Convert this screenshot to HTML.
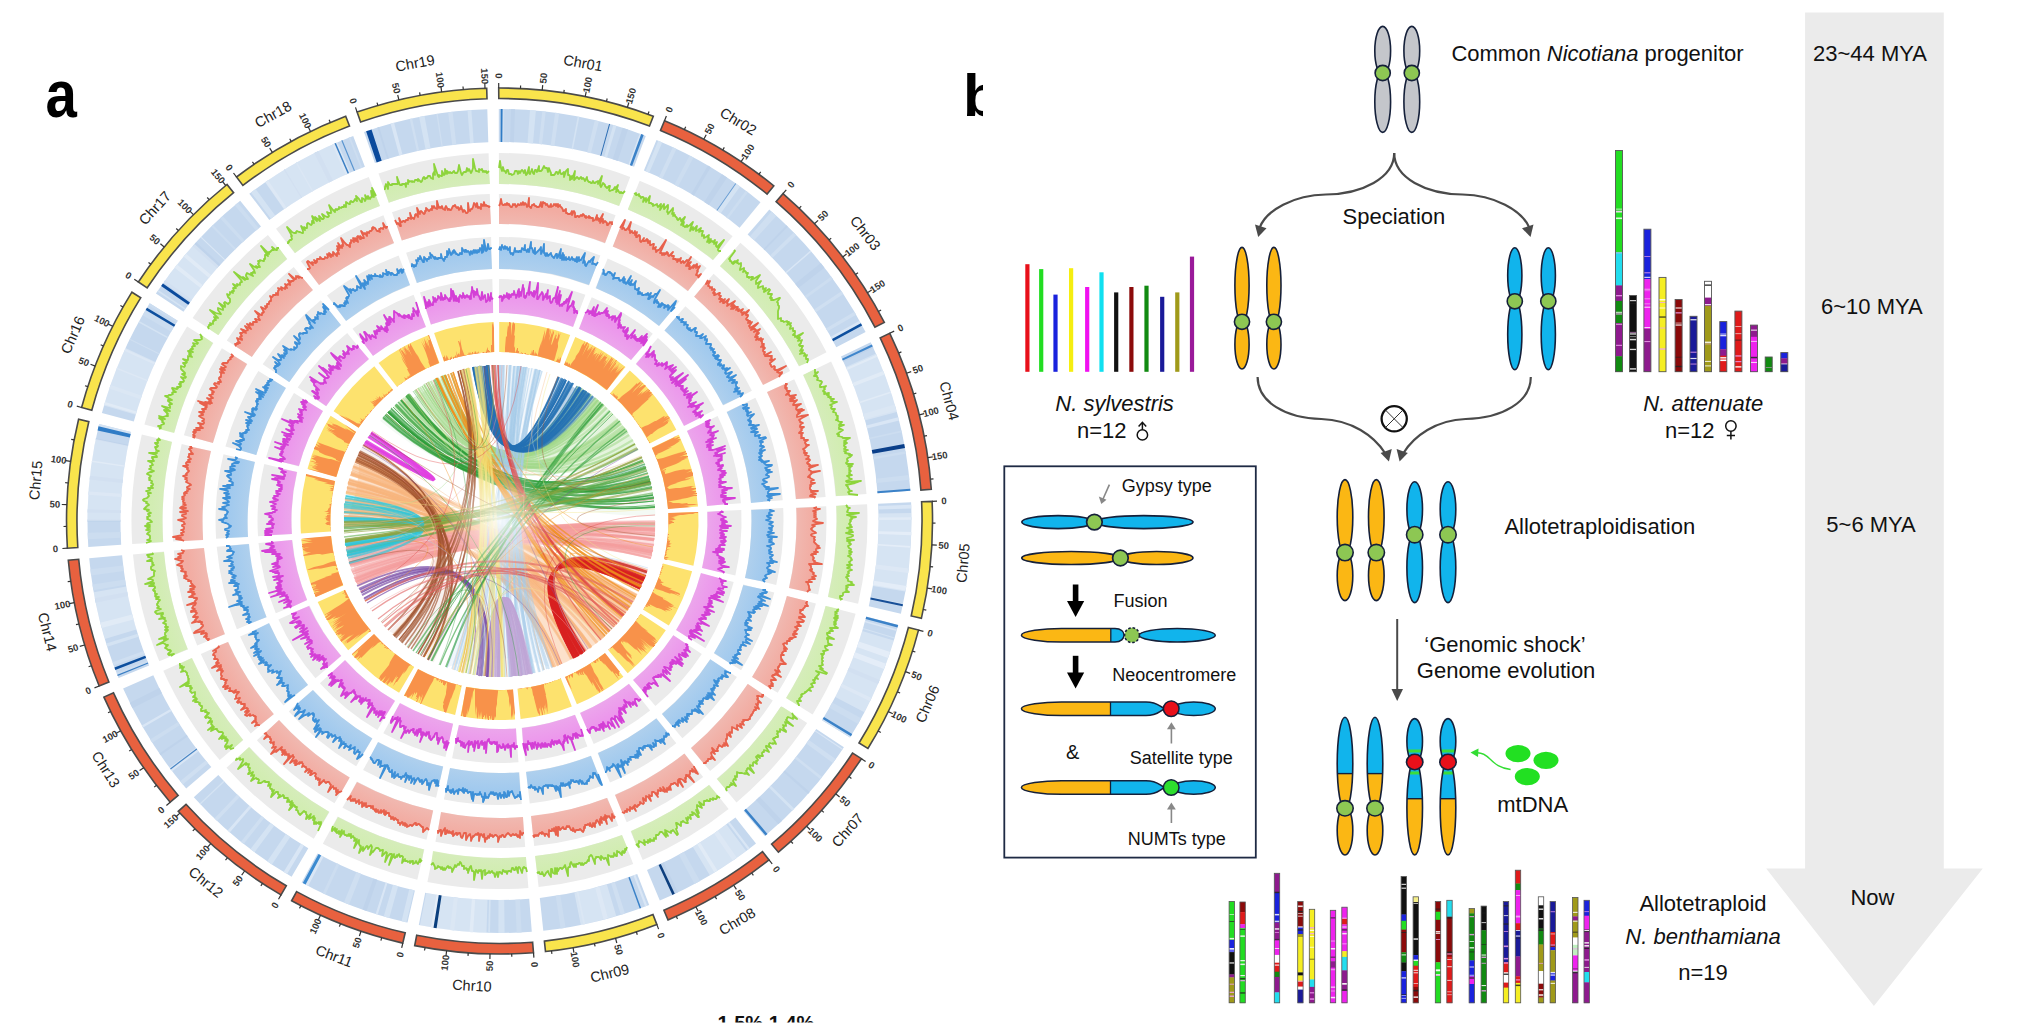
<!DOCTYPE html>
<html><head><meta charset="utf-8"><style>
html,body{margin:0;padding:0;background:#fff;}
body{width:2020px;height:1031px;overflow:hidden;}
svg{display:block;font-family:"Liberation Sans",sans-serif;}
.tk{font-size:9.5px;font-weight:bold;fill:#333;text-anchor:middle;}
.cl{font-size:14.5px;fill:#222;text-anchor:middle;}
</style></head><body>
<svg width="2020" height="1031" viewBox="0 0 2020 1031">
<defs><radialGradient id="tg0" gradientUnits="userSpaceOnUse" cx="499.5" cy="521" r="368"><stop offset="0.916" stop-color="#D0EDAE" stop-opacity="0.8"/><stop offset="0.966" stop-color="#D0EDAE"/></radialGradient><radialGradient id="tg1" gradientUnits="userSpaceOnUse" cx="499.5" cy="521" r="327"><stop offset="0.908" stop-color="#F2ACA2" stop-opacity="0.8"/><stop offset="0.963" stop-color="#F2ACA2"/></radialGradient><radialGradient id="tg2" gradientUnits="userSpaceOnUse" cx="499.5" cy="521" r="284"><stop offset="0.887" stop-color="#A0C9EE" stop-opacity="0.8"/><stop offset="0.955" stop-color="#A0C9EE"/></radialGradient><radialGradient id="tg3" gradientUnits="userSpaceOnUse" cx="499.5" cy="521" r="242"><stop offset="0.860" stop-color="#EC94EC" stop-opacity="0.8"/><stop offset="0.944" stop-color="#EC94EC"/></radialGradient><radialGradient id="glow"><stop offset="0" stop-color="#fff" stop-opacity="0.85"/><stop offset="1" stop-color="#fff" stop-opacity="0"/></radialGradient></defs>
<rect width="2020" height="1031" fill="#fff"/>
<path d="M498.7,88 A433,433 0 0 1 653.3,116.2 L649.5,126 A422.5,422.5 0 0 0 498.8,98.5 Z" fill="#F9E44C" stroke="#4a4a4a" stroke-width="1.6"/>
<line x1="498.7" y1="88" x2="498.7" y2="83" stroke="#333" stroke-width="1.2"/>
<text x="498.7" y="79.3" transform="rotate(-270.1 498.7 76)" class="tk">0</text>
<line x1="520.5" y1="88.5" x2="520.6" y2="85.5" stroke="#333" stroke-width="1.2"/>
<line x1="542.2" y1="90.1" x2="542.7" y2="85.1" stroke="#333" stroke-width="1.2"/>
<text x="543.4" y="81.5" transform="rotate(-84.3 543.4 78.2)" class="tk">50</text>
<line x1="563.8" y1="92.8" x2="564.2" y2="89.8" stroke="#333" stroke-width="1.2"/>
<line x1="585.2" y1="96.6" x2="586.2" y2="91.7" stroke="#333" stroke-width="1.2"/>
<text x="587.6" y="88.1" transform="rotate(-78.6 587.6 84.8)" class="tk">100</text>
<line x1="606.5" y1="101.4" x2="607.2" y2="98.5" stroke="#333" stroke-width="1.2"/>
<line x1="627.4" y1="107.3" x2="628.9" y2="102.5" stroke="#333" stroke-width="1.2"/>
<text x="630.9" y="99.2" transform="rotate(-72.8 630.9 95.9)" class="tk">150</text>
<line x1="648" y1="114.3" x2="649" y2="111.5" stroke="#333" stroke-width="1.2"/>
<text x="583.1" y="68.1" transform="rotate(10.3 583.1 63.1)" class="cl">Chr01</text>
<path d="M664.5,120.7 A433,433 0 0 1 773.8,185.9 L767.1,194.1 A422.5,422.5 0 0 0 660.5,130.4 Z" fill="#E8613F" stroke="#4a4a4a" stroke-width="1.6"/>
<line x1="664.5" y1="120.7" x2="666.4" y2="116" stroke="#333" stroke-width="1.2"/>
<text x="669.1" y="112.9" transform="rotate(-67.6 669.1 109.6)" class="tk">0</text>
<line x1="684.4" y1="129.5" x2="685.7" y2="126.8" stroke="#333" stroke-width="1.2"/>
<line x1="703.8" y1="139.3" x2="706.2" y2="134.8" stroke="#333" stroke-width="1.2"/>
<text x="709.5" y="132" transform="rotate(-61.8 709.5 128.7)" class="tk">50</text>
<line x1="722.8" y1="150" x2="724.3" y2="147.4" stroke="#333" stroke-width="1.2"/>
<line x1="741.1" y1="161.7" x2="743.9" y2="157.5" stroke="#333" stroke-width="1.2"/>
<text x="747.8" y="155" transform="rotate(-56.1 747.8 151.7)" class="tk">100</text>
<line x1="758.9" y1="174.3" x2="760.7" y2="171.9" stroke="#333" stroke-width="1.2"/>
<text x="738.2" y="126.4" transform="rotate(30.9 738.2 121.4)" class="cl">Chr02</text>
<path d="M783,193.7 A433,433 0 0 1 884.3,322.4 L874.9,327.2 A422.5,422.5 0 0 0 776.1,201.7 Z" fill="#E8613F" stroke="#4a4a4a" stroke-width="1.6"/>
<line x1="783" y1="193.7" x2="786.3" y2="189.9" stroke="#333" stroke-width="1.2"/>
<text x="790.9" y="187.9" transform="rotate(-49.1 790.9 184.6)" class="tk">0</text>
<line x1="799.1" y1="208.4" x2="801.2" y2="206.2" stroke="#333" stroke-width="1.2"/>
<line x1="814.4" y1="223.8" x2="818.1" y2="220.4" stroke="#333" stroke-width="1.2"/>
<text x="823.1" y="218.9" transform="rotate(-43.3 823.1 215.6)" class="tk">50</text>
<line x1="829" y1="240" x2="831.2" y2="238.1" stroke="#333" stroke-width="1.2"/>
<line x1="842.7" y1="256.9" x2="846.6" y2="253.9" stroke="#333" stroke-width="1.2"/>
<text x="852.2" y="252.9" transform="rotate(-37.6 852.2 249.6)" class="tk">100</text>
<line x1="855.5" y1="274.5" x2="858" y2="272.8" stroke="#333" stroke-width="1.2"/>
<line x1="867.4" y1="292.7" x2="871.7" y2="290.1" stroke="#333" stroke-width="1.2"/>
<text x="877.6" y="289.7" transform="rotate(-31.8 877.6 286.4)" class="tk">150</text>
<line x1="878.4" y1="311.5" x2="881.1" y2="310" stroke="#333" stroke-width="1.2"/>
<text x="865.3" y="238.1" transform="rotate(51.8 865.3 233.1)" class="cl">Chr03</text>
<path d="M889.7,333.2 A433,433 0 0 1 931.3,489.3 L920.9,490.1 A422.5,422.5 0 0 0 880.2,337.8 Z" fill="#E8613F" stroke="#4a4a4a" stroke-width="1.6"/>
<line x1="889.7" y1="333.2" x2="894.2" y2="331.1" stroke="#333" stroke-width="1.2"/>
<text x="900.5" y="331.3" transform="rotate(-25.7 900.5 328)" class="tk">0</text>
<line x1="898.6" y1="353.1" x2="901.4" y2="351.9" stroke="#333" stroke-width="1.2"/>
<line x1="906.5" y1="373.3" x2="911.2" y2="371.6" stroke="#333" stroke-width="1.2"/>
<text x="917.8" y="372.5" transform="rotate(-19.9 917.8 369.2)" class="tk">50</text>
<line x1="913.4" y1="394" x2="916.3" y2="393.1" stroke="#333" stroke-width="1.2"/>
<line x1="919.3" y1="414.9" x2="924.2" y2="413.7" stroke="#333" stroke-width="1.2"/>
<text x="930.9" y="415.3" transform="rotate(-14.2 930.9 412)" class="tk">100</text>
<line x1="924.1" y1="436.2" x2="927" y2="435.6" stroke="#333" stroke-width="1.2"/>
<line x1="927.8" y1="457.6" x2="932.8" y2="456.9" stroke="#333" stroke-width="1.2"/>
<text x="939.7" y="459.1" transform="rotate(-8.4 939.7 455.8)" class="tk">150</text>
<line x1="930.5" y1="479.2" x2="933.5" y2="478.9" stroke="#333" stroke-width="1.2"/>
<text x="949.2" y="405.9" transform="rotate(75 949.2 400.9)" class="cl">Chr04</text>
<path d="M932.1,501.4 A433,433 0 0 1 921.4,618.4 L911.2,616 A422.5,422.5 0 0 0 921.6,501.8 Z" fill="#F9E44C" stroke="#4a4a4a" stroke-width="1.6"/>
<line x1="932.1" y1="501.4" x2="937" y2="501.1" stroke="#333" stroke-width="1.2"/>
<text x="944" y="504.1" transform="rotate(-2.6 944 500.8)" class="tk">0</text>
<line x1="932.5" y1="523.1" x2="935.5" y2="523.1" stroke="#333" stroke-width="1.2"/>
<line x1="931.8" y1="544.9" x2="936.8" y2="545.1" stroke="#333" stroke-width="1.2"/>
<text x="943.8" y="548.8" transform="rotate(3.2 943.8 545.5)" class="tk">50</text>
<line x1="930.1" y1="566.6" x2="933.1" y2="566.9" stroke="#333" stroke-width="1.2"/>
<line x1="927.3" y1="588.1" x2="932.2" y2="588.9" stroke="#333" stroke-width="1.2"/>
<text x="939.1" y="593.3" transform="rotate(8.9 939.1 590)" class="tk">100</text>
<line x1="923.3" y1="609.5" x2="926.3" y2="610.2" stroke="#333" stroke-width="1.2"/>
<text x="963.1" y="568.2" transform="rotate(-84.8 963.1 563.2)" class="cl">Chr05</text>
<path d="M918.5,630.1 A433,433 0 0 1 867.9,748.5 L859,743 A422.5,422.5 0 0 0 908.4,627.5 Z" fill="#F9E44C" stroke="#4a4a4a" stroke-width="1.6"/>
<line x1="918.5" y1="630.1" x2="923.4" y2="631.4" stroke="#333" stroke-width="1.2"/>
<text x="930.1" y="636.5" transform="rotate(14.6 930.1 633.2)" class="tk">0</text>
<line x1="912.5" y1="651.1" x2="915.4" y2="652" stroke="#333" stroke-width="1.2"/>
<line x1="905.4" y1="671.6" x2="910.1" y2="673.4" stroke="#333" stroke-width="1.2"/>
<text x="916.7" y="679.1" transform="rotate(20.4 916.7 675.8)" class="tk">50</text>
<line x1="897.4" y1="691.9" x2="900.1" y2="693" stroke="#333" stroke-width="1.2"/>
<line x1="888.3" y1="711.6" x2="892.8" y2="713.8" stroke="#333" stroke-width="1.2"/>
<text x="899.1" y="720.2" transform="rotate(26.1 899.1 716.9)" class="tk">100</text>
<line x1="878.2" y1="730.9" x2="880.8" y2="732.4" stroke="#333" stroke-width="1.2"/>
<text x="927.5" y="709" transform="rotate(-66.8 927.5 704)" class="cl">Chr06</text>
<path d="M861.4,758.7 A433,433 0 0 1 778.4,852.2 L771.6,844.2 A422.5,422.5 0 0 0 852.6,753 Z" fill="#E8613F" stroke="#4a4a4a" stroke-width="1.6"/>
<line x1="861.4" y1="758.7" x2="865.6" y2="761.5" stroke="#333" stroke-width="1.2"/>
<text x="871.4" y="768.6" transform="rotate(33.3 871.4 765.3)" class="tk">0</text>
<line x1="849" y1="776.6" x2="851.4" y2="778.4" stroke="#333" stroke-width="1.2"/>
<line x1="835.7" y1="793.8" x2="839.6" y2="797" stroke="#333" stroke-width="1.2"/>
<text x="845" y="804.7" transform="rotate(39.1 845 801.4)" class="tk">50</text>
<line x1="821.6" y1="810.4" x2="823.8" y2="812.4" stroke="#333" stroke-width="1.2"/>
<line x1="806.6" y1="826.2" x2="810.2" y2="829.7" stroke="#333" stroke-width="1.2"/>
<text x="815.1" y="838" transform="rotate(44.8 815.1 834.7)" class="tk">100</text>
<line x1="790.9" y1="841.3" x2="792.9" y2="843.5" stroke="#333" stroke-width="1.2"/>
<text x="847.6" y="835.1" transform="rotate(-48.4 847.6 830.1)" class="cl">Chr07</text>
<path d="M769,859.9 A433,433 0 0 1 668,919.9 L663.9,910.2 A422.5,422.5 0 0 0 762.5,851.7 Z" fill="#E8613F" stroke="#4a4a4a" stroke-width="1.6"/>
<line x1="769" y1="859.9" x2="772.2" y2="863.8" stroke="#333" stroke-width="1.2"/>
<text x="776.5" y="872.6" transform="rotate(51.5 776.5 869.3)" class="tk">0</text>
<line x1="751.7" y1="873" x2="753.4" y2="875.4" stroke="#333" stroke-width="1.2"/>
<line x1="733.7" y1="885.2" x2="736.4" y2="889.4" stroke="#333" stroke-width="1.2"/>
<text x="740.2" y="898.6" transform="rotate(57.3 740.2 895.3)" class="tk">50</text>
<line x1="715.1" y1="896.5" x2="716.6" y2="899.1" stroke="#333" stroke-width="1.2"/>
<line x1="695.9" y1="906.9" x2="698.2" y2="911.3" stroke="#333" stroke-width="1.2"/>
<text x="701.4" y="920.9" transform="rotate(63 701.4 917.6)" class="tk">100</text>
<line x1="676.3" y1="916.3" x2="677.5" y2="919" stroke="#333" stroke-width="1.2"/>
<text x="737.2" y="926.3" transform="rotate(-30.7 737.2 921.3)" class="cl">Chr08</text>
<path d="M656.8,924.4 A433,433 0 0 1 545.5,951.5 L544.4,941.1 A422.5,422.5 0 0 0 653,914.6 Z" fill="#F9E44C" stroke="#4a4a4a" stroke-width="1.6"/>
<line x1="656.8" y1="924.4" x2="658.6" y2="929.1" stroke="#333" stroke-width="1.2"/>
<text x="661.1" y="938.9" transform="rotate(68.7 661.1 935.6)" class="tk">0</text>
<line x1="636.3" y1="931.8" x2="637.3" y2="934.7" stroke="#333" stroke-width="1.2"/>
<line x1="615.5" y1="938.2" x2="616.8" y2="943" stroke="#333" stroke-width="1.2"/>
<text x="618.7" y="953" transform="rotate(74.5 618.7 949.7)" class="tk">50</text>
<line x1="594.4" y1="943.5" x2="595.1" y2="946.4" stroke="#333" stroke-width="1.2"/>
<line x1="573.1" y1="947.7" x2="573.9" y2="952.6" stroke="#333" stroke-width="1.2"/>
<text x="575.1" y="962.8" transform="rotate(80.2 575.1 959.5)" class="tk">100</text>
<line x1="551.5" y1="950.9" x2="551.9" y2="953.8" stroke="#333" stroke-width="1.2"/>
<text x="609.7" y="978.3" transform="rotate(-13.7 609.7 973.3)" class="cl">Chr09</text>
<path d="M533.5,952.7 A433,433 0 0 1 414.7,945.6 L416.7,935.3 A422.5,422.5 0 0 0 532.6,942.2 Z" fill="#E8613F" stroke="#4a4a4a" stroke-width="1.6"/>
<line x1="533.5" y1="952.7" x2="533.9" y2="957.6" stroke="#333" stroke-width="1.2"/>
<text x="534.4" y="967.9" transform="rotate(85.5 534.4 964.6)" class="tk">0</text>
<line x1="511.7" y1="953.8" x2="511.8" y2="956.8" stroke="#333" stroke-width="1.2"/>
<line x1="490" y1="953.9" x2="489.9" y2="958.9" stroke="#333" stroke-width="1.2"/>
<text x="489.7" y="969.2" transform="rotate(-88.7 489.7 965.9)" class="tk">50</text>
<line x1="468.2" y1="952.9" x2="468" y2="955.9" stroke="#333" stroke-width="1.2"/>
<line x1="446.6" y1="950.8" x2="446" y2="955.7" stroke="#333" stroke-width="1.2"/>
<text x="445.1" y="966" transform="rotate(-83 445.1 962.7)" class="tk">100</text>
<line x1="425.1" y1="947.6" x2="424.5" y2="950.5" stroke="#333" stroke-width="1.2"/>
<text x="471.9" y="990.7" transform="rotate(3.4 471.9 985.7)" class="cl">Chr10</text>
<path d="M402.8,943.1 A433,433 0 0 1 291.6,900.8 L296.6,891.6 A422.5,422.5 0 0 0 405.2,932.8 Z" fill="#E8613F" stroke="#4a4a4a" stroke-width="1.6"/>
<line x1="402.8" y1="943.1" x2="401.7" y2="947.9" stroke="#333" stroke-width="1.2"/>
<text x="400.2" y="958.1" transform="rotate(-77.1 400.2 954.8)" class="tk">0</text>
<line x1="381.7" y1="937.7" x2="380.9" y2="940.6" stroke="#333" stroke-width="1.2"/>
<line x1="361" y1="931.2" x2="359.4" y2="936" stroke="#333" stroke-width="1.2"/>
<text x="357.1" y="945.9" transform="rotate(-71.3 357.1 942.6)" class="tk">50</text>
<line x1="340.5" y1="923.8" x2="339.4" y2="926.6" stroke="#333" stroke-width="1.2"/>
<line x1="320.5" y1="915.3" x2="318.4" y2="919.8" stroke="#333" stroke-width="1.2"/>
<text x="315.5" y="929.5" transform="rotate(-65.6 315.5 926.2)" class="tk">100</text>
<line x1="300.9" y1="905.8" x2="299.5" y2="908.4" stroke="#333" stroke-width="1.2"/>
<text x="334.2" y="961.2" transform="rotate(20.8 334.2 956.2)" class="cl">Chr11</text>
<path d="M281,894.9 A433,433 0 0 1 178.2,811.3 L186,804.3 A422.5,422.5 0 0 0 286.3,885.8 Z" fill="#E8613F" stroke="#4a4a4a" stroke-width="1.6"/>
<line x1="281" y1="894.9" x2="278.5" y2="899.2" stroke="#333" stroke-width="1.2"/>
<text x="275" y="908.5" transform="rotate(-59.7 275 905.2)" class="tk">0</text>
<line x1="262.5" y1="883.4" x2="260.9" y2="885.9" stroke="#333" stroke-width="1.2"/>
<line x1="244.6" y1="871" x2="241.7" y2="875.1" stroke="#333" stroke-width="1.2"/>
<text x="237.6" y="884" transform="rotate(-53.9 237.6 880.7)" class="tk">50</text>
<line x1="227.4" y1="857.8" x2="225.5" y2="860.1" stroke="#333" stroke-width="1.2"/>
<line x1="210.8" y1="843.7" x2="207.4" y2="847.4" stroke="#333" stroke-width="1.2"/>
<text x="202.8" y="855.9" transform="rotate(-48.2 202.8 852.6)" class="tk">100</text>
<line x1="194.9" y1="828.8" x2="192.8" y2="830.9" stroke="#333" stroke-width="1.2"/>
<line x1="179.9" y1="813.1" x2="176.2" y2="816.5" stroke="#333" stroke-width="1.2"/>
<text x="171" y="824.5" transform="rotate(-42.4 171 821.2)" class="tk">150</text>
<text x="205.9" y="887.2" transform="rotate(39.1 205.9 882.2)" class="cl">Chr12</text>
<path d="M170.2,802.2 A433,433 0 0 1 103.9,697.1 L113.5,692.8 A422.5,422.5 0 0 0 178.2,795.4 Z" fill="#E8613F" stroke="#4a4a4a" stroke-width="1.6"/>
<line x1="170.2" y1="802.2" x2="166.4" y2="805.5" stroke="#333" stroke-width="1.2"/>
<text x="161.1" y="813.3" transform="rotate(-40.5 161.1 810)" class="tk">0</text>
<line x1="156.5" y1="785.3" x2="154.2" y2="787.1" stroke="#333" stroke-width="1.2"/>
<line x1="143.7" y1="767.7" x2="139.6" y2="770.6" stroke="#333" stroke-width="1.2"/>
<text x="133.8" y="777.9" transform="rotate(-34.7 133.8 774.6)" class="tk">50</text>
<line x1="131.7" y1="749.6" x2="129.2" y2="751.1" stroke="#333" stroke-width="1.2"/>
<line x1="120.7" y1="730.8" x2="116.3" y2="733.2" stroke="#333" stroke-width="1.2"/>
<text x="110.2" y="739.9" transform="rotate(-29 110.2 736.6)" class="tk">100</text>
<line x1="110.7" y1="711.5" x2="108" y2="712.8" stroke="#333" stroke-width="1.2"/>
<text x="105.8" y="774.4" transform="rotate(57.8 105.8 769.4)" class="cl">Chr13</text>
<path d="M99.2,686 A433,433 0 0 1 68.3,560.2 L78.7,559.3 A422.5,422.5 0 0 0 108.9,682 Z" fill="#E8613F" stroke="#4a4a4a" stroke-width="1.6"/>
<line x1="99.2" y1="686" x2="94.5" y2="687.9" stroke="#333" stroke-width="1.2"/>
<text x="88.1" y="693.9" transform="rotate(-22.4 88.1 690.6)" class="tk">0</text>
<line x1="91.4" y1="665.7" x2="88.6" y2="666.7" stroke="#333" stroke-width="1.2"/>
<line x1="84.6" y1="645" x2="79.8" y2="646.4" stroke="#333" stroke-width="1.2"/>
<text x="73.1" y="651.7" transform="rotate(-16.6 73.1 648.4)" class="tk">50</text>
<line x1="78.9" y1="624" x2="76" y2="624.7" stroke="#333" stroke-width="1.2"/>
<line x1="74.3" y1="602.7" x2="69.4" y2="603.7" stroke="#333" stroke-width="1.2"/>
<text x="62.5" y="608.3" transform="rotate(-10.9 62.5 605)" class="tk">100</text>
<line x1="70.7" y1="581.3" x2="67.7" y2="581.7" stroke="#333" stroke-width="1.2"/>
<text x="47.4" y="637" transform="rotate(76.2 47.4 632)" class="cl">Chr14</text>
<path d="M67.4,548.2 A433,433 0 0 1 78.6,419.2 L88.8,421.7 A422.5,422.5 0 0 0 77.8,547.5 Z" fill="#F9E44C" stroke="#4a4a4a" stroke-width="1.6"/>
<line x1="67.4" y1="548.2" x2="62.4" y2="548.5" stroke="#333" stroke-width="1.2"/>
<text x="55.4" y="552.2" transform="rotate(-3.6 55.4 548.9)" class="tk">0</text>
<line x1="66.5" y1="526.4" x2="63.5" y2="526.5" stroke="#333" stroke-width="1.2"/>
<line x1="66.8" y1="504.7" x2="61.8" y2="504.5" stroke="#333" stroke-width="1.2"/>
<text x="54.8" y="507.5" transform="rotate(2.2 54.8 504.2)" class="tk">50</text>
<line x1="68.2" y1="483" x2="65.2" y2="482.7" stroke="#333" stroke-width="1.2"/>
<line x1="70.6" y1="461.3" x2="65.7" y2="460.6" stroke="#333" stroke-width="1.2"/>
<text x="58.7" y="463" transform="rotate(7.9 58.7 459.7)" class="tk">100</text>
<line x1="74.2" y1="439.9" x2="71.2" y2="439.3" stroke="#333" stroke-width="1.2"/>
<text x="35.8" y="485.4" transform="rotate(275 35.8 480.4)" class="cl">Chr15</text>
<path d="M81.6,407.5 A433,433 0 0 1 131.9,292.2 L140.8,297.7 A422.5,422.5 0 0 0 91.8,410.2 Z" fill="#F9E44C" stroke="#4a4a4a" stroke-width="1.6"/>
<line x1="81.6" y1="407.5" x2="76.8" y2="406.2" stroke="#333" stroke-width="1.2"/>
<text x="70.1" y="407.6" transform="rotate(15.2 70.1 404.3)" class="tk">0</text>
<line x1="87.9" y1="386.6" x2="85" y2="385.7" stroke="#333" stroke-width="1.2"/>
<line x1="95.2" y1="366.1" x2="90.5" y2="364.3" stroke="#333" stroke-width="1.2"/>
<text x="83.9" y="365.1" transform="rotate(21 83.9 361.8)" class="tk">50</text>
<line x1="103.4" y1="346" x2="100.7" y2="344.8" stroke="#333" stroke-width="1.2"/>
<line x1="112.7" y1="326.3" x2="108.3" y2="324.1" stroke="#333" stroke-width="1.2"/>
<text x="102" y="324.2" transform="rotate(26.7 102 320.9)" class="tk">100</text>
<line x1="123" y1="307.1" x2="120.4" y2="305.6" stroke="#333" stroke-width="1.2"/>
<text x="72.8" y="340" transform="rotate(293.5 72.8 335)" class="cl">Chr16</text>
<path d="M138.4,282 A433,433 0 0 1 227,184.5 L233.6,192.7 A422.5,422.5 0 0 0 147.2,287.8 Z" fill="#F9E44C" stroke="#4a4a4a" stroke-width="1.6"/>
<line x1="138.4" y1="282" x2="134.3" y2="279.3" stroke="#333" stroke-width="1.2"/>
<text x="128.4" y="278.7" transform="rotate(33.5 128.4 275.4)" class="tk">0</text>
<line x1="150.9" y1="264.2" x2="148.5" y2="262.4" stroke="#333" stroke-width="1.2"/>
<line x1="164.2" y1="247" x2="160.4" y2="243.8" stroke="#333" stroke-width="1.2"/>
<text x="154.9" y="242.7" transform="rotate(39.3 154.9 239.4)" class="tk">50</text>
<line x1="178.4" y1="230.5" x2="176.2" y2="228.5" stroke="#333" stroke-width="1.2"/>
<line x1="193.4" y1="214.7" x2="189.9" y2="211.2" stroke="#333" stroke-width="1.2"/>
<text x="184.9" y="209.5" transform="rotate(45 184.9 206.2)" class="tk">100</text>
<line x1="209.2" y1="199.7" x2="207.2" y2="197.5" stroke="#333" stroke-width="1.2"/>
<line x1="225.7" y1="185.5" x2="222.6" y2="181.7" stroke="#333" stroke-width="1.2"/>
<text x="218.1" y="179.5" transform="rotate(50.8 218.1 176.2)" class="tk">150</text>
<text x="154.9" y="213" transform="rotate(312.2 154.9 208)" class="cl">Chr17</text>
<path d="M236.5,177 A433,433 0 0 1 345.7,116.2 L349.5,126 A422.5,422.5 0 0 0 242.9,185.4 Z" fill="#F9E44C" stroke="#4a4a4a" stroke-width="1.6"/>
<line x1="236.5" y1="177" x2="233.5" y2="173" stroke="#333" stroke-width="1.2"/>
<text x="229.2" y="170.8" transform="rotate(52.6 229.2 167.5)" class="tk">0</text>
<line x1="254.1" y1="164.2" x2="252.4" y2="161.8" stroke="#333" stroke-width="1.2"/>
<line x1="272.4" y1="152.4" x2="269.7" y2="148.1" stroke="#333" stroke-width="1.2"/>
<text x="266.1" y="145.4" transform="rotate(58.4 266.1 142.1)" class="tk">50</text>
<line x1="291.2" y1="141.4" x2="289.7" y2="138.8" stroke="#333" stroke-width="1.2"/>
<line x1="310.5" y1="131.4" x2="308.3" y2="126.9" stroke="#333" stroke-width="1.2"/>
<text x="305.3" y="123.9" transform="rotate(64.1 305.3 120.6)" class="tk">100</text>
<line x1="330.3" y1="122.4" x2="329.1" y2="119.7" stroke="#333" stroke-width="1.2"/>
<text x="273.1" y="119.3" transform="rotate(330.9 273.1 114.3)" class="cl">Chr18</text>
<path d="M357.1,112.1 A433,433 0 0 1 486.7,88.2 L487,98.7 A422.5,422.5 0 0 0 360.6,122 Z" fill="#F9E44C" stroke="#4a4a4a" stroke-width="1.6"/>
<line x1="357.1" y1="112.1" x2="355.5" y2="107.4" stroke="#333" stroke-width="1.2"/>
<text x="353.2" y="104.1" transform="rotate(70.8 353.2 100.8)" class="tk">0</text>
<line x1="377.8" y1="105.4" x2="377" y2="102.6" stroke="#333" stroke-width="1.2"/>
<line x1="398.9" y1="99.9" x2="397.7" y2="95" stroke="#333" stroke-width="1.2"/>
<text x="396.1" y="91.5" transform="rotate(76.6 396.1 88.2)" class="tk">50</text>
<line x1="420.1" y1="95.3" x2="419.6" y2="92.4" stroke="#333" stroke-width="1.2"/>
<line x1="441.6" y1="91.9" x2="441" y2="86.9" stroke="#333" stroke-width="1.2"/>
<text x="440" y="83.3" transform="rotate(82.3 440 80)" class="tk">100</text>
<line x1="463.3" y1="89.5" x2="463" y2="86.5" stroke="#333" stroke-width="1.2"/>
<line x1="485" y1="88.2" x2="484.8" y2="83.2" stroke="#333" stroke-width="1.2"/>
<text x="484.6" y="79.5" transform="rotate(88.1 484.6 76.2)" class="tk">150</text>
<text x="415.1" y="68.2" transform="rotate(349.6 415.1 63.2)" class="cl">Chr19</text>
<g fill="#C5D8EE">
<path d="M498.8,109 A412,412 0 0 1 645.8,135.9 L634.1,166.7 A379,379 0 0 0 498.8,142 Z"/>
<path d="M656.5,140.1 A412,412 0 0 1 760.5,202.2 L739.6,227.7 A379,379 0 0 0 643.9,170.6 Z"/>
<path d="M769.3,209.6 A412,412 0 0 1 865.6,332 L836.3,347.2 A379,379 0 0 0 747.6,234.5 Z"/>
<path d="M870.7,342.3 A412,412 0 0 1 910.4,490.8 L877.5,493.2 A379,379 0 0 0 841,356.6 Z"/>
<path d="M911.1,502.3 A412,412 0 0 1 900.9,613.7 L868.8,606.3 A379,379 0 0 0 878.1,503.8 Z"/>
<path d="M898.2,624.9 A412,412 0 0 1 850,737.5 L822,720.2 A379,379 0 0 0 866.3,616.5 Z"/>
<path d="M843.9,747.2 A412,412 0 0 1 764.9,836.1 L743.6,810.9 A379,379 0 0 0 816.3,729.1 Z"/>
<path d="M756,843.4 A412,412 0 0 1 659.8,900.5 L647,870.1 A379,379 0 0 0 735.4,817.6 Z"/>
<path d="M649.2,904.9 A412,412 0 0 1 543.3,930.7 L539.8,897.9 A379,379 0 0 0 637.2,874.1 Z"/>
<path d="M531.8,931.7 A412,412 0 0 1 418.8,925 L425.2,892.7 A379,379 0 0 0 529.2,898.8 Z"/>
<path d="M407.5,922.6 A412,412 0 0 1 301.6,882.4 L317.5,853.4 A379,379 0 0 0 414.9,890.4 Z"/>
<path d="M291.6,876.7 A412,412 0 0 1 193.8,797.2 L218.3,775.1 A379,379 0 0 0 308.3,848.2 Z"/>
<path d="M186.2,788.6 A412,412 0 0 1 123.1,688.6 L153.3,675.2 A379,379 0 0 0 211.3,767.1 Z"/>
<path d="M118.6,678 A412,412 0 0 1 89.2,558.3 L122.1,555.3 A379,379 0 0 0 149.1,665.4 Z"/>
<path d="M88.3,546.9 A412,412 0 0 1 99.1,424.1 L131.1,431.9 A379,379 0 0 0 121.2,544.8 Z"/>
<path d="M101.9,413 A412,412 0 0 1 149.7,303.3 L177.7,320.7 A379,379 0 0 0 133.8,421.6 Z"/>
<path d="M155.9,293.6 A412,412 0 0 1 240.2,200.8 L261,226.5 A379,379 0 0 0 183.5,311.8 Z"/>
<path d="M249.3,193.7 A412,412 0 0 1 353.2,135.9 L364.9,166.7 A379,379 0 0 0 269.3,219.9 Z"/>
<path d="M364,131.9 A412,412 0 0 1 487.3,109.2 L488.3,142.2 A379,379 0 0 0 374.9,163.1 Z"/>
</g>
<path d="M502.3,109 A412,412 0 0 1 504.2,109 L503.8,142 A379,379 0 0 0 502.1,142 Z" fill="#CFDFF1"/>
<path d="M511.1,109.2 A412,412 0 0 1 515,109.3 L513.8,142.3 A379,379 0 0 0 510.1,142.1 Z" fill="#BFD3EB"/>
<path d="M530,110.1 A412,412 0 0 1 535.9,110.6 L533,143.5 A379,379 0 0 0 527.5,143 Z" fill="#D4E3F3"/>
<path d="M542.3,111.2 A412,412 0 0 1 545.7,111.6 L542,144.4 A379,379 0 0 0 538.8,144 Z" fill="#CFDFF1"/>
<path d="M555.1,112.8 A412,412 0 0 1 559.2,113.3 L554.4,146 A379,379 0 0 0 550.7,145.5 Z" fill="#CFDFF1"/>
<path d="M577.7,116.5 A412,412 0 0 1 579.4,116.8 L573,149.2 A379,379 0 0 0 571.5,148.9 Z" fill="#D4E3F3"/>
<path d="M594.8,120.2 A412,412 0 0 1 598.9,121.2 L590.9,153.2 A379,379 0 0 0 587.2,152.3 Z" fill="#CFDFF1"/>
<path d="M613.3,125 A412,412 0 0 1 616.4,125.9 L607,157.6 A379,379 0 0 0 604.2,156.7 Z" fill="#D4E3F3"/>
<path d="M622.6,127.8 A412,412 0 0 1 628,129.6 L617.7,160.9 A379,379 0 0 0 612.7,159.3 Z" fill="#BFD3EB"/>
<path d="M639.7,133.6 A412,412 0 0 1 643.5,135 L631.9,165.9 A379,379 0 0 0 628.5,164.6 Z" fill="#D9E6F5"/>
<path d="M500.7,109 A412,412 0 0 1 502.6,109 L502.3,142 A379,379 0 0 0 500.6,142 Z" fill="#2f7cc6"/>
<path d="M609.1,123.8 A412,412 0 0 1 610.1,124.1 L601.2,155.9 A379,379 0 0 0 600.3,155.7 Z" fill="#2f6fb4"/>
<path d="M641.2,134.1 A412,412 0 0 1 643.7,135 L632.1,166 A379,379 0 0 0 629.9,165.1 Z" fill="#3b82c8"/>
<path d="M658.3,140.8 A412,412 0 0 1 662.2,142.5 L649.2,172.8 A379,379 0 0 0 645.6,171.3 Z" fill="#D4E3F3"/>
<path d="M672.8,147.2 A412,412 0 0 1 676.5,148.9 L662.3,178.7 A379,379 0 0 0 658.9,177.2 Z" fill="#CFDFF1"/>
<path d="M689.6,155.5 A412,412 0 0 1 693.5,157.5 L678,186.7 A379,379 0 0 0 674.4,184.8 Z" fill="#CCDDF0"/>
<path d="M707.9,165.6 A412,412 0 0 1 710.8,167.3 L693.9,195.7 A379,379 0 0 0 691.2,194.1 Z" fill="#BFD3EB"/>
<path d="M722,174.2 A412,412 0 0 1 727.1,177.5 L708.8,205.1 A379,379 0 0 0 704.2,202 Z" fill="#BFD3EB"/>
<path d="M735.7,183.5 A412,412 0 0 1 740.1,186.6 L720.8,213.3 A379,379 0 0 0 716.8,210.5 Z" fill="#D4E3F3"/>
<path d="M745.8,190.7 A412,412 0 0 1 748,192.3 L728.1,218.7 A379,379 0 0 0 726.1,217.2 Z" fill="#CCDDF0"/>
<path d="M735.4,183.2 A412,412 0 0 1 736.2,183.8 L717.3,210.8 A379,379 0 0 0 716.5,210.3 Z" fill="#6a9ed4"/>
<path d="M771.6,211.6 A412,412 0 0 1 776.3,215.9 L754.2,240.3 A379,379 0 0 0 749.8,236.4 Z" fill="#CFDFF1"/>
<path d="M786.4,225.3 A412,412 0 0 1 787.8,226.7 L764.8,250.3 A379,379 0 0 0 763.5,249 Z" fill="#BFD3EB"/>
<path d="M793.6,232.5 A412,412 0 0 1 796.2,235.2 L772.4,258 A379,379 0 0 0 770.1,255.6 Z" fill="#CFDFF1"/>
<path d="M810.4,250.6 A412,412 0 0 1 811.3,251.8 L786.4,273.3 A379,379 0 0 0 785.5,272.3 Z" fill="#D9E6F5"/>
<path d="M820.8,263.1 A412,412 0 0 1 824.4,267.7 L798.4,288 A379,379 0 0 0 795.1,283.8 Z" fill="#BFD3EB"/>
<path d="M831.2,276.6 A412,412 0 0 1 832.9,279 L806.2,298.3 A379,379 0 0 0 804.6,296.1 Z" fill="#CCDDF0"/>
<path d="M841.5,291.2 A412,412 0 0 1 843.4,294.1 L815.9,312.3 A379,379 0 0 0 814.1,309.6 Z" fill="#CFDFF1"/>
<path d="M854.4,311.7 A412,412 0 0 1 856.2,314.8 L827.6,331.3 A379,379 0 0 0 825.9,328.5 Z" fill="#CFDFF1"/>
<path d="M859.5,320.7 A412,412 0 0 1 861.9,324.9 L832.8,340.6 A379,379 0 0 0 830.7,336.7 Z" fill="#D9E6F5"/>
<path d="M860.9,323.3 A412,412 0 0 1 862.2,325.6 L833.1,341.2 A379,379 0 0 0 832,339.1 Z" fill="#0d4f9e"/>
<path d="M872.1,345.1 A412,412 0 0 1 873.4,348 L843.5,361.8 A379,379 0 0 0 842.2,359.2 Z" fill="#BFD3EB"/>
<path d="M875.9,353.5 A412,412 0 0 1 877.4,356.8 L847.1,369.9 A379,379 0 0 0 845.8,366.9 Z" fill="#D4E3F3"/>
<path d="M883.2,371 A412,412 0 0 1 884.6,374.5 L853.7,386.3 A379,379 0 0 0 852.5,383.1 Z" fill="#D4E3F3"/>
<path d="M890.6,391.4 A412,412 0 0 1 891.1,393.1 L859.8,403.3 A379,379 0 0 0 859.3,401.8 Z" fill="#D4E3F3"/>
<path d="M894.7,404.6 A412,412 0 0 1 896.4,410.4 L864.6,419.2 A379,379 0 0 0 863.1,413.9 Z" fill="#CCDDF0"/>
<path d="M898.2,417.2 A412,412 0 0 1 899.1,420.6 L867.1,428.6 A379,379 0 0 0 866.3,425.5 Z" fill="#D9E6F5"/>
<path d="M901.4,430.4 A412,412 0 0 1 901.8,432.2 L869.6,439.3 A379,379 0 0 0 869.2,437.7 Z" fill="#CCDDF0"/>
<path d="M905.6,451.3 A412,412 0 0 1 906,453.8 L873.4,459.2 A379,379 0 0 0 873,456.9 Z" fill="#CCDDF0"/>
<path d="M908.9,475 A412,412 0 0 1 909.4,479.7 L876.6,483 A379,379 0 0 0 876.1,478.7 Z" fill="#CCDDF0"/>
<path d="M876.4,354.7 A412,412 0 0 1 896.8,411.9 L865,420.6 A379,379 0 0 0 846.3,368 Z" fill="#fff" fill-opacity="0.3"/>
<path d="M871.8,344.6 A412,412 0 0 1 872.7,346.5 L842.8,360.5 A379,379 0 0 0 842,358.8 Z" fill="#3f86cc"/>
<path d="M904.2,443.9 A412,412 0 0 1 905,448 L872.5,453.8 A379,379 0 0 0 871.8,450 Z" fill="#0a3f8a"/>
<path d="M910.2,488.7 A412,412 0 0 1 910.4,490.8 L877.5,493.2 A379,379 0 0 0 877.3,491.3 Z" fill="#3b82c8"/>
<path d="M911.2,504.8 A412,412 0 0 1 911.3,508.5 L878.3,509.5 A379,379 0 0 0 878.2,506.1 Z" fill="#D9E6F5"/>
<path d="M911.5,517.2 A412,412 0 0 1 911.5,519.8 L878.5,519.9 A379,379 0 0 0 878.5,517.5 Z" fill="#D4E3F3"/>
<path d="M911.3,532.1 A412,412 0 0 1 911.3,535.2 L878.3,534.1 A379,379 0 0 0 878.4,531.2 Z" fill="#D9E6F5"/>
<path d="M910.7,546 A412,412 0 0 1 910.6,547.7 L877.7,545.6 A379,379 0 0 0 877.8,544 Z" fill="#D9E6F5"/>
<path d="M908.8,568.4 A412,412 0 0 1 908.2,573 L875.5,568.8 A379,379 0 0 0 876,564.6 Z" fill="#CFDFF1"/>
<path d="M906.4,585.9 A412,412 0 0 1 905.4,591.5 L872.9,585.9 A379,379 0 0 0 873.8,580.7 Z" fill="#D9E6F5"/>
<path d="M903.2,603.3 A412,412 0 0 1 902.5,606.5 L870.3,599.6 A379,379 0 0 0 870.9,596.7 Z" fill="#CFDFF1"/>
<path d="M911.4,513 A412,412 0 0 1 905.6,590.5 L873.1,584.9 A379,379 0 0 0 878.4,513.6 Z" fill="#fff" fill-opacity="0.3"/>
<path d="M903,604.2 A412,412 0 0 1 902.6,606.3 L870.3,599.4 A379,379 0 0 0 870.7,597.6 Z" fill="#174f98"/>
<path d="M897,629.4 A412,412 0 0 1 896.5,631.1 L864.7,622.2 A379,379 0 0 0 865.1,620.8 Z" fill="#D9E6F5"/>
<path d="M894.7,637.4 A412,412 0 0 1 894.4,638.4 L862.8,629 A379,379 0 0 0 863.1,628.1 Z" fill="#D4E3F3"/>
<path d="M890.1,652 A412,412 0 0 1 888.1,657.9 L857,646.9 A379,379 0 0 0 858.8,641.5 Z" fill="#D9E6F5"/>
<path d="M886,663.7 A412,412 0 0 1 884,669.1 L853.2,657.2 A379,379 0 0 0 855.1,652.2 Z" fill="#D9E6F5"/>
<path d="M879.6,679.9 A412,412 0 0 1 877.9,684.1 L847.5,671 A379,379 0 0 0 849.2,667.2 Z" fill="#BFD3EB"/>
<path d="M871.5,698 A412,412 0 0 1 870,701.3 L840.3,686.8 A379,379 0 0 0 841.7,683.8 Z" fill="#CFDFF1"/>
<path d="M861.2,718.3 A412,412 0 0 1 858.1,723.9 L829.3,707.7 A379,379 0 0 0 832.2,702.5 Z" fill="#CCDDF0"/>
<path d="M851.3,735.5 A412,412 0 0 1 850,737.5 L822,720.2 A379,379 0 0 0 823.1,718.3 Z" fill="#D4E3F3"/>
<path d="M893.8,640.5 A412,412 0 0 1 864.4,712.3 L835.2,697 A379,379 0 0 0 862.2,630.9 Z" fill="#fff" fill-opacity="0.3"/>
<path d="M898.2,625 A412,412 0 0 1 897.5,627.5 L865.6,619 A379,379 0 0 0 866.2,616.7 Z" fill="#3b82c8"/>
<path d="M852.2,733.9 A412,412 0 0 1 850.9,736.2 L822.7,718.9 A379,379 0 0 0 824,716.9 Z" fill="#3b82c8"/>
<path d="M842.9,748.7 A412,412 0 0 1 842.2,749.7 L814.8,731.3 A379,379 0 0 0 815.4,730.4 Z" fill="#D9E6F5"/>
<path d="M835.7,759.1 A412,412 0 0 1 832.9,763 L806.2,743.6 A379,379 0 0 0 808.8,740 Z" fill="#CFDFF1"/>
<path d="M822.2,777.1 A412,412 0 0 1 820.5,779.2 L794.8,758.6 A379,379 0 0 0 796.4,756.6 Z" fill="#CFDFF1"/>
<path d="M809.8,792.1 A412,412 0 0 1 808.1,794 L783.4,772.1 A379,379 0 0 0 784.9,770.4 Z" fill="#BFD3EB"/>
<path d="M794.4,808.7 A412,412 0 0 1 792.3,810.8 L768.9,787.6 A379,379 0 0 0 770.8,785.7 Z" fill="#D4E3F3"/>
<path d="M782.2,820.7 A412,412 0 0 1 778.3,824.3 L756,800 A379,379 0 0 0 759.5,796.7 Z" fill="#BFD3EB"/>
<path d="M766.5,834.8 A412,412 0 0 1 764.9,836.1 L743.6,810.9 A379,379 0 0 0 745.1,809.7 Z" fill="#D4E3F3"/>
<path d="M767.5,833.9 A412,412 0 0 1 765.5,835.6 L744.2,810.4 A379,379 0 0 0 746,808.8 Z" fill="#3b82c8"/>
<path d="M749.7,848.3 A412,412 0 0 1 747.9,849.7 L728,823.4 A379,379 0 0 0 729.6,822.1 Z" fill="#D9E6F5"/>
<path d="M736.9,857.7 A412,412 0 0 1 732.8,860.6 L714.1,833.4 A379,379 0 0 0 717.9,830.8 Z" fill="#CFDFF1"/>
<path d="M717.5,870.6 A412,412 0 0 1 714.4,872.5 L697.2,844.3 A379,379 0 0 0 700.1,842.6 Z" fill="#D4E3F3"/>
<path d="M700,880.9 A412,412 0 0 1 694.5,883.9 L678.9,854.8 A379,379 0 0 0 683.9,852.1 Z" fill="#CCDDF0"/>
<path d="M678,892.3 A412,412 0 0 1 673.5,894.4 L659.6,864.5 A379,379 0 0 0 663.7,862.6 Z" fill="#BFD3EB"/>
<path d="M746.2,851 A412,412 0 0 1 709.8,875.3 L692.9,846.9 A379,379 0 0 0 726.4,824.6 Z" fill="#fff" fill-opacity="0.3"/>
<path d="M674.8,893.8 A412,412 0 0 1 672.4,894.9 L658.6,865 A379,379 0 0 0 660.8,864 Z" fill="#0d3f7e"/>
<path d="M647.2,905.6 A412,412 0 0 1 645.1,906.4 L633.5,875.5 A379,379 0 0 0 635.4,874.8 Z" fill="#D9E6F5"/>
<path d="M625,913.4 A412,412 0 0 1 620.8,914.7 L611.1,883.2 A379,379 0 0 0 614.9,882 Z" fill="#CFDFF1"/>
<path d="M608,918.5 A412,412 0 0 1 603.6,919.6 L595.2,887.7 A379,379 0 0 0 599.3,886.6 Z" fill="#CFDFF1"/>
<path d="M585.1,924 A412,412 0 0 1 583.4,924.4 L576.7,892.1 A379,379 0 0 0 578.3,891.7 Z" fill="#CCDDF0"/>
<path d="M565.6,927.7 A412,412 0 0 1 560.6,928.5 L555.7,895.8 A379,379 0 0 0 560.3,895.1 Z" fill="#CCDDF0"/>
<path d="M616.3,916.1 A412,412 0 0 1 580.8,924.9 L574.3,892.5 A379,379 0 0 0 606.9,884.5 Z" fill="#fff" fill-opacity="0.3"/>
<path d="M641.1,907.9 A412,412 0 0 1 639.7,908.4 L628.4,877.4 A379,379 0 0 0 629.8,876.9 Z" fill="#3b82c8"/>
<path d="M521.6,932.4 A412,412 0 0 1 516.7,932.6 L515.3,899.7 A379,379 0 0 0 519.9,899.5 Z" fill="#CCDDF0"/>
<path d="M504.6,933 A412,412 0 0 1 498.4,933 L498.5,900 A379,379 0 0 0 504.2,900 Z" fill="#D4E3F3"/>
<path d="M490,932.9 A412,412 0 0 1 488.2,932.8 L489.1,899.9 A379,379 0 0 0 490.7,899.9 Z" fill="#D4E3F3"/>
<path d="M473.1,932.2 A412,412 0 0 1 469.5,931.9 L471.9,899 A379,379 0 0 0 475.2,899.2 Z" fill="#D4E3F3"/>
<path d="M454.2,930.5 A412,412 0 0 1 449.9,930 L453.9,897.2 A379,379 0 0 0 457.8,897.7 Z" fill="#CCDDF0"/>
<path d="M433.9,927.7 A412,412 0 0 1 431,927.3 L436.5,894.7 A379,379 0 0 0 439.2,895.2 Z" fill="#D9E6F5"/>
<path d="M486.5,932.8 A412,412 0 0 1 419.9,925.2 L426.2,892.9 A379,379 0 0 0 487.5,899.8 Z" fill="#fff" fill-opacity="0.3"/>
<path d="M436.6,928.2 A412,412 0 0 1 433.5,927.7 L438.8,895.1 A379,379 0 0 0 441.6,895.6 Z" fill="#0a3f7e"/>
<path d="M406.4,922.4 A412,412 0 0 1 401.5,921.2 L409.3,889.1 A379,379 0 0 0 413.9,890.2 Z" fill="#D4E3F3"/>
<path d="M389.3,918 A412,412 0 0 1 383.7,916.4 L393,884.7 A379,379 0 0 0 398.1,886.2 Z" fill="#D4E3F3"/>
<path d="M377.8,914.6 A412,412 0 0 1 375.6,913.9 L385.6,882.5 A379,379 0 0 0 387.5,883.1 Z" fill="#D9E6F5"/>
<path d="M366.6,911 A412,412 0 0 1 362.6,909.6 L373.5,878.4 A379,379 0 0 0 377.2,879.7 Z" fill="#BFD3EB"/>
<path d="M349.1,904.6 A412,412 0 0 1 343.9,902.5 L356.4,871.9 A379,379 0 0 0 361.1,873.8 Z" fill="#CFDFF1"/>
<path d="M325.4,894.4 A412,412 0 0 1 322.7,893.2 L336.9,863.3 A379,379 0 0 0 339.4,864.5 Z" fill="#CCDDF0"/>
<path d="M308.2,885.9 A412,412 0 0 1 303.4,883.3 L319.1,854.3 A379,379 0 0 0 323.5,856.7 Z" fill="#D9E6F5"/>
<path d="M305.6,884.5 A412,412 0 0 1 302.8,883 L318.6,854 A379,379 0 0 0 321.1,855.4 Z" fill="#3b8ad0"/>
<path d="M287,874 A412,412 0 0 1 283.6,871.9 L300.9,843.8 A379,379 0 0 0 304,845.7 Z" fill="#D9E6F5"/>
<path d="M272,864.5 A412,412 0 0 1 267.2,861.2 L285.8,834 A379,379 0 0 0 290.2,837 Z" fill="#D4E3F3"/>
<path d="M254.6,852.3 A412,412 0 0 1 250.4,849.2 L270.4,822.9 A379,379 0 0 0 274.2,825.8 Z" fill="#D4E3F3"/>
<path d="M243.7,844 A412,412 0 0 1 240.9,841.7 L261.6,816 A379,379 0 0 0 264.2,818.1 Z" fill="#CFDFF1"/>
<path d="M229.7,832.4 A412,412 0 0 1 227.6,830.5 L249.3,805.7 A379,379 0 0 0 251.3,807.4 Z" fill="#D9E6F5"/>
<path d="M217.1,821 A412,412 0 0 1 214.4,818.5 L237.3,794.6 A379,379 0 0 0 239.7,797 Z" fill="#CFDFF1"/>
<path d="M200.5,804.5 A412,412 0 0 1 199.6,803.5 L223.6,780.8 A379,379 0 0 0 224.5,781.8 Z" fill="#D4E3F3"/>
<path d="M182.7,784.4 A412,412 0 0 1 180.1,781.2 L205.7,760.4 A379,379 0 0 0 208.1,763.3 Z" fill="#CFDFF1"/>
<path d="M172.2,771.2 A412,412 0 0 1 169.5,767.7 L196,747.9 A379,379 0 0 0 198.4,751.2 Z" fill="#D9E6F5"/>
<path d="M160.6,755.2 A412,412 0 0 1 159.3,753.5 L186.6,734.8 A379,379 0 0 0 187.7,736.5 Z" fill="#BFD3EB"/>
<path d="M152.2,742.7 A412,412 0 0 1 150.1,739.4 L178.1,721.9 A379,379 0 0 0 180,724.9 Z" fill="#CCDDF0"/>
<path d="M143,727.5 A412,412 0 0 1 141.8,725.5 L170.5,709.1 A379,379 0 0 0 171.6,711 Z" fill="#D9E6F5"/>
<path d="M132.5,708.2 A412,412 0 0 1 129.7,702.7 L159.3,688.1 A379,379 0 0 0 161.9,693.2 Z" fill="#BFD3EB"/>
<path d="M170.8,769.4 A412,412 0 0 1 170.1,768.4 L196.5,748.6 A379,379 0 0 0 197.2,749.5 Z" fill="#4a86c4"/>
<path d="M117.8,676 A412,412 0 0 1 116.5,672.7 L147.1,660.6 A379,379 0 0 0 148.3,663.6 Z" fill="#CCDDF0"/>
<path d="M113.7,665.6 A412,412 0 0 1 112.5,662.3 L143.5,651 A379,379 0 0 0 144.6,654 Z" fill="#CFDFF1"/>
<path d="M107.2,646.8 A412,412 0 0 1 106.2,643.6 L137.7,633.8 A379,379 0 0 0 138.6,636.8 Z" fill="#D4E3F3"/>
<path d="M101.6,627.9 A412,412 0 0 1 100.3,622.8 L132.2,614.6 A379,379 0 0 0 133.5,619.4 Z" fill="#D4E3F3"/>
<path d="M95.7,602.7 A412,412 0 0 1 94.8,598.2 L127.2,592 A379,379 0 0 0 128,596.1 Z" fill="#BFD3EB"/>
<path d="M93.4,590.3 A412,412 0 0 1 92.4,584.6 L125,579.5 A379,379 0 0 0 125.9,584.8 Z" fill="#CCDDF0"/>
<path d="M91.1,575.4 A412,412 0 0 1 90.3,569.3 L123.1,565.4 A379,379 0 0 0 123.8,571.1 Z" fill="#CCDDF0"/>
<path d="M104.8,639.1 A412,412 0 0 1 93.7,592.2 L126.2,586.5 A379,379 0 0 0 136.4,629.6 Z" fill="#fff" fill-opacity="0.3"/>
<path d="M115.3,669.9 A412,412 0 0 1 114.4,667.4 L145.2,655.7 A379,379 0 0 0 146.1,657.9 Z" fill="#0d4f9e"/>
<path d="M117.7,675.9 A412,412 0 0 1 117.3,674.8 L147.9,662.4 A379,379 0 0 0 148.3,663.5 Z" fill="#3b7fc4"/>
<path d="M87.9,539.3 A412,412 0 0 1 87.7,532.8 L120.7,531.9 A379,379 0 0 0 120.9,537.8 Z" fill="#CCDDF0"/>
<path d="M87.5,521.7 A412,412 0 0 1 87.5,519.6 L120.5,519.7 A379,379 0 0 0 120.5,521.7 Z" fill="#BFD3EB"/>
<path d="M87.6,512.4 A412,412 0 0 1 87.7,509.3 L120.7,510.3 A379,379 0 0 0 120.6,513.1 Z" fill="#BFD3EB"/>
<path d="M88.3,494.8 A412,412 0 0 1 88.6,491.4 L121.5,493.7 A379,379 0 0 0 121.3,496.9 Z" fill="#CFDFF1"/>
<path d="M89.6,479.6 A412,412 0 0 1 90,475.7 L122.8,479.4 A379,379 0 0 0 122.4,482.9 Z" fill="#BFD3EB"/>
<path d="M91.7,462 A412,412 0 0 1 92,460.6 L124.6,465.4 A379,379 0 0 0 124.4,466.7 Z" fill="#D4E3F3"/>
<path d="M95.6,439.8 A412,412 0 0 1 95.9,438.2 L128.2,444.8 A379,379 0 0 0 127.9,446.3 Z" fill="#BFD3EB"/>
<path d="M98.1,428.3 A412,412 0 0 1 99.1,424.1 L131.1,431.9 A379,379 0 0 0 130.2,435.8 Z" fill="#D4E3F3"/>
<path d="M87.5,520.8 A412,412 0 0 1 95.7,439.1 L128.1,445.7 A379,379 0 0 0 120.5,520.8 Z" fill="#fff" fill-opacity="0.3"/>
<path d="M97.6,430.4 A412,412 0 0 1 98.5,426.3 L130.7,433.9 A379,379 0 0 0 129.8,437.6 Z" fill="#2f7cc6"/>
<path d="M104.3,404.5 A412,412 0 0 1 105,402.1 L136.6,411.6 A379,379 0 0 0 136,413.8 Z" fill="#D4E3F3"/>
<path d="M109.4,388.5 A412,412 0 0 1 110.6,384.9 L141.8,395.8 A379,379 0 0 0 140.6,399.2 Z" fill="#CCDDF0"/>
<path d="M116.5,369.1 A412,412 0 0 1 117.1,367.7 L147.7,380 A379,379 0 0 0 147.2,381.3 Z" fill="#CFDFF1"/>
<path d="M124.3,350.8 A412,412 0 0 1 125.2,348.9 L155.2,362.7 A379,379 0 0 0 154.4,364.4 Z" fill="#CFDFF1"/>
<path d="M129.5,339.8 A412,412 0 0 1 130,338.8 L159.6,353.4 A379,379 0 0 0 159.1,354.4 Z" fill="#CFDFF1"/>
<path d="M138.5,322.4 A412,412 0 0 1 139.2,321.1 L168.1,337.1 A379,379 0 0 0 167.4,338.3 Z" fill="#D4E3F3"/>
<path d="M142.6,315.2 A412,412 0 0 1 145.5,310.2 L173.8,327.1 A379,379 0 0 0 171.2,331.7 Z" fill="#CCDDF0"/>
<path d="M148.6,305.2 A412,412 0 0 1 149.7,303.3 L177.7,320.7 A379,379 0 0 0 176.7,322.4 Z" fill="#CCDDF0"/>
<path d="M104,405.5 A412,412 0 0 1 125.5,348.1 L155.5,362 A379,379 0 0 0 135.7,414.8 Z" fill="#fff" fill-opacity="0.3"/>
<path d="M145.7,309.9 A412,412 0 0 1 147,307.7 L175.3,324.8 A379,379 0 0 0 174,326.8 Z" fill="#0d4f9e"/>
<path d="M157.4,291.5 A412,412 0 0 1 158.3,290.1 L185.6,308.6 A379,379 0 0 0 184.8,309.8 Z" fill="#D4E3F3"/>
<path d="M163.9,281.9 A412,412 0 0 1 165.1,280.3 L191.9,299.6 A379,379 0 0 0 190.8,301.1 Z" fill="#BFD3EB"/>
<path d="M174.6,267.7 A412,412 0 0 1 177,264.6 L202.8,285.2 A379,379 0 0 0 200.6,288 Z" fill="#D4E3F3"/>
<path d="M183.5,256.6 A412,412 0 0 1 186,253.7 L211.1,275.1 A379,379 0 0 0 208.8,277.8 Z" fill="#D4E3F3"/>
<path d="M192.6,246.2 A412,412 0 0 1 196.2,242.2 L220.5,264.5 A379,379 0 0 0 217.1,268.2 Z" fill="#BFD3EB"/>
<path d="M200.5,237.5 A412,412 0 0 1 201.3,236.7 L225.2,259.4 A379,379 0 0 0 224.5,260.2 Z" fill="#D9E6F5"/>
<path d="M211.5,226.4 A412,412 0 0 1 213,224.9 L236,248.6 A379,379 0 0 0 234.6,250 Z" fill="#CCDDF0"/>
<path d="M220,218.3 A412,412 0 0 1 222.6,215.9 L244.8,240.4 A379,379 0 0 0 242.4,242.5 Z" fill="#CCDDF0"/>
<path d="M234.7,205.3 A412,412 0 0 1 237.8,202.8 L258.8,228.2 A379,379 0 0 0 256,230.6 Z" fill="#CCDDF0"/>
<path d="M163.6,282.4 A412,412 0 0 1 194.5,244 L218.9,266.2 A379,379 0 0 0 190.5,301.5 Z" fill="#fff" fill-opacity="0.3"/>
<path d="M161.1,286 A412,412 0 0 1 162.9,283.4 L189.9,302.4 A379,379 0 0 0 188.2,304.8 Z" fill="#0a4a9c"/>
<path d="M251,192.4 A412,412 0 0 1 255.6,188.9 L275.2,215.5 A379,379 0 0 0 270.9,218.7 Z" fill="#D4E3F3"/>
<path d="M265.5,181.9 A412,412 0 0 1 268,180.2 L286.5,207.5 A379,379 0 0 0 284.3,209 Z" fill="#CFDFF1"/>
<path d="M283.9,169.9 A412,412 0 0 1 284.9,169.3 L302.1,197.5 A379,379 0 0 0 301.2,198 Z" fill="#BFD3EB"/>
<path d="M295.7,162.9 A412,412 0 0 1 296.9,162.2 L313.2,191 A379,379 0 0 0 312.1,191.6 Z" fill="#CCDDF0"/>
<path d="M314.2,153 A412,412 0 0 1 318.4,151 L332.9,180.6 A379,379 0 0 0 329,182.5 Z" fill="#BFD3EB"/>
<path d="M332.2,144.5 A412,412 0 0 1 336.6,142.6 L349.6,172.9 A379,379 0 0 0 345.6,174.7 Z" fill="#CFDFF1"/>
<path d="M348.6,137.6 A412,412 0 0 1 350.4,136.9 L362.4,167.7 A379,379 0 0 0 360.7,168.3 Z" fill="#CCDDF0"/>
<path d="M265.1,182.2 A412,412 0 0 1 337.5,142.2 L350.5,172.5 A379,379 0 0 0 283.9,209.3 Z" fill="#fff" fill-opacity="0.3"/>
<path d="M334.5,143.5 A412,412 0 0 1 335.9,142.9 L349,173.1 A379,379 0 0 0 347.7,173.7 Z" fill="#3b7fc4"/>
<path d="M341.3,140.6 A412,412 0 0 1 342.4,140.1 L355,170.6 A379,379 0 0 0 353.9,171.1 Z" fill="#5a95d0"/>
<path d="M367.3,130.8 A412,412 0 0 1 368.5,130.4 L379,161.7 A379,379 0 0 0 377.9,162 Z" fill="#BFD3EB"/>
<path d="M377.3,127.6 A412,412 0 0 1 379.2,126.9 L388.9,158.5 A379,379 0 0 0 387.1,159.1 Z" fill="#BFD3EB"/>
<path d="M390.6,123.7 A412,412 0 0 1 394.1,122.7 L402.5,154.6 A379,379 0 0 0 399.3,155.5 Z" fill="#D9E6F5"/>
<path d="M409.7,118.9 A412,412 0 0 1 412.1,118.4 L419.1,150.6 A379,379 0 0 0 416.9,151.1 Z" fill="#CFDFF1"/>
<path d="M419.1,116.9 A412,412 0 0 1 424.5,115.9 L430.5,148.3 A379,379 0 0 0 425.6,149.3 Z" fill="#D4E3F3"/>
<path d="M436.4,113.9 A412,412 0 0 1 437.7,113.7 L442.7,146.3 A379,379 0 0 0 441.5,146.5 Z" fill="#CFDFF1"/>
<path d="M448.1,112.2 A412,412 0 0 1 452.6,111.7 L456.3,144.5 A379,379 0 0 0 452.2,145 Z" fill="#CFDFF1"/>
<path d="M467.5,110.2 A412,412 0 0 1 471.4,110 L473.7,142.9 A379,379 0 0 0 470.1,143.1 Z" fill="#D4E3F3"/>
<path d="M366.1,131.2 A412,412 0 0 1 371.5,129.4 L381.7,160.8 A379,379 0 0 0 376.7,162.4 Z" fill="#0a4a9c"/>
<g fill="#EBEBEB">
<path d="M498.9,153 A368,368 0 0 1 630.2,177 L619.2,206 A337,337 0 0 0 498.9,184 Z"/>
<path d="M639.7,180.8 A368,368 0 0 1 732.6,236.2 L712.9,260.2 A337,337 0 0 0 627.9,209.4 Z"/>
<path d="M740.4,242.8 A368,368 0 0 1 826.5,352.2 L799,366.4 A337,337 0 0 0 720.1,266.3 Z"/>
<path d="M831.1,361.4 A368,368 0 0 1 866.5,494 L835.6,496.3 A337,337 0 0 0 803.2,374.9 Z"/>
<path d="M867.1,504.3 A368,368 0 0 1 858.1,603.8 L827.9,596.8 A337,337 0 0 0 836.2,505.7 Z"/>
<path d="M855.6,613.8 A368,368 0 0 1 812.6,714.4 L786.2,698.1 A337,337 0 0 0 825.6,605.9 Z"/>
<path d="M807.1,723 A368,368 0 0 1 736.5,802.5 L716.6,778.8 A337,337 0 0 0 781.2,706 Z"/>
<path d="M728.6,809 A368,368 0 0 1 642.7,860 L630.6,831.4 A337,337 0 0 0 709.3,784.7 Z"/>
<path d="M633.2,863.9 A368,368 0 0 1 538.6,886.9 L535.3,856.1 A337,337 0 0 0 621.9,835 Z"/>
<path d="M528.4,887.9 A368,368 0 0 1 427.4,881.9 L433.5,851.5 A337,337 0 0 0 525.9,857 Z"/>
<path d="M417.3,879.7 A368,368 0 0 1 322.8,843.8 L337.7,816.6 A337,337 0 0 0 424.3,849.5 Z"/>
<path d="M313.8,838.7 A368,368 0 0 1 226.5,767.7 L249.5,746.9 A337,337 0 0 0 329.5,812 Z"/>
<path d="M219.7,760 A368,368 0 0 1 163.3,670.7 L191.6,658.1 A337,337 0 0 0 243.2,739.9 Z"/>
<path d="M159.3,661.2 A368,368 0 0 1 133,554.4 L163.9,551.5 A337,337 0 0 0 187.9,649.4 Z"/>
<path d="M132.2,544.1 A368,368 0 0 1 141.8,434.5 L171.9,441.8 A337,337 0 0 0 163.2,542.2 Z"/>
<path d="M144.4,424.5 A368,368 0 0 1 187.1,326.5 L213.4,342.9 A337,337 0 0 0 174.3,432.6 Z"/>
<path d="M192.6,317.9 A368,368 0 0 1 267.9,235 L287.4,259.1 A337,337 0 0 0 218.5,335 Z"/>
<path d="M276,228.7 A368,368 0 0 1 368.8,177 L379.8,206 A337,337 0 0 0 294.8,253.3 Z"/>
<path d="M378.5,173.5 A368,368 0 0 1 488.6,153.2 L489.5,184.1 A337,337 0 0 0 388.7,202.7 Z"/>
</g><g fill="url(#tg0)"><path d="M499,184 l0-16 1-7 1,7 1,3 1-4 1,4 1,0 1,2 1-3 1,0 1,4 1,0 1,0 1,1 2-1 1-3 1,0 1,0 1,3 1-3 1,2 1-2 1-1 1,1 1,2 1-3 1,5 1-1 2-7 0,6 1,1 2-5 1,4 1,1 1-4 1,0 1,2 2-6 0,5 1,0 1,0 1-1 2-4 1,2 1,0 1,0 1,4 1-4 1,3 1,2 0,2 1,0 2,0 1-1 1-2 1,0 1,2 2-4 0,2 1,2 1,0 2-2 0,5 2-6 2-2 0,6 1,0 1,1 0,4 2-4 0,3 3-8 -1,9 1-1 2-2 1,1 1,1 1-1 1-1 1,2 1-1 1,1 1,2 2-4 0,2 1,2 1,1 1,0 1,1 1,0 1-2 1,2 1,0 1-1 2-1 0,3 4-8 -2,9 1,2 2-4 1,1 1,1 0,1 1,1 1,1 2-2 1,0 -1,4 1,1 2-1 1,0 2-3 0,2 3-4 -2,7 2-2 1,2 1,1 1-1 1,1 1,0 2-2 -6,15 A337,337 0 0 0 498.9,184 Z"/><path d="M628,209 l6-15 2-1 0,2 1,0 2-1 0,2 1,0 1,2 1-1 1,0 1,1 -1,4 3-4 0,4 4-6 -1,5 0,2 1,0 1,0 1,1 1,0 0,2 2-1 2-1 0,1 1,2 1-1 2-2 -1,6 4-6 0,2 0,3 2-2 2-2 0,3 -1,4 1,0 0,2 5-6 0,2 -1,4 2-1 -1,3 2-1 0,1 1,1 1,1 0,1 1,1 2-2 1,2 0,1 4-4 -4,8 3-3 -1,4 1,0 1,1 2-2 0,2 3-2 3-3 -2,5 -1,4 3-4 0,3 4-4 -1,4 0,1 2-1 3-2 -2,4 2-1 2,0 -1,3 0,2 2-1 0,2 0,1 2-1 3-2 -1,3 1,0 -2,4 4-3 -2,4 3-2 1,1 2-2 -1,4 3-2 -1,3 0,1 1,1 7-7 -6,9 0,1 1,1 2,0 -8,9 A337,337 0 0 0 627.9,209.4 Z"/><path d="M720,266 l14-16 1,1 -6,8 1,0 0,2 1,0 1,2 3-2 -2,3 5-4 -1,3 1,0 1,1 2-1 0,1 0,2 -1,3 0,1 4-2 0,2 -1,2 2-1 1,1 0,1 2,0 -1,2 0,2 2,0 0,1 2-1 2,0 -2,3 4-2 5-3 -2,3 -2,3 0,2 0,1 5-3 -2,3 -1,2 0,2 2-1 3-1 0,2 0,1 3-1 -2,3 0,1 5-3 1,1 -2,3 0,1 2,0 2,0 -1,2 -1,2 2,0 -1,2 2,0 1,0 5-2 1,0 -3,4 1,1 0,1 0,1 1,1 0,1 0,1 -1,3 0,2 0,1 0,2 0,1 0,2 3-1 0,1 0,1 0,1 2,0 1,1 3-1 0,1 2,0 -2,3 4-2 -1,2 1,1 -1,2 0,1 3-1 0,1 0,2 2,0 0,1 0,1 -2,2 2,0 0,2 8-4 -6,5 3,0 -1,1 -1,2 4-1 -1,2 0,1 -2,2 1,1 3,0 -1,1 0,1 -2,3 3-1 -1,2 -2,2 4-1 1,1 -1,2 3-1 -1,2 0,1 0,1 2,0 0,1 -1,3 -8,3 A337,337 0 0 0 720.1,266.3 Z"/><path d="M803,375 l12-6 0,1 0,1 0,2 3-1 -4,4 2,0 1,0 0,1 1,1 -1,2 1,0 2,1 1,0 1,1 -1,2 -1,1 0,2 2,0 4-1 -2,2 1,1 -2,2 1,1 1,0 -1,2 5-1 -2,2 2,0 -1,2 3,0 -1,1 1,1 3,0 -3,2 2,1 4,0 -7,3 2,1 -1,2 1,1 3,0 -1,1 -1,2 1,0 2,1 0,1 0,1 2,1 -1,1 1,1 -2,2 2,0 0,1 2,1 2,0 -2,2 -1,1 5,0 -5,2 0,2 2,0 2,1 -3,2 -3,2 2,0 0,1 -1,1 4,1 1,1 1,0 6,0 -6,3 2,0 -2,2 3,0 -3,2 0,1 2,1 -1,1 -1,1 4,1 -4,1 2,1 -1,1 5,1 -1,1 3,0 -2,2 -2,1 -1,1 0,1 1,1 -2,2 1,1 6,0 -5,2 4,0 -3,2 1,1 -1,1 2,1 -2,1 1,1 -1,1 3,1 -5,1 2,1 0,1 3,1 -6,2 1,1 14-1 -6,2 -9,2 1,1 1,1 0,1 1,1 0,1 3,1 -4,1 1,1 0,1 9,1 -22,1 A337,337 0 0 0 803.2,374.9 Z"/><path d="M836,506 l10-1 1,1 0,1 3,1 -2,1 0,1 -1,2 3,1 9,0 -12,2 3,1 6,1 -5,1 1,1 -2,1 1,1 -1,1 0,1 -1,1 2,1 -1,1 2,1 -5,1 5,2 -3,1 4,1 -7,1 3,1 4,1 0,1 -2,1 -4,1 0,1 7,1 -7,1 3,1 -1,1 2,1 -1,1 -2,1 1,2 2,1 0,1 -2,1 3,1 -3,1 2,1 -1,1 -2,1 2,1 1,1 1,2 -1,0 -1,2 -1,0 1,2 2,1 -5,0 3,2 -3,1 3,1 2,1 -3,1 -1,1 1,1 -1,1 -1,1 2,1 -3,1 1,1 1,1 0,2 4,1 -1,1 3,2 -6,0 -2,1 2,1 -2,1 1,1 -1,1 3,2 -4,0 -2,1 0,1 0,1 -1,1 -2,0 0,2 2,1 -2,1 -12-3 A337,337 0 0 0 836.2,505.7 Z"/><path d="M826,606 l13,3 -2,1 1,1 -3,1 2,1 -2,1 3,2 -3,0 3,2 -4,0 3,2 -2,0 1,2 -2,0 2,2 -2,0 1,2 3,2 -3,0 -5,0 1,1 2,2 -3,0 -1,1 1,1 -3,0 0,1 1,2 6,3 -7-1 0,1 1,1 0,1 0,2 4,2 -4,0 -1,1 -2,0 0,1 1,2 2,1 -3,1 -2,0 1,1 0,2 -3,0 2,1 -1,1 1,2 -1,0 0,2 1,1 -1,1 0,1 1,2 -1,0 -1,1 -2,0 4,3 -3,0 7,4 -1,1 -10-3 3,2 0,1 -1,1 -1,1 -1,1 2,2 -3-1 0,2 -2,0 1,1 1,2 -2,0 -2,1 1,1 1,2 -1,0 -2,1 -1,1 2,2 -3-1 -1,1 -1,1 -1,0 0,1 -2,1 -1,0 -1,1 1,1 -1,1 -1,1 -1,1 2,2 -2,0 -2,0 1,2 1,2 0,1 -13-8 A337,337 0 0 0 825.6,605.9 Z"/><path d="M781,706 l11,7 1,2 4,4 -4-2 0,2 -5-2 -1,1 0,1 -1,1 7,6 -5-3 -3-1 1,3 0,1 -3-1 1,2 -1,1 3,3 0,1 -6-3 0,2 0,1 -3-1 1,2 -1,1 1,1 0,2 -2,0 -1,1 -1,0 -1,1 1,1 2,4 -3-1 0,1 -3-1 -1,1 0,1 2,3 -4-2 -1,0 0,1 3,5 -2-1 -3-1 0,2 -1,0 -1,1 0,1 1,2 -2,0 -3-1 2,3 -3-2 -1,1 2,3 -1,1 -1,0 1,3 -3-2 -1,1 0,1 0,2 -3-1 0,1 0,1 4,6 -6-5 -1,1 0,1 -1,1 3,4 -4-2 0,1 -3-1 -1,0 -2,0 -2-1 0,2 0,2 0,1 -2-1 0,1 1,3 -2-1 -1,2 3,5 -3-2 -2-1 1,2 -2,0 0,1 -1,1 -2,0 -1,2 1,2 -10-12 A337,337 0 0 0 781.2,706 Z"/><path d="M709,785 l11,13 -3-2 0,2 -1,1 -1,0 -2-1 0,2 -2-1 -1,0 0,2 -2,0 -1-1 -1,1 -1,0 -1,0 0,3 0,1 -1,0 -4-3 3,6 -2-1 -3-2 0,1 0,2 2,5 -3-3 3,7 -1,0 -4-4 -2-1 1,3 -2,0 -1,0 1,4 -1-1 -2-1 0,3 -2-2 2,5 -2,0 -2-1 -1-1 -1,1 -1,0 0,2 0,2 -4-3 -1,0 1,4 0,1 -1,1 2,5 -1,1 -4-5 -1,1 -1,0 0,2 -2-1 -2-1 -2-1 3,6 -3-4 1,5 -4-5 -1,0 -1,0 -1,2 -1,1 -1,0 -1,0 0,1 0,3 -2-1 0,3 -1-1 -1,1 -2-2 0,3 -2-2 0,3 -1-1 -2,0 -1-2 1,5 -2-2 -2-1 -2-1 0,2 -1,1 1,3 -3-3 -5-13 A337,337 0 0 0 709.3,784.7 Z"/><path d="M622,835 l5,12 -1,3 -1-1 0,3 -1,1 -1-2 -1,1 0,3 -3-3 -1,0 -1-1 0,5 -1,0 -2-3 0,3 -1,1 -1-1 -1,1 -1-1 -2-1 0,2 1,8 -3-7 -1,0 -1,1 -1-1 -2-2 0,4 -2-3 -1,0 -2,0 0,1 -1,1 0,5 -3-8 -1-1 -1,1 -1,1 0,4 -1-1 -1,2 -1,1 -1,0 -1,1 -1,1 -1-2 -1,2 -1-2 -1,0 -1,1 -2,0 0,3 -2-3 0,3 -2-3 -1-2 -1,2 0,3 -1,0 -1,1 0,8 -3-11 -1,2 -1,1 -1,1 -1-1 -1,0 -1,1 -1,2 -1-3 0,6 -2-6 0,6 -2-1 -1-4 -1,0 0,8 -2-3 -1-3 -1,1 -1,1 -1,2 -1,1 -2-4 0,2 -2,0 -1-2 -1,1 -1-1 -2-16 A337,337 0 0 0 621.9,835 Z"/><path d="M526,857 l1,15 -1-4 -1,0 -1-1 -1,1 -1,5 -2-5 -1-1 -1,1 0,5 -2-6 -1,3 -1,0 -1-2 -1,0 -1,4 -1-1 -1,0 -1,0 -1,3 -1-3 -1,1 -1-1 -1-1 -1,4 -2-2 -1,0 -1,5 -1-5 -1,2 -1,3 -1-4 -1,0 -1-2 -1,1 -1,1 -1-2 -1,2 -1,0 -2,2 0-5 -2,1 -1,8 -1-9 -1,1 -1-1 -1,3 -1-2 -1-1 -2,10 0-8 -1-1 -1,0 -1-5 -1,1 -2,6 0-4 -1,1 -1-2 -2,1 0-3 -1,0 -1,0 -1-3 -1-1 -1,3 -1-1 -2,3 -1-2 -1,3 -2,4 0-3 -1-1 -1-1 -1,1 -1-2 -1,1 -2,3 -1-2 -1,2 -1-3 -1,2 -1-2 -1,0 -1-1 -1,2 -2,1 0-2 -1-2 -1-2 -1,1 -1,1 2-14 A337,337 0 0 0 525.9,857 Z"/><path d="M424,849 l-2,11 -2,2 0-3 -2,5 -1-1 -1-2 -1,2 -2,1 0-3 -1,0 -2,2 0-2 -2,1 -1-1 -1,0 -1,0 0-2 -3,4 1-6 -1-1 -1,0 -1,1 -1-3 -2,3 0-2 -2,3 -1-1 0-3 -5,11 3-11 -1,0 -1,0 -2,2 -3,6 2-9 -1-1 -2,2 -2,2 1-6 -1,0 -2,1 0-1 -1-1 -1-1 -1,0 -1,0 -3,4 0-1 -3,4 2-8 -1-2 -3,4 0-2 -1-1 -1,1 -3,4 0-2 0-2 -4,6 2-7 -1,0 -1-2 0-2 0-2 -5,8 3-9 -3,2 1-3 -1,0 -1-2 -2,2 0-3 0-1 -2,2 0-2 -2,2 -1-1 -1,0 -1-1 0-3 -4,6 2-7 -3,4 0-3 -2,2 -1-1 1-3 -2,2 0-3 -3,3 0-2 1-3 5-9 A337,337 0 0 0 424.3,849.5 Z"/><path d="M329,812 l-11,19 3-7 0-2 -2,2 0-2 -3,2 0-2 -2,2 0-2 1-4 -2,2 1-4 -3,2 -2,1 2-5 -2,2 -3,3 1-4 -1-1 0-2 -1,0 -1-1 -4,4 0-1 -1,0 -1-2 0-1 -1-1 -1,0 1-3 -2,0 0-1 -1-1 -5,5 4-7 -3,2 2-4 -2,1 -1,0 0-2 -2,2 1-4 -2,0 -1,0 -1,0 0-2 -1-1 -1,1 -4,2 2-3 -1,0 -1-1 0-2 -2,0 -5,5 1-3 2-4 -2,1 0-2 -1,0 -1-1 0-1 1-3 -3,2 1-3 0-1 -2,0 -2,0 0-1 -1,0 -3,2 -2,0 -1,0 1-3 -1-1 -1,0 -1-1 -2,1 -3,2 3-5 0-1 -3,1 2-4 -4,2 -1,0 2-3 -1-1 1-2 -1,0 -1-1 1-3 -3,1 1-1 -1-1 -8,6 2-3 3-5 0-1 0-1 -3,1 0-2 -4,2 1-2 12-11 A337,337 0 0 0 329.5,812 Z"/><path d="M243,740 l-9,8 -3,1 -1-1 2-3 -6,4 2-3 -3,1 0-1 2-3 1-3 -3,1 2-2 -2,0 1-2 -4,2 2-3 -5,3 4-5 0-1 -1-1 -1,0 -2,0 -1-1 -1-1 0-1 -2,0 -4,2 3-4 -6,3 5-4 -1-1 -1-1 1-2 0-1 -4,2 3-4 -1-1 -1,0 -1-1 -2,1 -1-1 4-4 -2,0 0-1 -2,0 1-2 -3,1 -2,0 0-2 1-1 0-2 -1,0 -1-1 -1-1 1-1 -2-1 -1,0 -2,0 2-3 -4,2 3-3 -1-1 -2,0 2-2 0-2 0-1 -3,1 -1-1 -1-1 1-2 1-1 -2,0 1-2 -2,0 -3,0 3-3 -9,4 9-6 -1-1 1-1 -1-1 0-1 0-1 -1-1 0-1 0-1 -1-1 -1-1 -4,1 2-2 -1-1 2-2 -4,1 2-2 -2,0 0-2 -1,0 13-6 A337,337 0 0 0 243.2,739.9 Z"/><path d="M188,649 l-17,7 3-2 -5,1 -1-1 2-2 1-1 -1-1 -2,0 -1-1 -2-1 1-1 2-2 -2,0 -1-1 -2-1 -6,2 11-6 -4,1 2-2 -7,1 7-3 -1-1 0-1 0-1 3-3 -3,0 1-1 2-2 -3,0 1-1 0-2 -1,0 -2-1 3-2 -1-1 -1-1 1-1 -6,1 4-2 -2-1 2-2 0-1 -6,1 -1-1 -1-1 1-1 5-2 -4-1 2-1 -1-1 -1-1 0-1 1-1 0-1 2-2 -2-1 -2,0 3-2 -3,0 -1-1 2-2 -2,0 0-2 0-1 -1,0 -1-1 2-2 0-1 -1-1 -5,0 5-2 0-1 -9,1 8-3 0-1 -2-1 -3,0 4-2 2-1 0-1 0-1 0-2 1-1 -2-1 -1,0 -1-1 0-2 1-1 2-1 -2-1 1-1 -1-1 0-1 -5,0 5-2 0-1 -4-1 1-1 -2-1 6-1 -1-1 12-1 A337,337 0 0 0 187.9,649.4 Z"/><path d="M163,542 l-17,1 3-1 2-1 -4-1 3-1 0-1 0-1 0-1 -1-1 -2-1 1-1 2-2 -4-1 4-1 -3-1 3-1 -5-1 5-1 -3-1 1-1 4-1 -1-1 -1-1 -3-1 1-1 -1-1 3-1 -1-1 -1-1 3-1 -4-2 2-1 -5-1 1-1 1-1 1-1 2-1 -1-1 -2-1 1-1 -3-1 -1-1 1-1 3-1 1-1 1-1 -1-2 0-1 3,0 -5-2 4-1 0-1 -2-1 5,0 -2-2 2-1 0-1 -2-1 1-1 0-1 -3-1 1-1 -1-1 1-1 1-1 -4-2 1-1 2-1 2,0 2-1 -5-2 2-1 0-1 -1-1 3-1 -1-1 0-1 -4-2 6,0 -1-1 0-1 -1-1 0-1 5,0 -1-2 -7-2 8,0 -1-1 3-1 -3-1 0-1 -1-2 2,0 1-1 -2-2 -1-1 3,0 0-1 -1-2 3,0 -2-2 14,4 A337,337 0 0 0 163.2,542.2 Z"/><path d="M174,433 l-15-4 2-1 -3-2 3,0 0-1 3-1 0-1 -2-1 1-1 -4-3 6,1 -6-3 4,1 3-1 2,0 -1-2 1,0 -2-2 -2-2 6,1 -3-2 -5-3 8,2 0-2 -1-1 1-1 2,0 -4-3 0-1 2,0 2,0 -7-4 3,0 1-1 2,0 2-1 -1-1 1-1 3,0 -3-2 -1-2 5,1 1-1 -1-1 3,0 1-1 -2-2 2,0 -1-2 2,0 1,0 1-1 -1-2 -2-2 4,1 1-1 -4-3 3,0 0-1 -2-2 -2-2 0-1 0-2 3,1 1-1 0-1 -2-2 3,0 1-1 -4-3 4,1 1,0 0-2 0-1 0-1 4,1 -3-3 2,0 -3-3 5,1 -3-2 1-1 2,0 -1-2 1-1 2,0 -1-1 -1-2 4,1 1-1 -4-3 3,0 2,0 1,0 2-1 -1-2 1,0 -2-3 13,9 A337,337 0 0 0 174.3,432.6 Z"/><path d="M218,335 l-9-6 -1-2 1-1 0-1 2,0 -1-2 3,1 0-1 0-2 1,0 0-1 2,0 -2-3 4,1 -3-3 -5-5 6,3 4,1 1,0 -3-4 0-1 0-1 5,2 0-1 0-1 -4-5 6,4 0-2 -1-2 1-1 3,2 1-1 1-1 0-1 0-2 -2-2 -1-3 2,1 1-1 0-1 0-1 3,1 -1-2 2,0 -1-3 2,0 1,0 -3-4 4,2 1-1 -1-1 3,1 0-2 1-1 1,0 -1-2 -7-8 11,8 -2-3 3,2 2,0 -2-3 0-1 1-2 2,1 4,2 -2-3 2,0 0-1 2,1 -1-3 -4-6 3,2 4,2 -1-2 2,1 2,0 -2-3 1-1 -1-2 2,0 0-1 3,1 1,0 0-2 1,0 0-2 0-2 2,0 1,1 -7-10 8,8 0-2 1,0 1-1 1-1 2,0 -2-3 4,3 1,0 0-2 2,0 8,11 A337,337 0 0 0 218.5,335 Z"/><path d="M295,253 l-7-9 0-2 1,0 0-1 1-1 1,0 1-1 -1-3 1,0 -5-9 5,5 2,1 2,0 0-1 1-1 2,1 1,0 2,1 1,0 0-2 -2-5 4,4 -1-3 2,1 1,0 0-2 0-2 1-1 3,2 1-1 0-3 2,2 -1-4 -1-3 5,5 -2-4 4,3 1,1 -1-5 3,3 1,0 1-1 -2-4 3,2 2,1 1,0 1-1 -2-4 2,1 2,0 0-2 -2-6 4,5 2,2 0-2 1-1 1,1 1-1 1,0 0-2 2,1 1-1 1,0 1,0 0-2 2,2 0-4 0-1 3,2 1,0 0-2 1-1 1,1 1,0 1-1 1-2 2,2 -1-5 1,1 2,2 2,3 1,0 0-4 2,1 1,2 1-2 -1-4 3,4 0-3 2,3 1-2 1,0 -1-6 3,6 -2-9 4,8 4,10 A337,337 0 0 0 294.8,253.3 Z"/><path d="M389,203 l-5-14 1,0 0-2 1-3 2,5 0-4 0-3 2,3 2,0 0-1 1,0 2,0 1,0 1,0 1,0 -1-7 3,8 2,0 0-1 2,0 1,0 1,3 0-4 2,1 0-4 1,2 1-1 2,1 0-1 2,1 1-2 2,0 1,1 0-2 2,2 1,1 1-1 1-3 1-1 1,2 1-1 1,0 1-2 1,0 1,0 1,2 2,1 0-5 1-2 1,3 -1-11 4,12 1,1 0-2 2,1 1,0 0-5 2,4 1-1 0-5 2,5 0-3 2,2 1-1 1,1 1,0 1-1 1-1 1,2 1,0 1,0 1-2 1-6 2,8 1,2 1-2 1-1 1,0 1,0 1-4 1,3 1-2 1,2 1,2 1-2 1-3 0-9 2,9 1,3 1,0 2,1 0-3 2,1 1-1 1,3 1-1 1,1 1-1 1,2 1-1 1-1 1,13 A337,337 0 0 0 388.7,202.7 Z"/></g>
<g fill="none" stroke="#8DD43C" stroke-width="1.8" stroke-linejoin="round"><path d="M499,168 l1-7 1,7 1,3 1-4 1,4 1,0 1,2 1-3 1,0 1,4 1,0 1,0 1,1 2-1 1-3 1,0 1,0 1,3 1-3 1,2 1-2 1-1 1,1 1,2 1-3 1,5 1-1 2-7 0,6 1,1 2-5 1,4 1,1 1-4 1,0 1,2 2-6 0,5 1,0 1,0 1-1 2-4 1,2 1,0 1,0 1,4 1-4 1,3 1,2 0,2 1,0 2,0 1-1 1-2 1,0 1,2 2-4 0,2 1,2 1,0 2-2 0,5 2-6 2-2 0,6 1,0 1,1 0,4 2-4 0,3 3-8 -1,9 1-1 2-2 1,1 1,1 1-1 1-1 1,2 1-1 1,1 1,2 2-4 0,2 1,2 1,1 1,0 1,1 1,0 1-2 1,2 1,0 1-1 2-1 0,3 4-8 -2,9 1,2 2-4 1,1 1,1 0,1 1,1 1,1 2-2 1,0 -1,4 1,1 2-1 1,0 2-3 0,2 3-4 -2,7 2-2 1,2 1,1 1-1 1,1 1,0 2-2"/><path d="M634,194 l2-1 0,2 1,0 2-1 0,2 1,0 1,2 1-1 1,0 1,1 -1,4 3-4 0,4 4-6 -1,5 0,2 1,0 1,0 1,1 1,0 0,2 2-1 2-1 0,1 1,2 1-1 2-2 -1,6 4-6 0,2 0,3 2-2 2-2 0,3 -1,4 1,0 0,2 5-6 0,2 -1,4 2-1 -1,3 2-1 0,1 1,1 1,1 0,1 1,1 2-2 1,2 0,1 4-4 -4,8 3-3 -1,4 1,0 1,1 2-2 0,2 3-2 3-3 -2,5 -1,4 3-4 0,3 4-4 -1,4 0,1 2-1 3-2 -2,4 2-1 2,0 -1,3 0,2 2-1 0,2 0,1 2-1 3-2 -1,3 1,0 -2,4 4-3 -2,4 3-2 1,1 2-2 -1,4 3-2 -1,3 0,1 1,1 7-7 -6,9 0,1 1,1 2,0"/><path d="M734,250 l1,1 -6,8 1,0 0,2 1,0 1,2 3-2 -2,3 5-4 -1,3 1,0 1,1 2-1 0,1 0,2 -1,3 0,1 4-2 0,2 -1,2 2-1 1,1 0,1 2,0 -1,2 0,2 2,0 0,1 2-1 2,0 -2,3 4-2 5-3 -2,3 -2,3 0,2 0,1 5-3 -2,3 -1,2 0,2 2-1 3-1 0,2 0,1 3-1 -2,3 0,1 5-3 1,1 -2,3 0,1 2,0 2,0 -1,2 -1,2 2,0 -1,2 2,0 1,0 5-2 1,0 -3,4 1,1 0,1 0,1 1,1 0,1 0,1 -1,3 0,2 0,1 0,2 0,1 0,2 3-1 0,1 0,1 0,1 2,0 1,1 3-1 0,1 2,0 -2,3 4-2 -1,2 1,1 -1,2 0,1 3-1 0,1 0,2 2,0 0,1 0,1 -2,2 2,0 0,2 8-4 -6,5 3,0 -1,1 -1,2 4-1 -1,2 0,1 -2,2 1,1 3,0 -1,1 0,1 -2,3 3-1 -1,2 -2,2 4-1 1,1 -1,2 3-1 -1,2 0,1 0,1 2,0 0,1 -1,3"/><path d="M815,369 l0,1 0,1 0,2 3-1 -4,4 2,0 1,0 0,1 1,1 -1,2 1,0 2,1 1,0 1,1 -1,2 -1,1 0,2 2,0 4-1 -2,2 1,1 -2,2 1,1 1,0 -1,2 5-1 -2,2 2,0 -1,2 3,0 -1,1 1,1 3,0 -3,2 2,1 4,0 -7,3 2,1 -1,2 1,1 3,0 -1,1 -1,2 1,0 2,1 0,1 0,1 2,1 -1,1 1,1 -2,2 2,0 0,1 2,1 2,0 -2,2 -1,1 5,0 -5,2 0,2 2,0 2,1 -3,2 -3,2 2,0 0,1 -1,1 4,1 1,1 1,0 6,0 -6,3 2,0 -2,2 3,0 -3,2 0,1 2,1 -1,1 -1,1 4,1 -4,1 2,1 -1,1 5,1 -1,1 3,0 -2,2 -2,1 -1,1 0,1 1,1 -2,2 1,1 6,0 -5,2 4,0 -3,2 1,1 -1,1 2,1 -2,1 1,1 -1,1 3,1 -5,1 2,1 0,1 3,1 -6,2 1,1 14-1 -6,2 -9,2 1,1 1,1 0,1 1,1 0,1 3,1 -4,1 1,1 0,1 9,1"/><path d="M846,505 l1,1 0,1 3,1 -2,1 0,1 -1,2 3,1 9,0 -12,2 3,1 6,1 -5,1 1,1 -2,1 1,1 -1,1 0,1 -1,1 2,1 -1,1 2,1 -5,1 5,2 -3,1 4,1 -7,1 3,1 4,1 0,1 -2,1 -4,1 0,1 7,1 -7,1 3,1 -1,1 2,1 -1,1 -2,1 1,2 2,1 0,1 -2,1 3,1 -3,1 2,1 -1,1 -2,1 2,1 1,1 1,2 -1,0 -1,2 -1,0 1,2 2,1 -5,0 3,2 -3,1 3,1 2,1 -3,1 -1,1 1,1 -1,1 -1,1 2,1 -3,1 1,1 1,1 0,2 4,1 -1,1 3,2 -6,0 -2,1 2,1 -2,1 1,1 -1,1 3,2 -4,0 -2,1 0,1 0,1 -1,1 -2,0 0,2 2,1 -2,1"/><path d="M839,609 l-2,1 1,1 -3,1 2,1 -2,1 3,2 -3,0 3,2 -4,0 3,2 -2,0 1,2 -2,0 2,2 -2,0 1,2 3,2 -3,0 -5,0 1,1 2,2 -3,0 -1,1 1,1 -3,0 0,1 1,2 6,3 -7-1 0,1 1,1 0,1 0,2 4,2 -4,0 -1,1 -2,0 0,1 1,2 2,1 -3,1 -2,0 1,1 0,2 -3,0 2,1 -1,1 1,2 -1,0 0,2 1,1 -1,1 0,1 1,2 -1,0 -1,1 -2,0 4,3 -3,0 7,4 -1,1 -10-3 3,2 0,1 -1,1 -1,1 -1,1 2,2 -3-1 0,2 -2,0 1,1 1,2 -2,0 -2,1 1,1 1,2 -1,0 -2,1 -1,1 2,2 -3-1 -1,1 -1,1 -1,0 0,1 -2,1 -1,0 -1,1 1,1 -1,1 -1,1 -1,1 2,2 -2,0 -2,0 1,2 1,2 0,1"/><path d="M792,713 l1,2 4,4 -4-2 0,2 -5-2 -1,1 0,1 -1,1 7,6 -5-3 -3-1 1,3 0,1 -3-1 1,2 -1,1 3,3 0,1 -6-3 0,2 0,1 -3-1 1,2 -1,1 1,1 0,2 -2,0 -1,1 -1,0 -1,1 1,1 2,4 -3-1 0,1 -3-1 -1,1 0,1 2,3 -4-2 -1,0 0,1 3,5 -2-1 -3-1 0,2 -1,0 -1,1 0,1 1,2 -2,0 -3-1 2,3 -3-2 -1,1 2,3 -1,1 -1,0 1,3 -3-2 -1,1 0,1 0,2 -3-1 0,1 0,1 4,6 -6-5 -1,1 0,1 -1,1 3,4 -4-2 0,1 -3-1 -1,0 -2,0 -2-1 0,2 0,2 0,1 -2-1 0,1 1,3 -2-1 -1,2 3,5 -3-2 -2-1 1,2 -2,0 0,1 -1,1 -2,0 -1,2 1,2"/><path d="M720,798 l-3-2 0,2 -1,1 -1,0 -2-1 0,2 -2-1 -1,0 0,2 -2,0 -1-1 -1,1 -1,0 -1,0 0,3 0,1 -1,0 -4-3 3,6 -2-1 -3-2 0,1 0,2 2,5 -3-3 3,7 -1,0 -4-4 -2-1 1,3 -2,0 -1,0 1,4 -1-1 -2-1 0,3 -2-2 2,5 -2,0 -2-1 -1-1 -1,1 -1,0 0,2 0,2 -4-3 -1,0 1,4 0,1 -1,1 2,5 -1,1 -4-5 -1,1 -1,0 0,2 -2-1 -2-1 -2-1 3,6 -3-4 1,5 -4-5 -1,0 -1,0 -1,2 -1,1 -1,0 -1,0 0,1 0,3 -2-1 0,3 -1-1 -1,1 -2-2 0,3 -2-2 0,3 -1-1 -2,0 -1-2 1,5 -2-2 -2-1 -2-1 0,2 -1,1 1,3 -3-3"/><path d="M627,847 l-1,3 -1-1 0,3 -1,1 -1-2 -1,1 0,3 -3-3 -1,0 -1-1 0,5 -1,0 -2-3 0,3 -1,1 -1-1 -1,1 -1-1 -2-1 0,2 1,8 -3-7 -1,0 -1,1 -1-1 -2-2 0,4 -2-3 -1,0 -2,0 0,1 -1,1 0,5 -3-8 -1-1 -1,1 -1,1 0,4 -1-1 -1,2 -1,1 -1,0 -1,1 -1,1 -1-2 -1,2 -1-2 -1,0 -1,1 -2,0 0,3 -2-3 0,3 -2-3 -1-2 -1,2 0,3 -1,0 -1,1 0,8 -3-11 -1,2 -1,1 -1,1 -1-1 -1,0 -1,1 -1,2 -1-3 0,6 -2-6 0,6 -2-1 -1-4 -1,0 0,8 -2-3 -1-3 -1,1 -1,1 -1,2 -1,1 -2-4 0,2 -2,0 -1-2 -1,1 -1-1"/><path d="M527,872 l-1-4 -1,0 -1-1 -1,1 -1,5 -2-5 -1-1 -1,1 0,5 -2-6 -1,3 -1,0 -1-2 -1,0 -1,4 -1-1 -1,0 -1,0 -1,3 -1-3 -1,1 -1-1 -1-1 -1,4 -2-2 -1,0 -1,5 -1-5 -1,2 -1,3 -1-4 -1,0 -1-2 -1,1 -1,1 -1-2 -1,2 -1,0 -2,2 0-5 -2,1 -1,8 -1-9 -1,1 -1-1 -1,3 -1-2 -1-1 -2,10 0-8 -1-1 -1,0 -1-5 -1,1 -2,6 0-4 -1,1 -1-2 -2,1 0-3 -1,0 -1,0 -1-3 -1-1 -1,3 -1-1 -2,3 -1-2 -1,3 -2,4 0-3 -1-1 -1-1 -1,1 -1-2 -1,1 -2,3 -1-2 -1,2 -1-3 -1,2 -1-2 -1,0 -1-1 -1,2 -2,1 0-2 -1-2 -1-2 -1,1 -1,1"/><path d="M422,860 l-2,2 0-3 -2,5 -1-1 -1-2 -1,2 -2,1 0-3 -1,0 -2,2 0-2 -2,1 -1-1 -1,0 -1,0 0-2 -3,4 1-6 -1-1 -1,0 -1,1 -1-3 -2,3 0-2 -2,3 -1-1 0-3 -5,11 3-11 -1,0 -1,0 -2,2 -3,6 2-9 -1-1 -2,2 -2,2 1-6 -1,0 -2,1 0-1 -1-1 -1-1 -1,0 -1,0 -3,4 0-1 -3,4 2-8 -1-2 -3,4 0-2 -1-1 -1,1 -3,4 0-2 0-2 -4,6 2-7 -1,0 -1-2 0-2 0-2 -5,8 3-9 -3,2 1-3 -1,0 -1-2 -2,2 0-3 0-1 -2,2 0-2 -2,2 -1-1 -1,0 -1-1 0-3 -4,6 2-7 -3,4 0-3 -2,2 -1-1 1-3 -2,2 0-3 -3,3 0-2 1-3"/><path d="M318,831 l3-7 0-2 -2,2 0-2 -3,2 0-2 -2,2 0-2 1-4 -2,2 1-4 -3,2 -2,1 2-5 -2,2 -3,3 1-4 -1-1 0-2 -1,0 -1-1 -4,4 0-1 -1,0 -1-2 0-1 -1-1 -1,0 1-3 -2,0 0-1 -1-1 -5,5 4-7 -3,2 2-4 -2,1 -1,0 0-2 -2,2 1-4 -2,0 -1,0 -1,0 0-2 -1-1 -1,1 -4,2 2-3 -1,0 -1-1 0-2 -2,0 -5,5 1-3 2-4 -2,1 0-2 -1,0 -1-1 0-1 1-3 -3,2 1-3 0-1 -2,0 -2,0 0-1 -1,0 -3,2 -2,0 -1,0 1-3 -1-1 -1,0 -1-1 -2,1 -3,2 3-5 0-1 -3,1 2-4 -4,2 -1,0 2-3 -1-1 1-2 -1,0 -1-1 1-3 -3,1 1-1 -1-1 -8,6 2-3 3-5 0-1 0-1 -3,1 0-2 -4,2 1-2"/><path d="M234,748 l-3,1 -1-1 2-3 -6,4 2-3 -3,1 0-1 2-3 1-3 -3,1 2-2 -2,0 1-2 -4,2 2-3 -5,3 4-5 0-1 -1-1 -1,0 -2,0 -1-1 -1-1 0-1 -2,0 -4,2 3-4 -6,3 5-4 -1-1 -1-1 1-2 0-1 -4,2 3-4 -1-1 -1,0 -1-1 -2,1 -1-1 4-4 -2,0 0-1 -2,0 1-2 -3,1 -2,0 0-2 1-1 0-2 -1,0 -1-1 -1-1 1-1 -2-1 -1,0 -2,0 2-3 -4,2 3-3 -1-1 -2,0 2-2 0-2 0-1 -3,1 -1-1 -1-1 1-2 1-1 -2,0 1-2 -2,0 -3,0 3-3 -9,4 9-6 -1-1 1-1 -1-1 0-1 0-1 -1-1 0-1 0-1 -1-1 -1-1 -4,1 2-2 -1-1 2-2 -4,1 2-2 -2,0 0-2 -1,0"/><path d="M171,656 l3-2 -5,1 -1-1 2-2 1-1 -1-1 -2,0 -1-1 -2-1 1-1 2-2 -2,0 -1-1 -2-1 -6,2 11-6 -4,1 2-2 -7,1 7-3 -1-1 0-1 0-1 3-3 -3,0 1-1 2-2 -3,0 1-1 0-2 -1,0 -2-1 3-2 -1-1 -1-1 1-1 -6,1 4-2 -2-1 2-2 0-1 -6,1 -1-1 -1-1 1-1 5-2 -4-1 2-1 -1-1 -1-1 0-1 1-1 0-1 2-2 -2-1 -2,0 3-2 -3,0 -1-1 2-2 -2,0 0-2 0-1 -1,0 -1-1 2-2 0-1 -1-1 -5,0 5-2 0-1 -9,1 8-3 0-1 -2-1 -3,0 4-2 2-1 0-1 0-1 0-2 1-1 -2-1 -1,0 -1-1 0-2 1-1 2-1 -2-1 1-1 -1-1 0-1 -5,0 5-2 0-1 -4-1 1-1 -2-1 6-1 -1-1"/><path d="M146,543 l3-1 2-1 -4-1 3-1 0-1 0-1 0-1 -1-1 -2-1 1-1 2-2 -4-1 4-1 -3-1 3-1 -5-1 5-1 -3-1 1-1 4-1 -1-1 -1-1 -3-1 1-1 -1-1 3-1 -1-1 -1-1 3-1 -4-2 2-1 -5-1 1-1 1-1 1-1 2-1 -1-1 -2-1 1-1 -3-1 -1-1 1-1 3-1 1-1 1-1 -1-2 0-1 3,0 -5-2 4-1 0-1 -2-1 5,0 -2-2 2-1 0-1 -2-1 1-1 0-1 -3-1 1-1 -1-1 1-1 1-1 -4-2 1-1 2-1 2,0 2-1 -5-2 2-1 0-1 -1-1 3-1 -1-1 0-1 -4-2 6,0 -1-1 0-1 -1-1 0-1 5,0 -1-2 -7-2 8,0 -1-1 3-1 -3-1 0-1 -1-2 2,0 1-1 -2-2 -1-1 3,0 0-1 -1-2 3,0 -2-2"/><path d="M159,429 l2-1 -3-2 3,0 0-1 3-1 0-1 -2-1 1-1 -4-3 6,1 -6-3 4,1 3-1 2,0 -1-2 1,0 -2-2 -2-2 6,1 -3-2 -5-3 8,2 0-2 -1-1 1-1 2,0 -4-3 0-1 2,0 2,0 -7-4 3,0 1-1 2,0 2-1 -1-1 1-1 3,0 -3-2 -1-2 5,1 1-1 -1-1 3,0 1-1 -2-2 2,0 -1-2 2,0 1,0 1-1 -1-2 -2-2 4,1 1-1 -4-3 3,0 0-1 -2-2 -2-2 0-1 0-2 3,1 1-1 0-1 -2-2 3,0 1-1 -4-3 4,1 1,0 0-2 0-1 0-1 4,1 -3-3 2,0 -3-3 5,1 -3-2 1-1 2,0 -1-2 1-1 2,0 -1-1 -1-2 4,1 1-1 -4-3 3,0 2,0 1,0 2-1 -1-2 1,0 -2-3"/><path d="M209,329 l-1-2 1-1 0-1 2,0 -1-2 3,1 0-1 0-2 1,0 0-1 2,0 -2-3 4,1 -3-3 -5-5 6,3 4,1 1,0 -3-4 0-1 0-1 5,2 0-1 0-1 -4-5 6,4 0-2 -1-2 1-1 3,2 1-1 1-1 0-1 0-2 -2-2 -1-3 2,1 1-1 0-1 0-1 3,1 -1-2 2,0 -1-3 2,0 1,0 -3-4 4,2 1-1 -1-1 3,1 0-2 1-1 1,0 -1-2 -7-8 11,8 -2-3 3,2 2,0 -2-3 0-1 1-2 2,1 4,2 -2-3 2,0 0-1 2,1 -1-3 -4-6 3,2 4,2 -1-2 2,1 2,0 -2-3 1-1 -1-2 2,0 0-1 3,1 1,0 0-2 1,0 0-2 0-2 2,0 1,1 -7-10 8,8 0-2 1,0 1-1 1-1 2,0 -2-3 4,3 1,0 0-2 2,0"/><path d="M288,244 l0-2 1,0 0-1 1-1 1,0 1-1 -1-3 1,0 -5-9 5,5 2,1 2,0 0-1 1-1 2,1 1,0 2,1 1,0 0-2 -2-5 4,4 -1-3 2,1 1,0 0-2 0-2 1-1 3,2 1-1 0-3 2,2 -1-4 -1-3 5,5 -2-4 4,3 1,1 -1-5 3,3 1,0 1-1 -2-4 3,2 2,1 1,0 1-1 -2-4 2,1 2,0 0-2 -2-6 4,5 2,2 0-2 1-1 1,1 1-1 1,0 0-2 2,1 1-1 1,0 1,0 0-2 2,2 0-4 0-1 3,2 1,0 0-2 1-1 1,1 1,0 1-1 1-2 2,2 -1-5 1,1 2,2 2,3 1,0 0-4 2,1 1,2 1-2 -1-4 3,4 0-3 2,3 1-2 1,0 -1-6 3,6 -2-9 4,8"/><path d="M384,189 l1,0 0-2 1-3 2,5 0-4 0-3 2,3 2,0 0-1 1,0 2,0 1,0 1,0 1,0 -1-7 3,8 2,0 0-1 2,0 1,0 1,3 0-4 2,1 0-4 1,2 1-1 2,1 0-1 2,1 1-2 2,0 1,1 0-2 2,2 1,1 1-1 1-3 1-1 1,2 1-1 1,0 1-2 1,0 1,0 1,2 2,1 0-5 1-2 1,3 -1-11 4,12 1,1 0-2 2,1 1,0 0-5 2,4 1-1 0-5 2,5 0-3 2,2 1-1 1,1 1,0 1-1 1-1 1,2 1,0 1,0 1-2 1-6 2,8 1,2 1-2 1-1 1,0 1,0 1-4 1,3 1-2 1,2 1,2 1-2 1-3 0-9 2,9 1,3 1,0 2,1 0-3 2,1 1-1 1,3 1-1 1,1 1-1 1,2 1-1 1-1"/></g>
<g fill="#EBEBEB">
<path d="M498.9,194 A327,327 0 0 1 615.6,215.3 L605,243.4 A297,297 0 0 0 499,224 Z"/>
<path d="M624.1,218.7 A327,327 0 0 1 706.6,268 L687.6,291.2 A297,297 0 0 0 612.7,246.4 Z"/>
<path d="M713.6,273.8 A327,327 0 0 1 790.1,371 L763.4,384.8 A297,297 0 0 0 694,296.5 Z"/>
<path d="M794.2,379.2 A327,327 0 0 1 825.6,497.1 L795.7,499.2 A297,297 0 0 0 767.1,392.2 Z"/>
<path d="M826.2,506.2 A327,327 0 0 1 818.1,594.6 L788.9,587.8 A297,297 0 0 0 796.2,507.5 Z"/>
<path d="M815.9,603.4 A327,327 0 0 1 777.7,692.8 L752.2,677.1 A297,297 0 0 0 786.9,595.9 Z"/>
<path d="M772.8,700.5 A327,327 0 0 1 710.1,771.1 L690.8,748.2 A297,297 0 0 0 747.7,684.1 Z"/>
<path d="M703.1,776.9 A327,327 0 0 1 626.7,822.2 L615.1,794.6 A297,297 0 0 0 684.4,753.4 Z"/>
<path d="M618.3,825.7 A327,327 0 0 1 534.2,846.1 L531.1,816.3 A297,297 0 0 0 607.4,797.7 Z"/>
<path d="M525.2,847 A327,327 0 0 1 435.4,841.7 L441.3,812.2 A297,297 0 0 0 522.8,817.1 Z"/>
<path d="M426.5,839.7 A327,327 0 0 1 342.5,807.8 L356.9,781.5 A297,297 0 0 0 433.2,810.5 Z"/>
<path d="M334.5,803.3 A327,327 0 0 1 256.9,740.2 L279.1,720.1 A297,297 0 0 0 349.7,777.4 Z"/>
<path d="M250.8,733.4 A327,327 0 0 1 200.8,654 L228.2,641.8 A297,297 0 0 0 273.7,713.9 Z"/>
<path d="M197.2,645.6 A327,327 0 0 1 173.8,550.6 L203.7,547.9 A297,297 0 0 0 224.9,634.2 Z"/>
<path d="M173.1,541.5 A327,327 0 0 1 181.7,444.1 L210.8,451.2 A297,297 0 0 0 203.1,539.6 Z"/>
<path d="M183.9,435.3 A327,327 0 0 1 221.9,348.2 L247.4,364.1 A297,297 0 0 0 212.9,443.1 Z"/>
<path d="M226.8,340.5 A327,327 0 0 1 293.7,266.9 L312.6,290.2 A297,297 0 0 0 251.8,357.1 Z"/>
<path d="M300.9,261.2 A327,327 0 0 1 383.4,215.3 L394,243.4 A297,297 0 0 0 319.1,285.1 Z"/>
<path d="M392,212.2 A327,327 0 0 1 489.8,194.1 L490.7,224.1 A297,297 0 0 0 401.8,240.5 Z"/>
</g><g fill="url(#tg1)"><path d="M499,224 l0-18 1-2 1-5 1,5 1,1 1,0 1-1 1,1 1-2 1,1 0,1 1-1 1,2 1,1 1,0 1-3 1,1 1-1 1,3 1-1 1-2 1,1 1,0 1-2 1,2 1-3 1,3 1-2 1,1 1,3 1-2 1-7 0,8 1,1 1,1 1-3 1,0 1-1 1,2 1,0 1,1 1,0 1,0 2-5 0,4 1,1 1-5 1,1 1,0 1,2 1-1 1,2 1,1 1-1 1-2 0,3 2-1 1-2 1,1 1-1 0,2 2-2 0,3 2-2 0,1 1,1 1,1 1,2 0,1 1,0 2-2 0,4 1,0 1,1 1,0 1,0 1-1 1-2 0,4 2-4 1,2 0,4 1,0 1-1 1,0 1,1 1-1 1-1 1,1 1-2 1,1 1,2 1-1 0,2 2-1 1-1 0,2 1-1 1,1 1,0 1,0 0,3 2-1 2-5 0,5 1-2 1,1 0,2 4-7 -3,9 3-4 0,4 1-1 1-1 1,1 1,1 0,2 1,0 2-3 0,1 2-1 0,3 -7,18 A297,297 0 0 0 499,224 Z"/><path d="M613,246 l7-18 5-8 -3,9 1-1 1,0 1,2 1,0 2-2 3-6 -2,8 1,0 0,3 2-2 0,1 1,1 1,0 1-2 0,4 2-3 -1,5 1,0 2-2 1,1 0,2 0,1 0,2 1,1 3-4 -1,3 2,0 2-2 0,2 1-1 0,3 2-2 0,1 0,3 1,0 2-1 1,0 -1,4 0,1 3-2 -1,2 1,1 0,2 2-2 1,0 7-10 -6,13 1,0 1,0 0,2 2-2 0,2 3-3 -1,2 2-1 0,2 1,1 4-4 -2,3 1,1 1,0 1,0 -1,3 2,0 1,0 0,1 2-1 -1,3 4-4 -1,3 1,1 0,1 2-2 1,2 3-3 1,1 3-4 -5,9 5-4 -3,4 2,0 -1,3 1,0 4-4 -1,3 4-4 0,2 -1,2 4-2 -3,5 1,0 -2,4 1,0 1,1 3-2 -3,4 -10,13 A297,297 0 0 0 612.7,246.4 Z"/><path d="M694,297 l14-17 -2,4 4-3 -1,2 -1,3 1,0 1,1 0,1 2-1 0,2 0,1 2-1 1,1 -2,3 2,0 -1,2 1,0 4-2 1,0 -1,2 1,1 1,0 -2,3 2,0 1,0 -2,3 5-3 -2,3 0,1 1,0 5-4 -2,4 1,1 -1,2 3-2 5-3 -4,5 3-1 -3,4 4-3 -2,3 3-2 2,0 -2,3 3-1 -1,2 1,0 4-2 -2,3 1,1 2-1 -2,3 7-5 -3,4 0,1 2,0 0,1 -2,3 1,1 1,0 0,1 2,0 -2,2 4-1 -2,3 -1,1 1,1 0,1 8-5 -7,7 3-1 1,0 1,1 -2,2 6-3 -2,2 -2,4 3-2 -4,4 3,0 -1,1 -1,2 5-2 -2,2 4-1 -2,2 1,0 0,2 0,1 2,0 -3,3 3-1 -1,2 2,0 -2,2 0,1 1,1 1,0 -1,2 1,1 6-3 -6,4 3,0 2,0 2,0 -1,1 1,1 -2,2 3,0 2-1 -5,4 0,1 1,1 0,1 1,1 2-1 1,1 -1,2 1,0 0,1 2,0 9-4 -9,6 2,1 3-1 0,1 -2,2 -1,2 -16,8 A297,297 0 0 0 694,296.5 Z"/><path d="M767,392 l18-8 2,0 -2,2 1,0 -1,2 2,0 -1,1 1,1 0,1 3,0 -1,1 -3,3 3-1 0,1 1,1 6-1 -5,3 -1,1 5-1 -5,3 4,0 3-1 -2,2 -1,1 -1,2 2,0 6-1 -5,3 1,0 -1,2 1,1 5-1 -4,2 6-1 -6,3 2,0 -3,2 0,2 4-1 7-1 -6,3 -3,2 1,1 0,1 1,0 2,1 -2,1 -1,2 0,1 3,0 1,0 -3,2 1,1 -2,2 -1,1 4,0 -2,1 1,1 -1,1 1,1 -1,1 3,0 0,1 0,1 4,0 -3,2 0,1 1,1 0,1 3,0 -2,1 -2,2 -2,1 1,1 1,1 -1,1 0,1 3,0 -1,1 -1,1 4,1 -1,2 -2,1 3,0 1,1 -1,1 -2,2 1,1 1,0 1,1 -1,1 9-1 -8,3 -1,1 0,1 2,1 0,1 9-1 -8,2 -2,2 -2,2 2,0 0,1 2,1 2,1 -3,1 0,1 0,1 4,0 -5,2 1,1 -1,1 0,1 0,1 1,1 0,1 7,0 -7,1 2,1 3,1 -5,1 -1,1 5,1 -1,1 -18,1 A297,297 0 0 0 767.1,392.2 Z"/><path d="M796,508 l21-1 -3,1 3,1 3,0 -7,2 1,0 2,1 -2,1 2,1 -2,1 2,1 -2,1 2,1 1,1 -2,1 -2,1 2,1 8,1 -7,1 -4,1 3,1 -2,1 -1,1 -1,1 1,1 1,1 2,1 1,1 -4,1 -1,1 1,1 3,1 -1,1 0,1 1,1 -1,1 0,1 1,1 1,1 1,1 2,1 -2,1 3,1 -4,1 0,1 0,1 2,1 -4,0 2,2 -4,0 -1,1 2,1 0,1 1,1 -1,1 0,1 2,1 -1,1 8,2 -5,0 -8,0 2,2 0,1 0,1 1,1 0,1 -2,0 1,1 3,2 -1,1 1,1 2,1 -2,1 -2,0 3,2 -3,0 -3,1 0,1 3,1 -6,0 2,1 0,1 1,2 0,1 0,1 1,2 -1,0 -1,1 -1,1 -18-4 A297,297 0 0 0 796.2,507.5 Z"/><path d="M787,596 l20,5 0,1 -1,1 1,1 0,1 1,1 -3,0 0,1 -1,1 -1,1 0,1 -3,0 1,1 -1,1 0,1 2,1 3,3 -2,0 -4,0 0,1 2,1 3,2 -1,1 -4,0 -2,0 2,2 -1,0 3,2 -4,0 0,1 -2,0 3,2 -1,1 -1,1 -1,0 -1,1 3,2 -4,0 0,1 3,2 -1,0 -2,1 -3,0 2,1 -3,0 1,2 -1,0 -2,0 0,1 0,2 -2-1 -2,1 1,1 0,1 3,3 -3-1 0,1 2,2 -2,0 -1,1 -1,1 0,1 2,1 -3,0 0,1 0,1 0,1 2,3 -2-1 5,4 -3,0 -2,0 -1,0 0,1 -1,1 0,1 -1,0 0,1 0,1 2,3 -5-2 3,3 -2,0 5,4 -6-3 0,1 -2,0 -1,1 3,3 1,1 -3,0 -2,0 0,1 1,2 1,1 -2,0 2,2 -3,0 -1,0 2,3 -19-12 A297,297 0 0 0 786.9,595.9 Z"/><path d="M748,684 l16,11 -2,0 1,1 -1,1 -3-1 -2,0 1,2 0,1 -1,0 4,4 -3-1 0,1 0,2 -2-1 2,3 1,2 -4-2 1,2 0,1 -2,0 0,1 -1,1 0,1 -1,1 0,1 -1,0 0,1 -1,1 0,1 0,1 -1,0 -1,1 -2,0 -1,0 -2,0 1,1 -1,1 -1,0 2,3 -3-1 -1,0 1,2 1,2 -5-3 0,2 0,1 1,2 -4-2 -2-1 0,2 0,1 0,1 0,2 -2-1 -1,1 1,1 1,3 -4-3 0,1 0,2 0,2 -1,0 0,1 0,1 0,1 2,4 -4-3 1,3 -2-1 0,1 -1,1 -3-2 0,1 -1,1 0,1 -1,1 1,2 -2,0 -1,0 -3-3 1,3 2,3 -3-2 -1,1 1,3 3,4 -4-3 0,2 -1,0 -1,0 -1,0 0,2 -1,0 -1,1 0,1 -2,0 0,1 -13-16 A297,297 0 0 0 747.7,684.1 Z"/><path d="M684,753 l10,13 0,1 4,7 -2-1 -4-4 1,3 -2-1 -1,0 0,2 0,1 -1,1 5,7 -7-7 -1,0 0,3 0,1 -1-1 1,4 -1,0 -2-2 -2-1 -2,0 4,8 -5-7 0,2 0,2 0,2 -3-3 -1,0 -1,1 -1,0 -1,0 0,1 -1,1 1,4 -2-3 0,3 -2-2 0,3 0,1 -4-5 2,5 -2-1 -3-3 1,3 -1,0 -2-1 0,2 0,2 -2-1 2,4 -4-5 -1,0 -1,0 0,2 0,2 -1,0 -2-1 2,6 -3-4 -2-1 0,1 0,3 0,1 -3-3 0,1 1,4 -1,1 -2-1 -1-1 0,2 -1,1 -1,0 0,1 -1,1 -2-2 -1,1 2,5 -3-4 -1,2 -1-1 -1-1 0,4 -1-1 -2-1 0,3 -1-1 -1,0 0,1 -1,1 -2-1 -7-17 A297,297 0 0 0 684.4,753.4 Z"/><path d="M607,798 l8,18 -1,2 -2-4 0,3 0,4 -3-5 0,1 -2-1 0,2 -2-3 2,9 -3-7 0,3 -2-2 -1-1 1,6 -2-4 0,6 -1-2 -2-3 -1,1 0,2 -1,0 0,4 -2-4 0,3 -1,1 -2-4 0,3 -2-2 -1,1 -1,0 -1,0 0,3 -1-1 0,3 -1,2 -1-1 -1-1 -1-1 -1,1 -1,0 -1,0 -1,0 -1,2 -2-4 0,3 -1-1 -1,0 -2-4 -1,1 -1-1 -1,2 0,1 -1,0 -1,0 -1-2 -1,1 -1,1 -1,1 -1-3 -1,0 0,9 -2-9 0,8 -2-7 0,3 -2-2 0,2 -1,0 -1,0 -1-1 0,7 -2-3 -1,0 -1,0 0,2 -1-2 -2-2 0,2 -1-1 -1,0 -1,1 -1,2 -1-1 -1,1 -1-1 -1,2 -1-2 -2-19 A297,297 0 0 0 607.4,797.7 Z"/><path d="M523,817 l1,16 -1,0 -1,2 -1-2 -1-2 0,7 -2-3 0,2 -1-1 -1-2 -1,1 -1,0 -1-1 -1,1 -1,1 -1-1 -1-1 -1-1 -1,1 -1,1 -1,2 -1,0 -1-2 -1,0 -1,2 -1-1 -1,3 -1,3 0-5 -1-1 -1-1 -1,0 -1,1 -1,1 -1-2 -1,1 -1-2 -1,4 -1-2 -1,3 -1-1 -1,4 -1-8 -1,3 -1-2 -1-1 -1,2 -1,5 0-7 -1-1 -1,2 -1-1 -1,1 -2,2 0-1 -2,5 0-3 -1-4 -1,1 -1,1 -2,4 0-7 -1,0 -1,0 -1,3 -1,2 -1-1 -1-4 -1,0 -2,2 0-2 -1,0 -2,2 -1,1 0-5 -1,3 -1-2 -1,1 -1-2 -1,2 -1-3 -1,4 -1,0 0-6 -2,3 -2,5 0-4 0-2 -1,0 -2,3 0-3 3-18 A297,297 0 0 0 522.8,817.1 Z"/><path d="M433,811 l-4,19 -1-1 -1-1 -1,1 -1,1 -2,2 0-2 0-3 -1,0 -1-1 -1-1 -1-1 -1,0 -1,1 -1,0 0-2 -1,0 -2,2 -1,1 -1-1 -1,0 -1,1 -2,1 0-2 -1-1 -1,2 0-3 -2,2 0-2 -1-1 -2,3 0-2 -1,0 -1,0 0-3 -1,0 -1-1 -1-1 -1,2 -1-1 0-2 -2,2 0-2 -1-1 -1,0 0-3 -1,0 -1,0 -2,2 1-4 -2,3 0-4 -2,2 -1,1 0-3 -2,3 -1-1 0-2 -2,2 0-3 -1,2 -1-2 -1,0 0-1 0-2 -2,2 0-2 -2,0 -1,0 -1,1 -1,0 0-4 -2,3 0-3 -2,4 0-4 0-1 -2,1 -1,1 0-2 0-2 -3,3 0-2 -1,0 0-2 -2,2 0-2 -2,2 -1-2 1-3 -2,2 -2,2 10-18 A297,297 0 0 0 433.2,810.5 Z"/><path d="M350,777 l-8,14 -2,1 -1,0 -3,3 2-5 -2,2 0-2 0-2 -2,1 0-1 -1-1 0-1 -5,6 3-7 -1-1 -1-2 -2,0 -1,1 -1-1 -1-1 0-1 -5,5 1-3 -1,1 1-4 -2,1 0-1 0-1 -2,1 0-2 -1-1 1-2 -1-1 -1,0 -3,2 -1,0 2-4 -1,0 -3,2 2-3 -1-1 -4,3 2-3 -1-1 0-1 -1,0 -1-1 -2,1 1-3 -1-1 0-1 -3,2 1-2 -4,3 -1,0 2-4 -3,2 2-3 -3,1 -3,2 4-6 -1,0 0-2 -9,9 6-8 -2,1 1-3 -2,1 0-1 -2,1 1-3 -4,3 3-5 -3,2 1-2 -2,0 0-1 1-2 -6,5 1-2 -6,4 5-7 -1,0 -3,1 1-1 1-3 -1,0 1-2 -3,1 -1-1 1-1 0-2 -1,0 0-2 -1,0 -1-1 -4,3 3-4 -1-1 0-1 -2,1 15-14 A297,297 0 0 0 349.7,777.4 Z"/><path d="M274,714 l-15,12 0-1 -2,0 -2,1 2-3 -1,0 0-2 -4,2 4-4 -1-1 1-1 -1-1 -1,0 -1-1 -3,1 0-1 0-1 -3,2 -2-1 4-4 -1,0 -3,1 3-3 -1-1 -1,0 -5,2 4-4 -1,0 1-2 -2,0 -2,0 0-1 0-1 -3,1 1-2 -2,1 3-4 -1,0 -4,1 1-1 0-2 1-2 2-2 -2,0 -3,1 2-3 -3,2 -1-1 -3,0 1-1 0-1 0-1 -4,1 -1,0 3-3 -5,1 1-1 2-3 -1,0 1-2 1-1 -3,0 0-1 -2,0 -1,0 0-1 1-2 -1-1 0-1 0-1 2-2 -2,0 1-2 -5,2 4-4 0-1 -3,1 3-2 -9,3 7-5 -3,0 2-2 0-1 -1-1 -3,0 1-1 0-1 0-1 -1-1 -1,0 1-2 2-1 0-2 -3,1 6-4 -1-1 10-4 A297,297 0 0 0 273.7,713.9 Z"/><path d="M225,634 l-17,7 0-1 1-1 -2,0 -1-1 1-2 -3,1 3-3 -1-1 -5,1 2-2 1-1 -10,2 2-2 4-2 1-1 2-2 0-1 -2-1 1-1 0-1 -4,0 2-1 -8,2 4-3 -1,0 3-3 -1,0 -4,0 2-2 1-1 1-1 -2-1 1-1 -5,1 0-1 4-2 -3-1 1-1 0-1 2-1 1-2 -9,2 8-3 0-1 2-2 0-1 -3,0 -1-1 -4,0 4-2 2-1 -3,0 2-2 -2,0 -4,0 6-3 -4,0 5-2 -1-1 -4,0 3-1 -1-1 -1-1 0-1 0-1 -3,0 1-1 -3-1 -1-1 -1,0 3-2 -3,0 2-2 -1-1 1-1 -5-1 1-1 1-1 -2-1 1-1 0-1 -2,0 -3-1 2-1 2-1 2-2 -2,0 -3-1 -3-1 6-1 -3-1 3-1 -1-1 -2-1 5-1 0-1 1-1 -3-1 23-2 A297,297 0 0 0 224.9,634.2 Z"/><path d="M203,540 l-19,1 -2-1 -6-1 5-1 -2-1 -6,0 10-2 -1-1 -1-1 3-1 -1-1 0-1 -2,0 3-1 0-1 0-1 -2-1 0-1 3-1 -1-1 0-1 -3-1 -3-1 6-1 2-1 -2-1 -2-1 0-1 4-1 0-1 -6-1 5-1 3,0 -4-1 -4-2 6,0 -5-1 2-1 3-1 -3-1 2-1 -2-1 0-1 1-1 -2-1 2-1 -2-1 2-1 1-1 -1-1 0-1 3,0 -2-1 3-1 -1-1 3-1 -3-1 0-1 2-1 1-1 1,0 -1-1 -4-2 1-1 0-1 -2-1 2-1 -2-1 -2-1 3-1 1,0 -1-1 1-1 1-1 1-1 -1-1 -1-1 1-1 -5-2 4,0 1-1 -2-1 0-1 1-1 3,0 -2-2 1,0 2-1 -3-2 1,0 0-1 0-1 0-1 4,0 -2-2 0-1 -1-1 -1-1 3-1 -2-1 2,0 19,4 A297,297 0 0 0 203.1,539.6 Z"/><path d="M213,443 l-18-5 -2-1 2-1 -2-1 1-1 1-1 -2-1 3,0 -2-2 3,0 3,0 -4-2 5,0 2,0 -3-2 1-1 -3-2 5,1 1-1 0-1 -2-1 2-1 0-1 -2-1 -3-2 2-1 2,0 0-1 -4-2 5,0 0-1 -2-2 4,0 -1-1 2-1 -7-4 7,2 -9-4 12,3 -5-2 7,1 -3-2 2,0 -4-3 4,1 0-1 2,0 -4-3 2,0 1-1 1,0 -1-2 2,0 -4-3 1-1 1,0 2,0 2,0 1-1 -1-1 -2-2 1-1 4,1 0-1 -1-1 3,0 -1-2 -1-1 0-1 1-1 1,0 0-1 0-2 0-1 -1-1 4,1 -2-2 -2-2 5,1 -4-3 3,1 2-1 -4-3 1-1 2,0 2,0 1-1 0-1 1-1 2-1 -1-1 1-1 1,0 1-1 -2-2 16,10 A297,297 0 0 0 212.9,443.1 Z"/><path d="M252,357 l-17-11 1-1 -1-1 3,0 -1-1 3,0 -2-2 0-1 -1-2 5,2 0-1 -2-2 1-1 1,0 -2-3 2,0 1-1 3,1 -5-4 3,1 2,1 2-1 -1-1 -2-3 6,3 -2-3 -2-2 4,1 -1-2 3,2 0-1 0-2 2,0 1,0 1,0 -2-3 1,0 3,1 1,0 -2-3 1-1 -4-5 6,4 1,0 0-2 1,0 0-1 1,0 -3-5 2,1 2,1 1-1 -1-2 2,1 0-2 0-1 2,0 0-2 1-1 1,0 0-1 0-2 -1-2 2,1 1-1 0-1 1,0 2,0 0-2 2,2 0-1 0-2 0-1 1-1 -1-2 3,1 1,1 -1-3 4,2 0-1 0-1 2,1 -2-4 2,1 1-1 2,1 0-1 -2-4 3,2 0-1 2,0 1-1 -5-6 6,5 1,0 0-1 0-2 3,2 -1-2 4,2 0-1 11,13 A297,297 0 0 0 251.8,357.1 Z"/><path d="M319,285 l-12-16 1,0 1,0 1-1 -2-4 -1-2 1-1 4,3 1,1 -1-3 3,1 1,0 -2-3 3,2 0-1 0-2 2,0 1,0 0-2 2,2 1,0 1,0 1-1 0-1 2,1 1-1 -1-3 2,1 2,2 -2-4 4,3 0-1 0-3 2,2 2,2 0-2 0-1 2,1 -2-5 2,1 -2-4 3,2 -2-5 4,5 0-3 1,1 0-2 -2-6 4,5 2,2 1,0 2,2 0-2 0-2 1,0 0-3 2,1 1,1 -1-4 3,3 -1-3 3,4 -1-5 1-1 2,3 1,0 -1-3 2,2 2,0 -3-7 3,3 1-1 2,3 0-2 0-2 2,1 0-1 1-1 1,0 1-1 0-2 1,1 0-2 2,1 2,3 1,0 2,1 -1-3 1,0 1-1 2,1 0-1 1-1 -1-4 3,5 1-1 0-1 7,17 A297,297 0 0 0 319.1,285.1 Z"/><path d="M402,241 l-7-21 2,4 1-1 2,3 1,0 -2-8 2,4 1,0 1-1 1,0 1,1 1-2 1,0 1,0 0-2 1,0 2,1 -1-6 2,5 1,0 1,1 1-3 0-1 1-1 2,3 0-3 -1-6 3,6 0-2 1-1 2,2 1,1 1-1 0-2 1,0 0-3 2,2 1,1 1-1 1-1 1,1 0-4 1,2 1-2 1,2 2,1 0-1 0-7 2,7 1-1 1,1 1-2 1,3 2,1 0-2 1-2 2,4 0-1 1,0 1,1 1,0 1-2 1-2 1,0 1-1 1,2 1,1 1-1 1,3 1-2 1,1 0-3 2,6 1-2 1,1 1,2 1,0 1-1 0-9 1,7 1,1 1-2 1,0 1-2 1-4 1,1 1,3 1-4 1,5 1-1 1,1 1,1 0-5 2,2 1-4 1,4 1-1 1,1 1,0 1,1 1-1 1,18 A297,297 0 0 0 401.8,240.5 Z"/></g>
<g fill="none" stroke="#E8614C" stroke-width="1.8" stroke-linejoin="round"><path d="M499,206 l1-2 1-5 1,5 1,1 1,0 1-1 1,1 1-2 1,1 0,1 1-1 1,2 1,1 1,0 1-3 1,1 1-1 1,3 1-1 1-2 1,1 1,0 1-2 1,2 1-3 1,3 1-2 1,1 1,3 1-2 1-7 0,8 1,1 1,1 1-3 1,0 1-1 1,2 1,0 1,1 1,0 1,0 2-5 0,4 1,1 1-5 1,1 1,0 1,2 1-1 1,2 1,1 1-1 1-2 0,3 2-1 1-2 1,1 1-1 0,2 2-2 0,3 2-2 0,1 1,1 1,1 1,2 0,1 1,0 2-2 0,4 1,0 1,1 1,0 1,0 1-1 1-2 0,4 2-4 1,2 0,4 1,0 1-1 1,0 1,1 1-1 1-1 1,1 1-2 1,1 1,2 1-1 0,2 2-1 1-1 0,2 1-1 1,1 1,0 1,0 0,3 2-1 2-5 0,5 1-2 1,1 0,2 4-7 -3,9 3-4 0,4 1-1 1-1 1,1 1,1 0,2 1,0 2-3 0,1 2-1 0,3"/><path d="M620,228 l5-8 -3,9 1-1 1,0 1,2 1,0 2-2 3-6 -2,8 1,0 0,3 2-2 0,1 1,1 1,0 1-2 0,4 2-3 -1,5 1,0 2-2 1,1 0,2 0,1 0,2 1,1 3-4 -1,3 2,0 2-2 0,2 1-1 0,3 2-2 0,1 0,3 1,0 2-1 1,0 -1,4 0,1 3-2 -1,2 1,1 0,2 2-2 1,0 7-10 -6,13 1,0 1,0 0,2 2-2 0,2 3-3 -1,2 2-1 0,2 1,1 4-4 -2,3 1,1 1,0 1,0 -1,3 2,0 1,0 0,1 2-1 -1,3 4-4 -1,3 1,1 0,1 2-2 1,2 3-3 1,1 3-4 -5,9 5-4 -3,4 2,0 -1,3 1,0 4-4 -1,3 4-4 0,2 -1,2 4-2 -3,5 1,0 -2,4 1,0 1,1 3-2 -3,4"/><path d="M708,280 l-2,4 4-3 -1,2 -1,3 1,0 1,1 0,1 2-1 0,2 0,1 2-1 1,1 -2,3 2,0 -1,2 1,0 4-2 1,0 -1,2 1,1 1,0 -2,3 2,0 1,0 -2,3 5-3 -2,3 0,1 1,0 5-4 -2,4 1,1 -1,2 3-2 5-3 -4,5 3-1 -3,4 4-3 -2,3 3-2 2,0 -2,3 3-1 -1,2 1,0 4-2 -2,3 1,1 2-1 -2,3 7-5 -3,4 0,1 2,0 0,1 -2,3 1,1 1,0 0,1 2,0 -2,2 4-1 -2,3 -1,1 1,1 0,1 8-5 -7,7 3-1 1,0 1,1 -2,2 6-3 -2,2 -2,4 3-2 -4,4 3,0 -1,1 -1,2 5-2 -2,2 4-1 -2,2 1,0 0,2 0,1 2,0 -3,3 3-1 -1,2 2,0 -2,2 0,1 1,1 1,0 -1,2 1,1 6-3 -6,4 3,0 2,0 2,0 -1,1 1,1 -2,2 3,0 2-1 -5,4 0,1 1,1 0,1 1,1 2-1 1,1 -1,2 1,0 0,1 2,0 9-4 -9,6 2,1 3-1 0,1 -2,2 -1,2"/><path d="M785,384 l2,0 -2,2 1,0 -1,2 2,0 -1,1 1,1 0,1 3,0 -1,1 -3,3 3-1 0,1 1,1 6-1 -5,3 -1,1 5-1 -5,3 4,0 3-1 -2,2 -1,1 -1,2 2,0 6-1 -5,3 1,0 -1,2 1,1 5-1 -4,2 6-1 -6,3 2,0 -3,2 0,2 4-1 7-1 -6,3 -3,2 1,1 0,1 1,0 2,1 -2,1 -1,2 0,1 3,0 1,0 -3,2 1,1 -2,2 -1,1 4,0 -2,1 1,1 -1,1 1,1 -1,1 3,0 0,1 0,1 4,0 -3,2 0,1 1,1 0,1 3,0 -2,1 -2,2 -2,1 1,1 1,1 -1,1 0,1 3,0 -1,1 -1,1 4,1 -1,2 -2,1 3,0 1,1 -1,1 -2,2 1,1 1,0 1,1 -1,1 9-1 -8,3 -1,1 0,1 2,1 0,1 9-1 -8,2 -2,2 -2,2 2,0 0,1 2,1 2,1 -3,1 0,1 0,1 4,0 -5,2 1,1 -1,1 0,1 0,1 1,1 0,1 7,0 -7,1 2,1 3,1 -5,1 -1,1 5,1 -1,1"/><path d="M817,507 l-3,1 3,1 3,0 -7,2 1,0 2,1 -2,1 2,1 -2,1 2,1 -2,1 2,1 1,1 -2,1 -2,1 2,1 8,1 -7,1 -4,1 3,1 -2,1 -1,1 -1,1 1,1 1,1 2,1 1,1 -4,1 -1,1 1,1 3,1 -1,1 0,1 1,1 -1,1 0,1 1,1 1,1 1,1 2,1 -2,1 3,1 -4,1 0,1 0,1 2,1 -4,0 2,2 -4,0 -1,1 2,1 0,1 1,1 -1,1 0,1 2,1 -1,1 8,2 -5,0 -8,0 2,2 0,1 0,1 1,1 0,1 -2,0 1,1 3,2 -1,1 1,1 2,1 -2,1 -2,0 3,2 -3,0 -3,1 0,1 3,1 -6,0 2,1 0,1 1,2 0,1 0,1 1,2 -1,0 -1,1 -1,1"/><path d="M807,601 l0,1 -1,1 1,1 0,1 1,1 -3,0 0,1 -1,1 -1,1 0,1 -3,0 1,1 -1,1 0,1 2,1 3,3 -2,0 -4,0 0,1 2,1 3,2 -1,1 -4,0 -2,0 2,2 -1,0 3,2 -4,0 0,1 -2,0 3,2 -1,1 -1,1 -1,0 -1,1 3,2 -4,0 0,1 3,2 -1,0 -2,1 -3,0 2,1 -3,0 1,2 -1,0 -2,0 0,1 0,2 -2-1 -2,1 1,1 0,1 3,3 -3-1 0,1 2,2 -2,0 -1,1 -1,1 0,1 2,1 -3,0 0,1 0,1 0,1 2,3 -2-1 5,4 -3,0 -2,0 -1,0 0,1 -1,1 0,1 -1,0 0,1 0,1 2,3 -5-2 3,3 -2,0 5,4 -6-3 0,1 -2,0 -1,1 3,3 1,1 -3,0 -2,0 0,1 1,2 1,1 -2,0 2,2 -3,0 -1,0 2,3"/><path d="M764,695 l-2,0 1,1 -1,1 -3-1 -2,0 1,2 0,1 -1,0 4,4 -3-1 0,1 0,2 -2-1 2,3 1,2 -4-2 1,2 0,1 -2,0 0,1 -1,1 0,1 -1,1 0,1 -1,0 0,1 -1,1 0,1 0,1 -1,0 -1,1 -2,0 -1,0 -2,0 1,1 -1,1 -1,0 2,3 -3-1 -1,0 1,2 1,2 -5-3 0,2 0,1 1,2 -4-2 -2-1 0,2 0,1 0,1 0,2 -2-1 -1,1 1,1 1,3 -4-3 0,1 0,2 0,2 -1,0 0,1 0,1 0,1 2,4 -4-3 1,3 -2-1 0,1 -1,1 -3-2 0,1 -1,1 0,1 -1,1 1,2 -2,0 -1,0 -3-3 1,3 2,3 -3-2 -1,1 1,3 3,4 -4-3 0,2 -1,0 -1,0 -1,0 0,2 -1,0 -1,1 0,1 -2,0 0,1"/><path d="M694,766 l0,1 4,7 -2-1 -4-4 1,3 -2-1 -1,0 0,2 0,1 -1,1 5,7 -7-7 -1,0 0,3 0,1 -1-1 1,4 -1,0 -2-2 -2-1 -2,0 4,8 -5-7 0,2 0,2 0,2 -3-3 -1,0 -1,1 -1,0 -1,0 0,1 -1,1 1,4 -2-3 0,3 -2-2 0,3 0,1 -4-5 2,5 -2-1 -3-3 1,3 -1,0 -2-1 0,2 0,2 -2-1 2,4 -4-5 -1,0 -1,0 0,2 0,2 -1,0 -2-1 2,6 -3-4 -2-1 0,1 0,3 0,1 -3-3 0,1 1,4 -1,1 -2-1 -1-1 0,2 -1,1 -1,0 0,1 -1,1 -2-2 -1,1 2,5 -3-4 -1,2 -1-1 -1-1 0,4 -1-1 -2-1 0,3 -1-1 -1,0 0,1 -1,1 -2-1"/><path d="M615,816 l-1,2 -2-4 0,3 0,4 -3-5 0,1 -2-1 0,2 -2-3 2,9 -3-7 0,3 -2-2 -1-1 1,6 -2-4 0,6 -1-2 -2-3 -1,1 0,2 -1,0 0,4 -2-4 0,3 -1,1 -2-4 0,3 -2-2 -1,1 -1,0 -1,0 0,3 -1-1 0,3 -1,2 -1-1 -1-1 -1-1 -1,1 -1,0 -1,0 -1,0 -1,2 -2-4 0,3 -1-1 -1,0 -2-4 -1,1 -1-1 -1,2 0,1 -1,0 -1,0 -1-2 -1,1 -1,1 -1,1 -1-3 -1,0 0,9 -2-9 0,8 -2-7 0,3 -2-2 0,2 -1,0 -1,0 -1-1 0,7 -2-3 -1,0 -1,0 0,2 -1-2 -2-2 0,2 -1-1 -1,0 -1,1 -1,2 -1-1 -1,1 -1-1 -1,2 -1-2"/><path d="M524,833 l-1,0 -1,2 -1-2 -1-2 0,7 -2-3 0,2 -1-1 -1-2 -1,1 -1,0 -1-1 -1,1 -1,1 -1-1 -1-1 -1-1 -1,1 -1,1 -1,2 -1,0 -1-2 -1,0 -1,2 -1-1 -1,3 -1,3 0-5 -1-1 -1-1 -1,0 -1,1 -1,1 -1-2 -1,1 -1-2 -1,4 -1-2 -1,3 -1-1 -1,4 -1-8 -1,3 -1-2 -1-1 -1,2 -1,5 0-7 -1-1 -1,2 -1-1 -1,1 -2,2 0-1 -2,5 0-3 -1-4 -1,1 -1,1 -2,4 0-7 -1,0 -1,0 -1,3 -1,2 -1-1 -1-4 -1,0 -2,2 0-2 -1,0 -2,2 -1,1 0-5 -1,3 -1-2 -1,1 -1-2 -1,2 -1-3 -1,4 -1,0 0-6 -2,3 -2,5 0-4 0-2 -1,0 -2,3 0-3"/><path d="M429,830 l-1-1 -1-1 -1,1 -1,1 -2,2 0-2 0-3 -1,0 -1-1 -1-1 -1-1 -1,0 -1,1 -1,0 0-2 -1,0 -2,2 -1,1 -1-1 -1,0 -1,1 -2,1 0-2 -1-1 -1,2 0-3 -2,2 0-2 -1-1 -2,3 0-2 -1,0 -1,0 0-3 -1,0 -1-1 -1-1 -1,2 -1-1 0-2 -2,2 0-2 -1-1 -1,0 0-3 -1,0 -1,0 -2,2 1-4 -2,3 0-4 -2,2 -1,1 0-3 -2,3 -1-1 0-2 -2,2 0-3 -1,2 -1-2 -1,0 0-1 0-2 -2,2 0-2 -2,0 -1,0 -1,1 -1,0 0-4 -2,3 0-3 -2,4 0-4 0-1 -2,1 -1,1 0-2 0-2 -3,3 0-2 -1,0 0-2 -2,2 0-2 -2,2 -1-2 1-3 -2,2 -2,2"/><path d="M342,791 l-2,1 -1,0 -3,3 2-5 -2,2 0-2 0-2 -2,1 0-1 -1-1 0-1 -5,6 3-7 -1-1 -1-2 -2,0 -1,1 -1-1 -1-1 0-1 -5,5 1-3 -1,1 1-4 -2,1 0-1 0-1 -2,1 0-2 -1-1 1-2 -1-1 -1,0 -3,2 -1,0 2-4 -1,0 -3,2 2-3 -1-1 -4,3 2-3 -1-1 0-1 -1,0 -1-1 -2,1 1-3 -1-1 0-1 -3,2 1-2 -4,3 -1,0 2-4 -3,2 2-3 -3,1 -3,2 4-6 -1,0 0-2 -9,9 6-8 -2,1 1-3 -2,1 0-1 -2,1 1-3 -4,3 3-5 -3,2 1-2 -2,0 0-1 1-2 -6,5 1-2 -6,4 5-7 -1,0 -3,1 1-1 1-3 -1,0 1-2 -3,1 -1-1 1-1 0-2 -1,0 0-2 -1,0 -1-1 -4,3 3-4 -1-1 0-1 -2,1"/><path d="M259,726 l0-1 -2,0 -2,1 2-3 -1,0 0-2 -4,2 4-4 -1-1 1-1 -1-1 -1,0 -1-1 -3,1 0-1 0-1 -3,2 -2-1 4-4 -1,0 -3,1 3-3 -1-1 -1,0 -5,2 4-4 -1,0 1-2 -2,0 -2,0 0-1 0-1 -3,1 1-2 -2,1 3-4 -1,0 -4,1 1-1 0-2 1-2 2-2 -2,0 -3,1 2-3 -3,2 -1-1 -3,0 1-1 0-1 0-1 -4,1 -1,0 3-3 -5,1 1-1 2-3 -1,0 1-2 1-1 -3,0 0-1 -2,0 -1,0 0-1 1-2 -1-1 0-1 0-1 2-2 -2,0 1-2 -5,2 4-4 0-1 -3,1 3-2 -9,3 7-5 -3,0 2-2 0-1 -1-1 -3,0 1-1 0-1 0-1 -1-1 -1,0 1-2 2-1 0-2 -3,1 6-4 -1-1"/><path d="M208,641 l0-1 1-1 -2,0 -1-1 1-2 -3,1 3-3 -1-1 -5,1 2-2 1-1 -10,2 2-2 4-2 1-1 2-2 0-1 -2-1 1-1 0-1 -4,0 2-1 -8,2 4-3 -1,0 3-3 -1,0 -4,0 2-2 1-1 1-1 -2-1 1-1 -5,1 0-1 4-2 -3-1 1-1 0-1 2-1 1-2 -9,2 8-3 0-1 2-2 0-1 -3,0 -1-1 -4,0 4-2 2-1 -3,0 2-2 -2,0 -4,0 6-3 -4,0 5-2 -1-1 -4,0 3-1 -1-1 -1-1 0-1 0-1 -3,0 1-1 -3-1 -1-1 -1,0 3-2 -3,0 2-2 -1-1 1-1 -5-1 1-1 1-1 -2-1 1-1 0-1 -2,0 -3-1 2-1 2-1 2-2 -2,0 -3-1 -3-1 6-1 -3-1 3-1 -1-1 -2-1 5-1 0-1 1-1 -3-1"/><path d="M184,541 l-2-1 -6-1 5-1 -2-1 -6,0 10-2 -1-1 -1-1 3-1 -1-1 0-1 -2,0 3-1 0-1 0-1 -2-1 0-1 3-1 -1-1 0-1 -3-1 -3-1 6-1 2-1 -2-1 -2-1 0-1 4-1 0-1 -6-1 5-1 3,0 -4-1 -4-2 6,0 -5-1 2-1 3-1 -3-1 2-1 -2-1 0-1 1-1 -2-1 2-1 -2-1 2-1 1-1 -1-1 0-1 3,0 -2-1 3-1 -1-1 3-1 -3-1 0-1 2-1 1-1 1,0 -1-1 -4-2 1-1 0-1 -2-1 2-1 -2-1 -2-1 3-1 1,0 -1-1 1-1 1-1 1-1 -1-1 -1-1 1-1 -5-2 4,0 1-1 -2-1 0-1 1-1 3,0 -2-2 1,0 2-1 -3-2 1,0 0-1 0-1 0-1 4,0 -2-2 0-1 -1-1 -1-1 3-1 -2-1 2,0"/><path d="M195,438 l-2-1 2-1 -2-1 1-1 1-1 -2-1 3,0 -2-2 3,0 3,0 -4-2 5,0 2,0 -3-2 1-1 -3-2 5,1 1-1 0-1 -2-1 2-1 0-1 -2-1 -3-2 2-1 2,0 0-1 -4-2 5,0 0-1 -2-2 4,0 -1-1 2-1 -7-4 7,2 -9-4 12,3 -5-2 7,1 -3-2 2,0 -4-3 4,1 0-1 2,0 -4-3 2,0 1-1 1,0 -1-2 2,0 -4-3 1-1 1,0 2,0 2,0 1-1 -1-1 -2-2 1-1 4,1 0-1 -1-1 3,0 -1-2 -1-1 0-1 1-1 1,0 0-1 0-2 0-1 -1-1 4,1 -2-2 -2-2 5,1 -4-3 3,1 2-1 -4-3 1-1 2,0 2,0 1-1 0-1 1-1 2-1 -1-1 1-1 1,0 1-1 -2-2"/><path d="M235,346 l1-1 -1-1 3,0 -1-1 3,0 -2-2 0-1 -1-2 5,2 0-1 -2-2 1-1 1,0 -2-3 2,0 1-1 3,1 -5-4 3,1 2,1 2-1 -1-1 -2-3 6,3 -2-3 -2-2 4,1 -1-2 3,2 0-1 0-2 2,0 1,0 1,0 -2-3 1,0 3,1 1,0 -2-3 1-1 -4-5 6,4 1,0 0-2 1,0 0-1 1,0 -3-5 2,1 2,1 1-1 -1-2 2,1 0-2 0-1 2,0 0-2 1-1 1,0 0-1 0-2 -1-2 2,1 1-1 0-1 1,0 2,0 0-2 2,2 0-1 0-2 0-1 1-1 -1-2 3,1 1,1 -1-3 4,2 0-1 0-1 2,1 -2-4 2,1 1-1 2,1 0-1 -2-4 3,2 0-1 2,0 1-1 -5-6 6,5 1,0 0-1 0-2 3,2 -1-2 4,2 0-1"/><path d="M307,269 l1,0 1,0 1-1 -2-4 -1-2 1-1 4,3 1,1 -1-3 3,1 1,0 -2-3 3,2 0-1 0-2 2,0 1,0 0-2 2,2 1,0 1,0 1-1 0-1 2,1 1-1 -1-3 2,1 2,2 -2-4 4,3 0-1 0-3 2,2 2,2 0-2 0-1 2,1 -2-5 2,1 -2-4 3,2 -2-5 4,5 0-3 1,1 0-2 -2-6 4,5 2,2 1,0 2,2 0-2 0-2 1,0 0-3 2,1 1,1 -1-4 3,3 -1-3 3,4 -1-5 1-1 2,3 1,0 -1-3 2,2 2,0 -3-7 3,3 1-1 2,3 0-2 0-2 2,1 0-1 1-1 1,0 1-1 0-2 1,1 0-2 2,1 2,3 1,0 2,1 -1-3 1,0 1-1 2,1 0-1 1-1 -1-4 3,5 1-1 0-1"/><path d="M395,220 l2,4 1-1 2,3 1,0 -2-8 2,4 1,0 1-1 1,0 1,1 1-2 1,0 1,0 0-2 1,0 2,1 -1-6 2,5 1,0 1,1 1-3 0-1 1-1 2,3 0-3 -1-6 3,6 0-2 1-1 2,2 1,1 1-1 0-2 1,0 0-3 2,2 1,1 1-1 1-1 1,1 0-4 1,2 1-2 1,2 2,1 0-1 0-7 2,7 1-1 1,1 1-2 1,3 2,1 0-2 1-2 2,4 0-1 1,0 1,1 1,0 1-2 1-2 1,0 1-1 1,2 1,1 1-1 1,3 1-2 1,1 0-3 2,6 1-2 1,1 1,2 1,0 1-1 0-9 1,7 1,1 1-2 1,0 1-2 1-4 1,1 1,3 1-4 1,5 1-1 1,1 1,1 0-5 2,2 1-4 1,4 1-1 1,1 1,0 1,1 1-1"/></g>
<g fill="#EBEBEB">
<path d="M499,237 A284,284 0 0 1 600.4,255.5 L589,285.4 A252,252 0 0 0 499.1,269 Z"/>
<path d="M607.7,258.4 A284,284 0 0 1 679.4,301.2 L659.1,326 A252,252 0 0 0 595.5,288 Z"/>
<path d="M685.4,306.3 A284,284 0 0 1 751.9,390.7 L723.4,405.4 A252,252 0 0 0 664.5,330.5 Z"/>
<path d="M755.4,397.8 A284,284 0 0 1 782.7,500.2 L750.8,502.5 A252,252 0 0 0 726.6,411.7 Z"/>
<path d="M783.2,508.1 A284,284 0 0 1 776.2,584.9 L745,577.7 A252,252 0 0 0 751.2,509.6 Z"/>
<path d="M774.3,592.6 A284,284 0 0 1 741.1,670.2 L713.9,653.4 A252,252 0 0 0 743.4,584.5 Z"/>
<path d="M736.9,676.9 A284,284 0 0 1 682.4,738.2 L661.8,713.8 A252,252 0 0 0 710.1,659.4 Z"/>
<path d="M676.3,743.3 A284,284 0 0 1 610,782.6 L597.6,753.1 A252,252 0 0 0 656.4,718.2 Z"/>
<path d="M602.7,785.6 A284,284 0 0 1 529.7,803.4 L526.3,771.6 A252,252 0 0 0 591,755.8 Z"/>
<path d="M521.8,804.1 A284,284 0 0 1 443.9,799.5 L450.1,768.1 A252,252 0 0 0 519.3,772.2 Z"/>
<path d="M436.1,797.8 A284,284 0 0 1 363.1,770.1 L378.5,742 A252,252 0 0 0 443.2,766.6 Z"/>
<path d="M356.2,766.2 A284,284 0 0 1 288.8,711.4 L312.5,689.9 A252,252 0 0 0 372.4,738.6 Z"/>
<path d="M283.5,705.4 A284,284 0 0 1 240.1,636.5 L269.3,623.5 A252,252 0 0 0 307.9,684.7 Z"/>
<path d="M236.9,629.2 A284,284 0 0 1 216.7,546.7 L248.5,543.8 A252,252 0 0 0 266.5,617 Z"/>
<path d="M216.1,538.8 A284,284 0 0 1 223.5,454.2 L254.6,461.7 A252,252 0 0 0 248,536.8 Z"/>
<path d="M225.4,446.5 A284,284 0 0 1 258.4,370.9 L285.6,387.8 A252,252 0 0 0 256.3,454.9 Z"/>
<path d="M262.7,364.2 A284,284 0 0 1 320.8,300.3 L340.9,325.2 A252,252 0 0 0 289.4,381.9 Z"/>
<path d="M327,295.4 A284,284 0 0 1 398.6,255.5 L410,285.4 A252,252 0 0 0 346.4,320.8 Z"/>
<path d="M406.1,252.8 A284,284 0 0 1 491.1,237.1 L492,269.1 A252,252 0 0 0 416.6,283 Z"/>
</g><g fill="url(#tg2)"><path d="M499,269 l0-19 1-3 1,3 1-5 0,1 1,1 1,2 1-3 1,3 0-1 1-1 1,3 1-1 1-2 0,5 1,2 1-1 1,2 1-3 1-4 0,2 1,2 1-1 1,1 1,0 0-1 1,0 1,1 1-4 1,1 1,1 1-5 0,5 1,0 1,2 1-3 0,2 1,1 2-10 0,6 1,0 1,3 0,1 1,1 1-5 0,6 2-2 1-1 2-2 1-2 0,3 0,4 2-4 1-6 0,9 1,0 0,2 1,1 1-3 1,3 1-1 2-2 0,1 1,2 1,1 1,1 1-2 1-2 1,0 0,4 1-1 3-8 -1,9 1-1 0,1 2-5 -1,7 2-5 0,5 2-3 0,3 1-1 1,0 1-2 0,2 1,1 1-1 1-2 1,3 1-1 1,2 2-4 -1,4 1,1 2-5 0,4 1-1 1,0 1-2 3-5 -2,10 1-3 1,2 0,2 0,1 1,1 1-2 2-3 1,1 1-2 3-3 -2,7 1-1 1,1 1,0 1,1 2-3 -9,23 A252,252 0 0 0 499.1,269 Z"/><path d="M596,288 l7-19 1,2 -1,3 1-1 1,1 0,1 1,0 2-3 1,0 1,0 0,1 1,0 1,1 0,1 1,1 2-3 -2,6 2-1 1,0 1,0 1,0 1,0 0,2 1,0 0,1 2-1 2-3 -1,5 2-3 -1,4 1-1 1,1 0,1 5-8 -3,7 1,1 3-4 -2,5 1,0 1-1 1,1 3-4 -1,3 0,2 0,2 0,1 1,0 1,1 2-2 -1,5 0,1 2-2 0,2 2-1 0,2 1,0 1,0 2-1 0,1 2-2 0,2 1,0 2-2 -3,6 1,0 3-3 1,1 2-3 2,0 3-4 -5,9 -1,3 0,1 3-3 0,2 0,1 1-1 1,2 0,1 -1,2 4-4 -2,4 3-3 1,1 1,0 -1,3 2-2 2-1 -1,2 2-1 -1,3 0,1 8-9 -1,3 -4,7 4-4 -16,19 A252,252 0 0 0 595.5,288 Z"/><path d="M664,331 l13-15 0,1 1,1 1-1 0,2 1,1 2-1 1,0 -2,3 1,0 2,0 0,1 2-1 -2,3 2-1 1,1 1,0 -1,2 0,1 1,0 0,1 2-1 -1,2 2,0 0,1 4-3 1,0 -1,2 0,1 0,1 2,0 0,1 -1,2 0,1 1,0 2,0 1,0 3-2 -3,4 2,0 4-2 -1,2 0,1 0,1 2-1 0,2 -1,2 0,1 2,0 1,0 2,0 0,1 -1,3 2,0 -1,2 3-1 -1,1 0,2 2,0 0,1 -2,2 1,1 1,0 3-1 -3,3 4-2 -3,3 2,0 0,1 1,0 2,0 -1,2 -2,2 0,1 3-1 -1,2 4-1 0,1 -2,2 2,0 -1,1 4-1 -2,2 5-2 -4,3 -1,2 1,0 0,1 5-2 1,0 -5,5 2,0 0,1 7-3 -5,4 -2,2 3-1 1,0 2,0 -3,3 5-1 0,1 -1,1 0,1 0,1 1,1 -1,1 -1,1 4-1 -5,4 4-1 0,1 2-1 -2,3 2-1 0,1 3-1 -1,2 -2,2 -17,8 A252,252 0 0 0 664.5,330.5 Z"/><path d="M727,412 l16-8 0,1 1,0 3-1 0,2 -4,2 1,1 3-1 2,0 -3,2 0,1 2,0 -1,2 4-1 -2,1 -2,2 1,1 6-2 -2,2 -2,2 0,1 -2,1 1,1 2,0 0,1 -1,1 1,0 -2,2 1,0 4,0 -1,1 6-1 -8,3 1,1 4-1 1,1 -6,3 1,0 3,0 3,0 -3,2 0,1 0,1 5-1 -1,1 0,1 0,1 2,0 4-1 1,1 -6,3 0,1 3,0 -2,1 0,1 0,1 -1,1 3,0 1,1 -2,1 -1,1 -1,1 0,1 5-1 -6,3 3,0 -2,1 1,1 1,1 -3,1 1,1 1,0 -2,2 3,0 -1,1 2,0 -1,1 7-1 -5,2 1,1 2,1 -1,0 6,0 -1,1 -6,2 2,1 -1,1 4,0 -3,1 1,1 4,0 -4,1 -1,1 -1,1 3,1 0,1 -2,1 -3,1 -1,1 1,1 1,0 2,1 -2,1 -3,1 2,1 0,1 1,0 0,1 4,0 -3,2 12-1 -9,2 0,1 -1,1 0,1 0,1 12,0 -13,2 5,0 -4,1 4,1 -3,1 -1,1 1,0 1,1 -19,2 A252,252 0 0 0 726.6,411.7 Z"/><path d="M751,510 l19-1 0,1 1,0 3,1 -4,1 -1,1 0,1 1,0 2,1 -5,1 1,1 3,1 -2,1 1,0 -4,1 3,1 4,1 -3,1 2,0 -3,1 2,1 2,1 -1,1 0,1 -3,0 1,1 2,1 -1,1 -3,1 5,1 1,0 -4,1 -3,1 2,1 8,1 -9,0 3,1 1,1 -3,1 3,1 -2,1 -1,0 4,1 1,1 -3,1 -2,1 -2,0 3,1 1,1 0,1 -2,1 0,1 1,0 2,1 -3,1 1,1 3,1 -1,1 -1,1 -1,0 0,1 2,1 -1,1 6,2 -7-1 3,2 -6,0 2,1 0,1 1,1 -2,1 -1,1 1,1 7,3 -7-1 0,1 3,1 -2,1 -1,0 -2,1 -1,1 1,1 1,1 -1,0 -1,1 -1,0 -1,1 1,1 1,1 -20-4 A252,252 0 0 0 751.2,509.6 Z"/><path d="M743,585 l23,5 -3,0 4,2 -1,1 -4,0 1,1 -3,0 3,2 7,3 -11-3 -1,1 2,1 5,3 -4-1 1,1 -1,1 -2,0 9,4 -8-2 -2,0 4,2 -4,0 -2,0 4,3 -6-2 3,2 -3,0 0,1 -1,0 2,2 -2,0 1,1 -6-1 1,1 0,1 2,2 -2,0 2,1 -2,1 -1,0 1,1 2,2 -4-1 -1,1 0,1 2,1 -3,0 2,2 -2,0 7,3 -4,0 3,2 -2,0 -2,0 -2,0 1,1 0,1 0,1 3,2 -2,0 -1,1 0,1 -1,0 7,4 -6-2 0,1 0,1 4,3 -7-2 0,1 0,1 3,2 -4-1 -1,0 0,1 0,1 -1,0 0,1 1,2 -1,0 -2,0 0,1 0,1 2,2 -2,0 -1,0 0,1 -2,0 0,1 3,3 -5-2 2,1 -1,1 8,6 -10-5 3,3 -2-1 0,1 -3,0 1,1 -17-11 A252,252 0 0 0 743.4,584.5 Z"/><path d="M710,659 l21,14 -1,0 -5-2 1,2 -1,0 0,1 3,3 -2,0 -4-2 1,2 -2,0 1,1 0,1 -3-1 0,1 -1,0 1,2 -2,0 1,2 -4-3 1,2 2,3 1,1 -1,0 -3-1 0,1 1,2 -2,0 1,2 -2-1 -1,0 2,3 -1,0 3,3 -5-2 2,3 -4-3 3,3 3,4 -7-5 2,3 -3-1 2,2 -2,0 -2-1 -1,1 0,2 -1,0 -1,0 2,3 -4-3 2,3 -2,0 0,1 1,2 -3-1 1,2 5,6 -6-4 -2-1 4,4 -5-3 0,1 -2-1 0,1 0,2 0,1 -1,0 -1,0 -1,0 -2,0 2,2 -2-1 0,2 1,2 -3-2 1,2 1,3 -5-4 0,1 1,2 0,1 -2-1 -2-1 -1,1 2,2 -3-1 2,4 -3-3 0,1 0,1 -1,0 0,2 -2-1 -1,0 -10-12 A252,252 0 0 0 710.1,659.4 Z"/><path d="M656,718 l12,15 1,2 -3-2 1,3 -1-1 0,2 -2-1 0,1 0,1 0,2 -2-1 3,5 -4-4 -1,0 1,3 -2-2 -1,0 -1,0 -2-1 1,3 0,1 0,2 -3-3 1,2 0,2 -1,0 -3-2 1,2 1,3 -4-5 0,1 -2,0 -2,0 1,2 -2-1 0,1 0,2 -2-2 -1,0 -1,0 0,2 0,1 2,4 -4-4 2,5 -2-2 1,4 -2-3 -1,0 1,3 -2-1 -1,0 -1,0 -1,0 -1,0 1,3 -2-1 -1,0 1,3 -1-1 -1,1 1,3 -3-4 0,2 -1-1 0,3 -3-5 0,1 4,12 -4-8 -1,2 -2-3 1,3 -2-2 4,12 -6-11 -2-2 0,2 -1,0 0,1 -1,0 -1,1 -1,0 1,3 -3-4 0,3 -1,2 -1,0 -7-19 A252,252 0 0 0 656.4,718.2 Z"/><path d="M591,756 l7,18 4,11 -2-2 -5-10 0,1 -1-1 -1,0 0,5 -2-1 -1-1 0,2 -1,1 0,2 -1-1 0,1 -1,0 0,3 -1-1 -1,1 -1,0 -2-3 0,3 -1-2 -1-2 -1,1 0,3 -2-3 -1,0 0,1 -1,0 -1,0 -1-2 -1,1 -1-1 0,3 -1,1 -1-2 1,6 -2-5 -1,2 -1-1 0,1 -1,1 -2-3 0,3 -1-1 -1-2 0,3 -1,0 1,11 -3-10 0,3 -1-3 -1-1 0,5 -2-5 -1,0 -1-1 0,1 -1,0 -1-1 -1,1 -1-1 0,3 -1-2 -1-1 -1,1 -1,0 -1,1 0,3 0,4 -2-6 -1,0 -1-1 0,1 -1,4 -1-3 -1,0 -1-2 0,3 -1-3 -1,1 -1-1 -1-2 -1,3 0-1 -1,0 -1,1 -2-16 A252,252 0 0 0 591,755.8 Z"/><path d="M519,772 l2,28 -1-8 0,5 -1-1 -1-1 -1,2 -1,0 -1,1 -2-4 -1-3 -1,1 -1,0 -1,4 -1-4 0-1 -1,6 -1,0 -1-4 -1-1 0,6 -1-3 -1,0 -1,3 -1-5 -1,1 0,1 -1,4 -1-5 -1-1 -1,2 -1-2 0,2 -1-3 -1,2 -1-2 -1,2 -1,1 0,1 -1,2 -1-1 -1,1 -1-5 -1,7 -1,2 0-5 -1,0 -1-3 -1,0 0-2 -1,3 -1-1 -1,1 -1-1 -1,0 -1,1 -1,6 0-9 -1,7 -1-5 0-2 -1,0 -1,0 -1,1 -1-2 0-1 -1,1 -1-2 -1,4 -1-1 0-4 -1,3 -1-1 -1,0 -1-1 -1,5 -1-4 0,1 -1,0 -1,1 -1,2 -1-5 -1,3 -1,1 0-3 -1,2 -1-2 -1,0 0-4 -2,6 0-4 4-20 A252,252 0 0 0 519.3,772.2 Z"/><path d="M443,767 l-4,18 -1,1 0-5 -2,5 1-6 -2,3 0-3 -1,1 0-1 -2,1 -1,2 -2,7 0-7 -1,1 -1,1 0-3 0-1 -1-2 -1,1 -2,3 -1,1 0-4 -1,1 0-1 -1,2 -1-2 0-1 -1-1 -1,1 -3,5 1-4 -1-1 0-1 -3,5 1-4 -1-2 0-1 -2,4 0-4 -1,0 -3,6 2-7 -1,0 0-2 -2,4 -1-1 -2,3 0-2 -1,0 -1,0 -1-1 0-1 0-1 -3,3 -1,1 1-5 0-1 -3,5 0-2 0-3 0-2 -1,2 -1,0 -1-1 0-3 -1,1 0-2 0-1 -1-1 -7,13 5-12 0-1 -2,1 -1,0 -1,0 -1,1 1-4 0-2 -3,4 1-4 0-1 -1,0 -1,0 -2,3 -1,0 -1-1 0-1 -1-1 0-1 -1,0 0-1 -1-1 8-15 A252,252 0 0 0 443.2,766.6 Z"/><path d="M372,739 l-9,15 -2,2 -1,1 -3,2 2-4 1-3 -1,0 -1,0 0-2 -3,4 -1-1 0-1 1-3 -1,0 1-2 -2,1 -2,1 -2,1 1-2 1-3 -2,2 -1,0 -1-1 -1,0 -2,2 2-4 -1,0 -2,0 1-2 -5,6 3-7 -1,2 0-3 0-1 -2,2 1-3 0-1 -2,1 -1,0 -4,4 3-5 -1-1 0-1 -3,2 0-1 0-1 -1-1 -3,4 -1-1 2-4 -1,0 0-1 -1,0 -1,0 -1,0 -3,2 1-2 -1,0 -1-1 -5,6 5-8 -2,1 1-2 -5,4 0-1 4-6 -5,4 2-3 1-3 2-3 -2,1 -2,1 1-3 -2,2 -1-1 0-1 0-1 1-2 0-2 -1,1 0-2 -2,1 -3,2 1-2 0-1 -3,2 -1,0 -6,4 4-5 1-2 1-2 -3,2 -2,0 -5,4 1-2 4-5 0-1 -2,1 1-3 -5,4 2-3 1-2 1-2 15-13 A252,252 0 0 0 372.4,738.6 Z"/><path d="M308,685 l-13,10 -2,1 -8,6 6-7 -1,1 -2,0 1-2 -1,0 1-2 -1,0 0-1 -1,0 1-2 0-1 -1,0 1-2 0-1 -3,1 -1,0 -2,0 2-3 -2,0 0-1 -5,3 5-5 -3,2 3-4 -2,0 -3,0 2-2 0-1 1-1 -1,0 2-3 -4,2 0-1 0-1 -5,2 1-2 0-1 -5,2 1-2 -1,0 0-1 0-1 3-3 -3,1 0-1 -2,0 -1,0 2-2 -1-1 -2,1 0-1 -5,2 5-4 -3,1 -1-1 3-2 -4,1 2-2 -1,0 -2,0 1-2 0-1 -5,2 6-4 1-1 -7,2 5-4 -2,0 -2,0 2-2 0-1 -6,2 6-4 -2,0 1-1 3-3 -2,0 -1-1 0-1 0-1 -1,0 1-2 -1,0 3-2 -5,1 -4,1 7-4 -3,1 0-1 16-8 A252,252 0 0 0 307.9,684.7 Z"/><path d="M267,617 l-18,7 0-1 2-1 -4,0 1-1 1-1 0-1 -3,0 4-2 -2,0 1-1 0-1 0-1 -6,1 4-2 1-2 -1,0 1-1 -2,0 -2,0 4-3 -4,1 -1-1 1-1 -2,0 -1,0 1-2 -6,1 -7,2 13-5 -3,0 1-1 -3,0 4-2 1-1 -3,0 2-2 -2,0 -1-1 0-1 -5,1 7-3 -2,0 -2,0 1-1 -2-1 3-1 0-1 0-1 0-1 -4,0 5-2 -4,0 2-1 -2,0 -6,0 6-2 -4,0 0-1 4-2 -1,0 -2-1 4-1 -2-1 -1,0 -2-1 1-1 -3,0 2-1 -2-1 4-1 -2-1 3-1 0-1 -1,0 -4-1 4-1 -2-1 1-1 1-1 -2-1 -7,0 4-1 1-1 3-1 -2-1 -3,0 5-2 1-1 0-1 1-1 -2-1 -5,0 1-1 3-1 -1-1 0-1 -1-1 -3,0 23-2 A252,252 0 0 0 266.5,617 Z"/><path d="M248,537 l-22,1 1-1 1-1 -2-1 3-1 -2-1 1-1 1-1 -4-1 0-1 4-1 0-1 1,0 1-1 -2-1 -1-1 -2-1 -1,0 -3-1 1-1 -4-1 5-1 0-1 3,0 -2-1 1-1 -1-1 2-1 0-1 1-1 -1-1 -1-1 -7-1 5,0 1-1 -3-1 4-1 2-1 1,0 -2-1 -4-1 6-1 -1-1 -1-1 -4-2 7,0 -4-1 4,0 -3-1 -1-1 3-1 -5-1 4-1 0-1 -8-2 7,0 2-1 1,0 -7-2 7,0 -3-1 6,0 -1-1 1-1 -1-1 -3-1 2-1 0-1 -3-2 1,0 -2-1 1-1 3,0 0-1 0-1 -6-2 6,0 1,0 3-1 -5-1 4,0 -4-2 2-1 3,0 -3-1 0-1 2-1 2,0 2,0 1-1 -11-3 7,1 1-1 1-1 -2-1 20,5 A252,252 0 0 0 248,536.8 Z"/><path d="M256,455 l-20-6 4,1 1-1 0-1 -1-1 -1-1 -6-3 7,2 1-1 -1-1 -4-2 2,0 4,0 -2-1 4,0 0-1 -1-1 -3-2 3,0 -3-2 0-1 3,1 0-1 3,0 -1-1 2,0 -1-2 2,0 1,0 -1-1 0-1 -1-2 1,0 0-1 1,0 -3-2 3,0 2,0 -5-3 5,1 1,0 -2-2 -2-2 2,0 1,0 0-1 3,0 -9-4 10,3 -1-1 -2-2 0-1 1,0 -1-2 4,1 -3-2 4,1 -1-2 1-1 0-1 0-1 1,0 -1-1 -1-2 2,0 -1-1 0-1 3,0 1,0 -2-2 2,0 -2-2 4,2 -7-5 8,3 -4-3 -4-3 9,4 0-1 1,0 -1-2 2,0 -4-3 4,1 1,0 -3-2 1-1 1,0 2,0 -2-2 1,0 1-1 -1-1 3,0 -1-1 0-1 3,1 13,8 A252,252 0 0 0 256.3,454.9 Z"/><path d="M289,382 l-13-9 0-1 0-1 0-1 -2-2 1-1 1,0 -1-1 2,0 1,0 -3-4 4,3 1-1 -2-3 -5-4 5,3 3,0 0-2 -1-1 -2-3 6,4 -2-3 3,1 -1-3 1,1 1,0 1-1 -3-3 3,1 -4-5 5,3 3,1 0-1 3,1 0-1 1,0 -1-2 2,1 1-1 0-1 0-1 -2-2 0-1 4,2 1-1 -1-1 -5-6 5,4 1-1 0-1 -1-2 0-1 0-1 1,0 0-1 3,1 0-1 1,0 2,0 1,0 0-1 -1-2 -1-1 1-1 2,0 2,1 1-1 -1-1 3,1 -4-5 1,0 -3-5 -1-3 5,5 4,3 -2-3 2,0 0-1 1,0 -1-2 3,2 -1-2 1,0 -1-2 1-1 0-2 2,2 1-1 2,1 2,0 -1-2 0-1 2,1 -3-5 3,2 -3-5 6,6 12,15 A252,252 0 0 0 289.4,381.9 Z"/><path d="M346,321 l-12-16 0-2 4,4 1-1 1,1 0-2 1,1 1-1 1,1 1,0 1,0 -1-3 2,1 -1-3 1,1 2,1 -2-5 1,1 0-2 1,1 0-1 1-1 0-1 -5-9 4,3 3,4 0-2 -1-2 2,1 1,0 0-1 2,2 1-1 1,0 0-2 0-1 0-1 3,2 0-1 1,1 0-2 -5-10 9,13 -1-4 -1-2 2,1 1,1 -2-5 4,4 0-3 0-1 -1-4 3,4 -1-3 0-2 3,4 -1-4 1,1 2,0 1,0 0-2 1,2 1,0 1,0 2,1 0-2 1,1 1,1 1-1 0-2 0-1 2,1 1,0 1,1 -1-5 2,5 0-3 1,0 2,3 0-2 1,0 2,2 1,0 1,0 1,0 0-1 1-1 -1-4 2,4 0-2 1-1 2,3 -1-4 2,3 0-2 1-1 6,16 A252,252 0 0 0 346.4,320.8 Z"/><path d="M417,283 l-6-17 1,0 0-2 2,3 0-2 1,1 1,0 0-1 1-2 -1-3 2,1 0-3 1,1 1,0 0-3 2,4 1,2 1,0 0-3 0-2 1,1 2,3 0-2 1,0 1,0 0-2 2,1 -1-5 1,2 1,0 2,3 1,1 0-2 2,2 1,0 0-1 1,0 1,0 1,0 0-4 1,4 2,3 0-2 1,0 0-2 1,0 1,0 0-6 1,4 1-3 0-3 2,6 1-1 0-1 1-2 1,2 0-3 2,3 0,1 1,0 1,1 1,0 1-2 1,1 0-1 1,1 0-6 1,2 2,2 0-2 1,0 1,2 1-1 1,1 1,3 0-1 1-3 1,3 1-1 0-2 1-1 1,3 1-3 1,3 1-2 0-1 1,2 1-4 1,1 1,4 0-8 1,7 1-2 0-10 2,11 1-1 1-6 1,5 1,0 1-1 0,1 1,20 A252,252 0 0 0 416.6,283 Z"/></g>
<g fill="none" stroke="#3D90D8" stroke-width="1.8" stroke-linejoin="round"><path d="M499,250 l1-3 1,3 1-5 0,1 1,1 1,2 1-3 1,3 0-1 1-1 1,3 1-1 1-2 0,5 1,2 1-1 1,2 1-3 1-4 0,2 1,2 1-1 1,1 1,0 0-1 1,0 1,1 1-4 1,1 1,1 1-5 0,5 1,0 1,2 1-3 0,2 1,1 2-10 0,6 1,0 1,3 0,1 1,1 1-5 0,6 2-2 1-1 2-2 1-2 0,3 0,4 2-4 1-6 0,9 1,0 0,2 1,1 1-3 1,3 1-1 2-2 0,1 1,2 1,1 1,1 1-2 1-2 1,0 0,4 1-1 3-8 -1,9 1-1 0,1 2-5 -1,7 2-5 0,5 2-3 0,3 1-1 1,0 1-2 0,2 1,1 1-1 1-2 1,3 1-1 1,2 2-4 -1,4 1,1 2-5 0,4 1-1 1,0 1-2 3-5 -2,10 1-3 1,2 0,2 0,1 1,1 1-2 2-3 1,1 1-2 3-3 -2,7 1-1 1,1 1,0 1,1 2-3"/><path d="M603,269 l1,2 -1,3 1-1 1,1 0,1 1,0 2-3 1,0 1,0 0,1 1,0 1,1 0,1 1,1 2-3 -2,6 2-1 1,0 1,0 1,0 1,0 0,2 1,0 0,1 2-1 2-3 -1,5 2-3 -1,4 1-1 1,1 0,1 5-8 -3,7 1,1 3-4 -2,5 1,0 1-1 1,1 3-4 -1,3 0,2 0,2 0,1 1,0 1,1 2-2 -1,5 0,1 2-2 0,2 2-1 0,2 1,0 1,0 2-1 0,1 2-2 0,2 1,0 2-2 -3,6 1,0 3-3 1,1 2-3 2,0 3-4 -5,9 -1,3 0,1 3-3 0,2 0,1 1-1 1,2 0,1 -1,2 4-4 -2,4 3-3 1,1 1,0 -1,3 2-2 2-1 -1,2 2-1 -1,3 0,1 8-9 -1,3 -4,7 4-4"/><path d="M677,316 l0,1 1,1 1-1 0,2 1,1 2-1 1,0 -2,3 1,0 2,0 0,1 2-1 -2,3 2-1 1,1 1,0 -1,2 0,1 1,0 0,1 2-1 -1,2 2,0 0,1 4-3 1,0 -1,2 0,1 0,1 2,0 0,1 -1,2 0,1 1,0 2,0 1,0 3-2 -3,4 2,0 4-2 -1,2 0,1 0,1 2-1 0,2 -1,2 0,1 2,0 1,0 2,0 0,1 -1,3 2,0 -1,2 3-1 -1,1 0,2 2,0 0,1 -2,2 1,1 1,0 3-1 -3,3 4-2 -3,3 2,0 0,1 1,0 2,0 -1,2 -2,2 0,1 3-1 -1,2 4-1 0,1 -2,2 2,0 -1,1 4-1 -2,2 5-2 -4,3 -1,2 1,0 0,1 5-2 1,0 -5,5 2,0 0,1 7-3 -5,4 -2,2 3-1 1,0 2,0 -3,3 5-1 0,1 -1,1 0,1 0,1 1,1 -1,1 -1,1 4-1 -5,4 4-1 0,1 2-1 -2,3 2-1 0,1 3-1 -1,2 -2,2"/><path d="M743,404 l0,1 1,0 3-1 0,2 -4,2 1,1 3-1 2,0 -3,2 0,1 2,0 -1,2 4-1 -2,1 -2,2 1,1 6-2 -2,2 -2,2 0,1 -2,1 1,1 2,0 0,1 -1,1 1,0 -2,2 1,0 4,0 -1,1 6-1 -8,3 1,1 4-1 1,1 -6,3 1,0 3,0 3,0 -3,2 0,1 0,1 5-1 -1,1 0,1 0,1 2,0 4-1 1,1 -6,3 0,1 3,0 -2,1 0,1 0,1 -1,1 3,0 1,1 -2,1 -1,1 -1,1 0,1 5-1 -6,3 3,0 -2,1 1,1 1,1 -3,1 1,1 1,0 -2,2 3,0 -1,1 2,0 -1,1 7-1 -5,2 1,1 2,1 -1,0 6,0 -1,1 -6,2 2,1 -1,1 4,0 -3,1 1,1 4,0 -4,1 -1,1 -1,1 3,1 0,1 -2,1 -3,1 -1,1 1,1 1,0 2,1 -2,1 -3,1 2,1 0,1 1,0 0,1 4,0 -3,2 12-1 -9,2 0,1 -1,1 0,1 0,1 12,0 -13,2 5,0 -4,1 4,1 -3,1 -1,1 1,0 1,1"/><path d="M770,509 l0,1 1,0 3,1 -4,1 -1,1 0,1 1,0 2,1 -5,1 1,1 3,1 -2,1 1,0 -4,1 3,1 4,1 -3,1 2,0 -3,1 2,1 2,1 -1,1 0,1 -3,0 1,1 2,1 -1,1 -3,1 5,1 1,0 -4,1 -3,1 2,1 8,1 -9,0 3,1 1,1 -3,1 3,1 -2,1 -1,0 4,1 1,1 -3,1 -2,1 -2,0 3,1 1,1 0,1 -2,1 0,1 1,0 2,1 -3,1 1,1 3,1 -1,1 -1,1 -1,0 0,1 2,1 -1,1 6,2 -7-1 3,2 -6,0 2,1 0,1 1,1 -2,1 -1,1 1,1 7,3 -7-1 0,1 3,1 -2,1 -1,0 -2,1 -1,1 1,1 1,1 -1,0 -1,1 -1,0 -1,1 1,1 1,1"/><path d="M766,590 l-3,0 4,2 -1,1 -4,0 1,1 -3,0 3,2 7,3 -11-3 -1,1 2,1 5,3 -4-1 1,1 -1,1 -2,0 9,4 -8-2 -2,0 4,2 -4,0 -2,0 4,3 -6-2 3,2 -3,0 0,1 -1,0 2,2 -2,0 1,1 -6-1 1,1 0,1 2,2 -2,0 2,1 -2,1 -1,0 1,1 2,2 -4-1 -1,1 0,1 2,1 -3,0 2,2 -2,0 7,3 -4,0 3,2 -2,0 -2,0 -2,0 1,1 0,1 0,1 3,2 -2,0 -1,1 0,1 -1,0 7,4 -6-2 0,1 0,1 4,3 -7-2 0,1 0,1 3,2 -4-1 -1,0 0,1 0,1 -1,0 0,1 1,2 -1,0 -2,0 0,1 0,1 2,2 -2,0 -1,0 0,1 -2,0 0,1 3,3 -5-2 2,1 -1,1 8,6 -10-5 3,3 -2-1 0,1 -3,0 1,1"/><path d="M731,673 l-1,0 -5-2 1,2 -1,0 0,1 3,3 -2,0 -4-2 1,2 -2,0 1,1 0,1 -3-1 0,1 -1,0 1,2 -2,0 1,2 -4-3 1,2 2,3 1,1 -1,0 -3-1 0,1 1,2 -2,0 1,2 -2-1 -1,0 2,3 -1,0 3,3 -5-2 2,3 -4-3 3,3 3,4 -7-5 2,3 -3-1 2,2 -2,0 -2-1 -1,1 0,2 -1,0 -1,0 2,3 -4-3 2,3 -2,0 0,1 1,2 -3-1 1,2 5,6 -6-4 -2-1 4,4 -5-3 0,1 -2-1 0,1 0,2 0,1 -1,0 -1,0 -1,0 -2,0 2,2 -2-1 0,2 1,2 -3-2 1,2 1,3 -5-4 0,1 1,2 0,1 -2-1 -2-1 -1,1 2,2 -3-1 2,4 -3-3 0,1 0,1 -1,0 0,2 -2-1 -1,0"/><path d="M668,733 l1,2 -3-2 1,3 -1-1 0,2 -2-1 0,1 0,1 0,2 -2-1 3,5 -4-4 -1,0 1,3 -2-2 -1,0 -1,0 -2-1 1,3 0,1 0,2 -3-3 1,2 0,2 -1,0 -3-2 1,2 1,3 -4-5 0,1 -2,0 -2,0 1,2 -2-1 0,1 0,2 -2-2 -1,0 -1,0 0,2 0,1 2,4 -4-4 2,5 -2-2 1,4 -2-3 -1,0 1,3 -2-1 -1,0 -1,0 -1,0 -1,0 1,3 -2-1 -1,0 1,3 -1-1 -1,1 1,3 -3-4 0,2 -1-1 0,3 -3-5 0,1 4,12 -4-8 -1,2 -2-3 1,3 -2-2 4,12 -6-11 -2-2 0,2 -1,0 0,1 -1,0 -1,1 -1,0 1,3 -3-4 0,3 -1,2 -1,0"/><path d="M598,774 l4,11 -2-2 -5-10 0,1 -1-1 -1,0 0,5 -2-1 -1-1 0,2 -1,1 0,2 -1-1 0,1 -1,0 0,3 -1-1 -1,1 -1,0 -2-3 0,3 -1-2 -1-2 -1,1 0,3 -2-3 -1,0 0,1 -1,0 -1,0 -1-2 -1,1 -1-1 0,3 -1,1 -1-2 1,6 -2-5 -1,2 -1-1 0,1 -1,1 -2-3 0,3 -1-1 -1-2 0,3 -1,0 1,11 -3-10 0,3 -1-3 -1-1 0,5 -2-5 -1,0 -1-1 0,1 -1,0 -1-1 -1,1 -1-1 0,3 -1-2 -1-1 -1,1 -1,0 -1,1 0,3 0,4 -2-6 -1,0 -1-1 0,1 -1,4 -1-3 -1,0 -1-2 0,3 -1-3 -1,1 -1-1 -1-2 -1,3 0-1 -1,0 -1,1"/><path d="M521,800 l-1-8 0,5 -1-1 -1-1 -1,2 -1,0 -1,1 -2-4 -1-3 -1,1 -1,0 -1,4 -1-4 0-1 -1,6 -1,0 -1-4 -1-1 0,6 -1-3 -1,0 -1,3 -1-5 -1,1 0,1 -1,4 -1-5 -1-1 -1,2 -1-2 0,2 -1-3 -1,2 -1-2 -1,2 -1,1 0,1 -1,2 -1-1 -1,1 -1-5 -1,7 -1,2 0-5 -1,0 -1-3 -1,0 0-2 -1,3 -1-1 -1,1 -1-1 -1,0 -1,1 -1,6 0-9 -1,7 -1-5 0-2 -1,0 -1,0 -1,1 -1-2 0-1 -1,1 -1-2 -1,4 -1-1 0-4 -1,3 -1-1 -1,0 -1-1 -1,5 -1-4 0,1 -1,0 -1,1 -1,2 -1-5 -1,3 -1,1 0-3 -1,2 -1-2 -1,0 0-4 -2,6 0-4"/><path d="M439,785 l-1,1 0-5 -2,5 1-6 -2,3 0-3 -1,1 0-1 -2,1 -1,2 -2,7 0-7 -1,1 -1,1 0-3 0-1 -1-2 -1,1 -2,3 -1,1 0-4 -1,1 0-1 -1,2 -1-2 0-1 -1-1 -1,1 -3,5 1-4 -1-1 0-1 -3,5 1-4 -1-2 0-1 -2,4 0-4 -1,0 -3,6 2-7 -1,0 0-2 -2,4 -1-1 -2,3 0-2 -1,0 -1,0 -1-1 0-1 0-1 -3,3 -1,1 1-5 0-1 -3,5 0-2 0-3 0-2 -1,2 -1,0 -1-1 0-3 -1,1 0-2 0-1 -1-1 -7,13 5-12 0-1 -2,1 -1,0 -1,0 -1,1 1-4 0-2 -3,4 1-4 0-1 -1,0 -1,0 -2,3 -1,0 -1-1 0-1 -1-1 0-1 -1,0 0-1 -1-1"/><path d="M363,754 l-2,2 -1,1 -3,2 2-4 1-3 -1,0 -1,0 0-2 -3,4 -1-1 0-1 1-3 -1,0 1-2 -2,1 -2,1 -2,1 1-2 1-3 -2,2 -1,0 -1-1 -1,0 -2,2 2-4 -1,0 -2,0 1-2 -5,6 3-7 -1,2 0-3 0-1 -2,2 1-3 0-1 -2,1 -1,0 -4,4 3-5 -1-1 0-1 -3,2 0-1 0-1 -1-1 -3,4 -1-1 2-4 -1,0 0-1 -1,0 -1,0 -1,0 -3,2 1-2 -1,0 -1-1 -5,6 5-8 -2,1 1-2 -5,4 0-1 4-6 -5,4 2-3 1-3 2-3 -2,1 -2,1 1-3 -2,2 -1-1 0-1 0-1 1-2 0-2 -1,1 0-2 -2,1 -3,2 1-2 0-1 -3,2 -1,0 -6,4 4-5 1-2 1-2 -3,2 -2,0 -5,4 1-2 4-5 0-1 -2,1 1-3 -5,4 2-3 1-2 1-2"/><path d="M295,695 l-2,1 -8,6 6-7 -1,1 -2,0 1-2 -1,0 1-2 -1,0 0-1 -1,0 1-2 0-1 -1,0 1-2 0-1 -3,1 -1,0 -2,0 2-3 -2,0 0-1 -5,3 5-5 -3,2 3-4 -2,0 -3,0 2-2 0-1 1-1 -1,0 2-3 -4,2 0-1 0-1 -5,2 1-2 0-1 -5,2 1-2 -1,0 0-1 0-1 3-3 -3,1 0-1 -2,0 -1,0 2-2 -1-1 -2,1 0-1 -5,2 5-4 -3,1 -1-1 3-2 -4,1 2-2 -1,0 -2,0 1-2 0-1 -5,2 6-4 1-1 -7,2 5-4 -2,0 -2,0 2-2 0-1 -6,2 6-4 -2,0 1-1 3-3 -2,0 -1-1 0-1 0-1 -1,0 1-2 -1,0 3-2 -5,1 -4,1 7-4 -3,1 0-1"/><path d="M249,624 l0-1 2-1 -4,0 1-1 1-1 0-1 -3,0 4-2 -2,0 1-1 0-1 0-1 -6,1 4-2 1-2 -1,0 1-1 -2,0 -2,0 4-3 -4,1 -1-1 1-1 -2,0 -1,0 1-2 -6,1 -7,2 13-5 -3,0 1-1 -3,0 4-2 1-1 -3,0 2-2 -2,0 -1-1 0-1 -5,1 7-3 -2,0 -2,0 1-1 -2-1 3-1 0-1 0-1 0-1 -4,0 5-2 -4,0 2-1 -2,0 -6,0 6-2 -4,0 0-1 4-2 -1,0 -2-1 4-1 -2-1 -1,0 -2-1 1-1 -3,0 2-1 -2-1 4-1 -2-1 3-1 0-1 -1,0 -4-1 4-1 -2-1 1-1 1-1 -2-1 -7,0 4-1 1-1 3-1 -2-1 -3,0 5-2 1-1 0-1 1-1 -2-1 -5,0 1-1 3-1 -1-1 0-1 -1-1 -3,0"/><path d="M226,538 l1-1 1-1 -2-1 3-1 -2-1 1-1 1-1 -4-1 0-1 4-1 0-1 1,0 1-1 -2-1 -1-1 -2-1 -1,0 -3-1 1-1 -4-1 5-1 0-1 3,0 -2-1 1-1 -1-1 2-1 0-1 1-1 -1-1 -1-1 -7-1 5,0 1-1 -3-1 4-1 2-1 1,0 -2-1 -4-1 6-1 -1-1 -1-1 -4-2 7,0 -4-1 4,0 -3-1 -1-1 3-1 -5-1 4-1 0-1 -8-2 7,0 2-1 1,0 -7-2 7,0 -3-1 6,0 -1-1 1-1 -1-1 -3-1 2-1 0-1 -3-2 1,0 -2-1 1-1 3,0 0-1 0-1 -6-2 6,0 1,0 3-1 -5-1 4,0 -4-2 2-1 3,0 -3-1 0-1 2-1 2,0 2,0 1-1 -11-3 7,1 1-1 1-1 -2-1"/><path d="M236,449 l4,1 1-1 0-1 -1-1 -1-1 -6-3 7,2 1-1 -1-1 -4-2 2,0 4,0 -2-1 4,0 0-1 -1-1 -3-2 3,0 -3-2 0-1 3,1 0-1 3,0 -1-1 2,0 -1-2 2,0 1,0 -1-1 0-1 -1-2 1,0 0-1 1,0 -3-2 3,0 2,0 -5-3 5,1 1,0 -2-2 -2-2 2,0 1,0 0-1 3,0 -9-4 10,3 -1-1 -2-2 0-1 1,0 -1-2 4,1 -3-2 4,1 -1-2 1-1 0-1 0-1 1,0 -1-1 -1-2 2,0 -1-1 0-1 3,0 1,0 -2-2 2,0 -2-2 4,2 -7-5 8,3 -4-3 -4-3 9,4 0-1 1,0 -1-2 2,0 -4-3 4,1 1,0 -3-2 1-1 1,0 2,0 -2-2 1,0 1-1 -1-1 3,0 -1-1 0-1 3,1"/><path d="M276,373 l0-1 0-1 0-1 -2-2 1-1 1,0 -1-1 2,0 1,0 -3-4 4,3 1-1 -2-3 -5-4 5,3 3,0 0-2 -1-1 -2-3 6,4 -2-3 3,1 -1-3 1,1 1,0 1-1 -3-3 3,1 -4-5 5,3 3,1 0-1 3,1 0-1 1,0 -1-2 2,1 1-1 0-1 0-1 -2-2 0-1 4,2 1-1 -1-1 -5-6 5,4 1-1 0-1 -1-2 0-1 0-1 1,0 0-1 3,1 0-1 1,0 2,0 1,0 0-1 -1-2 -1-1 1-1 2,0 2,1 1-1 -1-1 3,1 -4-5 1,0 -3-5 -1-3 5,5 4,3 -2-3 2,0 0-1 1,0 -1-2 3,2 -1-2 1,0 -1-2 1-1 0-2 2,2 1-1 2,1 2,0 -1-2 0-1 2,1 -3-5 3,2 -3-5 6,6"/><path d="M334,305 l0-2 4,4 1-1 1,1 0-2 1,1 1-1 1,1 1,0 1,0 -1-3 2,1 -1-3 1,1 2,1 -2-5 1,1 0-2 1,1 0-1 1-1 0-1 -5-9 4,3 3,4 0-2 -1-2 2,1 1,0 0-1 2,2 1-1 1,0 0-2 0-1 0-1 3,2 0-1 1,1 0-2 -5-10 9,13 -1-4 -1-2 2,1 1,1 -2-5 4,4 0-3 0-1 -1-4 3,4 -1-3 0-2 3,4 -1-4 1,1 2,0 1,0 0-2 1,2 1,0 1,0 2,1 0-2 1,1 1,1 1-1 0-2 0-1 2,1 1,0 1,1 -1-5 2,5 0-3 1,0 2,3 0-2 1,0 2,2 1,0 1,0 1,0 0-1 1-1 -1-4 2,4 0-2 1-1 2,3 -1-4 2,3 0-2 1-1"/><path d="M411,266 l1,0 0-2 2,3 0-2 1,1 1,0 0-1 1-2 -1-3 2,1 0-3 1,1 1,0 0-3 2,4 1,2 1,0 0-3 0-2 1,1 2,3 0-2 1,0 1,0 0-2 2,1 -1-5 1,2 1,0 2,3 1,1 0-2 2,2 1,0 0-1 1,0 1,0 1,0 0-4 1,4 2,3 0-2 1,0 0-2 1,0 1,0 0-6 1,4 1-3 0-3 2,6 1-1 0-1 1-2 1,2 0-3 2,3 0,1 1,0 1,1 1,0 1-2 1,1 0-1 1,1 0-6 1,2 2,2 0-2 1,0 1,2 1-1 1,1 1,3 0-1 1-3 1,3 1-1 0-2 1-1 1,3 1-3 1,3 1-2 0-1 1,2 1-4 1,1 1,4 0-8 1,7 1-2 0-10 2,11 1-1 1-6 1,5 1,0 1-1 0,1"/></g>
<g fill="#EBEBEB">
<path d="M499.1,279 A242,242 0 0 1 585.4,294.8 L573.4,326.6 A208,208 0 0 0 499.1,313 Z"/>
<path d="M591.7,297.3 A242,242 0 0 1 652.8,333.7 L631.2,360 A208,208 0 0 0 578.8,328.7 Z"/>
<path d="M657.9,338.1 A242,242 0 0 1 714.5,410 L684.3,425.6 A208,208 0 0 0 635.7,363.8 Z"/>
<path d="M717.6,416.1 A242,242 0 0 1 740.9,503.3 L706.9,505.8 A208,208 0 0 0 686.9,430.8 Z"/>
<path d="M741.3,510 A242,242 0 0 1 735.3,575.4 L702.2,567.8 A208,208 0 0 0 707.3,511.6 Z"/>
<path d="M733.7,582 A242,242 0 0 1 705.4,648.2 L676.5,630.3 A208,208 0 0 0 700.8,573.4 Z"/>
<path d="M701.8,653.9 A242,242 0 0 1 655.4,706.1 L633.5,680.1 A208,208 0 0 0 673.3,635.2 Z"/>
<path d="M650.1,710.4 A242,242 0 0 1 593.7,743.9 L580.4,712.6 A208,208 0 0 0 629,683.8 Z"/>
<path d="M587.4,746.5 A242,242 0 0 1 525.2,761.6 L521.6,727.8 A208,208 0 0 0 575.1,714.8 Z"/>
<path d="M518.5,762.3 A242,242 0 0 1 452.1,758.3 L458.7,725 A208,208 0 0 0 515.8,728.4 Z"/>
<path d="M445.5,756.9 A242,242 0 0 1 383.3,733.3 L399.6,703.4 A208,208 0 0 0 453.1,723.8 Z"/>
<path d="M377.4,729.9 A242,242 0 0 1 319.9,683.2 L345.2,660.4 A208,208 0 0 0 394.6,700.6 Z"/>
<path d="M315.5,678.2 A242,242 0 0 1 278.4,619.4 L309.5,605.6 A208,208 0 0 0 341.3,656.1 Z"/>
<path d="M275.8,613.2 A242,242 0 0 1 258.5,542.9 L292.4,539.9 A208,208 0 0 0 307.2,600.3 Z"/>
<path d="M258,536.2 A242,242 0 0 1 264.3,464.1 L297.3,472.1 A208,208 0 0 0 291.9,534.1 Z"/>
<path d="M266,457.6 A242,242 0 0 1 294,393.1 L322.9,411.1 A208,208 0 0 0 298.8,466.5 Z"/>
<path d="M297.7,387.4 A242,242 0 0 1 347.2,332.9 L368.6,359.4 A208,208 0 0 0 326.1,406.2 Z"/>
<path d="M352.5,328.8 A242,242 0 0 1 413.6,294.8 L425.6,326.6 A208,208 0 0 0 373.2,355.8 Z"/>
<path d="M419.9,292.5 A242,242 0 0 1 492.3,279.1 L493.3,313.1 A208,208 0 0 0 431.1,324.6 Z"/>
</g><g fill="url(#tg3)"><path d="M499,313 l0-15 1-2 0,1 1-1 1,1 0,4 1-2 1-4 0,3 1-2 1,1 1-4 0,3 1,2 1-4 0,5 1-4 1,2 0-2 1-1 1,1 1-3 0-1 1,4 1,0 0,3 1-2 1-5 1-2 0,8 1-5 1,1 0,3 2-11 0,2 1,2 0,8 1-1 0,2 1-1 1-4 1,0 2-11 -1,13 1-2 1-1 1,1 0,2 1,1 1-5 1,1 -1,5 2-5 2-9 0,5 -1,11 1-2 0,2 2-4 1-1 1-2 1,2 0,2 0,4 2-4 1-2 0,3 2-7 -1,9 1-3 0,2 1-1 1-1 0,3 0,2 1,2 1-1 1-3 1-1 1,0 3-11 -2,11 0,4 1-2 3-9 -3,13 2-5 2-4 -2,9 1,2 0-1 2-1 0,2 2-4 0,2 1-2 2-3 -1,4 2-3 1-2 3-6 -4,13 -1,6 3-5 1,0 2-5 1,1 -1,5 1,0 0,1 0,3 1-2 -1,4 2-2 1,0 0,2 1,0 -5,14 A208,208 0 0 0 499.1,313 Z"/><path d="M579,329 l6-16 2-1 1-2 0,1 1,1 1-1 -1,3 2-2 0,1 3-6 -2,8 1,0 5-10 -3,9 -1,2 1,0 2-2 0,1 2-3 0,2 1,0 1-1 1,0 1,0 4-5 -1,3 -1,2 3-2 -2,4 1,1 1-2 0,2 1-1 0,3 2-1 2-1 -1,3 0,1 3-4 0,2 1,0 -1,2 0,2 6-9 0,2 -2,5 0,2 1-2 -2,5 2-2 -2,5 3-3 0,1 0,2 2-1 0,1 2-1 -1,1 -1,3 1,1 1-1 3-3 -3,6 3-4 -3,6 1-1 0,1 2-1 -1,2 0,2 1-1 7-8 -3,5 0,2 -1,1 4-3 -1,3 1-1 1,0 -1,2 1,1 1-1 1,0 -1,2 5-5 -3,5 3-3 -2,3 7-7 -6,9 4-4 2-2 -4,7 4-4 -4,6 -12,14 A208,208 0 0 0 578.8,328.7 Z"/><path d="M636,364 l15-18 -2,4 0,1 -3,3 2,0 -2,3 3-3 -1,3 6-6 -2,4 2-2 -2,4 2-2 1,0 0,1 0,1 0,1 0,1 0,1 1,0 0,1 1,0 -1,2 -1,1 2,0 0,1 2-2 -2,3 4-2 1-1 -1,2 2-1 -1,2 5-4 0,2 -1,1 0,1 1,0 -2,3 3-2 2-1 3-1 -4,4 1,0 0,1 2-1 4-2 -5,4 1,1 2-1 2-1 -6,6 0,1 1,0 0,1 2-1 -2,2 0,1 1,0 11-7 -10,9 -1,1 5-3 -1,2 0,1 -1,1 13-9 -10,9 -2,2 10-7 -7,6 0,1 1,0 2,0 1,0 -2,2 0,1 2-1 -1,2 1,0 0,1 4-3 -3,4 4-1 -3,2 -1,2 1,0 3-1 3-1 -4,4 0,1 10-6 -8,6 3-1 -1,1 -2,2 2,0 -2,2 0,1 1,1 3-1 3-1 -8,5 6-2 -3,2 1,0 3-1 1,0 7-3 -7,5 3-1 -2,2 -4,3 1,0 2,0 0,1 -1,1 7-3 -5,4 -1,1 4-2 0,1 -1,2 4-2 -3,3 -16,8 A208,208 0 0 0 635.7,363.8 Z"/><path d="M687,431 l18-9 5-2 -2,2 -2,2 3-1 0,1 -3,2 3,0 -2,1 3,0 1,0 3-1 -4,3 1,1 -2,1 -1,2 3-1 0,1 7-2 -8,4 1,0 1,1 2-1 -1,2 -1,1 -4,2 8-2 -10,4 6-1 -1,1 -1,1 3-1 -6,3 4,0 -4,2 6-2 -4,2 0,1 2,0 -2,2 2,0 2,0 12-4 -8,4 2,0 6-1 -10,4 3-1 -2,2 1,0 -3,2 11-3 -9,3 6,0 -1,1 1,1 -4,2 1,0 3,0 -4,2 -2,1 3,0 -2,1 2,0 0,1 -1,1 5-1 0,1 -3,1 2,1 -3,1 -1,1 3,0 0,1 4,0 -3,2 2,0 2,0 -6,2 1,1 4-1 -5,2 3,0 -2,1 -2,1 2,1 -1,1 1,0 -2,1 3,0 4,0 -6,2 -1,1 1,0 1,1 -2,1 4,0 2,0 -1,1 8,0 -6,1 -4,1 5,0 -5,2 1,1 3,0 -3,1 -2,1 0,1 5,0 -5,1 4,1 -1,0 11,0 -11,2 -1,0 0,1 1,1 1,0 0,1 0,1 3,0 -21,2 A208,208 0 0 0 686.9,430.8 Z"/><path d="M707,512 l14-1 2,1 -2,0 -1,1 -1,1 -1,0 3,1 2,1 -1,0 4,1 -3,1 1,0 -3,1 0,1 3,0 2,1 1,1 -5,0 1,1 2,1 -3,0 0,1 9,1 -11,0 1,1 7,1 -5,0 -2,1 -1,1 7,1 -4,0 0,1 -1,0 -2,1 4,1 0,1 -3,0 0,1 1,1 4,0 -6,1 1,0 4,1 -1,1 2,1 -5,0 4,1 -4,0 3,1 -2,1 3,1 -5,0 0,1 -1,0 1,1 -2,1 6,1 -8,0 8,1 -8,0 0,1 6,1 -9,0 4,1 1,1 -1,1 2,1 2,1 2,1 1,1 -5-1 5,2 -3,0 -2,1 6,1 -2,1 -4,0 2,1 0,1 8,2 -7,0 0,1 -2,0 -2,1 2,1 2,1 2,1 -1,1 -21-5 A208,208 0 0 0 707.3,511.6 Z"/><path d="M701,573 l18,5 3,2 4,1 -5,0 0,1 2,1 -1,0 0,1 0,1 1,1 4,1 -3,0 -1,1 0,1 -4-1 0,1 -1,0 6,3 0,1 -1,0 -6-1 6,3 -6-2 -1,1 1,1 -3,0 6,2 -3,0 -4-1 -2,0 12,6 -12-4 -2,0 1,2 2,1 -3,0 2,1 1,1 -3,0 2,1 -3,0 2,1 3,2 -5-1 1,1 -3,0 -1,0 -1,0 10,5 -8-2 2,1 -1,0 3,3 -5-2 4,3 -4-2 2,2 -2,0 -2,0 -1,0 4,3 -1,0 1,1 -5-1 2,1 -3,0 -1,0 3,3 -1-1 8,5 -8-3 0,1 -3-1 -1,1 1,0 0,1 2,2 -4-1 3,2 3,3 -6-3 3,2 -3,0 -1,0 -1,0 7,5 -10-5 3,2 -4-1 0,1 14,9 -14-8 3,3 -2-1 4,3 -6-2 0,1 0,1 3,2 -16-10 A208,208 0 0 0 700.8,573.4 Z"/><path d="M673,635 l15,10 -2-1 1,2 1,1 -1,0 1,2 -2-1 4,4 -3-2 -3,0 2,1 -1,1 1,1 2,3 -5-3 -1,0 4,4 -1,0 -4-2 -2-1 0,1 0,1 2,2 1,2 -2-1 -1,1 -4-3 8,7 -6-4 1,2 4,4 -9-6 -1,0 2,3 2,1 -5-2 2,2 -2,0 -1-1 1,2 1,2 -2-1 1,2 -1-1 1,3 -1,0 -2-2 -3-1 -1,0 6,7 -4-4 -1,1 2,3 -4-4 0,2 1,3 6,6 -5-4 -4-3 0,2 0,1 -2-2 -1,0 1,2 -1,0 -2-1 1,1 -1,0 -2,0 0,1 -1,0 2,3 2,3 0,1 1,1 -4-3 -1,0 -1,1 -1,0 -2-1 0,1 -1,0 3,4 -3-2 -1-1 2,4 -2-1 -2-1 2,2 -1,1 -2-2 2,4 -2-1 -1-1 5,7 -15-17 A208,208 0 0 0 673.3,635.2 Z"/><path d="M629,684 l12,15 -1,1 -1,0 0,1 -2-2 -1,0 -1,0 0,1 0,1 1,3 1,2 -4-4 0,1 0,1 0,1 -2-2 -2-1 2,5 -4-5 -1,0 -2-2 2,4 1,3 -1-1 -1,0 -1-1 1,3 -2-1 3,6 -5-5 0,2 -2-2 1,3 2,3 -3-3 0,2 5,9 -5-7 1,4 2,4 -3-3 -2-3 -2-1 0,1 0,2 4,8 -5-8 -1,0 -1-1 -1,1 0,1 4,8 -3-4 0,2 -2-3 -2-1 0,1 0,2 2,4 -2-3 -1,0 -1,1 -3-5 0,1 1,5 -2-4 -1,0 3,7 -4-6 -1,0 1,2 0,3 -1-1 -1,1 -2-2 0,3 -2-4 -1,0 0,1 -1-1 -1,1 0,1 -1,0 0,4 -1-1 -2-3 -7-16 A208,208 0 0 0 629,683.8 Z"/><path d="M575,715 l6,14 2,7 -1-1 -1,1 -1,0 -1-1 -1,0 -1-1 1,4 -2-5 -1,1 1,4 -2-4 -1,1 0-1 0,5 -1-1 -1,0 4,12 -5-13 0,2 -2-3 0,1 -1,1 1,5 -3-8 0,2 -1-1 1,5 -1-1 0,3 -1-1 1,8 -2-5 -1-1 -2-4 0,3 -2-2 0,3 -1-1 -1-2 -1,1 0,3 -2-5 0,2 0,2 -1-2 0,5 -1-1 -1-2 -1,0 0,1 -1,2 -1-3 -1-1 0,4 -1-2 -1-1 0,3 -1-4 -1,2 0-1 0,4 -1-2 -2-3 0,4 -1-2 0,4 -2-7 0,1 -1,2 0,3 -1-5 -1,0 0,6 -1-3 -1-3 -1,1 -1-3 0,3 -1,0 1,6 -2-5 -1-1 1,11 -2-7 -1-5 -1-15 A208,208 0 0 0 575.1,714.8 Z"/><path d="M516,728 l1,20 0-2 -1,0 -1,3 -1-4 0-2 -1,4 -1-2 0,1 -1,0 0,11 -1-11 -1,1 -1-3 0,4 -1-3 -1,1 0,1 -1,3 -1-4 -1-2 0,3 -1,0 0,1 -1,0 -1-2 -1-1 -1,6 -1,1 0-10 -1,2 -1,0 0-2 -1,0 -1,1 0-1 -1,2 -1,0 0-2 -1,1 -1-2 0-2 -1,1 -1,2 -1,11 0-6 -1-5 -1,7 0-6 -1,0 -1,2 0-4 -1,1 -1,2 -1,4 -1,0 0-7 -1,2 0-1 -1,1 -2,8 1-10 -2,6 0-1 -1-2 0-2 -1,0 -1,3 -1,0 -1,7 1-11 -2,3 -1,1 -1,3 -1-1 0-4 -1,4 0-3 -1-2 -1,4 0-4 -1-1 0,1 -1-1 -1,0 0-3 -1,3 -1,2 0-5 3-13 A208,208 0 0 0 515.8,728.4 Z"/><path d="M453,724 l-4,18 -1,2 -2,6 1-9 -1,3 -2,4 1-6 -1,1 -1-1 0-3 -1-2 -2,2 -2,5 0-2 1-4 -1,0 -1,2 0-4 0-3 -1,0 -1,1 -1,3 0-1 -2,3 -1,1 -1-1 0-3 -1,2 0-4 0-2 -1,1 -2,3 1-4 -2,3 -1-1 0-1 -4,9 3-10 -2,3 0-4 -1,1 1-3 -1,0 -3,7 2-7 -4,6 2-5 -2,4 -1-1 0-1 -1,0 1-3 -1,0 -1,1 -1,0 -2,3 0-2 -1,0 0-1 -2,3 0-2 -1,0 -4,7 5-11 -2,2 0-3 -1,0 -1,0 -1,1 -1,0 0-2 0-2 1-2 -1,0 0-2 0-1 -8,14 5-12 1-3 -2,2 0-1 -1,1 0-1 -4,5 0-2 1-2 1-3 7-13 A208,208 0 0 0 453.1,723.8 Z"/><path d="M395,701 l-10,16 -1,1 -1-1 -3,4 5-9 -1,0 -3,3 0-1 1-3 -4,6 2-5 0-1 -1,1 -3,3 0-2 1-2 -3,2 1-2 -1,0 1-2 -1-1 -2,2 -5,7 4-8 2-3 -1,0 0-2 0-1 -4,5 1-3 1-3 -2,2 1-2 1-2 -2,0 -1,1 -1-1 -2,1 2-3 -5,6 2-4 0-2 -3,4 -1-1 2-3 -1,0 0-1 0-1 -2,1 -2,2 2-3 -7,6 4-5 1-2 -1-1 0-1 0-1 -1,1 0-2 0-1 -3,3 -1,0 -5,5 3-5 -3,2 2-3 -2,1 -1,1 -3,2 2-4 1-2 1-2 -1,0 0-1 -1,1 0-2 -1,1 0-2 1-2 -4,4 1-3 1-2 1-2 -1,0 -2,1 -1,0 0-1 -7,6 5-6 -1,0 -6,5 3-4 3-4 -3,2 2-3 -2,1 -2,1 2-3 -1,0 1-2 -4,3 17-16 A208,208 0 0 0 394.6,700.6 Z"/><path d="M341,656 l-14,12 0-1 0-1 -3,2 3-3 -6,4 6-6 -3,2 -1-1 1-1 0-1 0-1 2-2 -3,1 1-2 -1,0 -4,3 4-5 -6,4 2-3 1-2 -7,5 6-5 -5,3 3-3 -3,1 1-2 -4,3 2-3 -1,0 -2,0 3-2 -1-1 -1,0 2-2 -2,0 0-1 -2,0 -1,1 0-1 -1-1 3-3 2-1 -1-1 1-1 -7,3 6-4 -1,0 -1-1 -2,1 1-2 1-1 -1,0 -3,1 -4,1 4-2 3-3 -3,1 2-2 -14,7 15-9 -5,2 0-1 -1,0 5-4 -7,4 4-3 -1-1 1-1 -4,2 4-3 0-1 -5,1 -3,2 -1-1 6-4 -2,0 2-1 -4,1 3-2 -1,0 -6,2 -2,0 -1,0 9-6 -3,1 -1,0 -1,0 -1,0 0-1 0-1 2-2 1-1 -4,1 0-1 17-7 A208,208 0 0 0 341.3,656.1 Z"/><path d="M307,600 l-17,8 1-2 -7,2 5-2 1-2 -3,1 1-1 3-2 0-1 -7,2 5-3 -1,0 0-1 -9,3 9-4 0-1 -2,0 0-1 1-1 -7,2 5-2 -3,0 3-2 -14,4 13-5 -7,2 4-2 -3,0 3-2 -12,3 13-4 -5,0 4-2 -5,1 5-2 -5,1 5-2 -3,0 2-2 -3,0 4-1 1-1 -3,0 0-1 1-1 -6,1 7-3 -4,1 6-2 -10,1 5-1 1-2 0-1 -4,0 2-1 1-1 -5,1 -1-1 -2,0 8-3 2-1 -2,0 1-1 -6,1 4-2 -1,0 2-1 -6,0 5-2 1,0 0-1 -1-1 3-1 2-1 -5,0 4-1 -2-1 -3,0 1,0 3-2 -1,0 -7,0 3-1 -1,0 2-1 -11,0 9-2 1,0 -13,1 11-2 -3-1 4-1 -3,0 3-1 -3-1 -5-1 7-1 -1-1 -1,0 21-2 A208,208 0 0 0 307.2,600.3 Z"/><path d="M292,534 l-20,1 -7,0 3-1 1-1 -4,0 7-1 0-1 -7,0 5-1 -1-1 -3,0 7-1 0-1 -1-1 1-1 1-1 -7,0 5-1 -1-1 -2,0 1-1 3-1 -2,0 2-1 -1-1 -3-1 2,0 0-1 -2-1 -4-1 5-1 2,0 1-1 2,0 0-1 2-1 -4-1 -1,0 3-1 0-1 -2,0 -2-1 3-1 2-1 -3-1 -1-1 -2,0 6-1 2-1 -2-1 -2,0 -1-1 2-1 -1-1 4,0 -1-1 3-1 -4-1 2-1 -2-1 5,0 -1-1 -1-1 3,0 -1-1 1-1 -3-1 -2-1 5,0 -3-1 -1-1 0-1 2,0 -3-2 -5-1 5,0 -2-1 9,1 0-1 -12-3 12,2 0-1 1,0 0-1 -1-1 -1-1 -2-1 2,0 3,0 -3-1 -1-1 -3-2 4,1 14,3 A208,208 0 0 0 291.9,534.1 Z"/><path d="M299,466 l-17-4 -13-4 14,3 -3-2 3,0 2,0 -1-1 -1-1 -3-2 0-1 2,0 0-1 -1-1 2,0 -1-2 -7-3 7,2 1,0 1-1 -3-1 3,0 1-1 -10-4 10,3 -1-1 4,1 -5-3 0-1 4,1 1,0 -5-3 2,0 4,1 1-1 -3-1 0-1 -3-2 7,2 0-1 -9-4 6,2 3,0 2,0 -2-2 -5-3 6,2 -1-1 3,0 -3-2 2,0 -4-3 4,1 0-1 -1-1 -10-5 11,4 1,0 -4-3 8,3 -4-2 2,0 2,0 4,1 -2-2 1,0 1,0 -4-3 1,0 4,1 -2-1 -3-3 2,1 2,0 0-1 -2-2 2,0 -1-1 -2-2 4,1 1-1 2,1 -3-3 1,0 2,0 -4-3 3,1 -4-3 2,0 3,1 -3-3 4,2 -2-2 18,11 A208,208 0 0 0 298.8,466.5 Z"/><path d="M326,406 l-10-7 -1-1 3,1 -4-3 4,2 1,0 0-1 -7-6 1,0 5,3 0-1 -1-2 -1-1 0-1 3,1 -3-3 -2-2 0-1 0-1 -3-3 3,2 2,0 -6-5 11,7 0-1 2,1 0-1 1,0 0-1 2,1 -1-2 -1-1 1-1 0-1 -6-5 7,5 2,0 0-1 1,0 -2-2 0-1 -8-8 7,5 -3-3 8,6 -1-1 1-1 -2-3 2,1 1,0 1,0 -4-4 0-1 5,3 -1-2 3,2 2,1 -2-3 4,3 -2-3 -1-2 0-1 3,2 1,1 0-1 -8-9 -2-3 10,8 -1-1 -1-2 0-1 1,0 0-1 2,1 1,1 1,0 1-1 -2-3 2,2 0-2 -2-3 3,3 1,0 0-2 2,2 -1-2 0-1 0-1 1,0 -2-4 5,4 -1-1 1,0 2,0 -1-2 0-1 1,1 0-1 2,1 1,1 1-1 -1-2 12,14 A208,208 0 0 0 326.1,406.2 Z"/><path d="M373,356 l-11-15 2,2 -1-3 -2-3 -1-3 6,7 1-1 -1-2 1,1 -2-5 -1-2 1,0 6,7 -1-1 -1-3 2,2 1-1 0-1 2,2 1,0 1,1 -1-4 -1-3 3,3 0-2 -1-1 1-1 1,1 1,0 1,0 -3-5 3,2 1,1 1,0 -1-3 4,5 -1-2 3,3 -1-2 -1-3 3,3 -1-2 0-1 -1-4 2,2 1,0 -5-10 6,9 -2-5 2,3 1,0 -2-5 1,0 4,5 0-1 -1-2 1,0 0-2 0-1 0-2 0-1 0-2 1,1 2,1 2,3 0-2 1,1 1,1 1,1 2,1 -1-2 2,2 -1-3 2,1 1,1 0-1 2,2 -1-3 1,0 2,4 1,0 0-2 0-3 1,2 1,0 0-1 -1-4 1,0 -1-3 2,3 3,5 0-3 -1-2 1-1 1,2 -3-10 10,25 A208,208 0 0 0 373.2,355.8 Z"/><path d="M431,325 l-5-16 0-1 0-1 -2-10 4,10 0-3 0-2 2,4 -1-6 2,4 1,1 1,0 0-3 1,0 -1-5 3,5 -1-4 1,2 1,0 1-2 0-2 1,1 1,1 1,2 0-7 2,7 1-1 0-1 1,1 0-2 0-2 1,2 2,2 1,2 1,0 0-3 1,1 0-3 0-7 3,12 0-2 -1-8 3,10 0-5 1,5 0-3 2,4 0-5 1-1 0-1 2,3 0-2 1,1 0-4 1,3 1,2 0-2 1,1 1-2 1,2 0-1 1,1 1,2 0-3 1,3 0-5 1-4 0-3 2,10 0-3 0-3 2,4 0-3 1-1 0-2 1,6 1,1 1,3 1,1 0-1 1-7 1,7 0-1 1-1 1-2 1,6 0,1 1-1 1-1 0-6 1,5 1,1 0,1 1-8 0,3 1,3 1-1 0,15 A208,208 0 0 0 431.1,324.6 Z"/></g>
<g fill="none" stroke="#D43FD6" stroke-width="1.8" stroke-linejoin="round"><path d="M499,298 l1-2 0,1 1-1 1,1 0,4 1-2 1-4 0,3 1-2 1,1 1-4 0,3 1,2 1-4 0,5 1-4 1,2 0-2 1-1 1,1 1-3 0-1 1,4 1,0 0,3 1-2 1-5 1-2 0,8 1-5 1,1 0,3 2-11 0,2 1,2 0,8 1-1 0,2 1-1 1-4 1,0 2-11 -1,13 1-2 1-1 1,1 0,2 1,1 1-5 1,1 -1,5 2-5 2-9 0,5 -1,11 1-2 0,2 2-4 1-1 1-2 1,2 0,2 0,4 2-4 1-2 0,3 2-7 -1,9 1-3 0,2 1-1 1-1 0,3 0,2 1,2 1-1 1-3 1-1 1,0 3-11 -2,11 0,4 1-2 3-9 -3,13 2-5 2-4 -2,9 1,2 0-1 2-1 0,2 2-4 0,2 1-2 2-3 -1,4 2-3 1-2 3-6 -4,13 -1,6 3-5 1,0 2-5 1,1 -1,5 1,0 0,1 0,3 1-2 -1,4 2-2 1,0 0,2 1,0"/><path d="M585,313 l2-1 1-2 0,1 1,1 1-1 -1,3 2-2 0,1 3-6 -2,8 1,0 5-10 -3,9 -1,2 1,0 2-2 0,1 2-3 0,2 1,0 1-1 1,0 1,0 4-5 -1,3 -1,2 3-2 -2,4 1,1 1-2 0,2 1-1 0,3 2-1 2-1 -1,3 0,1 3-4 0,2 1,0 -1,2 0,2 6-9 0,2 -2,5 0,2 1-2 -2,5 2-2 -2,5 3-3 0,1 0,2 2-1 0,1 2-1 -1,1 -1,3 1,1 1-1 3-3 -3,6 3-4 -3,6 1-1 0,1 2-1 -1,2 0,2 1-1 7-8 -3,5 0,2 -1,1 4-3 -1,3 1-1 1,0 -1,2 1,1 1-1 1,0 -1,2 5-5 -3,5 3-3 -2,3 7-7 -6,9 4-4 2-2 -4,7 4-4 -4,6"/><path d="M651,346 l-2,4 0,1 -3,3 2,0 -2,3 3-3 -1,3 6-6 -2,4 2-2 -2,4 2-2 1,0 0,1 0,1 0,1 0,1 0,1 1,0 0,1 1,0 -1,2 -1,1 2,0 0,1 2-2 -2,3 4-2 1-1 -1,2 2-1 -1,2 5-4 0,2 -1,1 0,1 1,0 -2,3 3-2 2-1 3-1 -4,4 1,0 0,1 2-1 4-2 -5,4 1,1 2-1 2-1 -6,6 0,1 1,0 0,1 2-1 -2,2 0,1 1,0 11-7 -10,9 -1,1 5-3 -1,2 0,1 -1,1 13-9 -10,9 -2,2 10-7 -7,6 0,1 1,0 2,0 1,0 -2,2 0,1 2-1 -1,2 1,0 0,1 4-3 -3,4 4-1 -3,2 -1,2 1,0 3-1 3-1 -4,4 0,1 10-6 -8,6 3-1 -1,1 -2,2 2,0 -2,2 0,1 1,1 3-1 3-1 -8,5 6-2 -3,2 1,0 3-1 1,0 7-3 -7,5 3-1 -2,2 -4,3 1,0 2,0 0,1 -1,1 7-3 -5,4 -1,1 4-2 0,1 -1,2 4-2 -3,3"/><path d="M705,422 l5-2 -2,2 -2,2 3-1 0,1 -3,2 3,0 -2,1 3,0 1,0 3-1 -4,3 1,1 -2,1 -1,2 3-1 0,1 7-2 -8,4 1,0 1,1 2-1 -1,2 -1,1 -4,2 8-2 -10,4 6-1 -1,1 -1,1 3-1 -6,3 4,0 -4,2 6-2 -4,2 0,1 2,0 -2,2 2,0 2,0 12-4 -8,4 2,0 6-1 -10,4 3-1 -2,2 1,0 -3,2 11-3 -9,3 6,0 -1,1 1,1 -4,2 1,0 3,0 -4,2 -2,1 3,0 -2,1 2,0 0,1 -1,1 5-1 0,1 -3,1 2,1 -3,1 -1,1 3,0 0,1 4,0 -3,2 2,0 2,0 -6,2 1,1 4-1 -5,2 3,0 -2,1 -2,1 2,1 -1,1 1,0 -2,1 3,0 4,0 -6,2 -1,1 1,0 1,1 -2,1 4,0 2,0 -1,1 8,0 -6,1 -4,1 5,0 -5,2 1,1 3,0 -3,1 -2,1 0,1 5,0 -5,1 4,1 -1,0 11,0 -11,2 -1,0 0,1 1,1 1,0 0,1 0,1 3,0"/><path d="M721,511 l2,1 -2,0 -1,1 -1,1 -1,0 3,1 2,1 -1,0 4,1 -3,1 1,0 -3,1 0,1 3,0 2,1 1,1 -5,0 1,1 2,1 -3,0 0,1 9,1 -11,0 1,1 7,1 -5,0 -2,1 -1,1 7,1 -4,0 0,1 -1,0 -2,1 4,1 0,1 -3,0 0,1 1,1 4,0 -6,1 1,0 4,1 -1,1 2,1 -5,0 4,1 -4,0 3,1 -2,1 3,1 -5,0 0,1 -1,0 1,1 -2,1 6,1 -8,0 8,1 -8,0 0,1 6,1 -9,0 4,1 1,1 -1,1 2,1 2,1 2,1 1,1 -5-1 5,2 -3,0 -2,1 6,1 -2,1 -4,0 2,1 0,1 8,2 -7,0 0,1 -2,0 -2,1 2,1 2,1 2,1 -1,1"/><path d="M719,578 l3,2 4,1 -5,0 0,1 2,1 -1,0 0,1 0,1 1,1 4,1 -3,0 -1,1 0,1 -4-1 0,1 -1,0 6,3 0,1 -1,0 -6-1 6,3 -6-2 -1,1 1,1 -3,0 6,2 -3,0 -4-1 -2,0 12,6 -12-4 -2,0 1,2 2,1 -3,0 2,1 1,1 -3,0 2,1 -3,0 2,1 3,2 -5-1 1,1 -3,0 -1,0 -1,0 10,5 -8-2 2,1 -1,0 3,3 -5-2 4,3 -4-2 2,2 -2,0 -2,0 -1,0 4,3 -1,0 1,1 -5-1 2,1 -3,0 -1,0 3,3 -1-1 8,5 -8-3 0,1 -3-1 -1,1 1,0 0,1 2,2 -4-1 3,2 3,3 -6-3 3,2 -3,0 -1,0 -1,0 7,5 -10-5 3,2 -4-1 0,1 14,9 -14-8 3,3 -2-1 4,3 -6-2 0,1 0,1 3,2"/><path d="M688,645 l-2-1 1,2 1,1 -1,0 1,2 -2-1 4,4 -3-2 -3,0 2,1 -1,1 1,1 2,3 -5-3 -1,0 4,4 -1,0 -4-2 -2-1 0,1 0,1 2,2 1,2 -2-1 -1,1 -4-3 8,7 -6-4 1,2 4,4 -9-6 -1,0 2,3 2,1 -5-2 2,2 -2,0 -1-1 1,2 1,2 -2-1 1,2 -1-1 1,3 -1,0 -2-2 -3-1 -1,0 6,7 -4-4 -1,1 2,3 -4-4 0,2 1,3 6,6 -5-4 -4-3 0,2 0,1 -2-2 -1,0 1,2 -1,0 -2-1 1,1 -1,0 -2,0 0,1 -1,0 2,3 2,3 0,1 1,1 -4-3 -1,0 -1,1 -1,0 -2-1 0,1 -1,0 3,4 -3-2 -1-1 2,4 -2-1 -2-1 2,2 -1,1 -2-2 2,4 -2-1 -1-1 5,7"/><path d="M641,699 l-1,1 -1,0 0,1 -2-2 -1,0 -1,0 0,1 0,1 1,3 1,2 -4-4 0,1 0,1 0,1 -2-2 -2-1 2,5 -4-5 -1,0 -2-2 2,4 1,3 -1-1 -1,0 -1-1 1,3 -2-1 3,6 -5-5 0,2 -2-2 1,3 2,3 -3-3 0,2 5,9 -5-7 1,4 2,4 -3-3 -2-3 -2-1 0,1 0,2 4,8 -5-8 -1,0 -1-1 -1,1 0,1 4,8 -3-4 0,2 -2-3 -2-1 0,1 0,2 2,4 -2-3 -1,0 -1,1 -3-5 0,1 1,5 -2-4 -1,0 3,7 -4-6 -1,0 1,2 0,3 -1-1 -1,1 -2-2 0,3 -2-4 -1,0 0,1 -1-1 -1,1 0,1 -1,0 0,4 -1-1 -2-3"/><path d="M581,729 l2,7 -1-1 -1,1 -1,0 -1-1 -1,0 -1-1 1,4 -2-5 -1,1 1,4 -2-4 -1,1 0-1 0,5 -1-1 -1,0 4,12 -5-13 0,2 -2-3 0,1 -1,1 1,5 -3-8 0,2 -1-1 1,5 -1-1 0,3 -1-1 1,8 -2-5 -1-1 -2-4 0,3 -2-2 0,3 -1-1 -1-2 -1,1 0,3 -2-5 0,2 0,2 -1-2 0,5 -1-1 -1-2 -1,0 0,1 -1,2 -1-3 -1-1 0,4 -1-2 -1-1 0,3 -1-4 -1,2 0-1 0,4 -1-2 -2-3 0,4 -1-2 0,4 -2-7 0,1 -1,2 0,3 -1-5 -1,0 0,6 -1-3 -1-3 -1,1 -1-3 0,3 -1,0 1,6 -2-5 -1-1 1,11 -2-7 -1-5"/><path d="M517,748 l0-2 -1,0 -1,3 -1-4 0-2 -1,4 -1-2 0,1 -1,0 0,11 -1-11 -1,1 -1-3 0,4 -1-3 -1,1 0,1 -1,3 -1-4 -1-2 0,3 -1,0 0,1 -1,0 -1-2 -1-1 -1,6 -1,1 0-10 -1,2 -1,0 0-2 -1,0 -1,1 0-1 -1,2 -1,0 0-2 -1,1 -1-2 0-2 -1,1 -1,2 -1,11 0-6 -1-5 -1,7 0-6 -1,0 -1,2 0-4 -1,1 -1,2 -1,4 -1,0 0-7 -1,2 0-1 -1,1 -2,8 1-10 -2,6 0-1 -1-2 0-2 -1,0 -1,3 -1,0 -1,7 1-11 -2,3 -1,1 -1,3 -1-1 0-4 -1,4 0-3 -1-2 -1,4 0-4 -1-1 0,1 -1-1 -1,0 0-3 -1,3 -1,2 0-5"/><path d="M449,742 l-1,2 -2,6 1-9 -1,3 -2,4 1-6 -1,1 -1-1 0-3 -1-2 -2,2 -2,5 0-2 1-4 -1,0 -1,2 0-4 0-3 -1,0 -1,1 -1,3 0-1 -2,3 -1,1 -1-1 0-3 -1,2 0-4 0-2 -1,1 -2,3 1-4 -2,3 -1-1 0-1 -4,9 3-10 -2,3 0-4 -1,1 1-3 -1,0 -3,7 2-7 -4,6 2-5 -2,4 -1-1 0-1 -1,0 1-3 -1,0 -1,1 -1,0 -2,3 0-2 -1,0 0-1 -2,3 0-2 -1,0 -4,7 5-11 -2,2 0-3 -1,0 -1,0 -1,1 -1,0 0-2 0-2 1-2 -1,0 0-2 0-1 -8,14 5-12 1-3 -2,2 0-1 -1,1 0-1 -4,5 0-2 1-2 1-3"/><path d="M385,717 l-1,1 -1-1 -3,4 5-9 -1,0 -3,3 0-1 1-3 -4,6 2-5 0-1 -1,1 -3,3 0-2 1-2 -3,2 1-2 -1,0 1-2 -1-1 -2,2 -5,7 4-8 2-3 -1,0 0-2 0-1 -4,5 1-3 1-3 -2,2 1-2 1-2 -2,0 -1,1 -1-1 -2,1 2-3 -5,6 2-4 0-2 -3,4 -1-1 2-3 -1,0 0-1 0-1 -2,1 -2,2 2-3 -7,6 4-5 1-2 -1-1 0-1 0-1 -1,1 0-2 0-1 -3,3 -1,0 -5,5 3-5 -3,2 2-3 -2,1 -1,1 -3,2 2-4 1-2 1-2 -1,0 0-1 -1,1 0-2 -1,1 0-2 1-2 -4,4 1-3 1-2 1-2 -1,0 -2,1 -1,0 0-1 -7,6 5-6 -1,0 -6,5 3-4 3-4 -3,2 2-3 -2,1 -2,1 2-3 -1,0 1-2 -4,3"/><path d="M327,668 l0-1 0-1 -3,2 3-3 -6,4 6-6 -3,2 -1-1 1-1 0-1 0-1 2-2 -3,1 1-2 -1,0 -4,3 4-5 -6,4 2-3 1-2 -7,5 6-5 -5,3 3-3 -3,1 1-2 -4,3 2-3 -1,0 -2,0 3-2 -1-1 -1,0 2-2 -2,0 0-1 -2,0 -1,1 0-1 -1-1 3-3 2-1 -1-1 1-1 -7,3 6-4 -1,0 -1-1 -2,1 1-2 1-1 -1,0 -3,1 -4,1 4-2 3-3 -3,1 2-2 -14,7 15-9 -5,2 0-1 -1,0 5-4 -7,4 4-3 -1-1 1-1 -4,2 4-3 0-1 -5,1 -3,2 -1-1 6-4 -2,0 2-1 -4,1 3-2 -1,0 -6,2 -2,0 -1,0 9-6 -3,1 -1,0 -1,0 -1,0 0-1 0-1 2-2 1-1 -4,1 0-1"/><path d="M290,608 l1-2 -7,2 5-2 1-2 -3,1 1-1 3-2 0-1 -7,2 5-3 -1,0 0-1 -9,3 9-4 0-1 -2,0 0-1 1-1 -7,2 5-2 -3,0 3-2 -14,4 13-5 -7,2 4-2 -3,0 3-2 -12,3 13-4 -5,0 4-2 -5,1 5-2 -5,1 5-2 -3,0 2-2 -3,0 4-1 1-1 -3,0 0-1 1-1 -6,1 7-3 -4,1 6-2 -10,1 5-1 1-2 0-1 -4,0 2-1 1-1 -5,1 -1-1 -2,0 8-3 2-1 -2,0 1-1 -6,1 4-2 -1,0 2-1 -6,0 5-2 1,0 0-1 -1-1 3-1 2-1 -5,0 4-1 -2-1 -3,0 1,0 3-2 -1,0 -7,0 3-1 -1,0 2-1 -11,0 9-2 1,0 -13,1 11-2 -3-1 4-1 -3,0 3-1 -3-1 -5-1 7-1 -1-1 -1,0"/><path d="M272,535 l-7,0 3-1 1-1 -4,0 7-1 0-1 -7,0 5-1 -1-1 -3,0 7-1 0-1 -1-1 1-1 1-1 -7,0 5-1 -1-1 -2,0 1-1 3-1 -2,0 2-1 -1-1 -3-1 2,0 0-1 -2-1 -4-1 5-1 2,0 1-1 2,0 0-1 2-1 -4-1 -1,0 3-1 0-1 -2,0 -2-1 3-1 2-1 -3-1 -1-1 -2,0 6-1 2-1 -2-1 -2,0 -1-1 2-1 -1-1 4,0 -1-1 3-1 -4-1 2-1 -2-1 5,0 -1-1 -1-1 3,0 -1-1 1-1 -3-1 -2-1 5,0 -3-1 -1-1 0-1 2,0 -3-2 -5-1 5,0 -2-1 9,1 0-1 -12-3 12,2 0-1 1,0 0-1 -1-1 -1-1 -2-1 2,0 3,0 -3-1 -1-1 -3-2 4,1"/><path d="M282,462 l-13-4 14,3 -3-2 3,0 2,0 -1-1 -1-1 -3-2 0-1 2,0 0-1 -1-1 2,0 -1-2 -7-3 7,2 1,0 1-1 -3-1 3,0 1-1 -10-4 10,3 -1-1 4,1 -5-3 0-1 4,1 1,0 -5-3 2,0 4,1 1-1 -3-1 0-1 -3-2 7,2 0-1 -9-4 6,2 3,0 2,0 -2-2 -5-3 6,2 -1-1 3,0 -3-2 2,0 -4-3 4,1 0-1 -1-1 -10-5 11,4 1,0 -4-3 8,3 -4-2 2,0 2,0 4,1 -2-2 1,0 1,0 -4-3 1,0 4,1 -2-1 -3-3 2,1 2,0 0-1 -2-2 2,0 -1-1 -2-2 4,1 1-1 2,1 -3-3 1,0 2,0 -4-3 3,1 -4-3 2,0 3,1 -3-3 4,2 -2-2"/><path d="M316,399 l-1-1 3,1 -4-3 4,2 1,0 0-1 -7-6 1,0 5,3 0-1 -1-2 -1-1 0-1 3,1 -3-3 -2-2 0-1 0-1 -3-3 3,2 2,0 -6-5 11,7 0-1 2,1 0-1 1,0 0-1 2,1 -1-2 -1-1 1-1 0-1 -6-5 7,5 2,0 0-1 1,0 -2-2 0-1 -8-8 7,5 -3-3 8,6 -1-1 1-1 -2-3 2,1 1,0 1,0 -4-4 0-1 5,3 -1-2 3,2 2,1 -2-3 4,3 -2-3 -1-2 0-1 3,2 1,1 0-1 -8-9 -2-3 10,8 -1-1 -1-2 0-1 1,0 0-1 2,1 1,1 1,0 1-1 -2-3 2,2 0-2 -2-3 3,3 1,0 0-2 2,2 -1-2 0-1 0-1 1,0 -2-4 5,4 -1-1 1,0 2,0 -1-2 0-1 1,1 0-1 2,1 1,1 1-1 -1-2"/><path d="M362,341 l2,2 -1-3 -2-3 -1-3 6,7 1-1 -1-2 1,1 -2-5 -1-2 1,0 6,7 -1-1 -1-3 2,2 1-1 0-1 2,2 1,0 1,1 -1-4 -1-3 3,3 0-2 -1-1 1-1 1,1 1,0 1,0 -3-5 3,2 1,1 1,0 -1-3 4,5 -1-2 3,3 -1-2 -1-3 3,3 -1-2 0-1 -1-4 2,2 1,0 -5-10 6,9 -2-5 2,3 1,0 -2-5 1,0 4,5 0-1 -1-2 1,0 0-2 0-1 0-2 0-1 0-2 1,1 2,1 2,3 0-2 1,1 1,1 1,1 2,1 -1-2 2,2 -1-3 2,1 1,1 0-1 2,2 -1-3 1,0 2,4 1,0 0-2 0-3 1,2 1,0 0-1 -1-4 1,0 -1-3 2,3 3,5 0-3 -1-2 1-1 1,2 -3-10"/><path d="M426,309 l0-1 0-1 -2-10 4,10 0-3 0-2 2,4 -1-6 2,4 1,1 1,0 0-3 1,0 -1-5 3,5 -1-4 1,2 1,0 1-2 0-2 1,1 1,1 1,2 0-7 2,7 1-1 0-1 1,1 0-2 0-2 1,2 2,2 1,2 1,0 0-3 1,1 0-3 0-7 3,12 0-2 -1-8 3,10 0-5 1,5 0-3 2,4 0-5 1-1 0-1 2,3 0-2 1,1 0-4 1,3 1,2 0-2 1,1 1-2 1,2 0-1 1,1 1,2 0-3 1,3 0-5 1-4 0-3 2,10 0-3 0-3 2,4 0-3 1-1 0-2 1,6 1,1 1,3 1,1 0-1 1-7 1,7 0-1 1-1 1-2 1,6 0,1 1-1 1-1 0-6 1,5 1,1 0,1 1-8 0,3 1,3 1-1"/></g>
<g fill="#FDE26E">
<path d="M499.2,322 A199,199 0 0 1 570.2,335 L559.5,363 A169,169 0 0 0 499.2,352 Z"/>
<path d="M575.3,337 A199,199 0 0 1 625.5,367 L606.5,390.2 A169,169 0 0 0 563.9,364.8 Z"/>
<path d="M629.8,370.6 A199,199 0 0 1 676.3,429.7 L649.7,443.5 A169,169 0 0 0 610.2,393.3 Z"/>
<path d="M678.8,434.7 A199,199 0 0 1 698,506.4 L668,508.6 A169,169 0 0 0 651.8,447.7 Z"/>
<path d="M698.3,512 A199,199 0 0 1 693.4,565.8 L664.2,559 A169,169 0 0 0 668.3,513.3 Z"/>
<path d="M692.1,571.2 A199,199 0 0 1 668.8,625.6 L643.3,609.8 A169,169 0 0 0 663,563.6 Z"/>
<path d="M665.8,630.3 A199,199 0 0 1 627.7,673.2 L608.4,650.3 A169,169 0 0 0 640.8,613.8 Z"/>
<path d="M623.4,676.7 A199,199 0 0 1 576.9,704.3 L565.3,676.7 A169,169 0 0 0 604.7,653.3 Z"/>
<path d="M571.8,706.4 A199,199 0 0 1 520.6,718.9 L517.5,689 A169,169 0 0 0 560.9,678.5 Z"/>
<path d="M515.1,719.4 A199,199 0 0 1 460.5,716.1 L466.4,686.7 A169,169 0 0 0 512.8,689.5 Z"/>
<path d="M455.1,715 A199,199 0 0 1 403.9,695.6 L418.3,669.2 A169,169 0 0 0 461.8,685.7 Z"/>
<path d="M399.1,692.8 A199,199 0 0 1 351.8,654.4 L374.1,634.3 A169,169 0 0 0 414.2,666.9 Z"/>
<path d="M348.2,650.2 A199,199 0 0 1 317.7,601.9 L345.1,589.7 A169,169 0 0 0 371,630.8 Z"/>
<path d="M315.5,596.8 A199,199 0 0 1 301.3,539 L331.2,536.3 A169,169 0 0 0 343.3,585.4 Z"/>
<path d="M300.9,533.5 A199,199 0 0 1 306.1,474.2 L335.2,481.3 A169,169 0 0 0 330.8,531.6 Z"/>
<path d="M307.5,468.8 A199,199 0 0 1 330.6,415.8 L356,431.7 A169,169 0 0 0 336.4,476.7 Z"/>
<path d="M333.6,411.2 A199,199 0 0 1 374.3,366.3 L393.1,389.7 A169,169 0 0 0 358.6,427.7 Z"/>
<path d="M378.6,362.9 A199,199 0 0 1 428.8,335 L439.5,363 A169,169 0 0 0 396.9,386.7 Z"/>
<path d="M434.1,333.1 A199,199 0 0 1 493.6,322.1 L494.5,352.1 A169,169 0 0 0 443.9,361.4 Z"/>
</g><g fill="#F8924A">
<path d="M499,352 l1,0 1,0 1,0 1,0 1,0 1,0 0-4 1-12 1,1 0,5 0-9 1-8 1,2 0-5 1,0 0,7 0-7 1,1 0-1 0,14 1-9 0-1 1-4 1,1 0,1 1-1 0,6 -1,7 1-1 -1,13 1-2 0,5 0,2 0-2 1,2 0-2 1-2 0-2 0,1 1,0 0,1 0,2 1,0 0,1 0,1 1,0 1,0 0-1 1,1 0-2 0,2 1,0 0-3 0,4 1,0 1-1 1,0 0,1 1,0 1,0 1,1 1,0 1-2 0,2 1-5 0,3 1-3 1,0 0,1 0,4 1-3 0,2 1-3 0,3 1-1 0-2 0,3 0,2 1-2 1-5 3-9 -1,6 2-9 2-7 0,2 -1,8 3-11 1-1 0,1 1-1 0,3 1-3 0,1 -1,7 2-7 0,1 0,1 -2,10 3-9 -2,7 3-10 -1,6 2-5 0,3 -1,3 -2,9 1-1 4-11 -2,7 3-9 -1,4 1,0 0-1 -1,4 1,1 2-7 0,3 1-2 -1,4 2-5 -4,14 1-3 0,3 0,1 -2,7 -1,4 -1,3 1,0 0,1 1-1 1-1 2-4 -1,3 0,1 2-3 -1,2 0,1 2-3 0,1 0,1 -1,4 A169,169 0 0 0 499.2,352 Z"/>
<path d="M564,365 l2-4 0-1 0,2 1-1 -1,1 1,1 1-1 0,1 0-1 0,3 2-4 -1,2 1,1 -1,1 1-1 0,2 1-2 3-4 1-1 1-3 3-4 3-7 2-2 1-2 0,1 -1,3 0,1 3-4 -2,5 2-5 1,1 -6,13 7-13 0,1 -2,4 2-3 0,1 -2,5 3-3 1-1 -3,5 5-7 -2,5 3-4 -8,14 5-8 3-4 1-1 -1,3 0-1 2-2 -3,7 4-6 -5,9 2-3 1,0 -1,2 2-3 1,0 -2,4 4-6 -5,8 6-8 -2,3 1,0 -4,7 5-7 2-3 -2,5 3-5 -3,5 4-4 -6,10 5-7 2-3 -6,10 5-6 2-2 -2,3 1-1 0,1 2-3 -1,3 1,0 1-1 -5,8 3-4 0,1 2-2 1-2 -5,8 6-8 -7,12 7-10 -4,6 6-8 0,2 -4,6 5-7 0,1 1-1 -3,5 -1,2 5-6 -7,12 8-11 1,0 -6,8 6-7 -1,2 0,1 -1,1 -5,8 7-9 -4,6 5-6 -4,6 6-7 -4,6 3-3 -1,2 -3,5 6-7 -5,7 1-1 6-7 -6,8 3-3 -1,1 5-4 1-1 -3,4 -1,1 -2,3 -12,16 A169,169 0 0 0 563.9,364.8 Z"/>
<path d="M610,393 l1,0 0,1 1,0 0,1 1-1 1-1 0,1 -1,2 1-1 -1,1 2-2 0,1 0,1 1-1 0,1 2-2 -3,4 1-1 1-1 1,1 -2,2 2-2 -1,2 0,1 3-3 -2,2 1,0 3-3 4-3 4-3 1-1 6-6 0,2 -1,0 5-4 -1,2 2-1 -7,7 -3,4 10-10 1,0 -5,6 1-1 5-3 1,0 1,1 -4,4 -4,5 -1,1 6-5 -2,3 4-3 -1,1 -7,6 11-9 1,0 -4,4 -1,1 5-4 1,0 0,1 -2,2 1-1 2,0 -1,1 1-1 1,1 -3,3 3-2 1,0 -5,5 0,1 3-3 -9,8 -4,4 -5,4 -1,2 1-1 -1,2 1,0 1,0 -1,1 1,0 -1,1 1,0 0,1 1,1 1,1 0,1 1,0 0,1 1,1 0,1 1,0 0,1 1,1 0,1 1,0 4-2 3-1 7-4 1,0 8-5 1,0 -1,1 0,1 1-1 3-1 1,0 -4,3 2-1 2-1 1,1 -6,4 -1,1 3-2 4-2 -3,3 4-2 -3,2 0,1 -4,3 -6,3 -4,3 -2,2 -1,0 -5,4 1,0 0,1 1,1 0,1 1,0 0,1 0,1 1,0 A169,169 0 0 0 610.2,393.3 Z"/>
<path d="M652,448 l27-13 -5,2 0,1 2-1 -2,2 4-2 2,0 -4,3 2-1 1,0 2,0 -3,2 3-1 -3,2 2-1 -6,4 -4,2 -3,1 5-1 -10,5 -5,2 1,0 -3,2 1,0 0,1 0,1 1,0 0,1 1,0 5-1 3-1 6-2 12-4 -11,4 6-2 7-2 0,1 -3,2 3-1 1,0 0,1 -8,3 4-1 2,0 2,0 1,0 0,1 -7,3 2-1 5-1 -5,2 -4,2 3-1 -6,3 -8,3 2-1 -9,4 3-1 -3,2 5-2 0,1 -3,1 2,0 1,0 -3,1 3,0 -1,0 0,1 0,1 4-1 6-2 5-1 6-1 -2,1 7-1 1,0 -2,1 1,0 1,0 -6,3 6-2 0,1 1,1 -2,0 2,0 0,1 0,1 -6,1 6-1 0,1 -7,2 -1,1 9-2 -10,3 8-2 -5,2 -5,1 -6,2 1,0 -6,2 -2,1 1,0 -2,0 1,1 -2,0 1,1 1,0 -1,0 1,1 7-1 4,0 11-2 4,0 -4,1 1,1 4-1 -4,1 4,0 0,1 -1,0 1,0 -5,2 5-1 -4,1 4,0 0,1 -2,1 3,0 0,1 -5,1 5,0 0,1 -3,0 -7,2 -6,1 1,0 -5,1 -6,1 -3,1 1,0 4,0 -2,1 1,0 4,0 6,0 -3,1 8-1 1,1 -5,0 10,0 3,0 2,0 -4,1 -11,1 7,0 -3,1 5,0 -24,2 A169,169 0 0 0 651.8,447.7 Z"/>
<path d="M668,513 l30-1 0,1 -3,0 -2,1 -4,0 -6,1 -3,0 -4,1 1,0 -4,1 2,0 -4,1 4,0 -2,1 4,0 -3,0 2,1 -5,0 -2,0 5,1 -1,0 -1,1 -1,0 3,0 0,1 1,0 -3,0 -2,1 -2,0 2,1 -2,0 0,1 0,1 0,1 0,1 0,1 0,1 0,1 1,0 -1,0 0,1 0,1 1,0 0,1 -1,0 0,1 0,1 1,0 -1,1 0,1 1,1 -2,0 4,1 1,0 -2,0 0,1 1,0 -2,0 1,1 -1,0 3,1 -2,0 -1,0 2,1 -2,0 1,0 -2,1 2,0 1,1 -1,0 -3,0 1,1 -1,0 0,1 -1,0 4,1 -4,0 1,0 0,1 -1,0 1,1 1,0 -2,0 1,1 -2,0 2,1 -1,0 1,1 1,0 -2,0 0,1 -1,0 0,1 2,0 2,1 -5,0 4,1 1,0 -1,0 -2,1 -2-1 A169,169 0 0 0 668.3,513.3 Z"/>
<path d="M663,564 l1,0 -1,0 0,1 1,0 -1,0 -1,1 2,1 -2,0 1,1 -1,1 -1,0 1,1 -1,1 0,1 1,1 1,0 -3,0 1,1 -1,1 -1,1 1,1 -1,0 0,1 2,2 -2-1 2,1 0,1 2,1 -3-1 4,2 -2,0 -1,0 -1,0 2,1 0,1 10,4 -3,0 5,2 5,2 1,1 0,1 -6-2 7,4 -7-3 -4-1 1,1 -6-2 -2-1 -7-2 -1-1 -1,1 0,1 0,1 -1,0 0,1 1,1 3,2 11,5 -5-2 0,1 4,2 3,2 3,2 1,1 -4-1 8,4 -5-2 -2,0 -1-1 2,2 -4-2 2,2 -2-1 5,3 -6-2 -2-1 3,2 6,4 -3-2 -4-1 2,1 -3-1 -1,0 2,2 -6-3 -3-1 -1,0 -2-1 -2-1 -4-2 1,1 0,1 2,1 -3-1 -3-1 3,2 -2-1 1,1 -1,0 -2-1 0,1 0,1 -1,0 0,1 -1,1 A169,169 0 0 0 663,563.6 Z"/>
<path d="M641,614 l-1,0 0,1 0,1 -1,0 0,1 -1,0 0,1 0,1 -1,0 0,1 -1,0 0,1 2,2 4,4 7,5 -4-2 10,8 1,2 -1-1 3,3 -5-3 3,3 1,1 -1,0 -5-3 5,4 -2,0 1,1 0,1 -1,0 0,1 -1,0 -3-2 3,3 -3-2 -10-8 12,11 -7-6 6,6 -10-8 3,3 7,6 -8-6 2,3 5,4 -9-7 6,6 -2-1 -4-3 3,3 1,2 3,3 -4-3 -3-2 2,3 -5-4 -1-1 1,2 2,3 2,3 -5-5 -2-1 1,1 -8-7 -3-2 3,3 -3-2 -3-2 2,2 -1,0 -1-1 2,3 -4-4 1,1 0,2 1,1 -1-1 3,4 -1-1 3,4 6,6 -2-1 1,1 1,3 2,2 -1-1 -7-7 1,3 9,10 -4-4 3,4 -6-5 4,4 1,2 -5-5 -2-1 -1-1 -1-1 -6-6 -1,0 -4-4 -2-2 0,1 -1,0 -1,1 -1,0 0,1 -1,0 A169,169 0 0 0 640.8,613.8 Z"/>
<path d="M605,653 l15,19 -1,0 0,2 0,1 1,1 -1,0 -1,0 -1-2 -2-1 1,2 1,1 2,4 -7-9 0,1 -3-3 -5-6 1,2 -1-1 -2-2 -1-1 -1,0 0-1 -2-2 0,1 0,1 1,2 -2-2 1,2 -2-2 0,1 1,2 -2-2 1,1 0,1 -1,0 -2-1 -1,0 1,2 -1-1 -1,0 -1,0 1,2 2,4 1,3 4,6 2,5 2,3 2,4 -2-1 1,2 -1,0 -9-14 8,14 0,1 -1-2 0,3 -1-1 -2-3 1,3 -5-9 -1-1 1,4 -5-8 -1-2 -2-2 -1-1 -1-2 0,2 1,2 -1,0 -1-1 -1-2 0,1 1,2 -1,0 -1-1 -1-2 0,2 1,2 -2-2 1,2 -1-1 -1-2 0,1 -1-1 -1-1 -1,0 0,1 -1,0 0,1 0,2 -1-1 1,1 0,1 0,1 -1-1 -1-1 -1-1 0,2 0-1 0,1 0,2 -2-4 0,1 0,2 -1-1 2,5 3,8 -3-5 3,7 -7-15 A169,169 0 0 0 604.7,653.3 Z"/>
<path d="M561,678 l0,1 -1,0 -1,0 -1,0 0,1 -1,0 -1,0 -1,1 -1,0 -1,0 -1,0 0,1 -1,0 0,1 -1-1 0,1 -1-1 0,1 -1,0 -1,1 0-1 -1,0 0,1 -1,1 0-1 -1,0 0,3 2,8 -1-1 0-2 2,9 1,9 -1-5 1,9 -3-11 1,6 1,4 -2-6 -1-2 1,4 -1-1 1,7 -2-6 -1-2 0,2 1,4 0,2 -1,0 -2-10 1,8 -1-4 -1-1 1,5 0,3 -1-2 -1-1 -1-3 -3-12 0-1 -1-2 -1-6 -1-1 0-1 -1,0 -1,0 -1,0 0,1 0,2 -1-2 -1,1 0-1 -1,0 -1,0 -1,0 -1,0 0,1 -1,0 -1,0 0,1 0-1 -1,0 -1,0 -1,0 A169,169 0 0 0 560.9,678.5 Z"/>
<path d="M513,689 l2,24 -1,3 0,2 0-1 -1-9 0,10 -1-4 0,5 -1-4 0-8 -1-4 0,5 -1-7 0-3 -1-4 -1-3 0-1 -1,0 -1,0 -1,0 -1,0 -1,0 -1,0 -1,0 -1,0 -1,0 0,4 0-2 -1,8 0,4 -1,4 0,8 -1,2 0,2 0-4 -1,4 -1,0 -1,0 0-5 -1,5 0-2 -1,2 0-4 -1,0 0,4 -1,0 -1-3 0-4 -1,7 -1-3 0,2 0-4 -1,1 0,1 -1,0 0,2 -1,0 0-6 0-2 -1,8 0-7 -1,6 0-4 -1,5 0-5 0-3 -1,8 0-2 -1,2 0-4 0-2 -1,6 1-10 0-3 -2,10 1-12 -1,7 0-3 0-4 0-5 0-5 0-2 0-2 0-2 -1,2 -1,2 -1,8 0-4 -2,10 -1,4 -2,6 0,1 1-9 -2,9 -1,0 -1,0 0-1 -1,1 0-1 0-4 -1,4 -1,0 5-29 A169,169 0 0 0 512.8,689.5 Z"/>
<path d="M462,686 l-1,0 -1,1 0-2 -1,1 0-1 -1,0 -1,0 0-1 -1,0 -1,5 -1,2 -3,8 0-1 -3,9 -2,6 -1-1 -1,0 1-4 -1,4 0-4 -1,4 1-5 -1,3 0-5 1-1 -1-1 3-9 0-2 1-6 0-1 -1,2 1-3 0-1 0-1 -2,3 -1,1 0-1 1-3 -1,3 -1,0 0-2 0-1 0-1 -1,2 0-1 0,1 -1,0 0-1 0-1 0-1 -1,2 -1,0 1-2 -1-1 -1,2 0-1 -1,1 0-2 0-1 -1,3 0-2 0-1 -1,0 -1,0 -1,3 -3,5 -3,6 -2,4 -1,2 -3,6 -1,0 1-2 2-8 -4,9 3-10 -1,3 -1,2 0-3 -3,7 -1,0 3-6 -2,3 -1,0 1-2 -1,0 -1,2 5-12 -3,7 0-2 -3,4 1-2 0-2 -4,7 2-6 -2,3 1-2 -3,4 3-6 -2,4 -2,2 -1-1 0-2 -1,2 0-1 -1,0 -1,0 14-27 A169,169 0 0 0 461.8,685.7 Z"/>
<path d="M414,667 l-1-1 -1,0 0-1 -1,0 -2,1 -3,5 -3,3 2-4 -2,3 -6,9 -1,0 -2,3 -1,1 3-6 2-3 -1,0 -2,3 2-5 -5,8 0-1 -2,2 1-2 0-1 -1,1 -3,3 0-2 3-5 -4,6 0-1 4-6 -5,6 -1,0 -1-1 -1,0 1-1 3-5 -5,5 -1-1 1-2 -1,1 -1,0 1-3 5-6 4-5 1-3 3-5 2-3 -1-1 -1-1 -1,0 0-1 -1,0 0-1 -1,1 0-1 -1-1 -2,2 2-2 -1,0 -1,0 1-1 -2,1 1-2 -2,1 -1,0 1-1 1-1 -1,0 -1,0 1,0 -1,0 0-1 0-1 -2,1 1-1 -1,0 0-1 -2,2 2-3 -1,1 0-1 -1,0 -2,1 2-2 -4,4 -5,4 3-4 -13,13 0-1 -4,3 2-3 1-2 -2,2 -2,1 -1,0 -1-1 4-4 -4,4 4-5 0-1 -5,4 11-10 -12,10 0-1 22-20 A169,169 0 0 0 414.2,666.9 Z"/>
<path d="M371,631 l-1,1 -2,0 3-2 -2,1 1-1 -1,0 0-1 -6,5 3-3 -12,9 6-6 -7,5 3-2 -7,5 -5,3 3-2 0-1 -3,2 1-1 3-3 -5,3 5-4 6-5 -5,3 2-2 -10,7 0-1 -1-1 4-3 -2,1 -2,1 5-5 -5,3 -2,1 4-3 -1-1 2-1 -6,3 5-3 -4,2 0-1 -2,1 0-1 4-3 -4,2 -1,0 2-2 -1,0 6-4 2-2 -7,4 -4,2 8-5 -8,4 5-4 -3,2 1-1 2-2 -6,3 10-7 -11,6 10-6 -10,6 5-4 -2,1 6-4 -4,2 -4,2 8-6 -11,6 18-11 -7,4 -3,1 -1,0 -2,1 -1,0 1-1 2-2 -7,4 -2,0 -1-1 3-2 3-3 -6,4 -1-1 3-2 -1,0 -2,1 5-3 -6,2 5-3 6-4 5-3 3-2 4-3 2-1 -2,1 1-1 1-1 -2,0 1,0 -1,0 -1,0 -1,0 1-1 -1-1 2-1 -1,0 -2,0 2-1 -1,0 0-1 -3,1 1-1 2-1 -1,0 0-1 0-1 1,0 A169,169 0 0 0 371,630.8 Z"/>
<path d="M343,585 l-27,12 -1-1 0-1 0-1 5-2 -6,2 0-1 6-2 -3,0 -3,1 1-1 -2,0 6-2 -6,1 6-2 -6,2 0-1 5-2 -6,2 4-2 -4,1 0-1 4-1 0-1 -5,1 3-1 3-1 -6,1 0-1 0-1 3-1 2-1 10-4 -1,0 7-2 -1-1 7-2 0-1 0-1 -1,0 -1-1 1,0 -1,0 0-1 1,0 0-1 -1,0 1-1 -2,0 -4,0 2,0 -14,3 -2,0 4-1 -12,2 -2,0 2-1 5-2 9-2 5-2 3-1 4-1 0-1 0-1 -1-1 1,0 -1-1 0-1 0-1 0-1 0-1 -3,0 -11,2 2-1 -5,0 -13,2 -1-1 3-1 -2,0 2,0 5-2 -8,1 5-1 -4,0 3-1 -2,0 -2,0 2-1 -2,0 0-1 -1,0 7-2 -5,1 -2-1 0-1 1-1 -1,0 0-1 6-1 -6,1 5-1 6-1 -9,0 5-1 3-1 -10,1 -1,0 3-1 8-1 -11,0 7-1 23-2 A169,169 0 0 0 343.3,585.4 Z"/>
<path d="M331,532 l0-1 0-1 0-1 0-1 0-1 -1-1 -1,0 2,0 -2-1 -2,0 -1-1 -1,0 1-1 1,0 -1-1 -1,0 5,0 -3-1 -2,0 3,0 -2-1 0-1 1,0 -3-1 5,0 -4,0 3-1 -1,0 -2-1 2,0 0-1 1,0 -1,0 4-1 -3,0 -2-1 2,0 1,0 -1-1 -4,0 3-1 1-1 1,0 -1,0 0-1 2,0 -2,0 1-1 -1,0 2,0 -1-1 2,0 -2-1 1,0 1,0 -2-1 1,0 -1-1 2,0 0-1 -1,0 1,0 1-1 0-1 0-1 -1,0 1,0 0-1 -1,0 1-1 0-1 0-1 0-1 1,0 -1-1 1,0 0-1 0-1 0-1 -1,0 -3-1 2,0 2,0 -3-1 1-1 1,0 1,0 0-1 -4-1 1,0 3,0 -1,0 2,0 -1-1 -1,0 -8-2 4,0 -12-3 -2-1 5,1 -5-2 -8-2 0-1 0-1 29,7 A169,169 0 0 0 330.8,531.6 Z"/>
<path d="M336,477 l-28-8 1,0 10,2 -2-1 -2-1 -2-1 -1-1 5,1 -8-3 8,2 -5-2 3,1 -1-1 4,1 -3-2 3,1 -3-1 -2-1 6,1 -9-3 2,0 4,1 0-1 -5-3 5,2 -5-2 3,0 1,0 -4-2 2,1 -1-1 5,1 -5-2 5,1 -5-2 9,3 8,2 2,0 6,2 4,1 -5-2 0-1 -4-2 -7-2 -6-3 0-1 -5-2 0-1 1-1 0-1 5,2 -3-2 1,0 -2-1 0-1 5,2 -3-2 2,1 -1-1 -2-2 8,3 3,1 8,3 3,1 4,1 2,1 0-1 1,0 0-1 0-1 1,0 0-1 0-1 1,0 0-1 -1-1 1,0 1,0 0-1 -5-2 0-1 -3-2 -4-2 -1-1 -4-3 -6-3 10,4 -8-4 1,0 -3-2 7,3 -5-3 -1-1 6,3 2,0 -4-2 -3-2 0-1 -2-2 2,1 1,0 2,1 7,3 -6-3 1-1 2,1 -6-4 5,3 3,1 10,5 -2-2 6,3 3,2 1,0 -4-3 -1-1 -6-5 12,8 A169,169 0 0 0 336.4,476.7 Z"/>
<path d="M359,428 l-20-13 3,1 2,1 7,4 1,1 -8-6 11,6 3,2 1,1 -2-2 3,1 -1-1 2,1 -1-2 -1-1 2,1 0-1 1,0 -1-1 1,1 -2-3 3,2 0-1 1,1 0-1 -1-1 2,1 0-1 1,0 -1-1 1,0 -1-1 1,0 1,0 0-1 1,0 -1-1 1,0 1,0 0-1 1,0 0-1 0-1 1,0 0-1 1,0 -1-1 1,1 1-1 0-1 1,0 0-1 1,0 -2-2 1,0 -1-1 -3-3 2,1 3,2 -1-1 -2-2 1,0 1,0 2,2 -3-4 1,1 2,1 -1-1 2,0 0,1 0-1 -2-2 2,1 1,0 -2-3 3,3 -1-2 1,1 0-2 2,2 2,1 -1-1 -1-2 1,1 1,0 1,1 0-1 -1-2 2,1 -3-3 4,3 -1-2 2,1 -1-1 1,0 -1-1 2,1 -2-2 2,2 0-2 1,0 -1-1 2,1 -1-1 2,1 -1-2 1,0 1,1 -1-2 1,0 1,1 A169,169 0 0 0 358.6,427.7 Z"/>
<path d="M397,387 l0-1 1,0 1-1 1,0 0-1 1,0 0-1 1,0 1,0 0-1 1,0 0-1 1,0 1,0 -1-2 -1-2 3,2 -1-1 1,0 1,1 -1-3 1,1 0-1 1,1 0-1 0-2 1,3 0-2 1,1 -2-3 -2-4 1,0 -5-8 -2-5 6,10 -4-8 -4-8 0-1 7,12 -4-8 -2-4 0-1 2,3 0-1 3,4 1,1 -4-8 5,8 -4-8 2,2 -1-3 1,1 2,4 -1-3 3,4 -3-7 1,2 5,9 -5-11 1,2 0-3 2,3 0-2 0-2 4,7 4,7 -2-4 2,3 3,6 4,6 1,1 1-1 1,0 0-1 1,1 0-1 1,0 0-1 -2-5 1,1 -3-9 -2-5 -3-7 4,7 -2-4 3,5 -4-10 4,8 -1-3 0-1 -1-5 4,8 -1-1 1,1 -2-7 4,10 -2-8 1,2 -2-5 2,3 0-1 1,0 2,5 -4-10 1,0 10,28 A169,169 0 0 0 396.9,386.7 Z"/>
<path d="M444,361 l-1-3 0-1 1,0 0-1 0-1 2,4 0-2 0-1 1,2 -1-3 1,1 1,2 1,2 0-1 1,1 0-1 0-1 1-1 0-1 1,2 0,1 1,0 0-2 1,0 0-1 1,2 0-3 -1-4 1,4 2,2 -1-4 0-1 0-1 1,4 1-1 0-1 1,1 1,2 -1-4 0,1 1,1 0-2 0-4 -2-7 1,0 1,2 0,1 0-5 2,10 2,5 1,2 0-1 1,0 1,0 0-1 1,1 0-2 0-1 1,3 0-3 1,2 1-2 0,2 1-1 0,1 0-2 1,0 0,1 1,1 0-3 1,3 0-1 0-2 1,1 0,2 0-2 1,2 0-3 0,1 1,1 1-2 0,2 1,0 1,0 1,0 0-1 1,1 0-1 1,0 0,1 1-1 0,1 0-1 1,1 0-4 1,3 0-4 0,3 0-4 1,2 0,1 1,0 0,2 0-1 1,0 0,1 1,0 0-3 0,1 0-5 1,0 0-1 0-10 0-9 1-3 1,6 0,24 A169,169 0 0 0 443.9,361.4 Z"/>
</g>
<g fill="none">
<path d="M637.2,594.2 A156,156 0 0 1 552.9,667.6 Q499.5,521 359.3,452.6 A156,156 0 0 1 343.6,526.4 Q499.5,521 637.2,594.2 Z" fill="#F8B57C" fill-opacity="0.4"/>
<path d="M634,599 Q500,521 345,499" stroke="#F8B57C" stroke-width="2.4" stroke-opacity="0.55"/>
<path d="M553,667 Q500,521 352,469" stroke="#F8B57C" stroke-width="2.7" stroke-opacity="0.55"/>
<path d="M575,657 Q500,521 359,453" stroke="#F8B57C" stroke-width="2.9" stroke-opacity="0.55"/>
<path d="M555,667 Q500,521 344,517" stroke="#F8B57C" stroke-width="2.4" stroke-opacity="0.55"/>
<path d="M561,664 Q500,521 348,483" stroke="#F8B57C" stroke-width="2.1" stroke-opacity="0.55"/>
<path d="M635,599 Q500,521 357,458" stroke="#F8B57C" stroke-width="2.7" stroke-opacity="0.55"/>
<path d="M609,632 Q500,521 356,461" stroke="#F8B57C" stroke-width="2.2" stroke-opacity="0.55"/>
<path d="M604,637 Q500,521 351,474" stroke="#F8B57C" stroke-width="1.5" stroke-opacity="0.55"/>
<path d="M632,603 Q500,521 347,489" stroke="#F8B57C" stroke-width="2" stroke-opacity="0.55"/>
<path d="M576,657 Q500,521 356,460" stroke="#F8B57C" stroke-width="1.5" stroke-opacity="0.55"/>
<path d="M585,651 Q500,521 355,462" stroke="#F8B57C" stroke-width="1.9" stroke-opacity="0.55"/>
<path d="M604,637 Q500,521 349,481" stroke="#F8B57C" stroke-width="3.1" stroke-opacity="0.55"/>
<path d="M591,648 Q500,521 346,492" stroke="#F8B57C" stroke-width="2.6" stroke-opacity="0.55"/>
<path d="M635,598 Q500,521 344,513" stroke="#F8B57C" stroke-width="1.9" stroke-opacity="0.55"/>
<path d="M615,626 Q500,521 344,506" stroke="#F8B57C" stroke-width="2.7" stroke-opacity="0.55"/>
<path d="M582,653 Q500,521 355,461" stroke="#F8B57C" stroke-width="1.8" stroke-opacity="0.55"/>
<path d="M629,608 Q500,521 356,459" stroke="#F8B57C" stroke-width="3" stroke-opacity="0.55"/>
<path d="M617,624 Q500,521 344,517" stroke="#F8B57C" stroke-width="2.4" stroke-opacity="0.55"/>
<path d="M597,643 Q500,521 345,501" stroke="#F8B57C" stroke-width="3" stroke-opacity="0.55"/>
<path d="M591,647 Q500,521 351,474" stroke="#F8B57C" stroke-width="2.7" stroke-opacity="0.55"/>
<path d="M609,632 Q500,521 344,517" stroke="#F8B57C" stroke-width="1.6" stroke-opacity="0.55"/>
<path d="M634,601 Q500,521 346,492" stroke="#F8B57C" stroke-width="3" stroke-opacity="0.55"/>
<path d="M637,595 Q500,521 348,485" stroke="#F8B57C" stroke-width="2.4" stroke-opacity="0.55"/>
<path d="M602,638 Q500,521 348,484" stroke="#F8B57C" stroke-width="1.6" stroke-opacity="0.55"/>
<path d="M601,639 Q500,521 344,526" stroke="#F8B57C" stroke-width="2.6" stroke-opacity="0.55"/>
<path d="M619,622 Q500,521 347,487" stroke="#F8B57C" stroke-width="2.2" stroke-opacity="0.55"/>
<path d="M582,653 Q500,521 348,483" stroke="#F8B57C" stroke-width="1.8" stroke-opacity="0.55"/>
<path d="M628,610 Q500,521 348,482" stroke="#F8B57C" stroke-width="2.4" stroke-opacity="0.55"/>
<path d="M591,647 Q500,521 353,467" stroke="#F8B57C" stroke-width="2.8" stroke-opacity="0.55"/>
<path d="M604,637 Q500,521 344,509" stroke="#F8B57C" stroke-width="2" stroke-opacity="0.55"/>
<path d="M559,665 Q500,521 344,521" stroke="#F8B57C" stroke-width="2.9" stroke-opacity="0.55"/>
<path d="M602,639 Q500,521 346,493" stroke="#F8B57C" stroke-width="2.3" stroke-opacity="0.55"/>
<path d="M610,631 Q500,521 349,480" stroke="#F8B57C" stroke-width="2.1" stroke-opacity="0.55"/>
<path d="M622,618 Q500,521 344,512" stroke="#F8B57C" stroke-width="2" stroke-opacity="0.55"/>
<path d="M576,657 Q500,521 347,490" stroke="#F8B57C" stroke-width="1.6" stroke-opacity="0.55"/>
<path d="M585,652 Q500,521 353,467" stroke="#F8B57C" stroke-width="1.7" stroke-opacity="0.55"/>
<path d="M603,638 Q500,521 350,475" stroke="#F8B57C" stroke-width="1.5" stroke-opacity="0.55"/>
<path d="M571,659 Q500,521 344,508" stroke="#F8B57C" stroke-width="2.1" stroke-opacity="0.55"/>
<path d="M561,664 Q500,521 344,516" stroke="#F8B57C" stroke-width="2" stroke-opacity="0.55"/>
<path d="M558,666 Q500,521 344,512" stroke="#F8B57C" stroke-width="2.3" stroke-opacity="0.55"/>
<path d="M582,653 Q500,521 354,466" stroke="#F8B57C" stroke-width="1.9" stroke-opacity="0.55"/>
<path d="M632,603 Q500,521 347,488" stroke="#F8B57C" stroke-width="1.6" stroke-opacity="0.55"/>
<path d="M621,619 Q500,521 347,487" stroke="#F8B57C" stroke-width="1.7" stroke-opacity="0.55"/>
<path d="M576,657 Q500,521 356,459" stroke="#F8B57C" stroke-width="1.7" stroke-opacity="0.55"/>
<path d="M578,656 Q500,521 353,466" stroke="#F8B57C" stroke-width="2" stroke-opacity="0.55"/>
<path d="M621,619 Q500,521 349,480" stroke="#F8B57C" stroke-width="1.5" stroke-opacity="0.55"/>
<path d="M625,614 Q500,521 344,521" stroke="#F8B57C" stroke-width="3" stroke-opacity="0.55"/>
<path d="M619,622 Q500,521 351,473" stroke="#F8B57C" stroke-width="2" stroke-opacity="0.55"/>
<path d="M629,608 Q500,521 349,479" stroke="#F8B57C" stroke-width="2.3" stroke-opacity="0.55"/>
<path d="M636,596 Q500,521 345,499" stroke="#F8B57C" stroke-width="2.7" stroke-opacity="0.55"/>
<path d="M605,636 Q500,521 348,482" stroke="#F8B57C" stroke-width="1.7" stroke-opacity="0.55"/>
<path d="M572,659 Q500,521 351,472" stroke="#F8B57C" stroke-width="2" stroke-opacity="0.55"/>
<path d="M615,626 Q500,521 354,464" stroke="#F8B57C" stroke-width="1.8" stroke-opacity="0.55"/>
<path d="M553,667 Q500,521 344,516" stroke="#F8B57C" stroke-width="1.9" stroke-opacity="0.55"/>
<path d="M590,648 Q500,521 348,483" stroke="#F8B57C" stroke-width="2.8" stroke-opacity="0.55"/>
<path d="M631,606 Q500,521 351,474" stroke="#F8B57C" stroke-width="2.9" stroke-opacity="0.55"/>
<path d="M619,621 Q500,521 344,512" stroke="#F8B57C" stroke-width="1.7" stroke-opacity="0.55"/>
<path d="M626,612 Q500,521 352,471" stroke="#F8B57C" stroke-width="2.3" stroke-opacity="0.55"/>
<path d="M578,656 Q500,521 344,526" stroke="#F8B57C" stroke-width="2.4" stroke-opacity="0.55"/>
<path d="M632,603 Q500,521 347,488" stroke="#F8B57C" stroke-width="1.6" stroke-opacity="0.55"/>
<path d="M655.5,521 A156,156 0 0 1 650.9,558.7 Q499.5,521 345,542.7 A156,156 0 0 1 358.1,586.9 Q499.5,521 655.5,521 Z" fill="#F49C9C" fill-opacity="0.3"/>
<path d="M652,552 Q500,521 346,549" stroke="#F49C9C" stroke-width="2.3" stroke-opacity="0.55"/>
<path d="M654,539 Q500,521 348,560" stroke="#F49C9C" stroke-width="1.7" stroke-opacity="0.55"/>
<path d="M655,533 Q500,521 347,553" stroke="#F49C9C" stroke-width="1.5" stroke-opacity="0.55"/>
<path d="M653,551 Q500,521 355,579" stroke="#F49C9C" stroke-width="1.8" stroke-opacity="0.55"/>
<path d="M655,531 Q500,521 355,579" stroke="#F49C9C" stroke-width="2" stroke-opacity="0.55"/>
<path d="M655,524 Q500,521 356,582" stroke="#F49C9C" stroke-width="2.4" stroke-opacity="0.55"/>
<path d="M655,524 Q500,521 347,552" stroke="#F49C9C" stroke-width="2.5" stroke-opacity="0.55"/>
<path d="M655,529 Q500,521 346,546" stroke="#F49C9C" stroke-width="2.4" stroke-opacity="0.55"/>
<path d="M653,549 Q500,521 357,584" stroke="#F49C9C" stroke-width="1.6" stroke-opacity="0.55"/>
<path d="M651,558 Q500,521 347,555" stroke="#F49C9C" stroke-width="2.1" stroke-opacity="0.55"/>
<path d="M653,550 Q500,521 355,580" stroke="#F49C9C" stroke-width="2.4" stroke-opacity="0.55"/>
<path d="M654,540 Q500,521 351,570" stroke="#F49C9C" stroke-width="2.6" stroke-opacity="0.55"/>
<path d="M651,558 Q500,521 354,578" stroke="#F49C9C" stroke-width="1.9" stroke-opacity="0.55"/>
<path d="M654,540 Q500,521 349,563" stroke="#F49C9C" stroke-width="2" stroke-opacity="0.55"/>
<path d="M654,539 Q500,521 347,552" stroke="#F49C9C" stroke-width="2.1" stroke-opacity="0.55"/>
<path d="M655,529 Q500,521 350,565" stroke="#F49C9C" stroke-width="2.6" stroke-opacity="0.55"/>
<path d="M655,521 Q500,521 349,564" stroke="#F49C9C" stroke-width="1.7" stroke-opacity="0.55"/>
<path d="M655,523 Q500,521 350,564" stroke="#F49C9C" stroke-width="2.5" stroke-opacity="0.55"/>
<path d="M652,555 Q500,521 351,567" stroke="#F49C9C" stroke-width="1.5" stroke-opacity="0.55"/>
<path d="M652,553 Q500,521 354,576" stroke="#F49C9C" stroke-width="2.1" stroke-opacity="0.55"/>
<path d="M655,529 Q500,521 346,548" stroke="#F49C9C" stroke-width="1.6" stroke-opacity="0.55"/>
<path d="M655,534 Q500,521 348,558" stroke="#F49C9C" stroke-width="2.4" stroke-opacity="0.55"/>
<path d="M655,535 Q500,521 350,564" stroke="#F49C9C" stroke-width="2.5" stroke-opacity="0.55"/>
<path d="M654,545 Q500,521 350,564" stroke="#F49C9C" stroke-width="2.4" stroke-opacity="0.55"/>
<path d="M655,539 Q500,521 346,550" stroke="#F49C9C" stroke-width="1.7" stroke-opacity="0.55"/>
<path d="M652,554 Q500,521 352,572" stroke="#F49C9C" stroke-width="2.6" stroke-opacity="0.55"/>
<path d="M652,553 Q500,521 353,574" stroke="#F49C9C" stroke-width="1.5" stroke-opacity="0.55"/>
<path d="M653,551 Q500,521 356,582" stroke="#F49C9C" stroke-width="2" stroke-opacity="0.55"/>
<path d="M655,528 Q500,521 350,564" stroke="#F49C9C" stroke-width="2.2" stroke-opacity="0.55"/>
<path d="M655,523 Q500,521 352,572" stroke="#F49C9C" stroke-width="1.6" stroke-opacity="0.55"/>
<path d="M652,552 Q500,521 347,556" stroke="#F49C9C" stroke-width="1.6" stroke-opacity="0.55"/>
<path d="M654,545 Q500,521 357,584" stroke="#F49C9C" stroke-width="1.3" stroke-opacity="0.55"/>
<path d="M653,547 Q500,521 350,566" stroke="#F49C9C" stroke-width="1.7" stroke-opacity="0.55"/>
<path d="M655,530 Q500,521 349,562" stroke="#F49C9C" stroke-width="2.5" stroke-opacity="0.55"/>
<path d="M655,531 Q500,521 356,582" stroke="#F49C9C" stroke-width="2.1" stroke-opacity="0.55"/>
<path d="M655,524 Q500,521 354,578" stroke="#F49C9C" stroke-width="1.3" stroke-opacity="0.55"/>
<path d="M655,524 Q500,521 347,554" stroke="#F49C9C" stroke-width="1.5" stroke-opacity="0.55"/>
<path d="M652,556 Q500,521 353,574" stroke="#F49C9C" stroke-width="1.7" stroke-opacity="0.55"/>
<path d="M653,548 Q500,521 347,555" stroke="#F49C9C" stroke-width="1.4" stroke-opacity="0.55"/>
<path d="M654,540 Q500,521 355,581" stroke="#F49C9C" stroke-width="2.3" stroke-opacity="0.55"/>
<path d="M577.5,385.9 A156,156 0 0 1 638.5,450.2 Q499.5,521 446.1,374.4 A156,156 0 0 1 393.1,406.9 Q499.5,521 577.5,385.9 Z" fill="#A3D88A" fill-opacity="0.28"/>
<path d="M590,394 Q500,521 443,376" stroke="#A3D88A" stroke-width="2.2" stroke-opacity="0.55"/>
<path d="M601,403 Q500,521 435,379" stroke="#A3D88A" stroke-width="1.3" stroke-opacity="0.55"/>
<path d="M604,405 Q500,521 445,375" stroke="#A3D88A" stroke-width="1.3" stroke-opacity="0.55"/>
<path d="M625,428 Q500,521 408,395" stroke="#A3D88A" stroke-width="1.8" stroke-opacity="0.55"/>
<path d="M629,435 Q500,521 428,382" stroke="#A3D88A" stroke-width="2.3" stroke-opacity="0.55"/>
<path d="M627,430 Q500,521 444,375" stroke="#A3D88A" stroke-width="1.7" stroke-opacity="0.55"/>
<path d="M612,413 Q500,521 426,383" stroke="#A3D88A" stroke-width="1.5" stroke-opacity="0.55"/>
<path d="M582,388 Q500,521 441,376" stroke="#A3D88A" stroke-width="2.6" stroke-opacity="0.55"/>
<path d="M598,400 Q500,521 405,397" stroke="#A3D88A" stroke-width="2.3" stroke-opacity="0.55"/>
<path d="M585,391 Q500,521 401,400" stroke="#A3D88A" stroke-width="1.5" stroke-opacity="0.55"/>
<path d="M603,404 Q500,521 395,406" stroke="#A3D88A" stroke-width="1.4" stroke-opacity="0.55"/>
<path d="M619,421 Q500,521 407,395" stroke="#A3D88A" stroke-width="1.3" stroke-opacity="0.55"/>
<path d="M591,395 Q500,521 438,378" stroke="#A3D88A" stroke-width="1.9" stroke-opacity="0.55"/>
<path d="M618,419 Q500,521 445,375" stroke="#A3D88A" stroke-width="2" stroke-opacity="0.55"/>
<path d="M591,394 Q500,521 415,390" stroke="#A3D88A" stroke-width="2.1" stroke-opacity="0.55"/>
<path d="M626,430 Q500,521 409,394" stroke="#A3D88A" stroke-width="1.2" stroke-opacity="0.55"/>
<path d="M604,405 Q500,521 424,385" stroke="#A3D88A" stroke-width="1.3" stroke-opacity="0.55"/>
<path d="M600,402 Q500,521 403,398" stroke="#A3D88A" stroke-width="1.8" stroke-opacity="0.55"/>
<path d="M635,444 Q500,521 396,405" stroke="#A3D88A" stroke-width="1.6" stroke-opacity="0.55"/>
<path d="M578,386 Q500,521 444,375" stroke="#A3D88A" stroke-width="1.4" stroke-opacity="0.55"/>
<path d="M598,400 Q500,521 437,378" stroke="#A3D88A" stroke-width="2.2" stroke-opacity="0.55"/>
<path d="M618,420 Q500,521 434,379" stroke="#A3D88A" stroke-width="1.3" stroke-opacity="0.55"/>
<path d="M621,423 Q500,521 415,390" stroke="#A3D88A" stroke-width="2.6" stroke-opacity="0.55"/>
<path d="M584,390 Q500,521 431,381" stroke="#A3D88A" stroke-width="1.9" stroke-opacity="0.55"/>
<path d="M621,424 Q500,521 400,401" stroke="#A3D88A" stroke-width="2.1" stroke-opacity="0.55"/>
<path d="M601,403 Q500,521 434,380" stroke="#A3D88A" stroke-width="2.6" stroke-opacity="0.55"/>
<path d="M607,408 Q500,521 422,386" stroke="#A3D88A" stroke-width="1.5" stroke-opacity="0.55"/>
<path d="M628,432 Q500,521 422,386" stroke="#A3D88A" stroke-width="1.4" stroke-opacity="0.55"/>
<path d="M606,407 Q500,521 397,404" stroke="#A3D88A" stroke-width="1.6" stroke-opacity="0.55"/>
<path d="M579,387 Q500,521 445,375" stroke="#A3D88A" stroke-width="1.6" stroke-opacity="0.55"/>
<path d="M610,411 Q500,521 399,402" stroke="#A3D88A" stroke-width="1.2" stroke-opacity="0.55"/>
<path d="M587,392 Q500,521 445,375" stroke="#A3D88A" stroke-width="1.7" stroke-opacity="0.55"/>
<path d="M626,429 Q500,521 407,395" stroke="#A3D88A" stroke-width="2.3" stroke-opacity="0.55"/>
<path d="M599,401 Q500,521 444,375" stroke="#A3D88A" stroke-width="2" stroke-opacity="0.55"/>
<path d="M598,400 Q500,521 406,396" stroke="#A3D88A" stroke-width="1.4" stroke-opacity="0.55"/>
<path d="M596,398 Q500,521 428,382" stroke="#A3D88A" stroke-width="2.5" stroke-opacity="0.55"/>
<path d="M619,421 Q500,521 442,376" stroke="#A3D88A" stroke-width="1.5" stroke-opacity="0.55"/>
<path d="M620,421 Q500,521 424,385" stroke="#A3D88A" stroke-width="1.6" stroke-opacity="0.55"/>
<path d="M596,398 Q500,521 407,395" stroke="#A3D88A" stroke-width="1.2" stroke-opacity="0.55"/>
<path d="M624,427 Q500,521 442,376" stroke="#A3D88A" stroke-width="1.5" stroke-opacity="0.55"/>
<path d="M635,444 Q500,521 424,384" stroke="#A3D88A" stroke-width="2.1" stroke-opacity="0.55"/>
<path d="M585,391 Q500,521 418,388" stroke="#A3D88A" stroke-width="1.4" stroke-opacity="0.55"/>
<path d="M623,426 Q500,521 420,387" stroke="#A3D88A" stroke-width="2" stroke-opacity="0.55"/>
<path d="M597,400 Q500,521 418,388" stroke="#A3D88A" stroke-width="2.2" stroke-opacity="0.55"/>
<path d="M633,440 Q500,521 442,376" stroke="#A3D88A" stroke-width="2.2" stroke-opacity="0.55"/>
<path d="M494.1,365.1 A156,156 0 0 1 542.5,371 Q499.5,521 446.1,667.6 A156,156 0 0 1 552.9,667.6 Q499.5,521 494.1,365.1 Z" fill="#A6CBEA" fill-opacity="0.15"/>
<path d="M526,367 Q500,521 525,675" stroke="#A6CBEA" stroke-width="1.4" stroke-opacity="0.5"/>
<path d="M520,366 Q500,521 544,670" stroke="#A6CBEA" stroke-width="1" stroke-opacity="0.5"/>
<path d="M535,369 Q500,521 515,676" stroke="#A6CBEA" stroke-width="1.4" stroke-opacity="0.5"/>
<path d="M532,368 Q500,521 477,675" stroke="#A6CBEA" stroke-width="1.2" stroke-opacity="0.5"/>
<path d="M522,367 Q500,521 490,677" stroke="#A6CBEA" stroke-width="1.5" stroke-opacity="0.5"/>
<path d="M540,370 Q500,521 522,675" stroke="#A6CBEA" stroke-width="1.7" stroke-opacity="0.5"/>
<path d="M540,370 Q500,521 540,672" stroke="#A6CBEA" stroke-width="1.6" stroke-opacity="0.5"/>
<path d="M514,366 Q500,521 505,677" stroke="#A6CBEA" stroke-width="2.1" stroke-opacity="0.5"/>
<path d="M527,367 Q500,521 534,673" stroke="#A6CBEA" stroke-width="2" stroke-opacity="0.5"/>
<path d="M537,369 Q500,521 544,670" stroke="#A6CBEA" stroke-width="1.9" stroke-opacity="0.5"/>
<path d="M518,366 Q500,521 549,669" stroke="#A6CBEA" stroke-width="1.9" stroke-opacity="0.5"/>
<path d="M542,371 Q500,521 457,671" stroke="#A6CBEA" stroke-width="1.5" stroke-opacity="0.5"/>
<path d="M496,365 Q500,521 500,677" stroke="#A6CBEA" stroke-width="1.6" stroke-opacity="0.5"/>
<path d="M523,367 Q500,521 481,676" stroke="#A6CBEA" stroke-width="2.1" stroke-opacity="0.5"/>
<path d="M521,366 Q500,521 474,675" stroke="#A6CBEA" stroke-width="1.6" stroke-opacity="0.5"/>
<path d="M539,370 Q500,521 533,673" stroke="#A6CBEA" stroke-width="1.9" stroke-opacity="0.5"/>
<path d="M502,365 Q500,521 454,670" stroke="#A6CBEA" stroke-width="1.3" stroke-opacity="0.5"/>
<path d="M511,365 Q500,521 498,677" stroke="#A6CBEA" stroke-width="1.7" stroke-opacity="0.5"/>
<path d="M521,366 Q500,521 447,668" stroke="#A6CBEA" stroke-width="1.2" stroke-opacity="0.5"/>
<path d="M510,365 Q500,521 514,676" stroke="#A6CBEA" stroke-width="1.9" stroke-opacity="0.5"/>
<path d="M498,365 Q500,521 512,676" stroke="#A6CBEA" stroke-width="1.4" stroke-opacity="0.5"/>
<path d="M499,365 Q500,521 529,674" stroke="#A6CBEA" stroke-width="1.7" stroke-opacity="0.5"/>
<path d="M521,366 Q500,521 513,676" stroke="#A6CBEA" stroke-width="1.5" stroke-opacity="0.5"/>
<path d="M526,367 Q500,521 468,674" stroke="#A6CBEA" stroke-width="1.3" stroke-opacity="0.5"/>
<path d="M500,365 Q500,521 462,672" stroke="#A6CBEA" stroke-width="1.1" stroke-opacity="0.5"/>
<path d="M515,366 Q500,521 539,672" stroke="#A6CBEA" stroke-width="2" stroke-opacity="0.5"/>
<path d="M536,369 Q500,521 522,675" stroke="#A6CBEA" stroke-width="1.7" stroke-opacity="0.5"/>
<path d="M514,366 Q500,521 543,671" stroke="#A6CBEA" stroke-width="1.1" stroke-opacity="0.5"/>
<path d="M529,368 Q500,521 532,674" stroke="#A6CBEA" stroke-width="1.3" stroke-opacity="0.5"/>
<path d="M517,366 Q500,521 499,677" stroke="#A6CBEA" stroke-width="1.5" stroke-opacity="0.5"/>
<path d="M536,369 Q500,521 523,675" stroke="#A6CBEA" stroke-width="1.4" stroke-opacity="0.5"/>
<path d="M501,365 Q500,521 533,673" stroke="#A6CBEA" stroke-width="1.7" stroke-opacity="0.5"/>
<path d="M509,365 Q500,521 514,676" stroke="#A6CBEA" stroke-width="1" stroke-opacity="0.5"/>
<path d="M504,365 Q500,521 487,677" stroke="#A6CBEA" stroke-width="2" stroke-opacity="0.5"/>
<path d="M525,367 Q500,521 509,677" stroke="#A6CBEA" stroke-width="2" stroke-opacity="0.5"/>
<path d="M510,365 Q500,521 459,672" stroke="#A6CBEA" stroke-width="1" stroke-opacity="0.5"/>
<path d="M519,366 Q500,521 452,669" stroke="#A6CBEA" stroke-width="1.4" stroke-opacity="0.5"/>
<path d="M518,366 Q500,521 512,677" stroke="#A6CBEA" stroke-width="1.1" stroke-opacity="0.5"/>
<path d="M518,366 Q500,521 510,677" stroke="#A6CBEA" stroke-width="1.9" stroke-opacity="0.5"/>
<path d="M503,365 Q500,521 547,669" stroke="#A6CBEA" stroke-width="2" stroke-opacity="0.5"/>
<path d="M500,365 Q500,521 455,670" stroke="#A6CBEA" stroke-width="1.6" stroke-opacity="0.5"/>
<path d="M520,366 Q500,521 535,673" stroke="#A6CBEA" stroke-width="1.5" stroke-opacity="0.5"/>
<path d="M524,367 Q500,521 552,668" stroke="#A6CBEA" stroke-width="1.8" stroke-opacity="0.5"/>
<path d="M524,367 Q500,521 463,673" stroke="#A6CBEA" stroke-width="1.5" stroke-opacity="0.5"/>
<path d="M538,370 Q500,521 469,674" stroke="#A6CBEA" stroke-width="1.3" stroke-opacity="0.5"/>
<path d="M640.9,455.1 A156,156 0 0 1 655.4,515.6 Q499.5,521 410,393.2 A156,156 0 0 1 380,420.7 Q499.5,521 640.9,455.1 Z" fill="#2F9E3B" fill-opacity="0.05"/>
<path d="M655,507 Q500,521 388,412" stroke="#2F9E3B" stroke-width="1.4" stroke-opacity="0.65"/>
<path d="M646,468 Q500,521 393,407" stroke="#2F9E3B" stroke-width="1" stroke-opacity="0.65"/>
<path d="M652,488 Q500,521 385,415" stroke="#2F9E3B" stroke-width="1" stroke-opacity="0.65"/>
<path d="M654,497 Q500,521 396,404" stroke="#2F9E3B" stroke-width="1.6" stroke-opacity="0.65"/>
<path d="M645,466 Q500,521 406,396" stroke="#2F9E3B" stroke-width="1" stroke-opacity="0.65"/>
<path d="M643,461 Q500,521 391,409" stroke="#2F9E3B" stroke-width="1.2" stroke-opacity="0.65"/>
<path d="M650,479 Q500,521 407,395" stroke="#2F9E3B" stroke-width="2" stroke-opacity="0.65"/>
<path d="M646,468 Q500,521 386,414" stroke="#2F9E3B" stroke-width="1.3" stroke-opacity="0.65"/>
<path d="M648,473 Q500,521 383,418" stroke="#2F9E3B" stroke-width="1.7" stroke-opacity="0.65"/>
<path d="M643,461 Q500,521 391,408" stroke="#2F9E3B" stroke-width="1.1" stroke-opacity="0.65"/>
<path d="M655,505 Q500,521 389,411" stroke="#2F9E3B" stroke-width="1.1" stroke-opacity="0.65"/>
<path d="M654,498 Q500,521 386,414" stroke="#2F9E3B" stroke-width="1.3" stroke-opacity="0.65"/>
<path d="M649,477 Q500,521 388,412" stroke="#2F9E3B" stroke-width="1.5" stroke-opacity="0.65"/>
<path d="M645,464 Q500,521 388,412" stroke="#2F9E3B" stroke-width="1.6" stroke-opacity="0.65"/>
<path d="M650,481 Q500,521 383,417" stroke="#2F9E3B" stroke-width="1.6" stroke-opacity="0.65"/>
<path d="M653,495 Q500,521 398,402" stroke="#2F9E3B" stroke-width="1.4" stroke-opacity="0.65"/>
<path d="M652,487 Q500,521 389,411" stroke="#2F9E3B" stroke-width="2" stroke-opacity="0.65"/>
<path d="M651,482 Q500,521 401,400" stroke="#2F9E3B" stroke-width="1.7" stroke-opacity="0.65"/>
<path d="M650,481 Q500,521 384,416" stroke="#2F9E3B" stroke-width="1.4" stroke-opacity="0.65"/>
<path d="M654,498 Q500,521 390,410" stroke="#2F9E3B" stroke-width="1.1" stroke-opacity="0.65"/>
<path d="M650,481 Q500,521 401,400" stroke="#2F9E3B" stroke-width="2" stroke-opacity="0.65"/>
<path d="M654,501 Q500,521 385,415" stroke="#2F9E3B" stroke-width="1.2" stroke-opacity="0.65"/>
<path d="M653,495 Q500,521 388,412" stroke="#2F9E3B" stroke-width="1.3" stroke-opacity="0.65"/>
<path d="M655,507 Q500,521 409,394" stroke="#2F9E3B" stroke-width="1.9" stroke-opacity="0.65"/>
<path d="M654,501 Q500,521 395,405" stroke="#2F9E3B" stroke-width="1.2" stroke-opacity="0.65"/>
<path d="M649,476 Q500,521 388,412" stroke="#2F9E3B" stroke-width="1.6" stroke-opacity="0.65"/>
<path d="M646,467 Q500,521 406,396" stroke="#2F9E3B" stroke-width="1.4" stroke-opacity="0.65"/>
<path d="M651,484 Q500,521 408,394" stroke="#2F9E3B" stroke-width="1.7" stroke-opacity="0.65"/>
<path d="M650,480 Q500,521 347,552" stroke="#5FAE4C" stroke-width="2" stroke-opacity="0.6"/>
<path d="M646,468 Q500,521 347,553" stroke="#5FAE4C" stroke-width="1.5" stroke-opacity="0.6"/>
<path d="M653,493 Q500,521 345,541" stroke="#5FAE4C" stroke-width="1.6" stroke-opacity="0.6"/>
<path d="M646,467 Q500,521 344,522" stroke="#5FAE4C" stroke-width="1.8" stroke-opacity="0.6"/>
<path d="M647,471 Q500,521 346,546" stroke="#5FAE4C" stroke-width="1.2" stroke-opacity="0.6"/>
<path d="M643,460 Q500,521 344,524" stroke="#5FAE4C" stroke-width="1.3" stroke-opacity="0.6"/>
<path d="M651,483 Q500,521 344,525" stroke="#5FAE4C" stroke-width="1.7" stroke-opacity="0.6"/>
<path d="M647,470 Q500,521 344,527" stroke="#5FAE4C" stroke-width="2" stroke-opacity="0.6"/>
<path d="M649,478 Q500,521 344,531" stroke="#5FAE4C" stroke-width="1.9" stroke-opacity="0.6"/>
<path d="M638,449 Q500,521 345,542" stroke="#5FAE4C" stroke-width="1.8" stroke-opacity="0.6"/>
<path d="M646,469 Q500,521 344,537" stroke="#5FAE4C" stroke-width="1.3" stroke-opacity="0.6"/>
<path d="M651,485 Q500,521 344,529" stroke="#5FAE4C" stroke-width="1" stroke-opacity="0.6"/>
<path d="M643,460 Q500,521 345,540" stroke="#5FAE4C" stroke-width="1.5" stroke-opacity="0.6"/>
<path d="M651,483 Q500,521 344,528" stroke="#5FAE4C" stroke-width="1.9" stroke-opacity="0.6"/>
<path d="M472.4,367.4 A156,156 0 0 1 488.6,365.4 Q499.5,521 595.5,398.1 A156,156 0 0 1 557.9,376.4 Q499.5,521 472.4,367.4 Z" fill="#2370B3" fill-opacity="0.3"/>
<path d="M475,367 Q500,521 566,380" stroke="#2370B3" stroke-width="1.6" stroke-opacity="0.7"/>
<path d="M485,366 Q500,521 562,378" stroke="#2370B3" stroke-width="2.5" stroke-opacity="0.7"/>
<path d="M474,367 Q500,521 566,380" stroke="#2370B3" stroke-width="1.7" stroke-opacity="0.7"/>
<path d="M488,365 Q500,521 569,381" stroke="#2370B3" stroke-width="1.5" stroke-opacity="0.7"/>
<path d="M475,367 Q500,521 584,390" stroke="#2370B3" stroke-width="1.2" stroke-opacity="0.7"/>
<path d="M475,367 Q500,521 593,396" stroke="#2370B3" stroke-width="2.1" stroke-opacity="0.7"/>
<path d="M479,366 Q500,521 586,391" stroke="#2370B3" stroke-width="2.5" stroke-opacity="0.7"/>
<path d="M473,367 Q500,521 589,394" stroke="#2370B3" stroke-width="1.3" stroke-opacity="0.7"/>
<path d="M487,365 Q500,521 580,388" stroke="#2370B3" stroke-width="2.5" stroke-opacity="0.7"/>
<path d="M488,365 Q500,521 573,383" stroke="#2370B3" stroke-width="1.3" stroke-opacity="0.7"/>
<path d="M476,367 Q500,521 584,390" stroke="#2370B3" stroke-width="2.3" stroke-opacity="0.7"/>
<path d="M489,365 Q500,521 564,379" stroke="#2370B3" stroke-width="1.3" stroke-opacity="0.7"/>
<path d="M480,366 Q500,521 580,387" stroke="#2370B3" stroke-width="2.3" stroke-opacity="0.7"/>
<path d="M479,366 Q500,521 563,379" stroke="#2370B3" stroke-width="2.1" stroke-opacity="0.7"/>
<path d="M488,365 Q500,521 589,393" stroke="#2370B3" stroke-width="2.2" stroke-opacity="0.7"/>
<path d="M475,367 Q500,521 577,386" stroke="#2370B3" stroke-width="1.4" stroke-opacity="0.7"/>
<path d="M481,366 Q500,521 590,394" stroke="#2370B3" stroke-width="2.3" stroke-opacity="0.7"/>
<path d="M479,366 Q500,521 570,382" stroke="#2370B3" stroke-width="2.5" stroke-opacity="0.7"/>
<path d="M484,366 Q500,521 579,387" stroke="#2370B3" stroke-width="2.1" stroke-opacity="0.7"/>
<path d="M473,367 Q500,521 587,392" stroke="#2370B3" stroke-width="2" stroke-opacity="0.7"/>
<path d="M485,366 Q500,521 565,379" stroke="#2370B3" stroke-width="1.9" stroke-opacity="0.7"/>
<path d="M475,367 Q500,521 588,393" stroke="#2370B3" stroke-width="1.5" stroke-opacity="0.7"/>
<path d="M475,367 Q500,521 566,380" stroke="#2370B3" stroke-width="1.8" stroke-opacity="0.7"/>
<path d="M476,367 Q500,521 573,383" stroke="#2370B3" stroke-width="2.5" stroke-opacity="0.7"/>
<path d="M478,367 Q500,521 559,377" stroke="#2370B3" stroke-width="1.4" stroke-opacity="0.7"/>
<path d="M487,365 Q500,521 558,377" stroke="#2370B3" stroke-width="1.4" stroke-opacity="0.7"/>
<path d="M473,367 Q500,521 581,388" stroke="#2370B3" stroke-width="2.2" stroke-opacity="0.7"/>
<path d="M485,366 Q500,521 569,381" stroke="#2370B3" stroke-width="1.7" stroke-opacity="0.7"/>
<path d="M488,365 Q500,521 586,391" stroke="#2370B3" stroke-width="2" stroke-opacity="0.7"/>
<path d="M473,367 Q500,521 571,383" stroke="#2370B3" stroke-width="1.2" stroke-opacity="0.7"/>
<path d="M474,367 Q500,521 572,383" stroke="#2370B3" stroke-width="1.4" stroke-opacity="0.7"/>
<path d="M480,366 Q500,521 584,390" stroke="#2370B3" stroke-width="1.4" stroke-opacity="0.7"/>
<path d="M482,366 Q500,521 559,377" stroke="#2370B3" stroke-width="1.5" stroke-opacity="0.7"/>
<path d="M474,367 Q500,521 583,390" stroke="#2370B3" stroke-width="2" stroke-opacity="0.7"/>
<path d="M487,366 Q500,521 580,387" stroke="#2370B3" stroke-width="2.1" stroke-opacity="0.7"/>
<path d="M647.9,569.2 A156,156 0 0 1 639.7,589.4 Q499.5,521 572.7,658.7 A156,156 0 0 1 586.7,650.3 Q499.5,521 647.9,569.2 Z" fill="#D82020" fill-opacity="0.3"/>
<path d="M640,588 Q500,521 575,658" stroke="#D82020" stroke-width="2.6" stroke-opacity="0.8"/>
<path d="M643,582 Q500,521 579,655" stroke="#D82020" stroke-width="2.6" stroke-opacity="0.8"/>
<path d="M642,583 Q500,521 584,652" stroke="#D82020" stroke-width="2.2" stroke-opacity="0.8"/>
<path d="M640,588 Q500,521 576,657" stroke="#D82020" stroke-width="1.5" stroke-opacity="0.8"/>
<path d="M643,582 Q500,521 574,658" stroke="#D82020" stroke-width="1.9" stroke-opacity="0.8"/>
<path d="M645,578 Q500,521 584,652" stroke="#D82020" stroke-width="2.8" stroke-opacity="0.8"/>
<path d="M642,584 Q500,521 584,652" stroke="#D82020" stroke-width="1.9" stroke-opacity="0.8"/>
<path d="M643,581 Q500,521 578,656" stroke="#D82020" stroke-width="1.7" stroke-opacity="0.8"/>
<path d="M644,580 Q500,521 578,656" stroke="#D82020" stroke-width="2.6" stroke-opacity="0.8"/>
<path d="M645,578 Q500,521 574,658" stroke="#D82020" stroke-width="1.5" stroke-opacity="0.8"/>
<path d="M641,586 Q500,521 581,654" stroke="#D82020" stroke-width="2.3" stroke-opacity="0.8"/>
<path d="M644,579 Q500,521 577,657" stroke="#D82020" stroke-width="1.6" stroke-opacity="0.8"/>
<path d="M644,580 Q500,521 579,656" stroke="#D82020" stroke-width="1.5" stroke-opacity="0.8"/>
<path d="M644,579 Q500,521 576,657" stroke="#D82020" stroke-width="1.4" stroke-opacity="0.8"/>
<path d="M641,587 Q500,521 576,657" stroke="#D82020" stroke-width="1.4" stroke-opacity="0.8"/>
<path d="M640,589 Q500,521 585,651" stroke="#D82020" stroke-width="1.5" stroke-opacity="0.8"/>
<path d="M641,587 Q500,521 574,658" stroke="#D82020" stroke-width="2.1" stroke-opacity="0.8"/>
<path d="M646,576 Q500,521 583,653" stroke="#D82020" stroke-width="1.7" stroke-opacity="0.8"/>
<path d="M641,586 Q500,521 582,654" stroke="#D82020" stroke-width="1.9" stroke-opacity="0.8"/>
<path d="M641,587 Q500,521 578,656" stroke="#D82020" stroke-width="2.4" stroke-opacity="0.8"/>
<path d="M643,581 Q500,521 581,654" stroke="#D82020" stroke-width="2.8" stroke-opacity="0.8"/>
<path d="M647,572 Q500,521 582,654" stroke="#D82020" stroke-width="2.7" stroke-opacity="0.8"/>
<path d="M531.9,673.6 A156,156 0 0 1 510.4,676.6 Q499.5,521 483.2,676.1 A156,156 0 0 1 499.5,677 Q499.5,521 531.9,673.6 Z" fill="#BFA5D6" fill-opacity="0.3"/>
<path d="M532,674 Q500,521 488,677" stroke="#BFA5D6" stroke-width="2" stroke-opacity="0.65"/>
<path d="M515,676 Q500,521 484,676" stroke="#BFA5D6" stroke-width="1.5" stroke-opacity="0.65"/>
<path d="M528,674 Q500,521 485,676" stroke="#BFA5D6" stroke-width="2.3" stroke-opacity="0.65"/>
<path d="M531,674 Q500,521 498,677" stroke="#BFA5D6" stroke-width="1.4" stroke-opacity="0.65"/>
<path d="M526,675 Q500,521 488,677" stroke="#BFA5D6" stroke-width="1.5" stroke-opacity="0.65"/>
<path d="M516,676 Q500,521 492,677" stroke="#BFA5D6" stroke-width="2.3" stroke-opacity="0.65"/>
<path d="M517,676 Q500,521 487,676" stroke="#BFA5D6" stroke-width="2.7" stroke-opacity="0.65"/>
<path d="M513,676 Q500,521 489,677" stroke="#BFA5D6" stroke-width="2.8" stroke-opacity="0.65"/>
<path d="M522,675 Q500,521 491,677" stroke="#BFA5D6" stroke-width="1.5" stroke-opacity="0.65"/>
<path d="M515,676 Q500,521 496,677" stroke="#BFA5D6" stroke-width="1.9" stroke-opacity="0.65"/>
<path d="M521,676 Q500,521 498,677" stroke="#BFA5D6" stroke-width="2.4" stroke-opacity="0.65"/>
<path d="M525,675 Q500,521 485,676" stroke="#BFA5D6" stroke-width="2.7" stroke-opacity="0.65"/>
<path d="M530,674 Q500,521 499,677" stroke="#BFA5D6" stroke-width="2.3" stroke-opacity="0.65"/>
<path d="M513,676 Q500,521 486,676" stroke="#BFA5D6" stroke-width="1.9" stroke-opacity="0.65"/>
<path d="M515,676 Q500,521 498,677" stroke="#BFA5D6" stroke-width="2.5" stroke-opacity="0.65"/>
<path d="M529,674 Q500,521 495,677" stroke="#BFA5D6" stroke-width="1.8" stroke-opacity="0.65"/>
<path d="M519,676 Q500,521 486,676" stroke="#BFA5D6" stroke-width="1.5" stroke-opacity="0.65"/>
<path d="M528,674 Q500,521 499,677" stroke="#BFA5D6" stroke-width="1.7" stroke-opacity="0.65"/>
<path d="M523,675 Q500,521 484,676" stroke="#BFA5D6" stroke-width="2.1" stroke-opacity="0.65"/>
<path d="M527,675 Q500,521 493,677" stroke="#BFA5D6" stroke-width="2.4" stroke-opacity="0.65"/>
<path d="M515,676 Q500,521 491,677" stroke="#BFA5D6" stroke-width="1.6" stroke-opacity="0.65"/>
<path d="M521,676 Q500,521 486,676" stroke="#BFA5D6" stroke-width="2.7" stroke-opacity="0.65"/>
<path d="M530,674 Q500,521 493,677" stroke="#BFA5D6" stroke-width="1.4" stroke-opacity="0.65"/>
<path d="M511,677 Q500,521 499,677" stroke="#BFA5D6" stroke-width="2.6" stroke-opacity="0.65"/>
<path d="M518,676 Q500,521 484,676" stroke="#BFA5D6" stroke-width="1.4" stroke-opacity="0.65"/>
<path d="M477,675 Q500,521 364,599" stroke="#7A4EA6" stroke-width="1.9" stroke-opacity="0.7"/>
<path d="M482,676 Q500,521 367,603" stroke="#7A4EA6" stroke-width="1.1" stroke-opacity="0.7"/>
<path d="M488,677 Q500,521 361,593" stroke="#7A4EA6" stroke-width="1.2" stroke-opacity="0.7"/>
<path d="M485,676 Q500,521 360,590" stroke="#7A4EA6" stroke-width="1.4" stroke-opacity="0.7"/>
<path d="M487,677 Q500,521 357,586" stroke="#7A4EA6" stroke-width="1.6" stroke-opacity="0.7"/>
<path d="M479,676 Q500,521 362,595" stroke="#7A4EA6" stroke-width="2" stroke-opacity="0.7"/>
<path d="M481,676 Q500,521 359,589" stroke="#7A4EA6" stroke-width="2.1" stroke-opacity="0.7"/>
<path d="M487,677 Q500,521 361,592" stroke="#7A4EA6" stroke-width="2.1" stroke-opacity="0.7"/>
<path d="M470,674 Q500,521 364,598" stroke="#7A4EA6" stroke-width="1.1" stroke-opacity="0.7"/>
<path d="M354.9,462.6 A156,156 0 0 1 364.4,443 Q499.5,521 389.2,631.3 A156,156 0 0 1 433.6,662.4 Q499.5,521 354.9,462.6 Z" fill="#A0522D" fill-opacity="0.08"/>
<path d="M358,455 Q500,521 411,649" stroke="#A0522D" stroke-width="1.4" stroke-opacity="0.65"/>
<path d="M356,461 Q500,521 400,641" stroke="#A0522D" stroke-width="1.1" stroke-opacity="0.65"/>
<path d="M359,453 Q500,521 428,660" stroke="#A0522D" stroke-width="2.3" stroke-opacity="0.65"/>
<path d="M360,451 Q500,521 405,645" stroke="#A0522D" stroke-width="1.6" stroke-opacity="0.65"/>
<path d="M356,459 Q500,521 399,640" stroke="#A0522D" stroke-width="1.2" stroke-opacity="0.65"/>
<path d="M357,457 Q500,521 395,637" stroke="#A0522D" stroke-width="1.8" stroke-opacity="0.65"/>
<path d="M358,455 Q500,521 424,657" stroke="#A0522D" stroke-width="1.4" stroke-opacity="0.65"/>
<path d="M363,445 Q500,521 418,654" stroke="#A0522D" stroke-width="1.6" stroke-opacity="0.65"/>
<path d="M364,445 Q500,521 396,638" stroke="#A0522D" stroke-width="1.4" stroke-opacity="0.65"/>
<path d="M357,458 Q500,521 428,660" stroke="#A0522D" stroke-width="1.3" stroke-opacity="0.65"/>
<path d="M356,460 Q500,521 394,636" stroke="#A0522D" stroke-width="1.8" stroke-opacity="0.65"/>
<path d="M359,452 Q500,521 408,648" stroke="#A0522D" stroke-width="1.5" stroke-opacity="0.65"/>
<path d="M355,462 Q500,521 421,656" stroke="#A0522D" stroke-width="1.2" stroke-opacity="0.65"/>
<path d="M359,453 Q500,521 401,642" stroke="#A0522D" stroke-width="2.2" stroke-opacity="0.65"/>
<path d="M343.5,521 A156,156 0 0 1 345.9,493.9 Q499.5,521 345,542.7 A156,156 0 0 1 349.5,564 Q499.5,521 343.5,521 Z" fill="#2DC6DA" fill-opacity="0.08"/>
<path d="M345,502 Q500,521 347,552" stroke="#2DC6DA" stroke-width="1.8" stroke-opacity="0.65"/>
<path d="M344,504 Q500,521 345,544" stroke="#2DC6DA" stroke-width="2.2" stroke-opacity="0.65"/>
<path d="M344,518 Q500,521 347,555" stroke="#2DC6DA" stroke-width="2" stroke-opacity="0.65"/>
<path d="M344,512 Q500,521 345,543" stroke="#2DC6DA" stroke-width="2.1" stroke-opacity="0.65"/>
<path d="M344,520 Q500,521 345,545" stroke="#2DC6DA" stroke-width="1.7" stroke-opacity="0.65"/>
<path d="M344,521 Q500,521 346,550" stroke="#2DC6DA" stroke-width="1.4" stroke-opacity="0.65"/>
<path d="M345,498 Q500,521 347,556" stroke="#2DC6DA" stroke-width="2.1" stroke-opacity="0.65"/>
<path d="M344,505 Q500,521 347,553" stroke="#2DC6DA" stroke-width="2.1" stroke-opacity="0.65"/>
<path d="M345,496 Q500,521 346,551" stroke="#2DC6DA" stroke-width="1.2" stroke-opacity="0.65"/>
<path d="M346,496 Q500,521 348,558" stroke="#2DC6DA" stroke-width="1.8" stroke-opacity="0.65"/>
<path d="M344,507 Q500,521 349,563" stroke="#2DC6DA" stroke-width="2.3" stroke-opacity="0.65"/>
<path d="M344,518 Q500,521 345,545" stroke="#2DC6DA" stroke-width="2" stroke-opacity="0.65"/>
<path d="M345,503 Q500,521 346,546" stroke="#2DC6DA" stroke-width="1.8" stroke-opacity="0.65"/>
<path d="M344,519 Q500,521 347,555" stroke="#2DC6DA" stroke-width="1.8" stroke-opacity="0.65"/>
<path d="M365,442 Q500,521 371,433" stroke="#E03FE0" stroke-width="2.8" stroke-opacity="0.85"/>
<path d="M366,441 Q500,521 371,433" stroke="#E03FE0" stroke-width="2.8" stroke-opacity="0.85"/>
<path d="M364,444 Q500,521 368,437" stroke="#E03FE0" stroke-width="1.8" stroke-opacity="0.85"/>
<path d="M364,444 Q500,521 370,435" stroke="#E03FE0" stroke-width="1.4" stroke-opacity="0.85"/>
<path d="M365,442 Q500,521 369,436" stroke="#E03FE0" stroke-width="1.7" stroke-opacity="0.85"/>
<path d="M445,375 Q500,521 622,617" stroke="#F0921E" stroke-width="1.8" stroke-opacity="0.7"/>
<path d="M453,372 Q500,521 643,582" stroke="#F0921E" stroke-width="1.4" stroke-opacity="0.7"/>
<path d="M451,373 Q500,521 641,587" stroke="#F0921E" stroke-width="2.1" stroke-opacity="0.7"/>
<path d="M436,378 Q500,521 630,607" stroke="#F0921E" stroke-width="1.5" stroke-opacity="0.7"/>
<path d="M436,378 Q500,521 636,597" stroke="#F0921E" stroke-width="1.6" stroke-opacity="0.7"/>
<path d="M460,370 Q500,521 645,576" stroke="#F0921E" stroke-width="1.5" stroke-opacity="0.7"/>
<path d="M442,376 Q500,521 628,610" stroke="#F0921E" stroke-width="1.9" stroke-opacity="0.7"/>
<path d="M453,372 Q500,521 609,632" stroke="#F0921E" stroke-width="1.6" stroke-opacity="0.7"/>
<path d="M448,374 Q500,521 607,634" stroke="#F0921E" stroke-width="2" stroke-opacity="0.7"/>
<path d="M445,375 Q500,521 641,586" stroke="#F0921E" stroke-width="2.1" stroke-opacity="0.7"/>
<path d="M442,376 Q500,521 639,591" stroke="#F0921E" stroke-width="1.8" stroke-opacity="0.7"/>
<path d="M451,373 Q500,521 605,636" stroke="#F0921E" stroke-width="1.4" stroke-opacity="0.7"/>
<path d="M437,378 Q500,521 624,615" stroke="#F0921E" stroke-width="1.8" stroke-opacity="0.7"/>
<path d="M437,378 Q500,521 632,604" stroke="#F0921E" stroke-width="1.7" stroke-opacity="0.7"/>
<path d="M463,369 Q500,521 424,657" stroke="#A0522D" stroke-width="1.5" stroke-opacity="0.7"/>
<path d="M468,368 Q500,521 402,643" stroke="#A0522D" stroke-width="1.5" stroke-opacity="0.7"/>
<path d="M458,371 Q500,521 418,654" stroke="#A0522D" stroke-width="1.2" stroke-opacity="0.7"/>
<path d="M458,371 Q500,521 388,630" stroke="#A0522D" stroke-width="1.7" stroke-opacity="0.7"/>
<path d="M466,369 Q500,521 399,640" stroke="#A0522D" stroke-width="1.2" stroke-opacity="0.7"/>
<path d="M464,369 Q500,521 423,657" stroke="#A0522D" stroke-width="1.4" stroke-opacity="0.7"/>
<path d="M460,370 Q500,521 393,635" stroke="#A0522D" stroke-width="1" stroke-opacity="0.7"/>
<path d="M461,370 Q500,521 394,636" stroke="#A0522D" stroke-width="2.1" stroke-opacity="0.7"/>
<path d="M475,367 Q500,521 493,677" stroke="#F2E27A" stroke-width="1.9" stroke-opacity="0.6"/>
<path d="M467,368 Q500,521 490,677" stroke="#F2E27A" stroke-width="2.1" stroke-opacity="0.6"/>
<path d="M469,368 Q500,521 462,673" stroke="#F2E27A" stroke-width="2.4" stroke-opacity="0.6"/>
<path d="M465,369 Q500,521 473,675" stroke="#F2E27A" stroke-width="1.3" stroke-opacity="0.6"/>
<path d="M462,370 Q500,521 462,673" stroke="#F2E27A" stroke-width="2.1" stroke-opacity="0.6"/>
<path d="M468,368 Q500,521 502,677" stroke="#F2E27A" stroke-width="2.3" stroke-opacity="0.6"/>
<path d="M478,367 Q500,521 465,673" stroke="#F2E27A" stroke-width="1.4" stroke-opacity="0.6"/>
<path d="M465,369 Q500,521 459,672" stroke="#F2E27A" stroke-width="1.9" stroke-opacity="0.6"/>
<path d="M476,367 Q500,521 470,674" stroke="#F2E27A" stroke-width="2.5" stroke-opacity="0.6"/>
<path d="M466,369 Q500,521 459,672" stroke="#F2E27A" stroke-width="1.6" stroke-opacity="0.6"/>
<path d="M479,366 Q500,521 502,677" stroke="#F2E27A" stroke-width="2.2" stroke-opacity="0.6"/>
<path d="M467,368 Q500,521 466,673" stroke="#F2E27A" stroke-width="1.9" stroke-opacity="0.6"/>
<path d="M479,366 Q500,521 484,676" stroke="#F2E27A" stroke-width="1.8" stroke-opacity="0.6"/>
<path d="M466,369 Q500,521 502,677" stroke="#F2E27A" stroke-width="1.5" stroke-opacity="0.6"/>
<path d="M481,366 Q500,521 504,677" stroke="#F2E27A" stroke-width="2.2" stroke-opacity="0.6"/>
<path d="M468,368 Q500,521 475,675" stroke="#F2E27A" stroke-width="1.5" stroke-opacity="0.6"/>
<path d="M495,365 Q500,521 623,616" stroke="#E04848" stroke-width="2.1" stroke-opacity="0.6"/>
<path d="M498,365 Q500,521 601,640" stroke="#E04848" stroke-width="1.2" stroke-opacity="0.6"/>
<path d="M492,365 Q500,521 624,615" stroke="#E04848" stroke-width="2" stroke-opacity="0.6"/>
<path d="M498,365 Q500,521 623,616" stroke="#E04848" stroke-width="1.5" stroke-opacity="0.6"/>
<path d="M494,365 Q500,521 610,631" stroke="#E04848" stroke-width="1.1" stroke-opacity="0.6"/>
<path d="M493,365 Q500,521 617,624" stroke="#E04848" stroke-width="2" stroke-opacity="0.6"/>
<path d="M446,667 Q500,521 603,404" stroke="#2E9E3A" stroke-width="2" stroke-opacity="0.6"/>
<path d="M428,659 Q500,521 602,404" stroke="#2E9E3A" stroke-width="1.6" stroke-opacity="0.6"/>
<path d="M440,665 Q500,521 625,429" stroke="#2E9E3A" stroke-width="1.4" stroke-opacity="0.6"/>
<path d="M413,651 Q500,521 610,411" stroke="#2E9E3A" stroke-width="1.6" stroke-opacity="0.6"/>
<path d="M431,661 Q500,521 620,421" stroke="#2E9E3A" stroke-width="1.4" stroke-opacity="0.6"/>
<path d="M420,655 Q500,521 613,414" stroke="#2E9E3A" stroke-width="1" stroke-opacity="0.6"/>
<path d="M432,661 Q500,521 601,402" stroke="#2E9E3A" stroke-width="1.3" stroke-opacity="0.6"/>
<path d="M416,653 Q500,521 627,431" stroke="#2E9E3A" stroke-width="1.3" stroke-opacity="0.6"/>
<path d="M378,619 Q500,521 626,613" stroke="#E06060" stroke-width="1.2" stroke-opacity="0.6"/>
<path d="M372,611 Q500,521 612,629" stroke="#E06060" stroke-width="1.4" stroke-opacity="0.6"/>
<path d="M365,601 Q500,521 614,627" stroke="#E06060" stroke-width="1.4" stroke-opacity="0.6"/>
<path d="M365,601 Q500,521 633,602" stroke="#E06060" stroke-width="1.9" stroke-opacity="0.6"/>
<path d="M385,627 Q500,521 629,608" stroke="#E06060" stroke-width="1.4" stroke-opacity="0.6"/>
<path d="M388,630 Q500,521 628,609" stroke="#E06060" stroke-width="1" stroke-opacity="0.6"/>
<path d="M384,626 Q500,521 615,625" stroke="#E06060" stroke-width="1.4" stroke-opacity="0.6"/>
<path d="M382,623 Q500,521 619,621" stroke="#E06060" stroke-width="1.2" stroke-opacity="0.6"/>
<path d="M345,540 Q500,521 637,448" stroke="#8FA23E" stroke-width="1.9" stroke-opacity="0.6"/>
<path d="M345,541 Q500,521 652,489" stroke="#8FA23E" stroke-width="2" stroke-opacity="0.6"/>
<path d="M344,524 Q500,521 635,444" stroke="#8FA23E" stroke-width="1.1" stroke-opacity="0.6"/>
<path d="M344,533 Q500,521 650,480" stroke="#8FA23E" stroke-width="1.1" stroke-opacity="0.6"/>
<path d="M345,542 Q500,521 635,444" stroke="#8FA23E" stroke-width="1.1" stroke-opacity="0.6"/>
<path d="M344,522 Q500,521 651,483" stroke="#8FA23E" stroke-width="1.8" stroke-opacity="0.6"/>
<path d="M344,527 Q500,521 642,457" stroke="#8FA23E" stroke-width="1.1" stroke-opacity="0.6"/>
<path d="M345,539 Q500,521 642,458" stroke="#8FA23E" stroke-width="1.1" stroke-opacity="0.6"/>
<path d="M345,542 Q500,521 642,457" stroke="#8FA23E" stroke-width="1.8" stroke-opacity="0.6"/>
<path d="M344,531 Q500,521 644,462" stroke="#8FA23E" stroke-width="1.4" stroke-opacity="0.6"/>
<path d="M344,527 Q500,521 482,676" stroke="#A9CDEB" stroke-width="1" stroke-opacity="0.4"/>
<path d="M507,365 Q500,521 426,383" stroke="#A0522D" stroke-width="1" stroke-opacity="0.4"/>
<path d="M370,609 Q500,521 586,651" stroke="#F4A3A3" stroke-width="1" stroke-opacity="0.4"/>
<path d="M502,365 Q500,521 346,550" stroke="#F4A3A3" stroke-width="1" stroke-opacity="0.4"/>
<path d="M488,365 Q500,521 653,547" stroke="#F0921E" stroke-width="1" stroke-opacity="0.4"/>
<path d="M416,389 Q500,521 484,366" stroke="#A0522D" stroke-width="1" stroke-opacity="0.4"/>
<path d="M492,677 Q500,521 362,447" stroke="#7A4EA6" stroke-width="1" stroke-opacity="0.4"/>
<path d="M600,641 Q500,521 458,671" stroke="#F2E68A" stroke-width="1" stroke-opacity="0.4"/>
<path d="M655,536 Q500,521 654,499" stroke="#A0522D" stroke-width="1" stroke-opacity="0.4"/>
<path d="M473,675 Q500,521 655,523" stroke="#A6D98E" stroke-width="1" stroke-opacity="0.4"/>
<path d="M655,515 Q500,521 562,664" stroke="#E04848" stroke-width="1" stroke-opacity="0.4"/>
<path d="M424,657 Q500,521 648,474" stroke="#F0921E" stroke-width="1" stroke-opacity="0.4"/>
<path d="M645,465 Q500,521 540,370" stroke="#A9CDEB" stroke-width="1" stroke-opacity="0.4"/>
<path d="M647,570 Q500,521 550,374" stroke="#F2E68A" stroke-width="1" stroke-opacity="0.4"/>
<path d="M544,670 Q500,521 547,372" stroke="#F8BE8C" stroke-width="1" stroke-opacity="0.4"/>
<path d="M344,510 Q500,521 460,672" stroke="#F0921E" stroke-width="1" stroke-opacity="0.4"/>
<path d="M451,373 Q500,521 344,505" stroke="#A6D98E" stroke-width="1" stroke-opacity="0.4"/>
<path d="M453,670 Q500,521 469,368" stroke="#F8BE8C" stroke-width="1" stroke-opacity="0.4"/>
<path d="M365,601 Q500,521 346,547" stroke="#F0921E" stroke-width="1" stroke-opacity="0.4"/>
<path d="M434,380 Q500,521 439,665" stroke="#2F9E3B" stroke-width="1" stroke-opacity="0.4"/>
<path d="M493,365 Q500,521 413,391" stroke="#2F9E3B" stroke-width="1" stroke-opacity="0.4"/>
<path d="M648,568 Q500,521 584,652" stroke="#A9CDEB" stroke-width="1" stroke-opacity="0.4"/>
<path d="M359,453 Q500,521 388,630" stroke="#F4A3A3" stroke-width="1" stroke-opacity="0.4"/>
<path d="M463,673 Q500,521 598,642" stroke="#F8BE8C" stroke-width="1" stroke-opacity="0.4"/>
<path d="M635,599 Q500,521 645,576" stroke="#F0921E" stroke-width="1" stroke-opacity="0.4"/>
<path d="M345,503 Q500,521 392,635" stroke="#F8BE8C" stroke-width="1" stroke-opacity="0.4"/>
<path d="M365,600 Q500,521 560,665" stroke="#7A4EA6" stroke-width="1" stroke-opacity="0.4"/>
<path d="M641,456 Q500,521 428,382" stroke="#F8BE8C" stroke-width="1" stroke-opacity="0.4"/>
<path d="M519,676 Q500,521 369,435" stroke="#2F9E3B" stroke-width="1" stroke-opacity="0.4"/>
<path d="M430,381 Q500,521 609,410" stroke="#A6D98E" stroke-width="1" stroke-opacity="0.4"/>
<path d="M355,462 Q500,521 384,626" stroke="#F8BE8C" stroke-width="1" stroke-opacity="0.4"/>
<path d="M372,431 Q500,521 521,366" stroke="#E04848" stroke-width="1" stroke-opacity="0.4"/>
<path d="M435,379 Q500,521 466,369" stroke="#2F9E3B" stroke-width="1" stroke-opacity="0.4"/>
<path d="M381,622 Q500,521 349,562" stroke="#A0522D" stroke-width="1" stroke-opacity="0.4"/>
<path d="M588,649 Q500,521 485,366" stroke="#7A4EA6" stroke-width="1" stroke-opacity="0.4"/>
<path d="M612,629 Q500,521 364,444" stroke="#F8BE8C" stroke-width="1" stroke-opacity="0.4"/>
<path d="M344,524 Q500,521 363,446" stroke="#F8BE8C" stroke-width="1" stroke-opacity="0.4"/>
<path d="M485,676 Q500,521 427,659" stroke="#F0921E" stroke-width="1" stroke-opacity="0.4"/>
<path d="M428,660 Q500,521 638,449" stroke="#7A4EA6" stroke-width="1" stroke-opacity="0.4"/>
<path d="M386,414 Q500,521 494,365" stroke="#F8BE8C" stroke-width="1" stroke-opacity="0.4"/>
<path d="M655,509 Q500,521 346,493" stroke="#F2E68A" stroke-width="1" stroke-opacity="0.4"/>
<path d="M612,629 Q500,521 655,526" stroke="#2F9E3B" stroke-width="1" stroke-opacity="0.4"/>
<path d="M360,592 Q500,521 433,380" stroke="#E04848" stroke-width="1" stroke-opacity="0.4"/>
<path d="M558,376 Q500,521 650,482" stroke="#A0522D" stroke-width="1" stroke-opacity="0.4"/>
<path d="M409,394 Q500,521 417,388" stroke="#F2E68A" stroke-width="1" stroke-opacity="0.4"/>
<path d="M462,672 Q500,521 402,399" stroke="#F0921E" stroke-width="1" stroke-opacity="0.4"/>
<path d="M466,673 Q500,521 407,647" stroke="#2F9E3B" stroke-width="1" stroke-opacity="0.4"/>
<path d="M463,369 Q500,521 647,470" stroke="#F8BE8C" stroke-width="1" stroke-opacity="0.4"/>
<path d="M358,456 Q500,521 507,677" stroke="#A0522D" stroke-width="1" stroke-opacity="0.4"/>
<path d="M371,433 Q500,521 647,573" stroke="#A0522D" stroke-width="1" stroke-opacity="0.4"/>
</g>
<circle cx="499.5" cy="521" r="55" fill="url(#glow)"/>
<ellipse cx="1382.7" cy="50.7" rx="7.9" ry="24.3" fill="#C4C6CB" stroke="#15203a" stroke-width="1.6"/>
<ellipse cx="1382.7" cy="101.7" rx="7.9" ry="30.7" fill="#C4C6CB" stroke="#15203a" stroke-width="1.6"/>
<ellipse cx="1382.7" cy="73" rx="7.6" ry="7.6" fill="#8DC753" stroke="#15203a" stroke-width="1.6"/>
<ellipse cx="1411.8" cy="50.7" rx="7.9" ry="24.3" fill="#C4C6CB" stroke="#15203a" stroke-width="1.6"/>
<ellipse cx="1411.8" cy="101.7" rx="7.9" ry="30.7" fill="#C4C6CB" stroke="#15203a" stroke-width="1.6"/>
<ellipse cx="1411.8" cy="73" rx="7.6" ry="7.6" fill="#8DC753" stroke="#15203a" stroke-width="1.6"/>
<ellipse cx="1242" cy="285.6" rx="7.1" ry="38.2" fill="#FBB714" stroke="#15203a" stroke-width="1.6"/>
<ellipse cx="1242" cy="344.4" rx="7.1" ry="24.6" fill="#FBB714" stroke="#15203a" stroke-width="1.6"/>
<ellipse cx="1242" cy="321.8" rx="7.6" ry="7.6" fill="#8DC753" stroke="#15203a" stroke-width="1.6"/>
<ellipse cx="1273.9" cy="285.6" rx="7.1" ry="38.2" fill="#FBB714" stroke="#15203a" stroke-width="1.6"/>
<ellipse cx="1273.9" cy="344.4" rx="7.1" ry="24.6" fill="#FBB714" stroke="#15203a" stroke-width="1.6"/>
<ellipse cx="1273.9" cy="321.8" rx="7.6" ry="7.6" fill="#8DC753" stroke="#15203a" stroke-width="1.6"/>
<ellipse cx="1514.8" cy="275.5" rx="7.1" ry="27.8" fill="#11B4EC" stroke="#15203a" stroke-width="1.6"/>
<ellipse cx="1514.8" cy="334.5" rx="7.1" ry="35.2" fill="#11B4EC" stroke="#15203a" stroke-width="1.6"/>
<ellipse cx="1514.8" cy="301.3" rx="7.6" ry="7.6" fill="#8DC753" stroke="#15203a" stroke-width="1.6"/>
<ellipse cx="1548.3" cy="275.5" rx="7.1" ry="27.8" fill="#11B4EC" stroke="#15203a" stroke-width="1.6"/>
<ellipse cx="1548.3" cy="334.5" rx="7.1" ry="35.2" fill="#11B4EC" stroke="#15203a" stroke-width="1.6"/>
<ellipse cx="1548.3" cy="301.3" rx="7.6" ry="7.6" fill="#8DC753" stroke="#15203a" stroke-width="1.6"/>
<ellipse cx="1345" cy="517.1" rx="7.8" ry="37.5" fill="#FBB714" stroke="#15203a" stroke-width="1.6"/>
<ellipse cx="1345" cy="575.6" rx="7.8" ry="25" fill="#FBB714" stroke="#15203a" stroke-width="1.6"/>
<ellipse cx="1345" cy="552.6" rx="8.2" ry="8.2" fill="#8DC753" stroke="#15203a" stroke-width="1.6"/>
<ellipse cx="1376.3" cy="517.1" rx="7.8" ry="37.5" fill="#FBB714" stroke="#15203a" stroke-width="1.6"/>
<ellipse cx="1376.3" cy="575.6" rx="7.8" ry="25" fill="#FBB714" stroke="#15203a" stroke-width="1.6"/>
<ellipse cx="1376.3" cy="552.6" rx="8.2" ry="8.2" fill="#8DC753" stroke="#15203a" stroke-width="1.6"/>
<ellipse cx="1414.7" cy="509.2" rx="7.8" ry="27.5" fill="#11B4EC" stroke="#15203a" stroke-width="1.6"/>
<ellipse cx="1414.7" cy="567.7" rx="7.8" ry="34.9" fill="#11B4EC" stroke="#15203a" stroke-width="1.6"/>
<ellipse cx="1414.7" cy="534.7" rx="8.2" ry="8.2" fill="#8DC753" stroke="#15203a" stroke-width="1.6"/>
<ellipse cx="1448" cy="509.2" rx="7.8" ry="27.5" fill="#11B4EC" stroke="#15203a" stroke-width="1.6"/>
<ellipse cx="1448" cy="567.7" rx="7.8" ry="34.9" fill="#11B4EC" stroke="#15203a" stroke-width="1.6"/>
<ellipse cx="1448" cy="534.7" rx="8.2" ry="8.2" fill="#8DC753" stroke="#15203a" stroke-width="1.6"/>
<clipPath id="c13450"><ellipse cx="1345" cy="763.8" rx="7.8" ry="46.5"/><ellipse cx="1345" cy="830.6" rx="7.8" ry="24.4"/></clipPath>
<g clip-path="url(#c13450)"><rect x="1335.2" y="715.3" width="19.5" height="58.3" fill="#11B4EC"/><rect x="1335.2" y="773.6" width="19.5" height="83.4" fill="#FBB714"/></g>
<g fill="none" stroke="#15203a" stroke-width="1.6"><ellipse cx="1345" cy="763.8" rx="7.8" ry="46.5"/><ellipse cx="1345" cy="830.6" rx="7.8" ry="24.4"/></g>
<line x1="1337.2" y1="773.6" x2="1352.8" y2="773.6" stroke="#15203a" stroke-width="1.4"/>
<ellipse cx="1345" cy="808.3" rx="8.2" ry="7.7" fill="#8DC753" stroke="#15203a" stroke-width="1.6"/>
<clipPath id="c13750"><ellipse cx="1375" cy="763.8" rx="7.8" ry="46.5"/><ellipse cx="1375" cy="830.6" rx="7.8" ry="24.4"/></clipPath>
<g clip-path="url(#c13750)"><rect x="1365.2" y="715.3" width="19.5" height="58.3" fill="#11B4EC"/><rect x="1365.2" y="773.6" width="19.5" height="83.4" fill="#FBB714"/></g>
<g fill="none" stroke="#15203a" stroke-width="1.6"><ellipse cx="1375" cy="763.8" rx="7.8" ry="46.5"/><ellipse cx="1375" cy="830.6" rx="7.8" ry="24.4"/></g>
<line x1="1367.2" y1="773.6" x2="1382.8" y2="773.6" stroke="#15203a" stroke-width="1.4"/>
<ellipse cx="1375" cy="808.3" rx="8.2" ry="7.7" fill="#8DC753" stroke="#15203a" stroke-width="1.6"/>
<clipPath id="c14147"><ellipse cx="1414.7" cy="741.3" rx="7.8" ry="22.7"/><ellipse cx="1414.7" cy="807.5" rx="7.8" ry="47.5"/></clipPath>
<g clip-path="url(#c14147)"><rect x="1405" y="716.6" width="19.5" height="82.1" fill="#11B4EC"/><rect x="1405" y="798.7" width="19.5" height="58.3" fill="#FBB714"/></g>
<rect x="1407" y="749.5" width="15.5" height="3" fill="#3CDD3C" clip-path="url(#c14147)"/>
<rect x="1407" y="771.5" width="15.5" height="3" fill="#3CDD3C" clip-path="url(#c14147)"/>
<g fill="none" stroke="#15203a" stroke-width="1.6"><ellipse cx="1414.7" cy="741.3" rx="7.8" ry="22.7"/><ellipse cx="1414.7" cy="807.5" rx="7.8" ry="47.5"/></g>
<line x1="1407" y1="798.7" x2="1422.5" y2="798.7" stroke="#15203a" stroke-width="1.4"/>
<ellipse cx="1414.7" cy="762" rx="8.2" ry="7.7" fill="#E8101A" stroke="#15203a" stroke-width="1.6"/>
<clipPath id="c14480"><ellipse cx="1448" cy="741.3" rx="7.8" ry="22.7"/><ellipse cx="1448" cy="807.5" rx="7.8" ry="47.5"/></clipPath>
<g clip-path="url(#c14480)"><rect x="1438.2" y="716.6" width="19.5" height="82.1" fill="#11B4EC"/><rect x="1438.2" y="798.7" width="19.5" height="58.3" fill="#FBB714"/></g>
<rect x="1440.2" y="749.5" width="15.5" height="3" fill="#3CDD3C" clip-path="url(#c14480)"/>
<rect x="1440.2" y="771.5" width="15.5" height="3" fill="#3CDD3C" clip-path="url(#c14480)"/>
<g fill="none" stroke="#15203a" stroke-width="1.6"><ellipse cx="1448" cy="741.3" rx="7.8" ry="22.7"/><ellipse cx="1448" cy="807.5" rx="7.8" ry="47.5"/></g>
<line x1="1440.2" y1="798.7" x2="1455.8" y2="798.7" stroke="#15203a" stroke-width="1.4"/>
<ellipse cx="1448" cy="762" rx="8.2" ry="7.7" fill="#E8101A" stroke="#15203a" stroke-width="1.6"/>
<path d="M1394.2,153 C1394.2,178 1362,194 1325.9,194.5 C1294,195 1266,210 1259.5,228" fill="none" stroke="#4a4a4a" stroke-width="2.2"/>
<path d="M1255,224.5 L1266.5,228.3 L1258.2,237 Z" fill="#4a4a4a"/>
<path d="M1394.2,153 C1394.2,178 1426,194 1462.5,194.5 C1494,195 1522,210 1529.5,228" fill="none" stroke="#4a4a4a" stroke-width="2.2"/>
<path d="M1533.5,224.5 L1522,228.3 L1530.5,237 Z" fill="#4a4a4a"/>
<path d="M1257.6,377 C1257.6,402 1286,418.5 1321.3,419 C1352,420 1374,436 1385,453" fill="none" stroke="#4a4a4a" stroke-width="2.2"/>
<path d="M1380.6,453 L1391.8,449 L1388.9,461.5 Z" fill="#4a4a4a"/>
<path d="M1530.8,377 C1530.8,402 1502,418.5 1465.6,419 C1436,420 1414,436 1403.5,453" fill="none" stroke="#4a4a4a" stroke-width="2.2"/>
<path d="M1407.8,453 L1396.6,449 L1399.6,461.5 Z" fill="#4a4a4a"/>
<circle cx="1394.2" cy="418.8" r="12.6" fill="none" stroke="#111" stroke-width="2.3"/>
<path d="M1385.3,409.9 L1403.1,427.7 M1403.1,409.9 L1385.3,427.7" stroke="#333" stroke-width="1"/>
<line x1="1397.2" y1="619" x2="1397.2" y2="692" stroke="#4a4a4a" stroke-width="2"/>
<path d="M1391.5,689 L1403,689 L1397.2,701 Z" fill="#4a4a4a"/>
<rect x="1025.3" y="264.2" width="4.2" height="107.6" fill="#E8101A"/>
<rect x="1039.1" y="269.1" width="4.2" height="102.7" fill="#22DD22"/>
<rect x="1053.4" y="294.6" width="4.2" height="77.2" fill="#1A22DD"/>
<rect x="1069" y="268.2" width="4.2" height="103.6" fill="#F5EE10"/>
<rect x="1085.1" y="287" width="4.2" height="84.8" fill="#F010F0"/>
<rect x="1099.4" y="272.3" width="4.2" height="99.5" fill="#10E0F0"/>
<rect x="1114.1" y="292.4" width="4.2" height="79.4" fill="#111111"/>
<rect x="1129.3" y="287" width="4.2" height="84.8" fill="#8B0A0A"/>
<rect x="1144.4" y="285.7" width="4.2" height="86.1" fill="#118A11"/>
<rect x="1160.1" y="296.8" width="4.2" height="75" fill="#1A1A99"/>
<rect x="1175.2" y="292.4" width="4.2" height="79.4" fill="#A09A1A"/>
<rect x="1189.9" y="256.6" width="4.2" height="115.2" fill="#9A1A9A"/>
<rect x="1615.5" y="150.5" width="7" height="102.1" fill="#22DD22"/>
<rect x="1615.5" y="252.3" width="7" height="33.5" fill="#22DDEE"/>
<rect x="1615.5" y="285.4" width="7" height="15.8" fill="#8E1A8E"/>
<rect x="1615.5" y="300.9" width="7" height="22.4" fill="#118A11"/>
<rect x="1615.5" y="323" width="7" height="33.5" fill="#8E1A8E"/>
<rect x="1615.5" y="356.2" width="7" height="15.8" fill="#118A11"/>
<rect x="1615.5" y="210.7" width="7" height="1.3" fill="#F0A0F0" opacity="0.85"/>
<rect x="1615.5" y="217.5" width="7" height="1.6" fill="#FFFFFF" opacity="0.85"/>
<rect x="1615.5" y="323.8" width="7" height="0.8" fill="#FFFFFF" opacity="0.85"/>
<rect x="1615.5" y="211.4" width="7" height="1.1" fill="#FFFFFF" opacity="0.85"/>
<rect x="1615.5" y="295" width="7" height="1.3" fill="#F0A0F0" opacity="0.85"/>
<rect x="1615.5" y="313.3" width="7" height="1.3" fill="#F0A0F0" opacity="0.85"/>
<rect x="1615.5" y="208.7" width="7" height="0.8" fill="#FFFFFF" opacity="0.85"/>
<rect x="1615.5" y="311.8" width="7" height="1" fill="#FFFFFF" opacity="0.85"/>
<rect x="1615.5" y="344.8" width="7" height="1.1" fill="#F0A0F0" opacity="0.85"/>
<rect x="1615.5" y="252.6" width="7" height="0.7" fill="#F0A0F0" opacity="0.85"/>
<rect x="1615.5" y="150.5" width="7" height="221.2" fill="none" stroke="#555" stroke-width="0.9"/>
<rect x="1629.5" y="295.5" width="7" height="76.5" fill="#111111"/>
<rect x="1629.5" y="300.1" width="7" height="1.1" fill="#FFFFFF" opacity="0.85"/>
<rect x="1629.5" y="331.9" width="7" height="0.7" fill="#F0A0F0" opacity="0.85"/>
<rect x="1629.5" y="333.3" width="7" height="1.3" fill="#FFFFFF" opacity="0.85"/>
<rect x="1629.5" y="368.2" width="7" height="1.4" fill="#FFFFFF" opacity="0.85"/>
<rect x="1629.5" y="303.3" width="7" height="0.8" fill="#222222" opacity="0.85"/>
<rect x="1629.5" y="348.8" width="7" height="1.3" fill="#FFFFFF" opacity="0.85"/>
<rect x="1629.5" y="336.5" width="7" height="0.6" fill="#FFFFFF" opacity="0.85"/>
<rect x="1629.5" y="338.8" width="7" height="1.5" fill="#FFFFFF" opacity="0.85"/>
<rect x="1629.5" y="295.5" width="7" height="76.2" fill="none" stroke="#555" stroke-width="0.9"/>
<rect x="1643.9" y="229.2" width="7" height="50.2" fill="#1A22DD"/>
<rect x="1643.9" y="279.1" width="7" height="50.2" fill="#EE22EE"/>
<rect x="1643.9" y="328.9" width="7" height="43.1" fill="#8E1A8E"/>
<rect x="1643.9" y="306.7" width="7" height="1" fill="#FFFFFF" opacity="0.85"/>
<rect x="1643.9" y="303.4" width="7" height="0.9" fill="#F0A0F0" opacity="0.85"/>
<rect x="1643.9" y="288.7" width="7" height="1.1" fill="#F0A0F0" opacity="0.85"/>
<rect x="1643.9" y="341" width="7" height="1.1" fill="#F0A0F0" opacity="0.85"/>
<rect x="1643.9" y="276.8" width="7" height="1.1" fill="#FFFFFF" opacity="0.85"/>
<rect x="1643.9" y="298.3" width="7" height="1" fill="#F0A0F0" opacity="0.85"/>
<rect x="1643.9" y="290.5" width="7" height="0.6" fill="#F0A0F0" opacity="0.85"/>
<rect x="1643.9" y="272.3" width="7" height="1" fill="#F0A0F0" opacity="0.85"/>
<rect x="1643.9" y="327.1" width="7" height="1" fill="#FFFFFF" opacity="0.85"/>
<rect x="1643.9" y="256.1" width="7" height="0.8" fill="#F0A0F0" opacity="0.85"/>
<rect x="1643.9" y="229.2" width="7" height="142.5" fill="none" stroke="#555" stroke-width="0.9"/>
<rect x="1659" y="277.4" width="7" height="94.6" fill="#F5EE22"/>
<rect x="1659" y="327.6" width="7" height="0.8" fill="#F0A0F0" opacity="0.85"/>
<rect x="1659" y="307.5" width="7" height="1" fill="#FFFFFF" opacity="0.85"/>
<rect x="1659" y="302" width="7" height="0.9" fill="#F0A0F0" opacity="0.85"/>
<rect x="1659" y="299" width="7" height="1.5" fill="#FFFFFF" opacity="0.85"/>
<rect x="1659" y="348.3" width="7" height="1.5" fill="#F0A0F0" opacity="0.85"/>
<rect x="1659" y="316.4" width="7" height="1.3" fill="#222222" opacity="0.85"/>
<rect x="1659" y="277.4" width="7" height="94.3" fill="none" stroke="#555" stroke-width="0.9"/>
<rect x="1675.1" y="299.5" width="7" height="72.5" fill="#8B0A0A"/>
<rect x="1675.1" y="307.4" width="7" height="1.2" fill="#FFFFFF" opacity="0.85"/>
<rect x="1675.1" y="324.4" width="7" height="1.3" fill="#FFFFFF" opacity="0.85"/>
<rect x="1675.1" y="322.7" width="7" height="0.7" fill="#FFFFFF" opacity="0.85"/>
<rect x="1675.1" y="312.2" width="7" height="1.3" fill="#F0A0F0" opacity="0.85"/>
<rect x="1675.1" y="356.8" width="7" height="0.7" fill="#222222" opacity="0.85"/>
<rect x="1675.1" y="365.8" width="7" height="1.4" fill="#222222" opacity="0.85"/>
<rect x="1675.1" y="299.5" width="7" height="72.2" fill="none" stroke="#555" stroke-width="0.9"/>
<rect x="1690" y="316.3" width="7" height="55.7" fill="#1A1A99"/>
<rect x="1690" y="319.5" width="7" height="0.8" fill="#FFFFFF" opacity="0.85"/>
<rect x="1690" y="363.6" width="7" height="0.9" fill="#F0A0F0" opacity="0.85"/>
<rect x="1690" y="357.9" width="7" height="1.2" fill="#FFFFFF" opacity="0.85"/>
<rect x="1690" y="319.3" width="7" height="0.8" fill="#FFFFFF" opacity="0.85"/>
<rect x="1690" y="351.7" width="7" height="1" fill="#F0A0F0" opacity="0.85"/>
<rect x="1690" y="316.3" width="7" height="55.4" fill="none" stroke="#555" stroke-width="0.9"/>
<rect x="1704.5" y="281.3" width="7" height="16.6" fill="#FFFFFF"/>
<rect x="1704.5" y="297.6" width="7" height="8.4" fill="#8E1A8E"/>
<rect x="1704.5" y="305.7" width="7" height="66.3" fill="#A09A1A"/>
<rect x="1704.5" y="360.9" width="7" height="1" fill="#FFFFFF" opacity="0.85"/>
<rect x="1704.5" y="365.4" width="7" height="1" fill="#FFFFFF" opacity="0.85"/>
<rect x="1704.5" y="343.7" width="7" height="0.6" fill="#F0A0F0" opacity="0.85"/>
<rect x="1704.5" y="341.6" width="7" height="1.5" fill="#FFFFFF" opacity="0.85"/>
<rect x="1704.5" y="284.4" width="7" height="1.5" fill="#222222" opacity="0.85"/>
<rect x="1704.5" y="304" width="7" height="1.2" fill="#FFFFFF" opacity="0.85"/>
<rect x="1704.5" y="281.3" width="7" height="90.4" fill="none" stroke="#555" stroke-width="0.9"/>
<rect x="1719.8" y="321.6" width="7" height="27.9" fill="#1A22DD"/>
<rect x="1719.8" y="349.2" width="7" height="6.8" fill="#8E1A8E"/>
<rect x="1719.8" y="355.7" width="7" height="16.3" fill="#E01A1A"/>
<rect x="1719.8" y="359.6" width="7" height="1.5" fill="#FFFFFF" opacity="0.85"/>
<rect x="1719.8" y="357.2" width="7" height="1.2" fill="#FFFFFF" opacity="0.85"/>
<rect x="1719.8" y="357.4" width="7" height="0.9" fill="#FFFFFF" opacity="0.85"/>
<rect x="1719.8" y="334.8" width="7" height="1.5" fill="#FFFFFF" opacity="0.85"/>
<rect x="1719.8" y="333.6" width="7" height="0.8" fill="#FFFFFF" opacity="0.85"/>
<rect x="1719.8" y="359.7" width="7" height="1.3" fill="#FFFFFF" opacity="0.85"/>
<rect x="1719.8" y="321.6" width="7" height="50.1" fill="none" stroke="#555" stroke-width="0.9"/>
<rect x="1734.9" y="311.1" width="7" height="60.9" fill="#E01A1A"/>
<rect x="1734.9" y="339.7" width="7" height="0.8" fill="#222222" opacity="0.85"/>
<rect x="1734.9" y="366.1" width="7" height="1.5" fill="#FFFFFF" opacity="0.85"/>
<rect x="1734.9" y="333.4" width="7" height="0.7" fill="#FFFFFF" opacity="0.85"/>
<rect x="1734.9" y="355.3" width="7" height="1.3" fill="#F0A0F0" opacity="0.85"/>
<rect x="1734.9" y="326.1" width="7" height="0.7" fill="#FFFFFF" opacity="0.85"/>
<rect x="1734.9" y="361.1" width="7" height="1.1" fill="#F0A0F0" opacity="0.85"/>
<rect x="1734.9" y="311.1" width="7" height="60.6" fill="none" stroke="#555" stroke-width="0.9"/>
<rect x="1750.5" y="325.1" width="7" height="11.9" fill="#8E1A8E"/>
<rect x="1750.5" y="336.8" width="7" height="35.2" fill="#EE22EE"/>
<rect x="1750.5" y="361.9" width="7" height="1" fill="#FFFFFF" opacity="0.85"/>
<rect x="1750.5" y="340.9" width="7" height="0.8" fill="#FFFFFF" opacity="0.85"/>
<rect x="1750.5" y="356.8" width="7" height="1.5" fill="#222222" opacity="0.85"/>
<rect x="1750.5" y="329.6" width="7" height="1.1" fill="#FFFFFF" opacity="0.85"/>
<rect x="1750.5" y="325.1" width="7" height="46.6" fill="none" stroke="#555" stroke-width="0.9"/>
<rect x="1765.2" y="357" width="7" height="15" fill="#118A11"/>
<rect x="1765.2" y="367.4" width="7" height="0.6" fill="#F0A0F0" opacity="0.85"/>
<rect x="1765.2" y="357" width="7" height="14.7" fill="none" stroke="#555" stroke-width="0.9"/>
<rect x="1780.8" y="352.6" width="7" height="6" fill="#1A22DD"/>
<rect x="1780.8" y="358.3" width="7" height="6" fill="#8E1A8E"/>
<rect x="1780.8" y="364.1" width="7" height="7.9" fill="#1A1A99"/>
<rect x="1780.8" y="363.5" width="7" height="0.8" fill="#FFFFFF" opacity="0.85"/>
<rect x="1780.8" y="352.6" width="7" height="19.1" fill="none" stroke="#555" stroke-width="0.9"/>
<rect x="1229.1" y="901.4" width="5.4" height="38.8" fill="#22DD22"/>
<rect x="1229.1" y="939.9" width="5.4" height="8.4" fill="#1A22DD"/>
<rect x="1229.1" y="948" width="5.4" height="4.4" fill="#5a5aee"/>
<rect x="1229.1" y="952.1" width="5.4" height="22.6" fill="#111111"/>
<rect x="1229.1" y="974.4" width="5.4" height="3.3" fill="#8E1A8E"/>
<rect x="1229.1" y="977.4" width="5.4" height="25.6" fill="#A09A1A"/>
<rect x="1229.1" y="995.5" width="5.4" height="1.5" fill="#F0A0F0" opacity="0.85"/>
<rect x="1229.1" y="937.9" width="5.4" height="1.5" fill="#FFFFFF" opacity="0.85"/>
<rect x="1229.1" y="991.7" width="5.4" height="1.3" fill="#F0A0F0" opacity="0.85"/>
<rect x="1229.1" y="948" width="5.4" height="1.6" fill="#FFFFFF" opacity="0.85"/>
<rect x="1229.1" y="983.7" width="5.4" height="1" fill="#F0A0F0" opacity="0.85"/>
<rect x="1229.1" y="914.3" width="5.4" height="0.7" fill="#FFFFFF" opacity="0.85"/>
<rect x="1229.1" y="921" width="5.4" height="0.8" fill="#222222" opacity="0.85"/>
<rect x="1229.1" y="962.3" width="5.4" height="1.3" fill="#FFFFFF" opacity="0.85"/>
<rect x="1229.1" y="901.4" width="5.4" height="101.4" fill="none" stroke="#555" stroke-width="0.8"/>
<rect x="1239.9" y="902" width="5.4" height="10.4" fill="#8B0A0A"/>
<rect x="1239.9" y="912.1" width="5.4" height="12.4" fill="#E01A1A"/>
<rect x="1239.9" y="924.2" width="5.4" height="4.3" fill="#EE22EE"/>
<rect x="1239.9" y="928.2" width="5.4" height="74.9" fill="#22DD22"/>
<rect x="1239.9" y="980" width="5.4" height="1.3" fill="#F0A0F0" opacity="0.85"/>
<rect x="1239.9" y="978.1" width="5.4" height="1.3" fill="#222222" opacity="0.85"/>
<rect x="1239.9" y="960" width="5.4" height="1.3" fill="#FFFFFF" opacity="0.85"/>
<rect x="1239.9" y="929.2" width="5.4" height="0.7" fill="#222222" opacity="0.85"/>
<rect x="1239.9" y="963.6" width="5.4" height="1.5" fill="#FFFFFF" opacity="0.85"/>
<rect x="1239.9" y="935.4" width="5.4" height="1.5" fill="#FFFFFF" opacity="0.85"/>
<rect x="1239.9" y="992.3" width="5.4" height="1.3" fill="#222222" opacity="0.85"/>
<rect x="1239.9" y="975" width="5.4" height="1.2" fill="#FFFFFF" opacity="0.85"/>
<rect x="1239.9" y="902" width="5.4" height="100.8" fill="none" stroke="#555" stroke-width="0.8"/>
<rect x="1274.3" y="873.3" width="5.4" height="19.7" fill="#8E1A8E"/>
<rect x="1274.3" y="892.7" width="5.4" height="30.1" fill="#1A22DD"/>
<rect x="1274.3" y="922.5" width="5.4" height="18.4" fill="#8E1A8E"/>
<rect x="1274.3" y="940.6" width="5.4" height="14.5" fill="#EE22EE"/>
<rect x="1274.3" y="954.9" width="5.4" height="8.1" fill="#FFFFFF"/>
<rect x="1274.3" y="962.7" width="5.4" height="9.4" fill="#E01A1A"/>
<rect x="1274.3" y="971.7" width="5.4" height="5.5" fill="#118A11"/>
<rect x="1274.3" y="976.9" width="5.4" height="15.8" fill="#8E1A8E"/>
<rect x="1274.3" y="992.4" width="5.4" height="10.7" fill="#22DDEE"/>
<rect x="1274.3" y="964.5" width="5.4" height="1.2" fill="#FFFFFF" opacity="0.85"/>
<rect x="1274.3" y="928.2" width="5.4" height="1.5" fill="#FFFFFF" opacity="0.85"/>
<rect x="1274.3" y="920.7" width="5.4" height="1.2" fill="#FFFFFF" opacity="0.85"/>
<rect x="1274.3" y="938.9" width="5.4" height="0.8" fill="#222222" opacity="0.85"/>
<rect x="1274.3" y="932.1" width="5.4" height="0.8" fill="#F0A0F0" opacity="0.85"/>
<rect x="1274.3" y="913.9" width="5.4" height="1.5" fill="#FFFFFF" opacity="0.85"/>
<rect x="1274.3" y="948" width="5.4" height="0.9" fill="#FFFFFF" opacity="0.85"/>
<rect x="1274.3" y="891.7" width="5.4" height="1.5" fill="#222222" opacity="0.85"/>
<rect x="1274.3" y="873.3" width="5.4" height="129.5" fill="none" stroke="#555" stroke-width="0.8"/>
<rect x="1297.7" y="901.6" width="5.4" height="25.6" fill="#8B0A0A"/>
<rect x="1297.7" y="926.9" width="5.4" height="7.4" fill="#1A22DD"/>
<rect x="1297.7" y="934" width="5.4" height="3.3" fill="#A09A1A"/>
<rect x="1297.7" y="937" width="5.4" height="35.7" fill="#F5EE22"/>
<rect x="1297.7" y="972.4" width="5.4" height="3.3" fill="#111111"/>
<rect x="1297.7" y="975.5" width="5.4" height="6.4" fill="#F5EE22"/>
<rect x="1297.7" y="981.5" width="5.4" height="5.4" fill="#E01A1A"/>
<rect x="1297.7" y="986.6" width="5.4" height="3.3" fill="#FFFFFF"/>
<rect x="1297.7" y="989.6" width="5.4" height="13.5" fill="#1A1A99"/>
<rect x="1297.7" y="905.5" width="5.4" height="1.6" fill="#FFFFFF" opacity="0.85"/>
<rect x="1297.7" y="913.3" width="5.4" height="0.7" fill="#FFFFFF" opacity="0.85"/>
<rect x="1297.7" y="980.6" width="5.4" height="1.1" fill="#F0A0F0" opacity="0.85"/>
<rect x="1297.7" y="987.5" width="5.4" height="1.1" fill="#FFFFFF" opacity="0.85"/>
<rect x="1297.7" y="929.2" width="5.4" height="1.5" fill="#222222" opacity="0.85"/>
<rect x="1297.7" y="926.3" width="5.4" height="1.3" fill="#FFFFFF" opacity="0.85"/>
<rect x="1297.7" y="910.9" width="5.4" height="1.4" fill="#222222" opacity="0.85"/>
<rect x="1297.7" y="915.7" width="5.4" height="0.9" fill="#FFFFFF" opacity="0.85"/>
<rect x="1297.7" y="901.6" width="5.4" height="101.2" fill="none" stroke="#555" stroke-width="0.8"/>
<rect x="1309.3" y="909.3" width="5.4" height="70.4" fill="#F5EE22"/>
<rect x="1309.3" y="979.4" width="5.4" height="7.8" fill="#22DDEE"/>
<rect x="1309.3" y="986.9" width="5.4" height="16.2" fill="#8E1A8E"/>
<rect x="1309.3" y="933" width="5.4" height="1.2" fill="#F0A0F0" opacity="0.85"/>
<rect x="1309.3" y="929.8" width="5.4" height="1.2" fill="#FFFFFF" opacity="0.85"/>
<rect x="1309.3" y="936" width="5.4" height="0.9" fill="#FFFFFF" opacity="0.85"/>
<rect x="1309.3" y="992.2" width="5.4" height="1.2" fill="#F0A0F0" opacity="0.85"/>
<rect x="1309.3" y="927" width="5.4" height="1.5" fill="#F0A0F0" opacity="0.85"/>
<rect x="1309.3" y="946.8" width="5.4" height="0.9" fill="#FFFFFF" opacity="0.85"/>
<rect x="1309.3" y="998.3" width="5.4" height="1.5" fill="#F0A0F0" opacity="0.85"/>
<rect x="1309.3" y="958.8" width="5.4" height="0.7" fill="#222222" opacity="0.85"/>
<rect x="1309.3" y="909.3" width="5.4" height="93.5" fill="none" stroke="#555" stroke-width="0.8"/>
<rect x="1330.3" y="910.3" width="5.4" height="51.2" fill="#EE22EE"/>
<rect x="1330.3" y="961.2" width="5.4" height="6.8" fill="#8E1A8E"/>
<rect x="1330.3" y="967.6" width="5.4" height="35.4" fill="#EE22EE"/>
<rect x="1330.3" y="948" width="5.4" height="1.5" fill="#FFFFFF" opacity="0.85"/>
<rect x="1330.3" y="986.6" width="5.4" height="1.1" fill="#FFFFFF" opacity="0.85"/>
<rect x="1330.3" y="996.8" width="5.4" height="1.5" fill="#FFFFFF" opacity="0.85"/>
<rect x="1330.3" y="968.8" width="5.4" height="1.5" fill="#F0A0F0" opacity="0.85"/>
<rect x="1330.3" y="956.7" width="5.4" height="0.9" fill="#222222" opacity="0.85"/>
<rect x="1330.3" y="990.5" width="5.4" height="1" fill="#F0A0F0" opacity="0.85"/>
<rect x="1330.3" y="940.5" width="5.4" height="1.1" fill="#F0A0F0" opacity="0.85"/>
<rect x="1330.3" y="917.4" width="5.4" height="1" fill="#222222" opacity="0.85"/>
<rect x="1330.3" y="910.3" width="5.4" height="92.5" fill="none" stroke="#555" stroke-width="0.8"/>
<rect x="1341.8" y="907.2" width="5.4" height="11.8" fill="#EE22EE"/>
<rect x="1341.8" y="918.7" width="5.4" height="6" fill="#E01A1A"/>
<rect x="1341.8" y="924.4" width="5.4" height="27.1" fill="#EE22EE"/>
<rect x="1341.8" y="951.2" width="5.4" height="6" fill="#F5EE22"/>
<rect x="1341.8" y="956.9" width="5.4" height="13.7" fill="#22DDEE"/>
<rect x="1341.8" y="970.3" width="5.4" height="20.4" fill="#8E1A8E"/>
<rect x="1341.8" y="990.4" width="5.4" height="12.7" fill="#EE22EE"/>
<rect x="1341.8" y="929.3" width="5.4" height="1.2" fill="#222222" opacity="0.85"/>
<rect x="1341.8" y="943.6" width="5.4" height="0.6" fill="#FFFFFF" opacity="0.85"/>
<rect x="1341.8" y="917.8" width="5.4" height="0.7" fill="#FFFFFF" opacity="0.85"/>
<rect x="1341.8" y="989.4" width="5.4" height="1.5" fill="#222222" opacity="0.85"/>
<rect x="1341.8" y="983" width="5.4" height="1.1" fill="#FFFFFF" opacity="0.85"/>
<rect x="1341.8" y="926.5" width="5.4" height="1" fill="#FFFFFF" opacity="0.85"/>
<rect x="1341.8" y="932.9" width="5.4" height="1.5" fill="#FFFFFF" opacity="0.85"/>
<rect x="1341.8" y="983.4" width="5.4" height="1.3" fill="#FFFFFF" opacity="0.85"/>
<rect x="1341.8" y="907.2" width="5.4" height="95.6" fill="none" stroke="#555" stroke-width="0.8"/>
<rect x="1401.1" y="876.6" width="5.4" height="38.2" fill="#111111"/>
<rect x="1401.1" y="914.5" width="5.4" height="6.6" fill="#1A22DD"/>
<rect x="1401.1" y="920.8" width="5.4" height="9.1" fill="#22DD22"/>
<rect x="1401.1" y="929.6" width="5.4" height="23" fill="#8B0A0A"/>
<rect x="1401.1" y="952.3" width="5.4" height="10.4" fill="#118A11"/>
<rect x="1401.1" y="962.4" width="5.4" height="9.1" fill="#111111"/>
<rect x="1401.1" y="971.2" width="5.4" height="31.8" fill="#1A22DD"/>
<rect x="1401.1" y="883.8" width="5.4" height="1.1" fill="#FFFFFF" opacity="0.85"/>
<rect x="1401.1" y="954.4" width="5.4" height="1" fill="#FFFFFF" opacity="0.85"/>
<rect x="1401.1" y="997.9" width="5.4" height="0.7" fill="#FFFFFF" opacity="0.85"/>
<rect x="1401.1" y="994.1" width="5.4" height="0.8" fill="#222222" opacity="0.85"/>
<rect x="1401.1" y="977.3" width="5.4" height="1.2" fill="#FFFFFF" opacity="0.85"/>
<rect x="1401.1" y="995.4" width="5.4" height="0.6" fill="#FFFFFF" opacity="0.85"/>
<rect x="1401.1" y="932.1" width="5.4" height="0.9" fill="#222222" opacity="0.85"/>
<rect x="1401.1" y="887.6" width="5.4" height="1.2" fill="#FFFFFF" opacity="0.85"/>
<rect x="1401.1" y="876.6" width="5.4" height="126.2" fill="none" stroke="#555" stroke-width="0.8"/>
<rect x="1413.1" y="896.8" width="5.4" height="5.6" fill="#F5EE88"/>
<rect x="1413.1" y="902.1" width="5.4" height="53.3" fill="#111111"/>
<rect x="1413.1" y="955.1" width="5.4" height="5.6" fill="#1A22DD"/>
<rect x="1413.1" y="960.4" width="5.4" height="5.6" fill="#22DD22"/>
<rect x="1413.1" y="965.7" width="5.4" height="21.5" fill="#E01A1A"/>
<rect x="1413.1" y="986.9" width="5.4" height="16.2" fill="#8B0A0A"/>
<rect x="1413.1" y="938.3" width="5.4" height="1.5" fill="#FFFFFF" opacity="0.85"/>
<rect x="1413.1" y="903" width="5.4" height="0.8" fill="#FFFFFF" opacity="0.85"/>
<rect x="1413.1" y="959.5" width="5.4" height="1.5" fill="#FFFFFF" opacity="0.85"/>
<rect x="1413.1" y="989.8" width="5.4" height="1.6" fill="#222222" opacity="0.85"/>
<rect x="1413.1" y="996.4" width="5.4" height="1.5" fill="#FFFFFF" opacity="0.85"/>
<rect x="1413.1" y="972.3" width="5.4" height="1" fill="#FFFFFF" opacity="0.85"/>
<rect x="1413.1" y="983.3" width="5.4" height="0.7" fill="#FFFFFF" opacity="0.85"/>
<rect x="1413.1" y="969.8" width="5.4" height="1" fill="#FFFFFF" opacity="0.85"/>
<rect x="1413.1" y="896.8" width="5.4" height="106" fill="none" stroke="#555" stroke-width="0.8"/>
<rect x="1435.3" y="901.6" width="5.4" height="10.4" fill="#8B0A0A"/>
<rect x="1435.3" y="911.7" width="5.4" height="8.4" fill="#22DD22"/>
<rect x="1435.3" y="919.8" width="5.4" height="42.8" fill="#8B0A0A"/>
<rect x="1435.3" y="962.3" width="5.4" height="40.8" fill="#22DD22"/>
<rect x="1435.3" y="932.9" width="5.4" height="1" fill="#FFFFFF" opacity="0.85"/>
<rect x="1435.3" y="969.3" width="5.4" height="1.6" fill="#FFFFFF" opacity="0.85"/>
<rect x="1435.3" y="974.1" width="5.4" height="1.2" fill="#FFFFFF" opacity="0.85"/>
<rect x="1435.3" y="931" width="5.4" height="1.5" fill="#FFFFFF" opacity="0.85"/>
<rect x="1435.3" y="939" width="5.4" height="0.9" fill="#F0A0F0" opacity="0.85"/>
<rect x="1435.3" y="908.6" width="5.4" height="1" fill="#222222" opacity="0.85"/>
<rect x="1435.3" y="974.9" width="5.4" height="1.1" fill="#F0A0F0" opacity="0.85"/>
<rect x="1435.3" y="970.2" width="5.4" height="1.1" fill="#FFFFFF" opacity="0.85"/>
<rect x="1435.3" y="901.6" width="5.4" height="101.2" fill="none" stroke="#555" stroke-width="0.8"/>
<rect x="1446.8" y="900.3" width="5.4" height="16.7" fill="#22DDEE"/>
<rect x="1446.8" y="916.7" width="5.4" height="40.3" fill="#8B0A0A"/>
<rect x="1446.8" y="956.7" width="5.4" height="46.4" fill="#E01A1A"/>
<rect x="1446.8" y="917.2" width="5.4" height="1.4" fill="#222222" opacity="0.85"/>
<rect x="1446.8" y="953.4" width="5.4" height="1.2" fill="#F0A0F0" opacity="0.85"/>
<rect x="1446.8" y="991.5" width="5.4" height="0.7" fill="#FFFFFF" opacity="0.85"/>
<rect x="1446.8" y="966.2" width="5.4" height="1" fill="#FFFFFF" opacity="0.85"/>
<rect x="1446.8" y="994.5" width="5.4" height="0.6" fill="#FFFFFF" opacity="0.85"/>
<rect x="1446.8" y="951.6" width="5.4" height="1.4" fill="#222222" opacity="0.85"/>
<rect x="1446.8" y="959.2" width="5.4" height="0.8" fill="#FFFFFF" opacity="0.85"/>
<rect x="1446.8" y="979.9" width="5.4" height="0.9" fill="#FFFFFF" opacity="0.85"/>
<rect x="1446.8" y="900.3" width="5.4" height="102.5" fill="none" stroke="#555" stroke-width="0.8"/>
<rect x="1469.1" y="908.6" width="5.4" height="5" fill="#A09A1A"/>
<rect x="1469.1" y="913.3" width="5.4" height="47.4" fill="#118A11"/>
<rect x="1469.1" y="960.4" width="5.4" height="16.3" fill="#1A22DD"/>
<rect x="1469.1" y="976.4" width="5.4" height="7.8" fill="#EE22EE"/>
<rect x="1469.1" y="984" width="5.4" height="19.1" fill="#1A22DD"/>
<rect x="1469.1" y="977.3" width="5.4" height="1.4" fill="#222222" opacity="0.85"/>
<rect x="1469.1" y="947.1" width="5.4" height="1.4" fill="#FFFFFF" opacity="0.85"/>
<rect x="1469.1" y="933.9" width="5.4" height="1.4" fill="#F0A0F0" opacity="0.85"/>
<rect x="1469.1" y="951.5" width="5.4" height="0.8" fill="#222222" opacity="0.85"/>
<rect x="1469.1" y="974.8" width="5.4" height="0.8" fill="#FFFFFF" opacity="0.85"/>
<rect x="1469.1" y="966.5" width="5.4" height="1" fill="#FFFFFF" opacity="0.85"/>
<rect x="1469.1" y="941" width="5.4" height="0.9" fill="#FFFFFF" opacity="0.85"/>
<rect x="1469.1" y="916.1" width="5.4" height="1.1" fill="#F0A0F0" opacity="0.85"/>
<rect x="1469.1" y="908.6" width="5.4" height="94.2" fill="none" stroke="#555" stroke-width="0.8"/>
<rect x="1481.1" y="906.1" width="5.4" height="24.5" fill="#111111"/>
<rect x="1481.1" y="930.3" width="5.4" height="72.8" fill="#118A11"/>
<rect x="1481.1" y="912.7" width="5.4" height="0.6" fill="#222222" opacity="0.85"/>
<rect x="1481.1" y="990.1" width="5.4" height="1.4" fill="#F0A0F0" opacity="0.85"/>
<rect x="1481.1" y="956.6" width="5.4" height="1.4" fill="#F0A0F0" opacity="0.85"/>
<rect x="1481.1" y="944.2" width="5.4" height="0.7" fill="#222222" opacity="0.85"/>
<rect x="1481.1" y="954.5" width="5.4" height="1.1" fill="#FFFFFF" opacity="0.85"/>
<rect x="1481.1" y="962.8" width="5.4" height="0.9" fill="#F0A0F0" opacity="0.85"/>
<rect x="1481.1" y="922.2" width="5.4" height="0.9" fill="#FFFFFF" opacity="0.85"/>
<rect x="1481.1" y="985" width="5.4" height="1.1" fill="#FFFFFF" opacity="0.85"/>
<rect x="1481.1" y="906.1" width="5.4" height="96.7" fill="none" stroke="#555" stroke-width="0.8"/>
<rect x="1503.3" y="901.6" width="5.4" height="61" fill="#1A1A99"/>
<rect x="1503.3" y="962.3" width="5.4" height="10.4" fill="#E01A1A"/>
<rect x="1503.3" y="972.4" width="5.4" height="10.4" fill="#FFFFFF"/>
<rect x="1503.3" y="982.6" width="5.4" height="5.4" fill="#E01A1A"/>
<rect x="1503.3" y="987.6" width="5.4" height="15.5" fill="#F5EE22"/>
<rect x="1503.3" y="915.2" width="5.4" height="0.9" fill="#FFFFFF" opacity="0.85"/>
<rect x="1503.3" y="962.4" width="5.4" height="1.3" fill="#F0A0F0" opacity="0.85"/>
<rect x="1503.3" y="957.9" width="5.4" height="1.5" fill="#F0A0F0" opacity="0.85"/>
<rect x="1503.3" y="923.4" width="5.4" height="1.3" fill="#222222" opacity="0.85"/>
<rect x="1503.3" y="973.5" width="5.4" height="1.5" fill="#222222" opacity="0.85"/>
<rect x="1503.3" y="931.1" width="5.4" height="0.8" fill="#F0A0F0" opacity="0.85"/>
<rect x="1503.3" y="945.5" width="5.4" height="1.6" fill="#F0A0F0" opacity="0.85"/>
<rect x="1503.3" y="905.3" width="5.4" height="1.1" fill="#222222" opacity="0.85"/>
<rect x="1503.3" y="901.6" width="5.4" height="101.2" fill="none" stroke="#555" stroke-width="0.8"/>
<rect x="1515.3" y="870.2" width="5.4" height="13.6" fill="#E01A1A"/>
<rect x="1515.3" y="883.5" width="5.4" height="6.9" fill="#118A11"/>
<rect x="1515.3" y="890.1" width="5.4" height="33.4" fill="#EE22EE"/>
<rect x="1515.3" y="923.2" width="5.4" height="6.9" fill="#E01A1A"/>
<rect x="1515.3" y="929.9" width="5.4" height="26.8" fill="#1A1A99"/>
<rect x="1515.3" y="956.4" width="5.4" height="20.2" fill="#8E1A8E"/>
<rect x="1515.3" y="976.3" width="5.4" height="6.9" fill="#E01A1A"/>
<rect x="1515.3" y="982.9" width="5.4" height="20.2" fill="#F5EE22"/>
<rect x="1515.3" y="916.2" width="5.4" height="1.1" fill="#FFFFFF" opacity="0.85"/>
<rect x="1515.3" y="915.5" width="5.4" height="1.5" fill="#F0A0F0" opacity="0.85"/>
<rect x="1515.3" y="984.6" width="5.4" height="1.5" fill="#222222" opacity="0.85"/>
<rect x="1515.3" y="935.5" width="5.4" height="1.1" fill="#FFFFFF" opacity="0.85"/>
<rect x="1515.3" y="979.3" width="5.4" height="1.2" fill="#F0A0F0" opacity="0.85"/>
<rect x="1515.3" y="930.1" width="5.4" height="0.9" fill="#FFFFFF" opacity="0.85"/>
<rect x="1515.3" y="937.7" width="5.4" height="0.8" fill="#222222" opacity="0.85"/>
<rect x="1515.3" y="895.1" width="5.4" height="0.7" fill="#FFFFFF" opacity="0.85"/>
<rect x="1515.3" y="870.2" width="5.4" height="132.6" fill="none" stroke="#555" stroke-width="0.8"/>
<rect x="1538.3" y="896.8" width="5.4" height="8.8" fill="#FFFFFF"/>
<rect x="1538.3" y="905.3" width="5.4" height="23.6" fill="#111111"/>
<rect x="1538.3" y="928.6" width="5.4" height="16.2" fill="#118A11"/>
<rect x="1538.3" y="944.5" width="5.4" height="26.8" fill="#A09A1A"/>
<rect x="1538.3" y="971" width="5.4" height="13" fill="#FFFFFF"/>
<rect x="1538.3" y="983.7" width="5.4" height="14.1" fill="#8B0A0A"/>
<rect x="1538.3" y="997.5" width="5.4" height="5.6" fill="#A09A1A"/>
<rect x="1538.3" y="918" width="5.4" height="1.5" fill="#FFFFFF" opacity="0.85"/>
<rect x="1538.3" y="962.9" width="5.4" height="0.8" fill="#F0A0F0" opacity="0.85"/>
<rect x="1538.3" y="929.4" width="5.4" height="1.6" fill="#222222" opacity="0.85"/>
<rect x="1538.3" y="908.5" width="5.4" height="1.4" fill="#FFFFFF" opacity="0.85"/>
<rect x="1538.3" y="989.1" width="5.4" height="1.3" fill="#FFFFFF" opacity="0.85"/>
<rect x="1538.3" y="978.5" width="5.4" height="1.5" fill="#FFFFFF" opacity="0.85"/>
<rect x="1538.3" y="995.4" width="5.4" height="0.7" fill="#FFFFFF" opacity="0.85"/>
<rect x="1538.3" y="994.2" width="5.4" height="1.3" fill="#FFFFFF" opacity="0.85"/>
<rect x="1538.3" y="896.8" width="5.4" height="106" fill="none" stroke="#555" stroke-width="0.8"/>
<rect x="1550.1" y="901.6" width="5.4" height="30.7" fill="#1A1A99"/>
<rect x="1550.1" y="932" width="5.4" height="15.5" fill="#E01A1A"/>
<rect x="1550.1" y="947.1" width="5.4" height="3.3" fill="#1A22DD"/>
<rect x="1550.1" y="950.2" width="5.4" height="22.6" fill="#A09A1A"/>
<rect x="1550.1" y="972.4" width="5.4" height="8.4" fill="#1A22DD"/>
<rect x="1550.1" y="980.5" width="5.4" height="22.6" fill="#A09A1A"/>
<rect x="1550.1" y="982.8" width="5.4" height="1.1" fill="#FFFFFF" opacity="0.85"/>
<rect x="1550.1" y="974.1" width="5.4" height="0.6" fill="#FFFFFF" opacity="0.85"/>
<rect x="1550.1" y="933.6" width="5.4" height="0.7" fill="#FFFFFF" opacity="0.85"/>
<rect x="1550.1" y="971.9" width="5.4" height="1.4" fill="#FFFFFF" opacity="0.85"/>
<rect x="1550.1" y="945.5" width="5.4" height="1" fill="#222222" opacity="0.85"/>
<rect x="1550.1" y="911.3" width="5.4" height="0.9" fill="#F0A0F0" opacity="0.85"/>
<rect x="1550.1" y="975.1" width="5.4" height="0.7" fill="#FFFFFF" opacity="0.85"/>
<rect x="1550.1" y="944.5" width="5.4" height="1.1" fill="#F0A0F0" opacity="0.85"/>
<rect x="1550.1" y="901.6" width="5.4" height="101.2" fill="none" stroke="#555" stroke-width="0.8"/>
<rect x="1572.6" y="897.4" width="5.4" height="19.3" fill="#A09A1A"/>
<rect x="1572.6" y="916.4" width="5.4" height="4.5" fill="#8E1A8E"/>
<rect x="1572.6" y="920.6" width="5.4" height="17.2" fill="#A09A1A"/>
<rect x="1572.6" y="937.5" width="5.4" height="7.7" fill="#FFFFFF"/>
<rect x="1572.6" y="944.8" width="5.4" height="10.8" fill="#C0F0C0"/>
<rect x="1572.6" y="955.4" width="5.4" height="16.1" fill="#EE22EE"/>
<rect x="1572.6" y="971.2" width="5.4" height="31.9" fill="#8E1A8E"/>
<rect x="1572.6" y="920.7" width="5.4" height="1" fill="#FFFFFF" opacity="0.85"/>
<rect x="1572.6" y="931.7" width="5.4" height="0.9" fill="#222222" opacity="0.85"/>
<rect x="1572.6" y="968.6" width="5.4" height="0.6" fill="#222222" opacity="0.85"/>
<rect x="1572.6" y="970.2" width="5.4" height="0.6" fill="#F0A0F0" opacity="0.85"/>
<rect x="1572.6" y="948.4" width="5.4" height="0.9" fill="#F0A0F0" opacity="0.85"/>
<rect x="1572.6" y="970.8" width="5.4" height="1.4" fill="#FFFFFF" opacity="0.85"/>
<rect x="1572.6" y="911.8" width="5.4" height="1.1" fill="#FFFFFF" opacity="0.85"/>
<rect x="1572.6" y="971.7" width="5.4" height="1.6" fill="#222222" opacity="0.85"/>
<rect x="1572.6" y="897.4" width="5.4" height="105.4" fill="none" stroke="#555" stroke-width="0.8"/>
<rect x="1584" y="900.3" width="5.4" height="15.7" fill="#1A22DD"/>
<rect x="1584" y="915.7" width="5.4" height="13.6" fill="#EE22EE"/>
<rect x="1584" y="929" width="5.4" height="43.3" fill="#8E1A8E"/>
<rect x="1584" y="972" width="5.4" height="10.6" fill="#22DDEE"/>
<rect x="1584" y="982.3" width="5.4" height="20.8" fill="#8E1A8E"/>
<rect x="1584" y="945" width="5.4" height="1.6" fill="#FFFFFF" opacity="0.85"/>
<rect x="1584" y="929.9" width="5.4" height="1.5" fill="#FFFFFF" opacity="0.85"/>
<rect x="1584" y="931.1" width="5.4" height="1" fill="#222222" opacity="0.85"/>
<rect x="1584" y="942.1" width="5.4" height="1.5" fill="#FFFFFF" opacity="0.85"/>
<rect x="1584" y="947.8" width="5.4" height="1.2" fill="#222222" opacity="0.85"/>
<rect x="1584" y="959.2" width="5.4" height="1.5" fill="#F0A0F0" opacity="0.85"/>
<rect x="1584" y="966.9" width="5.4" height="0.9" fill="#FFFFFF" opacity="0.85"/>
<rect x="1584" y="911.3" width="5.4" height="0.8" fill="#F0A0F0" opacity="0.85"/>
<rect x="1584" y="900.3" width="5.4" height="102.5" fill="none" stroke="#555" stroke-width="0.8"/>
<rect x="1004.3" y="466.3" width="251.5" height="391.3" fill="none" stroke="#1e2a44" stroke-width="1.8"/>
<ellipse cx="1058.1" cy="522.1" rx="36.3" ry="6.5" fill="#11B4EC" stroke="#15203a" stroke-width="1.7"/>
<ellipse cx="1143.7" cy="522.1" rx="49.3" ry="6.5" fill="#11B4EC" stroke="#15203a" stroke-width="1.7"/>
<circle cx="1094.4" cy="522.1" r="7.8" fill="#8DC753" stroke="#15203a" stroke-width="1.7"/>
<ellipse cx="1071.1" cy="558" rx="49.3" ry="6.5" fill="#FBB714" stroke="#15203a" stroke-width="1.7"/>
<ellipse cx="1156.7" cy="558" rx="36.3" ry="6.5" fill="#FBB714" stroke="#15203a" stroke-width="1.7"/>
<circle cx="1120.4" cy="558" r="7.8" fill="#8DC753" stroke="#15203a" stroke-width="1.7"/>
<clipPath id="h6352"><path d="M1021.4,635.2 C1021.4,631.1 1043.4,628.4 1061.4,628.4 L1115,628.4 C1121,628.4 1124,631.8 1124,635.2 C1124,638.6 1121,642 1115,642 L1061.4,642 C1043.4,642 1021.4,639.3 1021.4,635.2 Z"/></clipPath>
<g clip-path="url(#h6352)"><rect x="1019.4" y="626.4" width="91.4" height="17.6" fill="#FBB714"/><rect x="1110.8" y="626.4" width="60" height="17.6" fill="#11B4EC"/></g>
<path d="M1021.4,635.2 C1021.4,631.1 1043.4,628.4 1061.4,628.4 L1115,628.4 C1121,628.4 1124,631.8 1124,635.2 C1124,638.6 1121,642 1115,642 L1061.4,642 C1043.4,642 1021.4,639.3 1021.4,635.2 Z" fill="none" stroke="#15203a" stroke-width="1.5"/>
<line x1="1110.8" y1="628.4" x2="1110.8" y2="642" stroke="#15203a" stroke-width="1.3"/>
<ellipse cx="1177.2" cy="635.2" rx="38.1" ry="6.8" fill="#11B4EC" stroke="#15203a" stroke-width="1.5"/>
<circle cx="1132" cy="635.2" r="7.4" fill="#8DC753" stroke="#15203a" stroke-width="1.5" stroke-dasharray="2.6,1.8"/>
<clipPath id="h7088"><path d="M1021.4,708.8 C1021.4,704.7 1043.4,702 1061.4,702 L1146,702 C1158,702 1159,706.4 1165,708.8 C1159,711.2 1158,715.6 1146,715.6 L1061.4,715.6 C1043.4,715.6 1021.4,712.9 1021.4,708.8 Z"/></clipPath>
<g clip-path="url(#h7088)"><rect x="1019.4" y="700" width="91.1" height="17.6" fill="#FBB714"/><rect x="1110.5" y="700" width="60" height="17.6" fill="#11B4EC"/></g>
<path d="M1021.4,708.8 C1021.4,704.7 1043.4,702 1061.4,702 L1146,702 C1158,702 1159,706.4 1165,708.8 C1159,711.2 1158,715.6 1146,715.6 L1061.4,715.6 C1043.4,715.6 1021.4,712.9 1021.4,708.8 Z" fill="none" stroke="#15203a" stroke-width="1.5"/>
<line x1="1110.5" y1="702" x2="1110.5" y2="715.6" stroke="#15203a" stroke-width="1.3"/>
<ellipse cx="1193.7" cy="708.8" rx="21.6" ry="6.8" fill="#11B4EC" stroke="#15203a" stroke-width="1.5"/>
<circle cx="1171.2" cy="708.8" r="7.8" fill="#E8101A" stroke="#15203a" stroke-width="1.5"/>
<clipPath id="h7875"><path d="M1021.4,787.5 C1021.4,783.4 1043.4,780.7 1061.4,780.7 L1146,780.7 C1158,780.7 1159,785.1 1165,787.5 C1159,789.9 1158,794.3 1146,794.3 L1061.4,794.3 C1043.4,794.3 1021.4,791.6 1021.4,787.5 Z"/></clipPath>
<g clip-path="url(#h7875)"><rect x="1019.4" y="778.7" width="91.1" height="17.6" fill="#FBB714"/><rect x="1110.5" y="778.7" width="60" height="17.6" fill="#11B4EC"/></g>
<path d="M1021.4,787.5 C1021.4,783.4 1043.4,780.7 1061.4,780.7 L1146,780.7 C1158,780.7 1159,785.1 1165,787.5 C1159,789.9 1158,794.3 1146,794.3 L1061.4,794.3 C1043.4,794.3 1021.4,791.6 1021.4,787.5 Z" fill="none" stroke="#15203a" stroke-width="1.5"/>
<line x1="1110.5" y1="780.7" x2="1110.5" y2="794.3" stroke="#15203a" stroke-width="1.3"/>
<ellipse cx="1193.7" cy="787.5" rx="21.6" ry="6.8" fill="#11B4EC" stroke="#15203a" stroke-width="1.5"/>
<circle cx="1171.2" cy="787.5" r="7.8" fill="#2EDD2E" stroke="#15203a" stroke-width="1.5"/>
<line x1="1075.6" y1="584.5" x2="1075.6" y2="605" stroke="#000" stroke-width="5.6"/>
<path d="M1067,601 L1084.2,601 L1075.6,617 Z" fill="#000"/>
<line x1="1075.6" y1="655.8" x2="1075.6" y2="676.5" stroke="#000" stroke-width="5.6"/>
<path d="M1067,672.5 L1084.2,672.5 L1075.6,688.5 Z" fill="#000"/>
<line x1="1109.4" y1="484.6" x2="1103" y2="499" stroke="#888" stroke-width="1.6"/>
<path d="M1098.8,496.5 L1106.5,499.8 L1101.3,504 Z" fill="#888"/>
<line x1="1171.4" y1="743.5" x2="1171.4" y2="727.3" stroke="#888" stroke-width="1.6"/>
<path d="M1167,729.3 L1175.8,729.3 L1171.4,722.3 Z" fill="#888"/>
<line x1="1171.4" y1="823" x2="1171.4" y2="807.6" stroke="#888" stroke-width="1.6"/>
<path d="M1167,809.6 L1175.8,809.6 L1171.4,802.6 Z" fill="#888"/>
<ellipse cx="1518" cy="753.6" rx="12.5" ry="8.6" fill="#22E022"/>
<ellipse cx="1546" cy="760.3" rx="12.5" ry="8.6" fill="#22E022"/>
<ellipse cx="1527.3" cy="776.6" rx="12.5" ry="8.6" fill="#22E022"/>
<path d="M1510.6,769.5 C1500,768 1495,764 1490,759 C1485,754 1480,752 1475,753" fill="none" stroke="#33DD33" stroke-width="1.3"/>
<path d="M1470.5,752.5 L1478.5,748.5 L1478,757 Z" fill="#33DD33"/>
<path d="M1805.1,12.5 L1943.8,12.5 L1943.8,868.6 L1982.8,868.6 L1873.9,1006.1 L1766.2,868.6 L1805.1,868.6 Z" fill="#EBEBEB"/>
<text transform="translate(45.5,116.5) scale(0.94,1.1)" font-size="60" font-weight="bold" fill="#000">a</text>
<clipPath id="bclip"><rect x="940" y="50" width="43" height="90"/></clipPath>
<text x="963" y="116" font-size="60" font-weight="bold" fill="#000" clip-path="url(#bclip)">b</text>
<text x="1451.4" y="61" font-size="22" text-anchor="start" font-weight="normal" fill="#111">Common <tspan font-style="italic">Nicotiana</tspan> progenitor</text>
<text x="1813" y="61" font-size="22" text-anchor="start" font-weight="normal" fill="#111">23~44 MYA</text>
<text x="1342.5" y="224.4" font-size="22" text-anchor="start" font-weight="normal" fill="#111">Speciation</text>
<text x="1821" y="313.7" font-size="22" text-anchor="start" font-weight="normal" fill="#111">6~10 MYA</text>
<text x="1055.3" y="411.4" font-size="22" text-anchor="start" font-weight="normal" font-style="italic" fill="#111">N. sylvestris</text>
<text x="1077" y="437.6" font-size="22" text-anchor="start" font-weight="normal" fill="#111">n=12</text>
<text x="1643.3" y="411.4" font-size="22" text-anchor="start" font-weight="normal" font-style="italic" fill="#111">N. attenuate</text>
<text x="1665" y="437.6" font-size="22" text-anchor="start" font-weight="normal" fill="#111">n=12</text>
<text x="1504.4" y="533.8" font-size="22" text-anchor="start" font-weight="normal" fill="#111">Allotetraploidisation</text>
<text x="1826.3" y="531.7" font-size="22" text-anchor="start" font-weight="normal" fill="#111">5~6 MYA</text>
<text x="1505" y="651.9" font-size="22" text-anchor="middle" font-weight="normal" fill="#111">&#8216;Genomic shock&#8217;</text>
<text x="1416.8" y="677.7" font-size="22" text-anchor="start" font-weight="normal" fill="#111">Genome evolution</text>
<text x="1497.3" y="812.4" font-size="22" text-anchor="start" font-weight="normal" fill="#111">mtDNA</text>
<text x="1850.4" y="905.3" font-size="22" text-anchor="start" font-weight="normal" fill="#111">Now</text>
<text x="1703" y="911" font-size="22" text-anchor="middle" font-weight="normal" fill="#111">Allotetraploid</text>
<text x="1703" y="944.2" font-size="22" text-anchor="middle" font-weight="normal" font-style="italic" fill="#111">N. benthamiana</text>
<text x="1703" y="979.8" font-size="22" text-anchor="middle" font-weight="normal" fill="#111">n=19</text>
<text x="1121.7" y="492" font-size="18" text-anchor="start" font-weight="normal" fill="#111">Gypsy type</text>
<text x="1113.5" y="607" font-size="18" text-anchor="start" font-weight="normal" fill="#111">Fusion</text>
<text x="1112.3" y="681" font-size="18" text-anchor="start" font-weight="normal" fill="#111">Neocentromere</text>
<text x="1066" y="758.6" font-size="20" text-anchor="start" font-weight="normal" fill="#111">&amp;</text>
<text x="1129.8" y="763.9" font-size="18" text-anchor="start" font-weight="normal" fill="#111">Satellite type</text>
<text x="1127.8" y="845.4" font-size="18" text-anchor="start" font-weight="normal" fill="#111">NUMTs type</text>
<g fill="none" stroke="#111" stroke-width="1.5"><circle cx="1142.4" cy="434.9" r="5.2"/><path d="M1142.4,429.7 L1142.4,422.5 M1138.6,426.4 L1142.4,422.3 L1146.2,426.4"/></g>
<g fill="none" stroke="#111" stroke-width="1.5"><circle cx="1730.9" cy="426" r="5.2"/><path d="M1730.9,431.2 L1730.9,439.5 M1726.8,435.6 L1735,435.6"/></g>
<clipPath id="pclip"><rect x="700" y="1010" width="130" height="12.5"/></clipPath>
<text x="717.5" y="1030" font-size="20" font-weight="bold" fill="#111" clip-path="url(#pclip)">1.5% 1.4%</text>
</svg>
</body></html>
